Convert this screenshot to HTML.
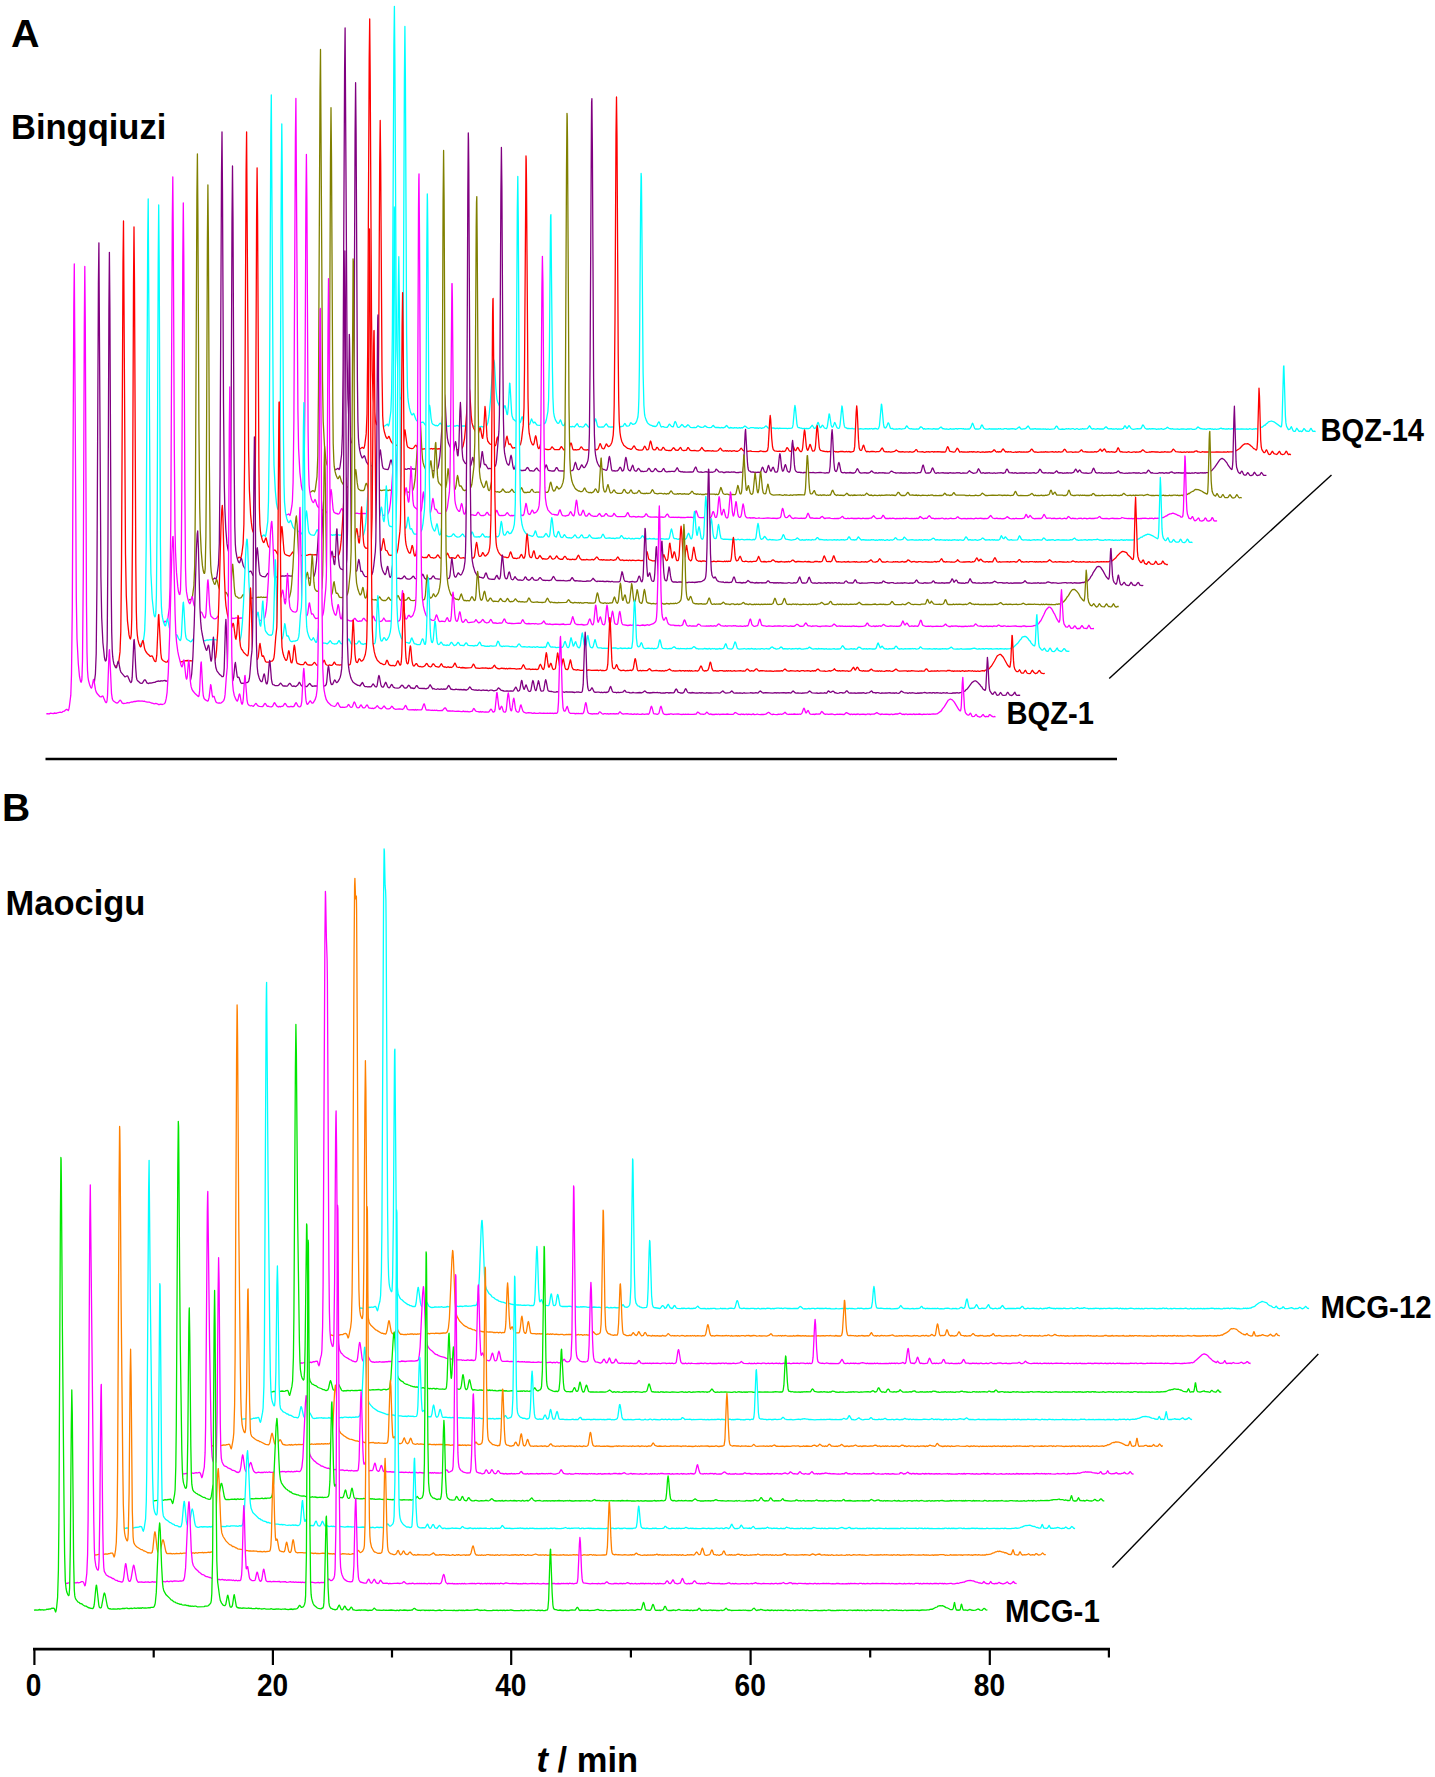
<!DOCTYPE html>
<html><head><meta charset="utf-8"><style>
html,body{margin:0;padding:0;background:#fff;}
body{width:1435px;height:1777px;overflow:hidden;position:relative;}
svg{position:absolute;left:0;top:0;}
text{font-family:"Liberation Sans",sans-serif;font-weight:bold;fill:#000;}
</style></head><body>
<svg width="1435" height="1777" viewBox="0 0 1435 1777">
<g fill="none" stroke-width="1.3" stroke-linejoin="round">
<defs><path id="a13" d="M366.4 428.7 367.4 428.2 368.4 428.7 370.4 428.1 372.4 428.5 373.4 428.1 374.4 428.2 379.4 427.8 380.4 427.0 381.4 427.3 382.4 427.0 383.4 426.2 384.4 426.2 387.1 424.2 387.4 424.2 388.4 425.9 388.9 424.9 389.4 422.4 390.9 411.0 391.6 391.8 392.4 329.3 393.9 45.1 394.4 6.3 394.9 62.9 396.1 294.3 396.9 349.4 397.9 374.7 399.1 390.1 400.1 396.9 400.9 399.3 401.1 399.5 401.4 399.4 401.6 398.9 402.1 395.0 402.6 380.4 403.4 301.8 404.4 78.2 404.9 26.4 405.4 78.7 406.6 333.9 407.4 387.0 407.9 397.4 408.4 402.1 409.4 407.9 410.6 412.3 411.4 414.3 411.9 414.8 412.4 414.8 413.4 413.4 413.9 413.7 415.9 419.5 416.6 420.5 418.4 422.1 420.4 422.9 422.4 422.1 422.9 422.1 423.4 422.4 425.4 425.2 426.1 425.3 426.9 425.0 427.6 422.6 429.1 407.1 429.4 405.6 429.6 405.3 430.1 408.2 431.1 418.5 431.9 422.7 432.6 424.0 435.4 425.6 436.4 425.4 437.4 425.9 437.6 425.8 438.4 425.2 439.9 423.4 440.4 423.2 442.4 425.8 444.4 426.3 445.4 426.1 446.4 426.3 447.4 426.0 448.4 426.3 449.4 425.8 450.4 425.9 451.4 425.7 452.4 426.0 453.4 425.8 455.4 426.1 456.4 425.6 457.4 425.5 458.4 426.0 460.4 426.1 461.4 425.7 462.4 426.2 463.4 425.9 464.4 426.0 465.4 425.9 467.4 426.3 468.4 425.8 470.4 426.3 473.4 426.0 474.4 426.7 475.4 426.8 476.4 426.3 480.4 426.9 481.4 426.4 482.4 426.8 486.4 426.2 487.1 424.9 487.9 422.6 489.1 415.2 490.4 401.3 492.6 368.7 493.4 361.9 493.9 360.1 494.4 362.8 495.9 388.8 496.9 398.8 497.6 401.7 498.9 404.8 501.9 409.8 502.6 410.4 503.1 410.2 504.4 406.4 504.9 405.6 505.4 406.6 506.9 414.1 507.1 414.6 507.4 414.6 507.6 414.0 508.4 406.2 509.6 383.1 509.9 383.4 510.1 386.3 511.6 412.6 512.1 416.1 513.4 419.4 514.4 420.0 515.4 421.0 517.4 421.9 518.4 422.6 519.4 422.4 520.1 422.6 520.6 421.8 521.6 417.8 522.1 416.7 522.6 417.6 524.1 423.1 525.4 424.4 526.4 424.1 527.4 424.8 528.9 424.7 529.9 423.9 531.4 419.1 531.6 418.9 533.4 422.9 533.9 422.8 534.4 422.1 534.9 422.1 536.6 424.6 537.4 425.1 540.4 425.3 541.4 424.6 542.4 425.0 543.4 424.6 544.4 423.4 545.4 422.9 546.4 419.5 547.9 411.5 548.6 400.3 549.4 353.0 550.4 232.7 550.6 216.4 550.9 214.6 552.4 367.9 552.9 397.2 553.6 412.4 554.4 416.8 555.4 419.9 557.1 422.7 558.1 423.4 558.9 423.0 560.4 419.9 560.9 420.6 562.1 424.3 563.1 425.5 563.6 425.5 564.1 425.2 565.9 421.4 566.4 421.8 567.6 425.1 568.6 426.3 571.4 426.8 572.4 426.3 574.4 427.0 577.1 423.7 577.4 423.8 578.6 426.1 579.4 426.9 580.4 426.5 582.4 427.1 583.4 426.9 584.1 426.2 585.4 424.2 585.9 423.9 588.4 427.0 591.4 427.1 592.9 426.5 593.6 425.5 595.1 419.6 595.4 419.0 595.6 418.9 596.1 420.2 597.4 425.6 597.9 426.6 598.6 427.0 600.4 427.1 602.4 426.8 603.4 427.0 604.1 426.4 606.1 423.8 606.4 423.9 608.4 426.9 609.4 426.9 610.4 427.2 611.4 426.9 612.4 427.2 613.4 426.7 614.6 427.0 615.4 426.3 616.6 424.1 617.1 423.8 617.6 424.3 618.6 426.2 619.4 427.0 623.1 426.1 624.6 423.5 625.1 423.7 626.4 425.8 627.1 426.1 628.9 425.8 629.4 425.5 630.4 423.1 630.9 422.7 632.9 424.4 633.9 424.2 635.4 423.4 636.6 421.4 637.9 417.0 638.4 411.8 638.9 397.9 639.4 366.4 640.6 207.6 641.1 173.4 641.4 177.6 641.6 195.3 643.1 372.5 643.9 405.2 644.6 414.5 645.1 416.9 646.1 419.9 647.4 422.6 648.4 423.8 650.4 425.2 651.4 425.3 652.4 426.0 655.4 426.5 656.1 426.2 656.9 425.5 658.1 422.8 658.9 421.8 659.4 422.4 660.6 425.9 661.4 427.0 662.4 426.7 663.4 426.7 664.4 427.2 667.1 427.3 667.9 426.5 669.1 424.4 669.6 424.2 671.4 426.4 672.9 426.9 673.4 426.5 674.6 422.4 675.1 421.5 675.9 422.5 677.4 426.7 677.9 427.2 678.6 427.4 679.6 427.1 681.9 424.5 682.6 425.0 683.9 426.6 684.6 427.0 685.9 426.8 687.9 424.7 688.6 425.2 690.4 427.3 692.4 427.6 694.4 427.4 695.4 427.7 696.4 427.4 697.4 426.1 698.1 425.8 699.9 427.0 701.4 427.4 703.4 427.2 704.6 426.0 705.1 425.9 707.4 427.4 709.4 427.7 711.4 427.4 712.6 425.8 713.1 425.5 713.4 425.5 714.6 427.0 715.4 427.5 718.4 427.5 720.4 427.9 721.4 427.5 723.4 427.9 725.4 426.9 726.4 425.5 727.1 425.9 728.4 427.7 729.4 428.1 730.4 427.5 733.4 428.1 734.4 427.6 735.4 427.8 736.4 427.7 737.4 428.1 738.4 428.0 739.4 427.6 740.4 428.2 741.4 427.7 742.4 428.0 744.9 426.0 746.4 427.0 747.4 428.0 748.4 428.3 749.4 428.3 750.4 427.7 753.4 427.7 754.4 428.0 757.4 427.8 758.4 428.3 759.4 427.9 760.4 427.8 761.4 428.4 762.4 428.0 763.9 427.7 765.6 426.1 766.1 425.9 767.9 427.8 768.6 428.1 773.4 428.0 775.4 428.5 777.4 428.2 778.4 428.6 779.4 428.1 781.4 428.4 783.4 428.3 786.4 428.3 787.4 428.6 788.4 428.3 789.4 428.4 791.6 428.1 792.1 427.9 792.6 427.0 793.1 424.4 794.4 409.1 794.9 405.5 795.4 407.7 796.9 423.8 797.4 426.2 797.9 427.3 798.4 427.6 799.4 427.6 800.4 428.2 801.4 428.1 802.4 428.6 804.4 428.5 805.4 428.7 806.4 428.3 808.4 428.7 809.9 428.1 812.1 425.3 812.6 425.7 814.1 428.3 814.6 428.5 815.6 427.9 816.1 427.3 817.9 422.4 818.4 422.7 819.4 426.1 820.1 427.6 820.4 427.7 820.9 427.4 822.4 425.2 822.9 425.5 824.4 428.0 826.4 428.6 826.9 427.9 827.4 426.2 829.1 413.9 829.4 414.0 829.6 414.8 831.1 424.9 831.9 426.9 832.6 427.2 833.1 426.6 834.6 422.5 835.1 423.0 836.9 427.5 837.6 428.1 838.6 428.4 839.1 428.2 839.6 427.2 840.1 424.6 841.9 406.0 842.1 406.3 842.4 408.0 843.9 423.7 844.4 426.2 844.9 427.3 845.4 427.7 846.4 427.9 847.4 428.6 848.4 428.3 850.4 428.7 852.4 428.4 853.4 428.8 855.4 428.8 856.4 428.4 858.4 429.0 859.4 429.0 860.4 428.6 863.4 429.1 865.4 428.6 868.4 429.0 869.4 428.6 870.4 428.8 871.4 428.5 872.4 429.0 875.4 428.5 876.4 428.6 877.4 429.1 878.1 428.8 878.6 428.4 879.4 425.9 881.4 404.1 881.6 404.3 881.9 406.0 883.4 423.4 883.9 426.3 884.4 427.7 885.4 428.0 886.1 427.4 886.9 426.0 887.9 423.2 888.1 422.8 888.4 422.9 888.9 423.6 890.4 428.2 891.1 428.6 892.4 428.4 893.4 429.1 895.4 429.1 896.4 428.8 897.4 429.1 899.4 428.7 901.4 429.1 902.4 428.8 904.1 428.7 905.1 428.3 906.6 425.9 907.1 426.1 908.4 428.0 908.9 428.3 910.4 428.8 911.4 428.7 912.4 429.0 915.4 429.1 916.4 428.8 918.4 429.1 919.4 428.4 920.4 427.0 920.9 426.7 922.4 427.8 923.4 429.1 924.4 428.7 925.4 429.2 928.4 428.6 929.4 428.9 930.4 428.8 932.4 429.2 933.4 428.7 935.4 429.0 937.4 428.8 938.4 429.1 940.9 427.1 941.4 427.2 942.4 428.5 945.4 429.2 946.4 428.9 948.4 429.3 949.4 429.2 950.4 428.6 951.4 429.1 953.4 428.8 954.4 429.1 955.4 428.7 956.4 428.7 957.4 429.2 958.4 428.7 961.4 428.7 962.4 428.9 963.4 428.6 964.4 429.2 965.4 429.0 966.4 429.2 968.4 428.8 969.4 429.0 970.1 428.4 970.9 427.2 972.4 423.2 972.9 423.6 974.6 428.3 975.4 429.1 976.4 428.9 978.4 429.1 979.9 428.6 980.4 428.1 981.4 425.4 981.9 424.9 982.4 425.3 983.6 428.0 985.6 429.2 988.4 429.2 989.4 428.7 990.4 429.0 996.4 428.8 997.4 429.2 998.4 428.6 999.4 429.0 1000.4 428.6 1001.4 429.2 1002.4 429.1 1003.4 429.2 1004.4 428.7 1006.4 428.7 1007.4 429.2 1008.4 428.9 1009.4 429.0 1012.4 428.6 1014.4 428.8 1015.4 429.3 1017.1 428.6 1019.1 427.0 1019.4 427.0 1020.9 428.9 1021.4 429.2 1022.4 429.2 1023.4 428.8 1024.4 428.9 1025.9 428.3 1028.1 426.0 1028.6 426.5 1029.6 428.3 1030.4 429.1 1032.4 428.9 1033.4 429.0 1035.4 428.7 1036.4 429.2 1037.4 428.8 1038.4 429.0 1040.4 428.8 1041.4 429.1 1043.4 428.8 1044.4 429.1 1045.4 428.9 1046.4 429.3 1048.4 429.0 1049.4 429.3 1054.1 428.9 1054.9 428.3 1056.1 426.3 1056.6 426.1 1057.4 426.7 1058.4 428.8 1060.4 429.3 1062.4 429.0 1064.4 429.3 1066.4 428.7 1067.4 429.0 1068.4 428.6 1070.4 429.2 1071.4 428.8 1072.4 428.7 1073.4 428.7 1074.4 429.3 1075.4 429.3 1076.4 428.7 1077.4 428.7 1078.4 429.3 1079.4 429.3 1080.4 429.0 1081.4 429.2 1082.4 428.6 1083.4 429.0 1085.4 428.9 1087.4 428.6 1089.4 425.8 1089.9 426.2 1091.1 428.2 1092.4 429.2 1093.4 428.7 1095.4 429.2 1096.4 429.2 1097.4 428.7 1099.4 429.0 1101.4 428.8 1103.4 429.0 1104.1 428.5 1105.6 427.0 1106.1 426.8 1107.6 428.3 1108.6 428.8 1111.4 428.7 1112.4 429.1 1113.4 428.9 1114.4 429.2 1116.4 428.7 1117.4 429.3 1118.4 428.8 1121.4 429.2 1122.4 428.6 1123.4 428.5 1124.4 426.2 1124.9 425.8 1125.4 426.1 1126.6 428.1 1127.1 428.3 1128.9 425.7 1129.4 425.9 1131.1 428.5 1132.4 429.2 1133.4 429.3 1137.4 428.7 1139.4 428.9 1140.9 428.5 1141.4 428.1 1142.4 425.5 1142.9 424.9 1143.4 425.3 1145.1 428.3 1146.4 429.0 1147.4 428.8 1148.4 429.2 1149.4 428.7 1150.4 429.0 1152.4 428.7 1155.4 428.9 1156.4 429.3 1158.4 428.8 1159.4 429.2 1161.4 428.7 1162.4 429.2 1163.4 429.3 1166.1 428.3 1167.4 427.2 1168.9 428.3 1171.4 429.0 1172.4 428.7 1173.4 429.1 1176.4 429.2 1177.4 429.0 1179.4 429.3 1181.4 428.8 1182.4 429.0 1183.4 428.8 1186.4 429.3 1187.4 428.9 1189.4 429.0 1190.4 428.8 1191.4 428.9 1192.4 429.3 1194.4 429.3 1196.1 428.9 1197.6 427.2 1198.1 426.9 1200.1 428.5 1203.4 429.2 1204.4 428.8 1206.4 429.3 1207.4 428.9 1210.4 428.7 1211.4 429.1 1212.4 428.9 1213.4 429.3 1215.4 429.0 1216.4 429.3 1217.4 429.1 1218.4 429.2 1221.1 428.1 1222.4 428.9 1223.4 428.6 1225.4 429.2 1226.4 428.8 1227.4 429.1 1228.4 428.7 1230.4 429.1 1232.4 428.7 1233.4 429.2 1235.4 429.3 1237.4 428.8 1239.4 429.1 1241.4 428.8 1245.4 429.2 1246.4 429.0 1248.4 429.3 1249.4 428.7 1252.4 429.3 1253.4 428.9 1254.4 429.1 1255.4 428.6 1257.4 429.0 1259.4 428.3 1261.4 427.2 1262.4 427.0 1264.4 425.2 1265.4 425.0 1266.4 423.6 1267.4 423.1 1268.4 421.9 1271.4 421.0 1273.9 421.8 1280.9 426.9 1281.4 426.6 1281.6 425.7 1282.1 420.2 1283.4 372.8 1283.6 366.2 1283.9 365.9 1285.4 415.9 1285.9 422.9 1286.6 426.4 1288.4 429.6 1288.6 429.6 1289.9 429.2 1290.9 427.2 1291.4 426.7 1293.1 430.7 1294.1 431.4 1294.9 431.4 1295.4 431.0 1296.4 428.7 1296.9 428.3 1299.1 431.4 1299.4 431.5 1300.4 431.0 1301.4 431.6 1302.4 431.1 1303.9 428.5 1304.4 428.8 1306.1 431.0 1308.6 431.3 1309.4 431.0 1310.6 428.5 1311.1 428.3 1312.4 430.8 1312.9 431.3 1313.4 431.4 1314.4 431.1 1315.6 431.6"/></defs><use href="#a13" fill="#fff" stroke="none"/><use href="#a13" fill="none" stroke="#00ffff"/>
<defs><path id="a12" d="M341.7 451.4 343.7 451.8 344.7 451.1 345.7 451.6 346.7 451.5 347.7 450.9 348.7 451.4 349.7 451.4 350.7 451.2 351.7 450.6 352.7 451.1 353.7 450.6 354.7 450.2 355.7 450.2 356.7 449.7 357.7 450.0 358.7 449.8 362.0 447.5 362.5 447.5 363.5 448.3 364.0 448.2 364.7 445.3 366.2 433.9 367.0 414.1 367.7 349.8 369.2 58.8 369.7 19.0 370.2 77.3 371.5 314.7 372.2 371.1 373.2 397.4 374.5 413.5 375.2 419.4 376.2 423.9 376.7 424.7 377.2 423.6 377.7 417.5 378.0 410.0 378.7 346.1 379.7 162.7 380.2 120.5 380.7 163.7 382.0 372.6 382.7 416.2 383.2 424.8 383.7 428.7 384.5 432.3 385.7 436.4 386.5 437.9 387.2 438.5 387.7 438.2 388.7 436.3 389.0 436.3 391.2 441.7 392.7 443.6 393.7 444.2 394.7 445.3 395.7 445.6 396.7 445.1 398.2 445.3 401.5 448.2 402.0 448.3 402.5 447.8 403.2 444.2 404.5 431.5 404.7 430.1 405.0 429.9 407.0 445.1 407.7 447.0 409.7 448.1 411.7 448.7 413.0 448.4 414.0 447.4 415.2 445.5 415.7 445.2 416.2 445.6 418.0 448.4 419.7 449.0 421.7 448.9 422.7 449.2 425.7 448.7 426.7 449.1 427.7 449.1 429.7 448.6 430.7 448.8 431.7 448.5 432.7 449.1 433.7 448.6 434.7 448.6 436.7 448.7 437.7 449.2 438.7 448.6 440.7 448.8 441.7 449.1 442.7 448.8 444.7 449.3 445.7 449.0 448.7 449.1 451.7 449.8 452.7 449.5 453.7 449.8 455.7 449.9 456.7 449.5 457.7 449.8 458.7 449.5 459.7 450.0 461.2 449.0 462.2 448.0 463.0 446.3 464.5 438.6 465.5 428.3 468.0 395.0 468.7 389.0 469.2 387.7 469.7 391.0 471.2 415.6 472.0 422.9 473.2 427.2 475.7 432.1 476.7 432.9 477.7 434.3 478.0 434.2 478.7 432.6 479.7 428.3 480.0 427.7 480.2 427.7 480.7 429.3 482.0 436.8 482.5 438.4 482.7 438.4 483.5 432.9 485.0 406.5 485.5 410.6 487.0 436.9 487.7 441.0 489.7 443.8 493.7 446.0 495.5 445.5 496.0 444.1 497.0 438.2 497.5 437.0 498.0 438.5 499.0 444.3 499.7 446.6 501.7 447.4 504.2 447.5 504.7 446.9 505.2 445.2 506.5 437.4 507.0 436.2 508.7 443.9 509.2 444.5 510.0 443.9 510.5 444.0 512.0 447.2 512.7 448.0 513.7 447.9 514.7 447.6 515.7 447.9 516.7 447.7 519.5 445.7 520.5 444.3 521.5 439.9 523.2 425.4 524.0 408.0 524.5 369.3 526.0 156.0 526.2 159.6 526.5 182.3 528.0 397.7 528.7 427.5 529.2 433.2 530.7 440.7 532.2 444.2 533.0 444.9 533.5 444.8 534.2 442.7 535.2 436.9 535.7 435.8 536.2 437.2 537.5 445.7 538.0 447.6 538.5 448.5 539.0 448.5 539.5 447.9 540.7 443.5 541.2 443.0 543.0 447.6 543.7 448.8 544.5 449.0 545.7 449.1 546.7 449.5 548.7 449.7 550.5 449.2 551.7 447.0 552.2 446.8 554.0 449.1 554.7 449.7 559.0 449.6 559.7 449.1 561.0 446.9 561.5 446.7 563.7 449.8 564.7 449.6 565.7 449.9 566.7 449.8 567.7 450.2 568.5 449.6 569.0 448.7 570.5 443.5 571.0 443.0 571.5 443.9 572.7 448.9 573.2 449.6 573.7 449.9 575.7 449.6 576.7 450.0 577.7 449.6 579.0 449.6 579.7 449.0 580.7 447.2 581.2 446.9 581.7 447.2 583.2 449.3 584.2 449.9 586.7 450.0 587.7 449.6 588.7 450.2 589.5 450.1 590.2 449.4 592.0 446.1 592.5 445.8 594.2 449.0 594.7 449.3 595.7 449.3 596.7 449.8 597.5 449.5 598.2 448.6 600.0 443.6 600.5 444.0 602.0 448.0 602.5 448.5 603.5 448.9 604.0 448.7 604.5 448.0 606.2 444.0 606.7 444.1 607.7 445.9 608.5 446.6 609.5 446.2 610.7 444.8 611.7 442.8 612.2 441.1 613.2 435.1 613.7 426.4 614.2 404.4 615.0 319.1 616.0 134.1 616.5 96.9 617.0 137.5 618.2 353.6 618.7 400.0 619.2 421.2 620.0 432.5 620.7 437.1 621.7 441.2 623.7 445.3 627.7 448.4 629.7 448.8 630.7 449.4 631.0 449.4 632.2 448.5 633.5 446.3 634.0 445.9 634.5 446.2 635.5 448.1 636.5 449.4 638.7 450.0 641.7 450.2 642.5 449.9 643.0 449.4 644.2 446.7 644.7 446.2 645.2 446.7 646.7 449.8 647.2 449.9 648.0 449.7 648.7 448.8 650.0 442.4 650.5 441.0 651.0 441.9 652.5 448.4 653.2 449.5 654.5 449.8 655.2 449.8 655.7 449.5 656.7 447.4 657.0 447.3 657.5 447.5 659.0 449.8 661.0 450.1 661.7 449.6 662.7 447.7 663.2 447.3 663.7 447.7 665.2 449.8 666.7 450.4 667.7 450.4 668.7 450.7 669.7 450.3 670.7 450.6 671.5 450.1 673.0 448.1 673.5 447.7 674.0 448.0 675.5 450.0 677.7 450.4 678.5 449.9 680.0 447.8 680.5 447.5 680.7 447.5 682.0 450.0 683.7 450.7 686.5 450.1 687.7 447.7 688.0 447.6 688.5 447.9 690.0 450.1 691.2 450.6 692.7 450.7 694.7 450.4 696.7 450.8 698.7 450.8 700.2 449.9 701.7 447.5 702.2 447.8 703.2 449.5 704.0 450.3 704.7 450.8 705.7 451.0 707.7 450.7 710.7 450.8 711.7 451.1 712.7 450.6 713.7 451.1 716.7 451.1 718.2 450.5 720.0 448.3 720.5 448.1 722.2 450.5 723.7 451.2 725.7 450.7 726.7 451.2 727.7 450.7 728.7 451.3 729.7 450.7 730.7 450.8 731.7 451.3 732.7 450.9 734.7 450.7 735.7 451.3 736.7 451.2 737.7 451.3 739.5 450.3 740.7 448.5 741.2 448.2 743.0 450.4 744.7 451.2 745.7 450.9 747.7 451.4 750.7 450.9 751.7 451.3 758.7 451.6 760.7 450.9 762.7 451.5 765.7 451.6 767.5 450.6 768.2 446.9 769.7 420.5 770.2 415.5 770.7 419.7 771.7 438.1 772.5 446.5 773.2 449.4 773.7 450.1 774.7 450.9 777.7 451.4 779.7 451.2 781.7 451.6 782.7 451.1 783.7 451.5 784.5 451.4 785.5 450.7 786.7 448.0 787.2 447.6 788.0 448.5 789.2 450.7 790.0 451.3 790.7 451.3 791.5 450.6 792.7 447.1 793.2 446.5 793.7 447.2 794.7 449.9 795.2 450.5 795.7 450.5 796.2 450.0 797.2 447.9 797.7 447.4 798.2 447.9 799.2 450.0 800.2 451.3 800.7 451.7 801.5 451.5 802.2 450.2 802.7 447.5 804.0 433.2 804.5 429.9 805.0 432.0 806.2 445.3 806.7 448.3 807.2 449.8 807.7 450.3 808.2 449.8 810.0 444.3 810.5 445.0 812.2 450.4 812.7 451.1 814.2 450.9 815.0 449.3 815.5 446.0 816.7 429.1 817.2 425.7 817.7 428.9 819.2 446.8 819.7 449.2 820.5 450.4 822.5 451.0 825.7 451.6 826.7 451.3 827.7 451.9 829.7 451.4 830.7 451.9 831.7 451.4 833.7 451.4 834.7 451.4 835.7 452.0 836.7 451.7 837.7 452.0 840.7 451.4 842.7 451.5 844.7 451.9 846.7 451.5 847.7 451.9 848.7 451.5 850.7 452.0 851.7 451.8 853.5 451.3 854.0 450.7 854.7 446.4 856.2 412.0 856.7 405.9 857.2 410.7 858.5 439.9 859.2 448.0 860.0 450.1 861.0 450.4 861.5 450.2 862.0 449.3 863.2 445.4 863.5 445.1 863.7 445.1 865.2 450.0 866.0 451.2 866.7 451.9 867.7 451.4 869.7 451.9 870.7 451.5 872.7 451.5 874.7 451.7 875.7 452.0 876.7 451.6 879.2 451.5 880.2 450.8 881.5 448.6 882.2 448.0 882.7 448.6 884.0 451.3 885.7 451.9 886.7 451.7 887.7 452.0 888.7 451.7 890.7 452.1 893.5 451.6 894.5 451.4 896.2 450.0 898.7 451.8 899.7 451.6 900.7 452.0 902.7 451.7 904.7 452.2 905.7 451.8 907.7 451.8 908.7 452.2 909.7 451.6 911.7 452.2 912.7 452.2 914.5 451.3 915.7 449.9 916.2 449.6 916.7 449.8 917.7 451.6 918.0 451.7 920.7 451.9 922.7 451.6 923.7 452.2 924.7 452.3 926.7 451.6 927.7 451.8 928.7 451.6 929.7 452.1 931.7 451.7 932.7 451.7 933.7 452.1 934.7 451.6 935.7 451.9 937.7 451.6 941.7 452.0 943.7 451.9 944.7 452.1 945.7 451.6 947.2 447.4 947.7 446.7 948.2 447.2 949.5 450.7 950.0 451.4 953.7 452.1 954.7 451.9 955.2 451.5 957.2 448.2 958.0 448.9 959.7 452.1 961.7 451.7 962.7 452.1 963.7 451.9 966.7 452.2 967.7 451.8 968.7 452.2 969.7 451.7 970.7 451.8 971.7 451.6 972.7 452.1 973.7 451.6 975.7 452.2 976.7 452.2 977.7 451.7 980.7 452.3 981.7 452.0 983.7 452.0 984.7 452.3 985.7 451.8 987.7 452.0 989.7 451.6 990.7 452.2 992.7 451.3 994.0 449.8 994.5 449.9 995.7 451.5 996.5 452.0 996.7 452.1 997.7 451.7 998.7 452.2 999.7 451.7 1000.7 452.0 1001.0 451.8 1002.7 449.2 1003.2 449.0 1005.5 451.8 1005.7 452.0 1006.7 451.7 1007.7 452.1 1008.7 451.7 1009.7 452.0 1010.7 451.7 1011.7 452.1 1013.7 452.3 1014.7 452.2 1015.7 451.8 1016.7 452.3 1017.7 451.9 1018.7 452.0 1019.7 451.6 1020.7 452.2 1021.7 451.9 1022.7 452.1 1023.7 451.9 1025.7 452.1 1026.7 451.8 1027.7 452.2 1030.0 451.1 1031.2 449.4 1031.7 449.2 1032.2 449.4 1033.5 451.3 1034.7 452.2 1035.7 451.9 1037.7 452.3 1041.7 451.8 1042.7 452.1 1043.7 451.8 1044.7 452.2 1045.7 451.7 1046.7 452.1 1047.7 451.9 1048.7 452.1 1052.7 451.7 1053.7 452.1 1054.7 452.1 1055.7 451.7 1056.7 452.1 1057.7 452.2 1058.7 451.7 1060.7 452.2 1062.7 451.6 1063.7 450.0 1064.5 449.2 1065.2 449.6 1066.7 451.8 1067.7 452.2 1070.7 451.9 1071.7 451.9 1072.7 452.3 1075.7 451.9 1076.7 452.2 1078.5 452.1 1079.7 451.5 1081.2 449.9 1081.7 450.0 1083.0 451.6 1084.7 451.8 1085.7 451.7 1086.7 452.2 1087.7 451.8 1088.7 452.2 1091.7 451.8 1093.7 452.1 1094.7 451.7 1096.7 452.0 1098.5 451.2 1100.0 449.4 1100.5 449.1 1101.7 451.1 1102.2 451.2 1104.2 448.9 1104.7 449.2 1106.0 451.4 1106.7 452.0 1108.7 451.7 1109.7 452.1 1111.7 451.7 1112.7 452.1 1113.7 452.0 1114.7 452.3 1116.5 451.4 1117.7 448.2 1118.2 447.8 1118.7 448.4 1119.7 450.9 1120.2 451.6 1120.7 451.9 1121.7 451.7 1122.7 452.2 1123.7 452.2 1125.7 452.1 1126.7 452.3 1128.7 451.7 1129.7 452.1 1131.7 452.3 1133.7 451.8 1134.7 451.8 1135.7 452.3 1136.7 451.9 1137.7 452.2 1138.7 452.1 1139.7 451.6 1140.7 451.8 1142.7 449.8 1143.2 450.0 1145.2 451.9 1146.7 452.3 1148.7 452.2 1149.7 451.8 1150.7 452.2 1151.7 451.7 1155.7 452.0 1157.7 451.8 1159.7 452.3 1161.7 452.0 1163.7 452.2 1164.7 451.7 1166.7 452.2 1167.7 451.8 1169.7 452.1 1171.5 451.6 1173.0 449.3 1173.5 449.1 1175.7 451.7 1179.7 452.2 1180.7 451.8 1181.7 452.3 1184.7 452.0 1185.7 452.3 1186.7 451.9 1187.7 451.9 1188.7 452.3 1189.7 451.8 1190.7 452.1 1191.7 451.9 1193.7 452.1 1194.7 451.4 1196.5 450.8 1196.7 450.8 1197.7 451.9 1198.7 451.8 1200.0 452.2 1200.7 452.3 1202.7 451.7 1203.7 452.0 1208.7 451.8 1209.7 452.1 1214.7 452.1 1216.7 451.9 1222.7 452.1 1223.7 451.9 1226.7 452.1 1227.7 451.7 1228.7 452.1 1229.7 451.8 1232.7 451.8 1233.7 451.2 1235.7 451.0 1239.7 448.5 1242.7 445.3 1244.7 443.9 1246.7 443.9 1247.7 443.6 1249.7 444.7 1250.7 445.8 1251.7 446.4 1253.7 448.6 1254.7 448.9 1255.7 449.9 1256.2 450.0 1256.7 449.4 1257.0 448.4 1257.5 441.9 1259.0 388.1 1259.5 396.7 1260.7 440.0 1261.2 446.3 1261.7 448.9 1262.2 450.2 1263.5 452.2 1264.2 452.7 1265.0 452.3 1266.2 450.0 1266.7 449.9 1268.5 454.0 1269.2 454.5 1270.0 454.4 1270.5 454.1 1272.2 451.3 1272.7 451.6 1274.0 453.7 1276.7 454.5 1277.5 453.8 1279.0 451.7 1279.5 451.4 1279.7 451.5 1280.7 453.8 1281.2 454.2 1282.7 454.6 1284.5 454.0 1286.2 451.2 1286.7 451.5 1287.7 453.7 1288.5 454.5 1288.7 454.7 1289.7 454.2 1290.7 454.6 1291.0 454.5"/></defs><use href="#a12" fill="#fff" stroke="none"/><use href="#a12" fill="none" stroke="#ff0000"/>
<defs><path id="a11" d="M317.1 472.6 318.1 472.2 320.1 472.6 323.1 471.9 324.1 472.1 326.1 471.8 327.1 472.2 328.1 471.6 329.1 471.3 330.1 471.5 333.1 470.7 335.1 469.5 336.1 469.5 337.6 468.4 338.1 468.5 339.1 469.5 339.6 468.6 340.1 466.2 341.6 454.5 342.4 434.3 343.1 368.1 344.6 68.9 345.1 28.0 347.1 358.1 347.9 399.0 349.1 424.1 350.6 438.6 351.1 441.4 351.9 442.9 352.4 442.5 352.9 438.9 353.4 425.0 354.1 349.2 355.1 132.7 355.6 82.7 356.1 133.5 357.4 380.2 357.9 421.3 358.4 437.6 358.9 444.2 359.6 449.6 360.6 454.2 361.9 457.5 362.1 457.9 362.6 457.9 363.9 456.1 364.4 455.8 364.9 456.8 366.4 461.8 368.1 464.4 370.1 465.5 371.4 465.9 373.4 465.5 373.9 465.6 375.9 468.1 376.9 469.0 377.1 469.1 377.6 468.7 378.4 466.3 379.9 451.5 380.1 450.0 380.4 449.9 382.4 465.8 383.1 468.1 384.1 468.8 386.1 469.4 388.1 469.5 388.9 467.6 390.6 460.5 391.1 459.9 391.6 461.1 393.1 467.8 393.6 468.8 395.1 470.0 397.1 469.3 400.1 469.4 402.1 469.0 403.1 469.5 405.1 468.8 406.1 469.3 407.1 469.1 408.1 468.6 409.1 468.6 410.1 469.1 412.1 468.7 413.1 469.1 415.1 468.8 416.1 469.3 417.1 468.8 419.1 469.1 420.1 469.7 422.1 469.7 423.1 469.4 424.1 470.1 425.1 469.6 427.1 470.4 428.1 470.1 430.1 470.6 431.1 470.3 433.1 470.8 436.1 470.2 437.1 469.6 437.9 468.0 438.6 465.3 439.9 456.1 440.9 443.6 443.4 402.7 444.1 395.8 444.4 394.9 444.6 394.8 445.1 400.0 446.6 429.6 447.4 438.1 448.4 443.1 450.1 447.0 451.1 448.5 452.4 451.1 453.1 451.7 453.6 451.2 454.1 449.3 455.1 442.6 455.4 441.7 455.6 441.7 456.1 444.0 457.4 454.7 457.9 455.9 458.1 455.3 458.9 445.2 459.9 411.0 460.4 402.5 460.9 411.5 462.1 449.8 462.6 456.5 463.1 459.5 463.6 460.7 465.1 463.2 466.1 463.7 467.4 464.9 468.1 465.3 469.1 465.4 470.1 466.2 470.6 465.8 471.1 464.6 472.4 458.3 472.6 457.5 472.9 457.4 474.4 465.0 475.1 467.2 479.1 468.5 479.4 468.4 479.9 467.8 480.4 466.0 481.9 453.0 482.1 451.7 482.4 451.7 484.1 463.9 484.6 464.6 485.1 464.3 485.6 464.4 488.1 468.8 489.1 468.4 491.1 468.7 492.1 468.0 493.1 467.7 494.1 466.8 494.9 466.4 495.6 465.3 496.1 463.4 496.6 459.7 498.9 431.4 499.4 415.3 499.9 370.2 500.9 192.4 501.4 147.5 501.9 187.8 502.9 366.3 503.4 418.6 504.1 447.6 504.6 453.2 505.9 459.6 507.1 463.6 508.4 465.1 508.9 465.0 509.6 462.7 510.6 456.4 511.1 455.3 511.6 457.2 512.9 466.1 513.4 468.1 513.9 469.1 514.1 469.2 514.6 468.6 516.1 462.9 516.6 462.2 517.1 463.4 518.1 467.7 518.9 469.3 521.1 470.5 522.1 470.4 523.1 470.7 524.1 470.2 525.1 470.4 525.4 470.2 527.1 467.7 527.6 467.5 528.1 467.9 529.4 470.3 530.1 470.9 531.1 470.7 533.1 471.1 534.1 470.9 535.1 469.5 536.6 468.0 537.1 468.3 538.4 470.3 539.1 470.8 540.1 471.1 541.1 470.7 543.1 470.7 543.9 470.2 544.4 469.5 546.1 464.8 546.6 465.5 547.9 469.5 548.4 470.3 548.9 470.5 551.1 470.8 552.1 471.1 553.1 470.8 554.1 471.0 554.9 470.2 556.1 467.9 556.6 467.6 557.1 467.9 558.4 470.3 559.1 470.9 564.6 471.0 565.4 470.5 566.9 467.8 567.6 467.0 568.1 467.5 569.9 470.6 570.4 470.8 571.9 470.6 572.9 470.1 573.4 469.3 574.9 463.4 575.4 462.3 576.1 463.9 577.1 468.1 577.6 469.1 578.1 469.5 578.9 469.6 579.4 469.2 581.6 464.9 582.1 465.1 583.4 467.3 583.9 467.7 584.4 467.6 585.1 466.9 587.1 463.1 587.9 460.6 588.4 457.5 588.9 450.7 589.4 433.9 590.1 361.8 591.4 126.7 591.6 102.2 591.9 98.7 592.4 151.5 593.6 377.8 594.4 434.6 595.1 450.8 595.6 455.2 596.6 460.2 597.6 463.3 598.9 465.7 601.1 468.0 603.1 469.3 604.1 469.5 606.1 470.3 606.6 470.1 607.1 469.4 607.9 465.8 608.9 458.0 609.4 456.4 609.9 458.1 611.4 468.7 611.9 470.2 612.1 470.6 612.6 470.8 614.1 470.6 615.1 471.1 616.1 470.8 617.4 470.8 618.6 469.7 619.6 467.7 620.1 467.2 620.9 468.0 622.1 470.9 622.6 471.0 623.1 470.7 623.6 470.0 624.1 468.1 625.4 458.9 625.9 457.3 626.4 459.2 627.9 468.5 628.6 470.0 630.1 471.0 630.9 469.7 631.9 466.7 632.6 465.2 633.1 465.8 634.1 469.7 634.6 470.5 635.6 471.1 636.4 471.1 637.1 470.3 638.1 468.5 638.6 468.3 641.1 471.6 642.1 471.2 643.1 471.6 646.6 471.1 647.1 470.8 648.4 468.6 648.9 468.3 649.4 468.7 650.9 471.2 651.9 471.7 652.9 471.5 653.6 471.0 655.1 468.6 655.4 468.5 655.9 468.8 657.4 470.9 658.4 471.5 660.1 471.7 661.6 471.3 663.4 468.5 663.9 468.7 665.1 471.1 666.1 471.8 667.1 471.8 669.1 471.4 670.1 471.6 671.1 471.4 673.1 471.4 674.1 471.7 675.6 470.4 677.1 467.7 677.6 468.2 679.1 471.3 680.1 471.4 681.1 472.0 682.1 471.5 683.1 472.1 684.1 471.8 686.1 472.2 691.1 471.9 692.1 472.1 692.9 471.9 693.4 471.5 694.9 468.1 695.6 467.0 696.1 467.5 697.4 471.1 697.9 471.7 699.1 472.1 700.1 472.2 701.1 471.9 702.1 472.3 704.1 472.2 706.1 471.7 707.1 472.1 708.1 471.9 710.1 472.3 711.1 472.0 712.1 472.4 714.9 471.5 716.1 469.1 716.4 469.1 718.9 471.8 720.1 472.2 721.1 471.9 722.1 471.8 723.1 472.5 725.1 472.5 726.1 471.9 727.1 472.2 728.1 472.0 730.1 472.4 731.1 472.0 732.1 472.2 734.1 471.9 736.1 472.6 739.1 472.5 740.1 472.0 741.1 472.3 741.9 472.2 742.4 471.9 742.9 471.1 743.6 466.0 745.1 433.7 745.4 430.3 745.6 429.5 747.4 461.7 747.9 467.2 748.4 469.8 748.9 470.7 749.4 471.1 750.1 471.1 751.1 472.2 753.1 471.9 754.1 472.5 755.1 472.2 756.1 472.5 756.9 472.4 758.1 472.1 760.1 472.3 760.9 471.2 762.1 467.8 762.6 467.3 763.1 467.9 764.4 471.7 765.6 472.4 766.1 472.5 766.9 470.9 768.1 466.1 768.6 465.4 770.1 470.1 770.6 471.0 770.9 471.2 771.4 470.8 772.6 467.6 773.1 467.1 773.6 467.9 775.1 471.9 775.6 472.1 776.9 472.1 777.6 471.1 778.1 468.7 779.4 456.0 779.9 453.6 780.4 456.0 781.6 467.7 782.4 470.8 782.9 471.2 783.6 470.3 784.9 465.5 785.4 464.6 785.9 465.6 787.4 471.1 788.6 472.0 789.4 472.1 790.1 470.8 790.6 467.7 792.1 443.9 792.6 440.5 793.1 445.1 794.4 464.9 795.1 469.8 795.9 471.2 797.1 472.1 798.1 472.4 799.1 472.2 800.1 472.5 801.1 472.4 803.1 473.0 804.1 472.3 812.1 472.7 813.1 472.4 815.1 472.8 820.1 472.4 822.1 472.7 824.1 472.8 825.1 473.1 827.1 472.6 828.1 473.0 828.9 472.7 829.4 471.8 830.1 466.5 831.6 434.3 832.1 429.7 832.6 435.5 833.9 462.5 834.6 469.3 835.1 470.7 835.6 471.3 836.1 471.5 836.6 471.1 837.4 468.9 838.4 463.5 838.9 462.4 839.4 463.7 840.9 471.3 841.6 472.4 843.1 472.9 844.1 472.5 845.1 472.6 846.1 473.1 847.1 472.7 848.1 472.8 850.1 472.5 852.1 473.0 854.1 473.0 855.4 472.2 856.9 469.3 857.4 468.8 857.9 469.3 859.4 472.3 861.1 473.1 865.1 472.6 866.1 473.0 867.1 472.8 868.1 473.1 870.1 472.3 871.4 471.0 871.9 471.1 873.4 472.5 875.1 473.1 876.1 472.6 877.1 473.2 878.1 473.2 879.1 472.7 881.1 472.9 883.1 472.7 884.1 473.0 885.1 472.8 886.1 473.1 888.6 473.2 889.1 473.1 890.9 471.4 891.6 471.1 893.6 472.3 895.1 472.6 896.1 473.2 897.1 472.8 899.1 472.8 900.1 473.2 901.1 472.7 902.1 473.2 903.1 472.9 904.1 473.0 906.1 472.8 907.1 473.1 908.1 473.1 909.1 472.7 910.1 473.1 911.1 472.8 914.1 472.6 915.1 473.2 917.1 473.1 918.1 472.6 920.1 472.7 920.9 472.0 921.6 470.1 922.6 465.8 923.1 465.0 923.6 466.1 924.9 471.1 925.6 472.7 926.4 473.2 928.1 472.9 929.4 473.0 930.4 472.5 931.1 471.4 932.1 468.5 932.6 468.0 933.1 468.7 934.6 472.3 935.1 472.9 936.1 473.3 937.1 472.8 938.1 472.7 939.1 473.1 943.1 472.7 944.1 473.1 945.1 472.9 946.1 473.2 947.1 472.8 948.1 473.3 949.1 472.8 950.1 472.7 952.1 473.2 953.1 473.0 955.1 473.2 957.1 472.7 958.1 472.8 959.1 472.6 961.1 473.3 962.1 473.2 963.1 472.8 965.1 473.2 966.1 473.2 967.1 473.1 969.4 470.8 971.4 472.4 972.1 472.6 973.1 473.3 975.9 472.9 976.6 472.5 977.1 471.9 978.1 469.2 978.6 468.8 980.6 472.4 981.1 473.0 981.6 473.1 982.1 473.2 983.1 472.6 985.1 473.3 986.1 472.8 988.1 473.0 989.1 472.7 990.1 473.2 992.1 473.1 993.1 473.3 994.1 472.7 995.1 473.3 996.1 473.1 997.1 473.2 998.1 472.8 999.1 472.9 1001.1 472.7 1002.1 472.8 1003.1 473.3 1004.1 472.8 1005.1 472.7 1006.1 470.2 1006.9 469.1 1007.4 469.3 1007.6 469.7 1009.1 472.6 1011.1 472.9 1012.1 472.7 1013.1 473.2 1014.1 473.2 1015.1 472.7 1016.1 472.8 1017.1 473.3 1020.1 472.8 1021.1 473.0 1023.1 472.9 1024.1 473.3 1025.1 472.8 1026.1 472.7 1028.1 473.2 1030.1 472.9 1031.1 473.2 1032.1 472.9 1034.1 472.7 1035.1 473.2 1036.1 473.3 1038.1 472.2 1039.9 469.2 1040.6 469.7 1042.1 472.4 1044.1 473.1 1045.1 472.7 1048.1 473.1 1049.1 472.7 1050.1 473.0 1052.1 472.8 1053.1 473.3 1054.9 472.5 1056.1 471.2 1056.6 470.9 1057.1 471.2 1058.1 472.7 1058.9 473.0 1060.1 472.7 1062.1 472.8 1063.1 473.3 1064.1 473.0 1066.1 473.2 1067.1 472.7 1068.1 473.2 1069.1 472.8 1070.1 472.8 1071.1 473.2 1073.6 472.3 1075.6 469.1 1076.1 469.5 1077.6 472.1 1078.1 472.0 1079.1 470.4 1079.6 470.0 1080.1 470.3 1081.1 471.9 1081.9 472.6 1084.1 473.1 1086.1 473.0 1088.1 473.3 1091.1 472.9 1091.9 471.8 1093.1 468.7 1093.6 468.2 1094.1 468.9 1095.6 472.4 1097.1 473.1 1099.1 472.7 1101.1 473.2 1102.1 472.7 1103.1 473.3 1106.1 472.9 1108.1 473.1 1109.1 472.7 1110.1 473.3 1111.1 472.8 1112.1 473.2 1113.1 473.1 1115.1 472.6 1116.1 472.7 1118.1 470.9 1118.6 471.1 1120.1 472.8 1121.1 472.7 1123.1 473.2 1125.1 473.3 1126.1 473.0 1127.1 473.3 1129.1 472.8 1131.1 473.2 1134.1 472.7 1135.1 473.0 1137.1 473.0 1138.1 473.2 1139.1 472.7 1140.1 473.3 1142.1 473.1 1144.1 472.7 1145.4 473.2 1146.6 472.7 1148.1 470.4 1148.6 470.2 1151.1 473.1 1152.1 472.7 1153.1 473.2 1158.1 473.3 1159.1 472.7 1161.1 473.0 1162.1 472.7 1163.1 472.8 1164.1 473.3 1166.1 472.7 1167.1 473.2 1168.1 472.9 1169.1 473.2 1170.1 472.3 1171.6 471.9 1172.1 472.0 1173.1 472.8 1174.1 472.8 1175.1 473.3 1176.1 472.7 1177.1 472.8 1178.1 472.7 1181.1 473.0 1182.1 472.8 1183.1 473.1 1184.1 472.7 1185.1 473.0 1187.1 472.9 1188.1 473.3 1189.1 472.9 1190.1 473.3 1192.1 472.9 1193.1 473.2 1194.1 473.1 1195.1 472.7 1196.1 472.7 1197.1 473.3 1198.1 472.9 1199.1 473.3 1200.1 472.7 1201.1 473.0 1202.1 472.6 1203.1 473.2 1204.1 472.6 1205.1 473.2 1206.1 472.7 1208.1 472.7 1208.9 472.4 1212.1 470.2 1214.6 467.3 1219.9 459.7 1220.9 458.9 1222.1 458.4 1224.4 459.8 1227.1 463.2 1228.1 465.2 1230.6 468.6 1231.6 469.5 1231.9 469.4 1232.1 469.0 1232.6 465.1 1232.9 460.2 1233.9 418.4 1234.4 406.2 1236.1 461.9 1236.6 467.3 1237.9 471.3 1238.9 472.8 1239.9 473.6 1240.4 473.3 1241.4 471.3 1241.9 471.1 1242.4 471.7 1243.6 474.4 1244.4 475.1 1245.6 475.1 1246.1 474.9 1247.6 472.6 1248.1 472.9 1249.9 475.3 1251.1 475.7 1252.9 474.9 1254.1 472.6 1254.6 472.3 1256.4 475.0 1257.1 475.6 1259.9 474.9 1261.1 472.8 1261.6 472.5 1263.4 475.1 1263.9 475.3 1266.4 475.3"/></defs><use href="#a11" fill="#fff" stroke="none"/><use href="#a11" fill="none" stroke="#800080"/>
<defs><path id="a10" d="M292.5 494.6 293.5 495.0 294.5 494.7 298.5 494.9 301.5 494.1 302.5 494.2 305.5 493.5 307.2 493.4 308.5 492.7 309.5 492.7 312.8 490.6 313.2 490.7 314.5 491.8 315.0 490.8 315.5 488.2 317.0 476.6 317.8 456.1 318.5 390.1 320.0 90.7 320.5 49.5 322.5 380.3 323.2 421.2 324.5 446.3 325.8 459.2 326.8 464.3 327.5 465.6 328.0 463.8 328.2 461.2 328.8 447.3 329.5 372.4 330.5 157.4 331.0 107.7 331.5 157.9 332.8 402.9 333.2 443.5 333.8 459.7 334.2 466.2 335.0 471.2 336.0 475.1 337.2 477.8 337.8 478.5 338.2 478.6 339.5 476.0 339.8 476.0 340.2 477.1 341.5 481.7 343.5 484.8 345.5 486.5 346.5 487.0 347.5 486.8 349.5 487.0 351.5 490.0 352.0 490.3 352.5 490.4 353.0 490.1 353.8 487.6 355.2 471.5 355.8 469.5 356.2 472.4 357.2 482.9 358.0 487.7 358.5 489.1 360.5 490.6 361.5 490.4 363.2 490.7 364.0 490.1 364.5 489.1 365.5 484.9 366.2 483.3 366.8 483.7 367.0 484.3 368.2 488.6 369.0 490.4 369.5 491.1 370.5 491.4 371.5 490.8 372.5 490.9 373.5 491.3 377.5 490.5 380.5 490.2 381.5 490.6 383.5 490.1 386.5 489.9 387.5 490.5 388.5 490.5 389.5 490.0 391.5 490.3 393.5 490.9 394.5 490.6 395.5 491.0 396.5 490.7 398.5 491.4 399.5 490.9 400.5 491.5 402.5 491.5 403.5 491.8 404.5 491.5 405.5 491.9 408.5 492.1 409.5 492.1 410.5 491.7 411.5 491.8 412.0 491.5 413.0 489.9 413.8 487.6 415.0 479.7 416.2 464.4 418.5 428.1 419.2 420.6 419.8 418.5 420.0 418.7 420.5 424.4 421.8 449.1 422.5 458.8 423.0 462.2 424.0 465.9 426.5 471.2 428.2 473.3 428.5 473.3 428.8 472.9 429.2 470.8 430.5 461.6 430.8 460.8 431.0 461.0 432.8 476.2 433.2 477.8 433.5 477.4 434.2 470.2 435.2 446.7 435.5 443.1 435.8 442.5 437.5 475.9 438.2 481.4 439.2 483.4 440.5 484.6 441.5 486.0 442.5 486.1 443.5 487.1 444.5 487.7 445.2 487.8 445.8 487.4 446.5 484.1 448.0 468.7 448.2 468.9 448.5 470.4 449.8 484.9 450.2 487.5 450.8 488.4 454.5 489.7 455.2 489.0 456.0 486.0 457.0 477.8 457.5 475.5 458.0 476.9 459.0 483.9 459.5 485.9 460.0 486.2 460.5 485.8 461.0 485.9 463.2 489.9 464.5 490.6 466.5 489.9 467.5 489.9 470.0 488.3 471.0 487.0 471.8 484.5 472.2 481.6 474.0 466.0 474.8 442.6 475.2 393.9 476.2 227.8 476.5 202.6 476.8 196.6 477.2 242.6 478.2 405.2 478.8 448.7 479.5 471.8 480.2 478.1 481.2 482.3 482.8 486.2 483.5 487.5 483.8 487.5 484.2 487.2 484.8 486.2 486.0 481.4 486.2 481.1 486.5 481.2 488.2 489.4 488.8 490.5 489.2 490.7 490.0 489.5 491.5 482.1 491.8 481.4 492.0 481.5 493.5 488.4 494.5 491.0 496.5 492.0 497.5 491.7 499.5 492.4 500.5 491.6 501.5 491.2 502.5 489.1 502.8 489.0 504.8 491.6 505.8 492.3 506.5 492.3 507.5 492.0 508.5 492.3 510.0 491.7 511.8 489.3 512.2 489.6 513.5 491.7 514.2 492.4 518.8 492.4 519.8 491.5 521.0 488.3 521.5 487.7 522.0 488.3 523.2 491.4 523.8 492.1 524.5 492.6 525.5 492.3 526.5 492.6 527.5 492.1 529.5 492.4 530.2 491.8 531.5 489.5 532.0 489.3 532.5 489.8 533.5 491.7 534.0 492.0 535.5 492.5 536.5 492.1 538.5 492.1 539.5 492.5 541.2 491.1 542.5 488.2 543.0 487.9 543.5 488.6 544.8 491.4 545.5 492.4 547.5 492.3 548.2 491.5 548.8 490.3 550.2 483.0 550.8 482.1 551.2 483.4 552.5 489.0 553.5 491.0 554.2 490.9 554.8 490.6 556.8 486.4 557.2 486.7 558.5 488.8 559.0 489.0 560.0 488.4 561.5 486.6 563.0 482.4 563.8 477.8 564.2 470.0 564.8 450.6 565.5 370.2 566.5 170.1 567.0 113.3 567.2 116.1 567.5 139.6 569.0 406.0 569.8 458.1 570.5 472.8 571.8 480.8 573.0 484.4 575.2 488.5 575.8 489.1 578.5 491.0 579.5 491.0 580.5 491.7 582.0 491.6 583.0 490.8 584.2 488.4 584.8 488.0 586.5 491.5 588.5 492.5 589.5 492.7 590.5 492.3 591.5 492.9 593.0 492.2 594.0 491.2 595.0 489.2 595.5 488.9 596.0 489.3 597.5 492.3 598.0 492.5 598.2 492.4 598.8 491.2 599.2 487.8 600.8 461.2 601.0 458.5 601.2 458.0 603.2 487.0 604.0 490.8 604.5 491.8 605.0 492.0 605.8 491.6 606.2 490.6 607.8 484.6 608.0 484.6 608.2 485.1 610.0 492.0 610.5 492.8 611.0 493.0 612.2 492.5 613.5 490.3 614.0 489.9 614.5 490.3 615.5 492.3 617.5 493.4 621.5 493.3 622.5 492.5 623.5 490.1 624.0 489.4 624.2 489.4 624.8 489.9 626.0 492.2 627.5 493.3 629.2 492.7 630.5 490.2 631.0 490.0 631.5 490.5 632.5 492.8 633.2 493.2 634.5 493.5 635.5 493.2 636.8 493.1 637.5 492.5 638.5 490.7 639.0 490.4 639.5 490.8 640.8 493.0 642.5 493.3 643.5 493.7 644.5 493.3 645.5 493.7 646.5 493.2 647.5 493.5 650.2 493.1 651.0 492.2 652.0 490.1 652.5 489.7 653.0 490.3 654.5 493.2 657.5 493.9 659.5 493.3 661.5 493.4 663.5 494.0 664.5 493.4 666.5 494.1 667.5 493.5 668.5 493.9 669.2 493.3 670.5 491.3 671.0 490.9 671.5 491.2 673.0 493.5 674.5 494.2 676.5 494.2 677.5 493.6 678.5 494.1 679.5 493.6 680.5 493.6 681.5 494.2 682.5 493.9 683.5 494.0 684.5 493.6 685.5 494.1 687.5 494.0 688.5 494.4 689.5 493.5 690.5 493.2 691.2 491.9 692.0 491.2 692.5 491.5 693.8 493.5 695.5 493.9 696.5 494.4 697.5 493.9 699.5 494.4 700.5 494.0 701.5 494.5 704.5 494.5 705.5 494.0 706.5 494.2 707.5 493.9 708.5 494.5 709.5 494.2 714.5 494.1 715.5 494.6 716.5 494.2 717.5 494.7 718.5 494.3 719.0 493.4 720.8 487.5 721.2 488.0 722.8 492.7 723.2 493.5 724.0 494.1 725.5 494.4 726.5 494.1 727.5 494.1 729.5 494.8 731.5 494.4 734.8 494.6 735.5 494.3 736.0 493.3 737.8 485.5 738.0 485.6 738.2 486.2 739.8 493.1 740.2 493.8 740.8 494.0 741.2 493.3 741.5 492.4 742.0 488.1 743.8 455.0 744.0 455.2 744.2 458.0 745.5 481.8 746.2 489.5 746.5 490.4 746.8 490.3 748.0 486.1 748.2 485.7 748.5 485.7 750.2 492.8 750.8 493.8 751.5 494.3 752.2 494.1 752.8 493.4 753.2 491.5 754.8 474.8 755.0 473.2 755.2 472.9 757.0 489.7 757.5 492.2 758.0 492.7 758.2 492.3 759.0 488.4 760.2 473.7 760.5 472.0 760.8 471.7 762.5 489.2 763.2 492.7 764.0 493.7 765.2 493.9 765.8 493.3 767.8 484.1 768.0 484.1 768.2 484.9 769.8 492.5 770.2 493.5 771.8 494.7 773.5 495.1 776.5 494.8 778.5 494.9 779.5 494.6 782.5 495.3 783.5 495.3 784.5 494.7 785.5 495.2 786.5 494.9 787.5 495.2 789.5 495.3 790.5 494.8 792.5 495.4 793.5 494.9 794.5 494.8 796.5 495.0 798.5 494.7 803.5 494.8 804.0 495.0 804.5 494.8 805.0 493.0 805.5 488.5 807.0 458.2 807.2 455.6 807.5 455.6 808.0 461.8 809.0 482.5 809.5 488.9 810.0 492.2 810.5 493.7 811.0 493.9 812.0 493.8 812.5 493.4 813.8 491.0 814.2 490.6 814.5 490.7 815.5 493.4 816.2 494.7 816.5 494.9 817.5 494.9 818.5 495.3 820.5 494.9 821.5 495.5 822.5 495.0 824.5 494.9 826.5 495.5 827.5 495.0 828.5 495.4 829.5 495.0 830.5 495.0 832.2 490.6 832.8 490.2 834.5 494.1 836.5 495.5 837.5 494.9 839.5 495.4 840.5 495.1 843.5 495.5 844.5 495.4 846.8 493.2 847.5 493.6 848.5 495.0 850.5 495.5 851.5 495.0 852.5 495.5 854.5 495.0 856.5 495.4 857.5 495.1 859.5 495.2 860.5 495.0 861.5 495.5 862.5 495.0 863.5 495.4 865.2 494.8 866.5 493.2 866.8 493.2 869.5 495.4 871.5 495.0 872.5 495.6 873.5 495.6 874.5 495.1 877.5 495.6 879.5 495.1 880.5 495.6 881.5 495.1 883.5 495.4 886.5 495.0 888.5 495.2 889.5 495.0 890.5 495.4 891.5 495.0 895.5 495.5 896.5 494.8 897.5 493.0 898.2 492.3 899.0 492.7 900.2 494.6 901.5 495.5 903.5 495.3 904.5 495.5 905.2 495.3 906.0 494.7 907.5 492.6 908.0 492.4 908.5 492.9 909.5 494.8 910.0 495.1 911.5 495.2 912.5 495.0 914.5 495.3 916.5 495.0 917.5 495.6 918.5 495.1 920.5 495.6 921.5 495.5 922.5 495.1 924.5 495.4 925.5 495.3 927.5 495.7 928.5 495.2 929.5 495.5 930.5 495.1 932.5 495.0 933.5 495.6 934.5 495.6 935.5 495.4 937.5 495.7 938.5 495.7 939.5 495.3 942.2 495.5 943.2 495.0 944.5 493.3 944.8 493.2 945.2 493.5 946.5 495.0 947.2 495.2 948.5 495.0 949.5 495.5 952.0 495.0 953.5 492.8 954.0 492.6 955.5 494.8 956.2 495.2 963.5 495.1 964.5 495.1 965.5 495.5 968.5 495.6 969.5 495.2 970.5 495.6 974.5 495.7 975.5 495.2 977.5 495.7 978.5 495.7 980.5 495.2 982.0 493.4 982.5 493.2 985.5 495.6 986.5 495.4 987.5 495.7 988.5 495.3 989.5 495.4 992.5 495.1 997.5 495.4 998.5 495.0 1000.5 495.1 1002.5 495.5 1004.5 495.2 1006.5 495.5 1007.5 495.1 1010.5 495.7 1011.5 495.3 1012.8 495.3 1013.2 495.1 1013.8 494.4 1015.0 491.7 1015.5 491.4 1016.0 492.0 1017.2 494.8 1018.2 495.6 1019.5 495.6 1020.5 495.3 1024.5 495.7 1026.5 495.6 1027.5 495.7 1030.0 494.8 1031.8 493.4 1032.2 493.6 1033.8 495.3 1034.5 495.6 1035.5 495.1 1036.5 495.7 1038.5 495.4 1039.5 495.6 1041.5 495.1 1042.5 495.6 1043.5 495.3 1044.5 495.6 1045.5 495.2 1046.5 495.4 1048.8 494.7 1049.5 493.8 1050.5 490.6 1051.0 490.2 1051.5 490.9 1052.5 494.1 1052.8 494.3 1053.2 494.1 1054.5 492.3 1055.0 492.2 1056.8 495.1 1061.5 495.1 1062.5 495.2 1063.5 495.7 1064.5 495.3 1065.5 495.6 1067.0 494.6 1067.5 493.9 1068.5 490.6 1069.0 490.2 1069.5 491.1 1070.5 494.1 1071.0 494.9 1073.5 495.7 1074.5 495.3 1075.5 495.5 1076.5 495.2 1078.5 495.1 1079.5 495.6 1080.5 495.0 1081.5 495.5 1082.5 495.1 1083.5 495.3 1084.5 495.1 1085.5 495.5 1088.5 495.3 1089.5 495.5 1090.5 495.0 1091.5 495.3 1092.5 493.9 1093.2 493.5 1093.8 493.7 1095.5 495.5 1096.5 495.3 1097.5 495.6 1098.5 495.4 1100.5 495.7 1102.5 495.1 1103.5 495.7 1104.5 495.7 1105.5 495.3 1108.5 495.4 1110.5 495.2 1111.5 495.7 1112.5 495.7 1113.5 495.1 1114.5 495.3 1115.5 495.1 1117.5 495.6 1118.5 495.4 1119.5 495.7 1120.5 495.1 1121.5 495.4 1122.0 495.1 1123.5 493.3 1123.8 493.3 1125.8 495.0 1127.5 495.6 1130.5 495.1 1131.5 495.6 1133.5 495.1 1134.5 495.7 1135.5 495.2 1138.5 495.4 1139.5 495.1 1142.5 495.2 1143.5 495.6 1147.5 494.4 1149.2 495.1 1151.5 495.5 1153.5 495.3 1154.5 495.6 1155.5 495.3 1157.5 495.3 1158.5 495.6 1159.5 495.1 1160.5 495.1 1161.5 495.7 1163.5 495.1 1164.5 495.6 1165.5 495.4 1166.5 495.7 1168.5 495.6 1169.5 495.2 1170.5 495.6 1171.5 495.3 1172.5 495.5 1173.5 495.1 1174.5 495.2 1175.5 495.1 1176.5 495.5 1177.5 495.1 1178.5 495.6 1179.5 495.4 1180.5 495.5 1181.5 495.2 1182.5 495.6 1183.5 494.9 1184.5 495.3 1186.5 494.2 1187.5 494.5 1188.5 493.5 1189.5 493.5 1190.5 492.4 1191.5 492.0 1192.5 491.3 1193.5 491.1 1194.5 490.0 1195.5 489.4 1198.2 489.7 1199.5 490.1 1202.5 491.5 1203.5 492.4 1207.0 494.1 1207.5 493.1 1207.8 491.3 1208.2 482.3 1209.2 440.1 1209.5 432.8 1209.8 431.3 1211.2 481.2 1211.8 488.7 1212.2 491.6 1213.0 493.6 1214.0 495.2 1215.2 496.1 1215.8 495.8 1216.8 493.7 1217.2 493.6 1219.0 496.8 1220.0 497.4 1221.2 497.2 1222.5 494.8 1223.0 494.5 1224.8 497.5 1227.5 497.7 1228.2 497.2 1229.5 495.1 1230.0 494.7 1232.0 497.5 1232.5 497.9 1233.5 498.0 1234.8 497.6 1235.2 497.2 1236.8 494.6 1237.2 495.0 1238.8 497.5 1239.5 497.8 1240.5 497.5 1241.8 497.9"/></defs><use href="#a10" fill="#fff" stroke="none"/><use href="#a10" fill="none" stroke="#808000"/>
<defs><path id="a9" d="M267.9 518.1 269.9 518.1 270.9 517.7 271.9 518.0 273.9 517.7 274.9 518.0 275.9 517.3 276.9 517.5 277.9 517.1 279.9 517.5 281.9 516.8 282.9 516.9 283.9 516.2 284.9 516.0 285.9 515.5 286.9 514.6 287.9 514.5 288.6 513.9 288.9 514.0 289.9 515.5 290.6 513.1 291.9 505.7 292.4 501.0 293.1 481.9 293.9 419.7 295.4 137.0 295.9 98.4 297.9 410.1 298.6 448.8 299.9 472.6 301.4 486.1 302.1 489.4 302.6 490.4 302.9 490.5 303.4 488.8 303.6 486.4 304.1 473.4 304.9 403.0 305.9 201.4 306.4 154.5 306.9 201.5 308.1 431.5 308.6 469.7 309.1 484.7 309.6 490.5 310.4 495.2 311.4 499.3 312.4 501.6 313.1 502.4 313.6 502.5 314.9 499.4 315.1 499.4 315.6 500.5 316.9 505.1 317.9 506.9 318.9 507.5 319.9 509.0 320.6 509.3 322.9 510.1 324.4 509.7 324.9 509.9 326.1 511.8 327.6 513.2 328.1 513.3 328.6 512.6 329.1 510.3 330.6 491.8 330.9 490.0 331.1 489.5 331.6 492.9 333.1 509.5 333.9 512.1 335.9 513.5 336.9 513.4 337.9 514.1 338.9 513.9 339.6 513.0 341.1 509.4 341.6 508.7 342.1 508.8 342.4 509.2 343.6 512.2 344.9 514.2 345.9 514.0 346.9 514.5 348.9 513.8 349.9 514.2 350.9 514.2 351.9 513.6 352.9 514.1 354.9 513.4 356.9 513.2 358.9 513.7 364.9 513.3 365.9 513.6 366.9 513.4 367.9 513.5 368.9 514.0 369.9 513.7 370.9 514.0 371.9 513.8 377.9 514.4 378.9 515.0 381.9 514.7 382.9 515.2 383.9 515.3 387.1 514.5 387.9 514.0 388.6 512.5 389.4 509.8 390.4 503.0 391.4 491.7 393.9 453.8 394.6 447.3 395.1 445.7 395.6 448.8 397.1 476.0 397.9 484.6 398.4 487.5 399.6 491.3 402.9 497.1 403.6 497.6 404.1 497.1 404.6 495.3 405.6 489.1 406.1 487.6 406.6 489.1 408.1 501.0 408.6 502.2 408.9 501.7 409.4 496.8 410.9 466.5 411.1 467.0 411.4 470.3 412.9 500.2 413.6 505.4 414.4 507.0 417.9 510.1 420.9 511.2 421.4 510.0 421.9 506.8 422.9 494.7 423.4 492.0 423.9 495.0 425.1 508.7 425.6 510.8 426.1 511.6 428.9 513.1 430.1 512.9 430.6 512.1 431.4 508.6 432.4 500.3 432.9 498.5 433.4 500.2 434.4 507.2 434.9 509.0 435.4 509.5 436.4 509.5 437.9 512.6 438.4 513.2 441.9 513.7 444.9 512.5 446.4 510.9 447.4 507.3 449.4 492.2 449.9 482.4 450.6 429.6 451.9 283.6 452.1 283.7 452.4 299.4 453.4 427.8 454.1 483.8 454.9 500.0 455.4 503.6 456.4 507.3 457.1 509.0 458.1 510.5 459.1 511.4 459.6 511.3 460.1 510.0 461.1 504.7 461.6 503.5 462.1 504.6 463.6 512.8 464.1 513.9 464.6 514.1 465.4 512.6 466.6 506.2 467.1 504.9 467.6 505.9 468.9 512.4 469.4 513.6 470.9 514.8 472.9 514.8 473.9 515.4 475.9 515.3 476.6 514.4 477.6 512.6 478.1 512.2 478.6 512.5 480.1 515.0 480.9 515.6 483.9 515.5 485.4 514.7 486.6 512.7 487.1 512.3 487.6 512.7 488.9 514.9 490.9 515.3 491.9 515.8 492.9 515.7 494.4 515.3 494.9 514.9 496.1 511.2 496.6 510.3 496.9 510.3 498.6 514.7 499.6 515.5 500.9 515.7 501.9 515.4 502.9 515.7 505.1 515.1 507.1 512.6 507.6 512.8 509.1 515.0 510.1 515.6 510.9 515.9 511.9 515.2 512.9 515.9 513.9 515.3 515.6 515.4 516.4 514.9 517.6 512.3 518.1 511.7 518.6 512.1 520.1 514.9 522.9 515.5 523.6 514.8 524.1 513.4 525.9 503.4 526.1 503.5 526.4 504.4 527.9 512.4 528.4 513.7 528.9 514.2 529.6 514.5 530.1 514.2 532.1 510.1 532.6 510.3 533.9 513.1 534.1 513.2 535.9 512.4 536.9 511.4 538.4 508.6 539.1 505.4 539.6 499.4 540.1 484.2 540.9 424.4 541.9 287.9 542.4 256.3 542.9 282.0 544.1 441.0 544.9 487.4 545.4 498.2 546.4 505.1 547.9 509.8 549.9 512.2 551.9 514.1 553.9 514.4 554.9 514.9 555.9 514.7 556.9 515.2 557.6 515.2 558.1 514.5 559.4 510.5 559.6 510.0 560.1 509.8 561.6 514.0 562.1 515.0 562.9 515.7 565.9 516.0 566.9 515.5 568.4 515.3 568.9 514.8 570.1 512.2 570.6 511.7 571.1 512.2 572.4 514.9 573.4 515.8 573.9 515.8 574.6 513.4 575.9 502.8 576.4 500.2 576.6 500.4 576.9 501.6 578.1 511.4 578.9 514.4 579.4 515.0 580.1 515.2 580.6 515.2 581.1 514.9 582.6 511.0 583.1 510.2 583.6 510.8 585.1 515.4 585.9 516.2 586.6 516.1 587.4 515.7 588.6 513.7 589.1 513.3 591.4 515.7 592.9 516.0 593.9 516.5 594.9 516.2 595.9 516.4 597.1 516.2 599.4 513.5 599.9 513.8 601.1 515.8 601.9 516.5 602.9 516.1 603.9 516.2 605.6 513.9 606.1 513.6 606.6 513.9 608.1 515.9 610.9 516.4 612.4 515.9 612.9 515.5 613.9 513.4 614.1 513.4 616.1 516.0 617.4 516.7 624.6 516.5 625.4 516.3 625.9 515.8 627.4 512.8 627.9 512.6 629.9 516.7 630.9 516.6 631.9 517.0 632.9 516.5 634.9 516.6 635.9 517.1 638.9 516.5 639.9 516.9 642.9 517.0 644.6 516.1 645.6 514.3 646.1 513.8 646.6 514.1 648.1 516.3 649.9 517.0 651.9 517.2 656.9 517.0 657.9 517.4 658.9 517.0 659.9 517.2 661.9 516.8 662.9 517.4 665.1 516.8 666.6 514.6 667.4 514.1 667.9 514.5 669.1 516.9 670.9 517.5 671.9 517.2 672.9 517.4 673.9 517.2 674.9 517.5 675.9 517.2 676.9 517.5 678.9 517.2 679.9 517.5 681.9 517.3 682.9 517.7 683.9 517.4 684.9 517.6 687.9 517.1 689.9 517.4 690.9 517.2 692.9 517.7 694.4 516.2 695.6 511.9 696.1 510.8 696.6 511.6 698.1 516.3 698.6 517.0 699.9 517.7 702.9 517.7 703.9 517.3 704.9 517.7 705.9 517.8 706.9 517.4 707.9 517.3 708.9 517.9 710.4 517.7 711.4 516.6 712.6 512.5 713.1 511.5 713.4 511.6 713.9 512.7 714.9 516.5 715.4 517.3 715.9 517.5 716.6 516.9 717.4 513.6 718.6 499.9 719.1 496.7 719.6 498.7 720.9 511.9 721.4 514.5 721.6 514.9 721.9 514.9 722.1 514.4 723.4 509.7 723.6 509.3 723.9 509.4 725.6 516.5 726.1 517.4 726.9 518.0 727.4 517.8 727.9 517.1 728.6 513.1 730.4 492.0 730.6 492.3 730.9 494.1 732.4 512.2 733.1 515.7 733.4 516.0 733.6 515.9 734.1 514.4 735.9 501.6 736.1 501.8 736.4 502.8 737.9 514.5 738.4 516.2 738.9 517.0 739.6 517.4 740.4 517.2 741.1 515.9 741.6 513.6 742.6 506.0 743.1 504.0 743.6 505.6 744.9 514.1 745.6 516.6 746.9 517.8 748.9 517.9 749.9 517.6 750.9 518.3 751.9 517.7 752.9 518.2 753.9 517.7 755.9 518.3 757.9 518.2 758.9 517.9 759.9 518.2 763.9 518.3 767.9 517.8 771.9 518.3 772.9 518.1 776.9 518.5 779.6 517.8 780.4 517.4 780.9 516.4 782.1 509.5 782.6 508.3 783.1 509.2 784.4 515.3 784.9 516.7 785.4 517.3 786.4 517.6 787.4 517.4 789.1 515.5 789.6 515.2 791.6 517.8 792.9 518.4 793.9 518.5 794.9 517.9 798.9 518.4 801.9 518.1 802.9 518.5 803.9 518.1 804.9 518.5 805.6 518.0 806.4 517.1 807.6 513.7 808.1 513.3 808.6 514.1 809.9 517.6 810.4 518.0 812.9 518.0 813.9 518.4 816.9 518.1 817.9 518.4 819.9 518.3 821.4 516.8 822.4 516.4 824.1 518.2 824.9 518.6 825.9 518.1 829.9 518.0 830.9 518.3 833.9 518.6 834.9 518.4 835.9 518.6 836.9 518.4 838.9 518.5 840.6 517.9 841.9 516.6 842.4 516.4 842.9 516.7 843.9 518.2 845.9 518.6 846.9 518.6 847.9 518.2 848.9 518.6 851.9 518.1 852.9 518.5 853.9 518.3 856.9 518.5 858.9 518.1 859.9 518.5 861.9 518.6 862.9 518.2 864.9 518.7 865.9 518.3 868.9 518.5 869.9 518.1 871.1 518.2 873.6 515.7 874.1 516.0 875.1 517.5 876.9 518.7 878.9 518.3 880.4 518.4 881.1 518.2 881.9 517.3 882.9 515.4 883.1 515.3 883.6 515.7 884.9 517.8 885.6 518.5 887.9 518.3 888.9 518.7 889.9 518.2 890.9 518.7 892.9 518.1 895.9 518.8 896.9 518.3 897.9 518.7 899.9 518.3 901.9 518.7 903.9 518.2 904.9 518.8 905.9 518.1 909.9 518.7 911.9 518.4 912.9 518.7 914.9 518.3 915.9 518.7 916.9 518.1 917.9 518.7 918.6 518.2 920.1 516.5 920.6 516.7 921.9 517.9 923.9 518.8 924.9 518.2 926.9 518.3 928.4 516.4 929.4 515.7 931.4 518.2 931.9 518.4 932.9 518.2 934.9 518.8 935.9 518.3 936.9 518.7 938.9 518.3 939.9 518.6 941.9 518.2 942.9 518.2 943.9 518.8 944.9 518.8 945.9 518.3 946.9 518.7 947.9 518.8 950.9 518.2 951.9 518.6 953.9 518.6 955.9 518.3 957.6 516.8 958.1 516.9 959.1 518.0 961.9 518.8 962.9 518.5 963.9 518.7 964.9 518.5 966.9 518.8 967.9 518.3 968.9 518.7 970.9 518.3 973.9 518.8 975.9 518.1 977.9 518.6 978.9 518.3 980.9 518.2 981.9 518.7 982.9 518.4 983.9 518.8 984.9 518.3 986.9 518.6 988.1 518.2 990.6 515.5 991.1 515.8 992.6 518.0 994.9 518.7 996.9 518.2 997.9 518.7 1000.9 518.5 1001.9 518.8 1004.6 518.5 1005.6 518.1 1007.1 516.6 1009.6 518.4 1010.6 518.7 1011.9 518.8 1012.9 518.5 1014.9 518.8 1015.9 518.2 1016.9 518.6 1021.9 518.7 1024.1 518.1 1024.9 516.9 1025.9 514.5 1026.1 514.4 1026.6 514.9 1027.6 517.0 1028.1 517.5 1028.6 517.4 1029.9 515.5 1030.1 515.4 1032.4 518.1 1034.9 518.8 1035.9 518.4 1036.9 518.7 1037.9 518.3 1038.9 518.5 1039.9 518.3 1040.9 518.7 1041.1 518.6 1042.4 517.6 1043.6 515.0 1044.1 514.5 1044.6 515.0 1046.1 517.7 1046.9 518.4 1047.9 518.2 1050.9 518.2 1051.9 518.8 1052.9 518.2 1053.9 518.7 1054.9 518.2 1055.9 518.8 1056.9 518.5 1057.9 518.7 1059.9 518.2 1060.9 518.7 1061.9 518.8 1064.9 518.2 1065.9 518.8 1066.9 518.3 1067.9 516.8 1068.4 516.5 1069.1 516.9 1070.6 518.4 1071.4 518.7 1071.9 518.7 1072.9 518.2 1073.9 518.6 1074.9 518.3 1075.9 518.7 1077.9 518.8 1078.9 518.2 1079.9 518.5 1080.9 518.2 1081.9 518.7 1082.9 518.8 1083.9 518.2 1084.9 518.4 1085.9 518.3 1086.9 518.8 1089.9 518.2 1090.9 518.6 1091.9 518.3 1093.9 518.5 1095.9 518.2 1097.1 518.2 1099.4 516.5 1099.9 516.7 1101.1 518.2 1102.9 518.7 1106.9 518.3 1108.9 518.8 1110.9 518.3 1112.9 518.2 1113.9 518.7 1114.9 518.4 1115.9 518.7 1116.9 518.4 1118.9 518.7 1120.9 518.3 1121.9 517.5 1124.9 518.4 1125.9 518.3 1127.9 518.7 1128.9 518.3 1129.9 518.7 1131.9 518.4 1132.9 518.8 1134.9 518.1 1136.9 518.7 1137.9 518.4 1138.9 518.6 1140.9 518.4 1141.9 518.5 1142.9 518.2 1143.9 518.4 1144.9 518.2 1147.9 518.7 1148.9 518.7 1149.9 518.2 1150.9 518.5 1151.9 518.2 1153.9 518.8 1154.9 518.1 1156.9 518.4 1157.9 518.1 1158.9 518.3 1161.9 517.9 1162.9 517.5 1163.9 517.3 1165.9 516.0 1166.9 515.8 1167.9 514.8 1169.9 513.9 1170.9 513.8 1172.9 513.2 1176.9 514.7 1177.9 515.4 1178.9 515.5 1179.9 516.0 1180.9 517.0 1182.1 517.1 1182.6 516.6 1182.9 515.5 1183.4 510.0 1184.9 455.9 1185.1 456.7 1185.4 462.9 1186.4 500.2 1186.9 510.1 1187.4 514.0 1188.9 518.2 1190.6 518.9 1191.1 518.5 1192.1 516.7 1192.6 516.6 1194.1 520.1 1194.9 520.8 1196.4 520.1 1198.4 517.9 1198.9 518.3 1199.9 520.7 1201.9 521.2 1202.9 520.5 1203.4 520.5 1203.9 520.2 1204.9 518.3 1205.4 517.9 1205.9 518.4 1207.1 520.6 1207.9 521.0 1208.9 521.1 1210.9 520.1 1212.1 517.6 1212.9 518.3 1213.9 520.7 1214.6 521.0 1217.1 520.9"/></defs><use href="#a9" fill="#fff" stroke="none"/><use href="#a9" fill="none" stroke="#ff00ff"/>
<defs><path id="a8" d="M243.3 539.3 244.3 539.1 245.3 539.4 246.3 539.1 247.3 539.4 249.3 539.4 250.3 538.8 251.3 539.1 252.3 538.6 255.3 538.8 257.3 537.9 258.3 538.1 259.3 538.0 260.3 537.0 261.3 536.9 262.3 536.3 263.3 535.2 264.0 534.8 265.3 536.4 265.8 535.2 266.5 531.1 267.8 521.3 268.5 500.9 269.3 435.2 270.8 136.0 271.3 95.0 273.3 424.3 274.0 465.3 275.3 490.5 276.5 503.5 277.5 508.3 278.0 509.4 278.3 509.4 278.8 507.5 279.0 504.8 279.5 489.6 280.3 408.4 281.3 177.3 281.8 123.9 282.3 178.0 283.5 441.0 284.0 484.6 284.5 501.9 285.5 512.6 286.8 518.5 287.8 521.3 288.5 522.4 289.0 522.6 290.5 520.4 291.0 521.3 293.0 527.2 295.3 530.0 298.0 531.5 299.3 531.2 300.0 531.4 302.0 534.1 303.0 535.0 303.5 535.0 304.0 534.3 304.5 531.9 306.0 513.2 306.5 510.9 307.0 514.2 308.5 530.4 309.0 532.4 309.5 533.4 311.3 534.9 314.3 535.3 315.5 533.2 316.8 530.2 317.3 529.7 318.0 530.9 319.3 534.7 320.3 535.7 321.3 535.4 323.3 535.8 325.3 535.2 328.3 535.4 329.3 535.2 330.3 535.2 331.3 534.7 332.3 535.3 333.3 534.8 334.3 535.1 335.3 534.7 337.3 534.5 339.3 535.1 341.3 535.1 342.3 534.7 344.3 534.8 346.3 535.5 348.3 535.3 349.3 535.9 352.3 535.9 353.3 536.2 354.3 536.1 355.3 536.3 356.3 536.0 357.3 536.5 359.3 536.5 360.3 536.1 361.3 536.5 363.3 535.2 364.0 533.2 364.8 530.0 365.8 522.4 366.8 510.0 369.3 470.0 370.0 463.3 370.5 461.9 371.0 466.3 372.8 499.0 373.5 505.7 374.3 509.2 377.8 516.0 378.5 517.0 379.0 517.2 379.8 515.8 381.0 508.1 381.3 507.2 381.5 507.1 382.0 509.5 383.3 519.8 383.8 521.7 384.0 521.7 384.5 518.8 384.8 515.6 385.8 492.4 386.3 485.8 386.8 491.2 388.0 518.0 388.8 524.2 389.3 525.5 390.0 526.3 391.3 526.5 392.3 527.0 394.0 525.5 394.8 524.0 395.5 521.2 396.0 517.0 396.8 492.3 397.3 445.4 398.3 287.6 398.8 256.7 399.3 298.4 400.5 470.4 401.0 498.0 401.8 512.8 403.3 522.6 404.3 525.9 405.5 528.1 406.0 528.1 406.5 526.6 407.8 518.1 408.0 517.2 408.3 517.2 410.0 528.4 410.3 529.1 410.5 529.2 411.3 528.6 411.8 529.0 413.0 532.2 414.3 534.1 416.3 534.2 419.3 533.2 420.8 531.6 422.0 529.4 423.0 523.6 424.5 509.2 425.3 487.3 425.8 439.5 426.8 248.9 427.3 194.0 427.5 201.0 427.8 229.7 429.3 478.3 430.0 511.2 430.8 519.9 431.8 525.1 432.5 527.5 433.8 530.2 434.3 530.9 434.8 531.0 435.5 529.5 436.5 524.9 437.0 523.8 437.5 525.3 438.8 533.0 439.3 534.5 439.8 535.0 440.3 534.6 440.8 532.9 442.0 525.3 442.5 524.0 443.0 525.8 444.3 533.2 444.8 534.8 445.3 535.5 446.3 535.6 448.3 536.6 449.3 536.7 451.5 536.1 453.0 534.1 453.5 533.8 454.0 534.2 455.3 536.0 457.3 537.1 459.3 536.9 460.0 536.6 462.5 534.0 463.3 534.5 464.3 536.5 464.5 536.6 469.3 536.8 470.3 535.9 471.5 532.7 472.0 532.0 472.8 533.0 474.0 536.3 474.3 536.7 474.8 536.9 477.3 537.0 478.3 536.7 479.3 537.1 481.0 536.0 482.0 534.2 482.5 533.8 483.0 534.2 484.5 536.6 485.3 537.2 486.3 536.7 488.3 537.2 489.3 536.6 490.3 537.0 491.8 535.8 493.0 533.3 493.5 532.9 494.0 533.4 495.5 536.0 497.3 536.8 498.5 536.3 499.3 534.7 499.8 532.2 500.8 523.8 501.3 521.5 501.8 523.2 503.0 532.3 503.5 534.2 504.0 535.0 504.8 535.2 505.5 534.7 507.0 531.9 507.5 531.4 508.0 531.6 509.3 533.6 509.8 533.6 511.3 532.9 513.3 528.7 514.3 524.3 514.8 518.2 515.3 502.9 516.0 437.2 517.3 209.5 517.8 176.4 518.3 222.4 519.5 442.2 520.3 500.2 521.0 517.4 522.0 524.5 523.0 528.2 524.0 530.6 525.3 532.7 527.3 534.7 532.3 536.3 532.8 536.1 533.8 534.9 535.3 530.8 535.8 531.5 537.0 535.5 537.5 536.4 538.3 537.1 539.3 536.8 540.3 537.1 541.3 536.8 542.3 537.1 543.5 536.8 544.5 535.8 545.5 533.9 546.0 533.5 546.5 533.9 548.0 536.5 548.5 536.9 549.0 536.9 549.5 536.0 550.0 533.6 551.3 520.4 551.8 517.6 552.3 519.9 553.8 533.6 554.5 536.0 556.0 537.0 556.3 537.0 556.5 536.6 558.0 532.0 558.5 531.4 559.0 532.3 560.5 536.5 561.0 537.2 561.8 537.5 562.5 537.3 563.0 536.9 564.0 535.0 564.5 534.6 566.5 537.3 568.3 537.8 569.3 537.6 571.3 538.1 572.8 537.3 574.8 534.8 575.3 535.0 577.0 537.6 578.8 537.8 579.5 537.5 581.0 535.3 581.8 534.9 582.3 535.3 583.3 537.5 584.3 537.9 587.5 537.5 588.3 536.8 589.3 534.9 589.5 534.9 591.0 536.9 592.3 538.0 595.3 538.3 596.3 538.2 597.3 538.4 598.3 537.8 599.3 538.1 601.0 537.7 602.3 534.9 603.0 534.2 603.5 534.8 604.8 537.5 605.3 538.0 606.0 538.3 609.3 537.9 610.3 538.0 611.3 538.4 613.3 538.2 614.3 538.5 615.3 538.5 616.3 538.0 618.8 538.2 619.8 537.8 621.0 535.9 621.5 535.6 622.0 536.0 623.5 538.2 624.3 538.6 625.3 538.2 627.3 538.8 628.3 538.2 629.3 538.2 630.3 538.8 631.3 538.8 632.3 538.4 633.3 538.9 634.3 538.8 635.3 538.4 638.3 538.4 639.3 538.8 640.8 538.0 642.0 536.1 642.5 535.7 643.0 536.0 644.3 538.2 645.0 538.6 648.3 539.0 649.3 538.5 651.3 538.8 654.3 538.5 655.3 539.1 659.3 538.9 660.3 539.2 661.3 538.6 663.3 538.8 664.3 539.2 665.3 539.2 666.3 538.9 668.3 539.2 669.0 538.6 669.5 537.6 671.0 530.1 671.5 528.9 672.0 530.4 673.3 536.7 673.8 538.0 674.3 538.6 676.3 538.7 677.3 539.2 678.3 539.4 679.3 538.7 681.3 539.4 683.3 539.1 685.3 539.3 686.5 538.1 688.0 534.1 688.5 533.3 689.0 533.7 690.5 538.2 691.3 538.9 692.0 537.9 692.8 533.4 694.0 514.7 694.5 511.3 695.0 515.2 696.0 529.2 696.8 534.9 697.0 535.3 697.3 535.1 697.5 534.2 698.5 528.1 699.0 526.7 699.5 528.1 701.0 537.4 701.5 538.7 702.3 539.3 702.8 539.0 703.3 537.8 703.8 534.3 705.3 502.6 705.8 496.4 706.3 501.0 707.5 527.1 708.0 533.0 708.5 535.6 708.8 536.1 709.0 536.0 709.5 534.1 710.8 521.3 711.3 518.6 711.8 521.1 713.0 533.5 713.5 536.3 714.0 537.8 714.5 538.4 715.5 538.5 716.0 538.4 716.3 538.0 717.0 534.5 718.0 526.4 718.5 524.5 719.0 526.4 720.0 533.8 720.8 537.5 721.3 538.7 722.3 538.8 723.3 539.4 724.3 539.2 730.3 539.5 733.3 539.3 735.3 539.5 736.3 539.9 738.3 539.2 739.3 539.8 741.3 539.3 742.3 539.3 744.3 539.8 747.3 539.3 748.3 539.6 749.3 539.4 751.3 539.9 752.3 539.8 753.3 539.3 754.3 539.9 755.5 538.7 756.0 537.3 757.5 525.6 758.0 523.5 758.5 525.2 759.8 535.5 760.3 537.7 760.8 538.8 761.3 539.4 763.0 538.7 764.3 536.6 764.8 536.5 767.3 539.7 768.3 540.0 769.3 539.5 770.3 539.5 771.3 539.8 772.3 539.6 776.3 540.1 778.3 539.9 780.8 539.3 781.8 538.2 782.8 535.4 783.3 534.6 783.8 535.1 785.0 538.3 785.8 539.2 791.3 540.1 795.5 539.4 797.0 538.1 797.5 538.0 799.3 539.6 800.3 540.1 801.3 540.1 802.3 539.6 803.3 540.2 804.3 539.8 805.3 540.1 806.3 539.5 807.3 540.0 808.3 539.6 811.3 540.1 812.3 539.5 813.3 539.8 815.3 539.7 817.0 537.8 817.5 537.6 818.3 538.2 819.3 539.7 820.3 539.5 822.3 539.6 823.3 539.9 825.3 540.0 826.3 539.7 827.3 540.2 829.3 539.8 831.3 539.8 832.3 540.2 834.3 539.6 836.3 540.2 837.3 539.7 839.3 540.2 841.3 539.6 842.3 539.9 843.3 539.7 844.3 540.2 845.3 539.8 847.3 539.4 848.3 537.5 849.0 536.8 849.5 537.1 850.5 538.9 851.3 539.7 852.3 539.9 853.3 539.7 854.3 540.2 855.3 539.7 856.0 539.8 856.5 539.6 858.3 536.8 858.5 536.8 860.0 538.8 861.3 540.0 863.3 539.6 865.3 540.0 866.3 539.8 867.3 540.2 868.3 540.0 870.3 540.1 871.3 539.6 872.3 539.9 873.3 539.7 875.3 540.3 876.3 539.9 877.3 540.3 879.3 539.7 880.3 540.2 881.3 539.7 882.3 540.1 883.3 539.7 884.3 540.3 885.3 540.3 887.3 539.6 888.3 540.2 889.3 540.3 890.3 539.9 891.3 539.8 892.3 540.2 894.0 539.3 895.0 538.0 895.5 537.7 896.3 538.2 897.3 539.7 900.3 539.9 902.8 539.4 904.0 537.4 904.5 537.1 906.8 539.6 907.3 540.0 908.3 540.1 912.3 539.7 914.3 540.2 916.3 539.9 917.3 540.2 918.3 540.1 919.3 539.7 920.3 540.1 921.3 539.7 922.3 540.3 924.3 539.7 926.3 540.0 927.3 539.7 928.3 540.3 929.3 539.9 930.8 539.8 933.0 538.2 934.3 538.7 935.3 539.9 935.8 540.0 937.3 539.6 939.3 540.1 940.3 539.7 943.3 540.1 944.3 539.8 945.3 540.3 946.3 539.8 947.3 539.9 948.3 540.3 949.3 539.8 951.3 540.3 952.3 539.9 953.3 540.0 954.3 539.7 956.3 540.1 957.3 539.9 958.3 540.3 959.3 539.9 960.3 539.8 963.3 540.3 964.3 539.5 965.5 537.2 966.0 536.9 966.5 537.2 968.3 540.0 970.3 539.7 971.3 540.1 972.3 539.8 973.3 540.1 975.3 539.7 977.3 540.3 981.0 539.4 982.0 538.4 982.8 538.0 985.3 540.0 988.3 539.9 989.3 539.7 990.3 540.1 992.3 539.7 993.3 540.1 994.3 539.7 995.3 540.2 997.3 540.0 998.3 540.2 999.8 539.2 1001.0 536.3 1001.5 535.8 1003.0 538.3 1003.5 538.7 1004.0 538.6 1005.0 537.1 1005.5 536.8 1007.8 539.6 1009.3 540.1 1011.3 539.7 1012.3 540.1 1017.3 539.8 1018.0 539.0 1019.0 536.4 1019.5 535.8 1020.0 536.4 1021.5 539.4 1023.3 540.1 1024.3 539.8 1026.3 539.9 1027.3 540.2 1029.3 539.8 1030.3 540.3 1034.3 539.7 1035.3 540.1 1037.3 539.7 1041.3 540.2 1042.3 539.6 1043.3 538.2 1043.8 538.0 1044.5 538.4 1045.8 539.8 1047.3 540.3 1048.3 539.8 1050.3 540.0 1053.3 539.7 1054.3 540.3 1055.3 540.3 1056.3 539.9 1058.3 539.7 1060.3 540.2 1062.3 539.8 1063.3 540.0 1064.3 539.8 1065.3 540.1 1066.3 539.8 1067.3 540.1 1069.3 540.1 1070.3 539.7 1072.3 539.8 1073.8 538.5 1074.5 538.2 1075.0 538.4 1076.3 539.9 1077.3 539.9 1078.3 540.3 1081.3 539.9 1082.3 540.2 1085.3 539.7 1087.3 540.3 1088.3 539.7 1092.3 540.0 1093.3 539.7 1096.3 539.6 1097.3 539.1 1099.3 540.0 1103.3 540.3 1105.3 539.7 1106.3 540.1 1109.3 539.7 1111.3 540.1 1112.3 539.9 1113.3 540.3 1116.3 540.0 1117.3 540.3 1118.3 540.0 1119.3 540.3 1121.3 539.7 1122.3 539.8 1123.3 540.3 1124.3 539.8 1125.3 540.3 1126.3 539.7 1127.3 540.0 1128.3 539.8 1129.3 540.0 1130.3 539.8 1133.3 540.0 1134.3 539.6 1137.3 539.5 1139.3 538.6 1140.3 537.6 1141.3 537.1 1142.3 537.1 1143.3 535.9 1144.3 535.8 1145.3 535.0 1146.3 534.9 1147.3 534.2 1149.3 534.4 1150.5 534.9 1153.3 536.2 1157.5 538.8 1158.0 538.2 1158.3 537.1 1158.8 530.2 1160.3 477.5 1160.8 487.3 1162.0 528.9 1162.5 534.6 1163.0 537.1 1163.5 538.4 1164.8 540.2 1165.5 540.7 1166.0 540.5 1167.5 538.1 1168.0 537.8 1169.5 541.5 1170.0 542.0 1170.8 542.2 1171.5 542.1 1172.0 541.8 1173.0 540.1 1173.8 539.5 1175.0 541.3 1175.8 542.0 1176.3 542.2 1178.5 542.1 1179.3 541.4 1180.0 539.7 1180.5 539.2 1181.0 539.6 1182.3 542.0 1182.8 542.3 1184.3 542.6 1185.8 541.7 1187.0 539.5 1187.5 539.1 1188.0 539.6 1189.3 542.1 1190.0 542.3 1191.3 542.1 1192.5 542.6"/></defs><use href="#a8" fill="#fff" stroke="none"/><use href="#a8" fill="none" stroke="#00ffff"/>
<defs><path id="a7" d="M218.6 561.1 219.6 561.5 221.6 561.1 224.6 561.0 225.6 560.7 228.6 561.1 230.6 560.7 231.6 560.1 232.6 560.2 233.6 559.7 234.6 559.8 235.6 559.5 236.6 558.5 237.6 558.5 238.9 557.1 239.4 557.1 240.4 558.1 240.9 557.9 241.9 553.5 243.1 543.8 243.9 524.2 244.6 460.5 246.1 171.4 246.6 132.0 248.6 450.4 249.4 490.3 250.6 514.6 251.4 522.9 252.1 528.3 252.9 531.5 253.4 532.5 253.6 532.5 254.1 530.6 254.4 527.9 254.9 513.6 255.6 437.0 256.6 218.4 257.1 167.8 257.6 218.8 258.9 467.1 259.4 508.3 259.9 524.6 260.4 531.1 260.9 534.4 262.1 539.2 263.1 541.9 263.6 542.5 264.1 542.3 265.6 538.3 265.9 537.9 266.1 538.0 267.6 544.4 268.1 545.8 268.9 547.0 269.6 547.9 270.6 548.5 271.6 549.9 272.1 550.2 273.1 550.5 274.6 550.0 275.1 550.2 275.9 551.1 277.4 553.9 278.4 555.0 278.9 555.0 279.4 554.2 279.9 551.3 281.4 529.2 281.6 527.0 281.9 526.5 282.4 530.5 283.9 550.3 284.6 553.6 285.1 554.2 286.6 555.1 289.6 556.1 291.1 554.3 292.6 552.0 293.9 554.2 295.1 555.7 295.6 556.0 297.6 556.3 299.6 556.1 300.6 555.5 301.6 555.3 303.6 555.5 304.6 555.1 305.4 555.1 306.6 555.3 307.6 555.2 308.6 554.6 310.6 554.5 312.6 554.9 315.6 554.7 317.6 555.1 318.6 554.7 319.6 555.2 320.6 555.0 321.6 555.7 322.6 555.8 323.6 555.5 330.6 556.8 331.6 557.0 334.6 556.7 335.6 557.1 336.6 556.9 338.6 555.3 339.4 553.2 340.1 549.8 341.1 541.7 342.1 528.7 344.6 486.4 345.1 480.8 345.6 477.9 345.9 477.9 346.4 483.4 348.4 521.0 349.1 526.8 350.4 531.3 353.6 538.1 354.4 538.8 354.9 538.1 355.1 537.2 356.4 529.5 356.6 528.7 356.9 528.7 357.4 531.3 358.6 541.9 359.1 543.1 359.4 542.8 360.1 535.5 361.1 512.1 361.6 506.9 363.1 536.2 363.6 542.5 364.1 545.4 364.6 546.7 365.6 548.2 366.6 548.2 367.6 548.7 369.1 547.4 370.4 545.5 370.9 543.9 371.4 539.9 372.1 516.8 373.6 347.2 373.9 330.9 374.1 330.5 375.6 490.2 376.1 519.9 376.9 536.1 377.4 540.2 378.4 544.9 379.4 547.8 380.6 550.5 381.1 550.5 381.6 549.4 383.4 538.6 383.6 538.8 383.9 540.0 385.4 549.7 385.9 550.4 386.9 550.6 387.1 550.9 388.9 554.8 390.6 555.4 391.6 555.2 393.6 555.3 394.6 554.9 396.4 553.6 396.9 552.8 397.9 548.8 399.9 531.4 400.4 523.0 400.6 513.3 401.1 473.3 402.1 325.9 402.6 292.7 403.1 329.1 404.4 499.6 405.1 534.4 405.6 541.2 406.1 544.6 406.9 547.7 408.1 551.1 409.1 552.8 409.6 553.2 410.1 553.1 410.6 552.1 411.9 546.1 412.1 545.5 412.4 545.6 412.9 547.4 413.9 553.5 414.4 555.3 414.9 556.0 415.4 555.7 415.9 554.3 417.4 543.6 417.9 542.3 418.4 544.5 419.6 553.9 420.1 555.5 421.1 556.6 423.6 557.7 425.6 557.5 426.6 557.7 427.4 556.8 428.6 554.6 429.1 554.9 430.4 557.2 430.9 557.6 432.6 557.6 433.6 558.2 435.4 557.6 436.1 557.1 437.4 555.1 437.9 554.9 438.4 555.4 439.6 557.5 440.1 557.9 440.6 558.1 444.1 558.0 444.9 557.7 445.4 557.1 447.4 553.2 447.9 553.7 449.4 557.4 450.1 558.0 451.6 557.6 453.6 557.8 454.6 558.3 455.4 558.2 456.1 557.6 457.4 555.3 457.9 554.9 458.4 555.3 459.6 557.5 460.4 558.1 461.1 558.2 463.6 557.7 464.6 558.1 465.6 558.1 467.1 557.1 468.4 554.4 468.9 554.0 469.4 554.6 470.6 557.3 472.6 558.1 473.4 558.0 474.1 557.2 474.6 555.6 476.1 544.2 476.6 542.4 477.1 544.6 478.4 553.7 478.9 555.5 479.4 556.3 480.1 556.4 481.1 555.9 481.6 555.2 482.6 552.6 483.1 552.9 484.6 555.7 485.1 556.0 485.6 555.9 487.6 554.1 488.9 551.5 489.6 548.2 490.1 543.3 490.9 519.2 491.4 478.8 492.6 314.7 492.9 299.1 493.1 298.4 494.9 495.3 495.6 533.4 496.1 542.3 496.6 546.4 497.1 548.4 498.1 551.2 499.1 553.2 500.1 554.4 502.6 556.6 504.6 557.2 505.6 557.1 506.6 557.6 508.1 557.5 508.9 556.6 510.1 552.6 510.6 551.9 511.1 552.8 512.4 556.9 512.9 557.7 513.6 558.3 514.6 558.1 516.6 558.7 517.6 558.1 519.4 557.9 520.9 554.9 521.4 554.4 521.9 554.9 523.1 557.7 523.6 558.2 524.1 558.1 524.9 556.4 525.4 553.1 526.6 536.7 527.1 533.9 527.6 537.4 529.1 554.3 529.9 556.9 531.1 557.6 531.6 557.5 532.1 556.5 533.4 551.5 533.9 550.8 534.4 551.8 535.6 557.4 536.1 558.2 537.1 558.6 537.9 558.4 538.6 557.5 539.4 555.9 539.9 555.5 542.6 559.1 543.6 558.6 544.6 559.0 546.6 559.1 547.4 558.9 548.4 558.3 549.6 556.3 550.1 555.9 550.6 556.3 551.6 558.2 552.4 559.0 552.6 559.1 554.1 558.8 555.1 558.2 556.6 555.9 557.1 556.3 558.1 558.0 558.9 558.7 560.6 559.4 561.6 559.1 562.6 559.3 564.1 556.9 564.9 556.3 565.4 556.5 566.9 558.8 567.6 559.4 568.6 559.0 569.6 559.6 570.6 559.4 571.6 559.6 572.6 559.2 573.6 559.5 575.4 559.5 576.4 558.9 577.9 555.7 578.4 555.3 578.9 555.8 580.1 558.4 581.6 559.8 583.6 559.6 585.6 559.8 586.6 559.4 588.6 559.9 590.6 559.9 591.6 559.5 592.6 559.5 593.6 560.0 595.1 558.8 596.4 557.2 596.9 557.0 597.4 557.4 598.6 559.2 599.6 559.8 601.6 559.7 602.6 560.1 603.6 559.6 605.6 560.2 606.6 559.9 609.6 560.2 610.6 559.7 613.6 560.3 614.6 559.8 615.4 559.9 615.9 559.7 617.6 557.0 618.1 557.2 619.6 559.6 620.6 560.3 622.6 559.9 623.6 560.5 625.6 560.4 626.6 560.1 628.6 560.6 629.6 560.0 630.6 560.5 631.6 560.5 632.6 560.1 635.6 560.7 638.6 560.1 640.6 560.7 641.6 560.7 642.6 560.3 643.6 560.8 644.4 560.2 644.9 559.2 646.4 552.4 646.9 551.6 647.4 552.9 648.6 558.6 649.1 559.5 649.9 559.9 652.6 560.9 654.6 560.9 655.6 560.4 658.6 560.9 661.1 560.9 661.9 560.1 663.4 555.3 663.9 554.8 665.9 559.9 666.4 560.5 666.9 560.6 667.4 560.2 667.9 558.4 669.4 544.7 669.6 543.4 669.9 543.2 671.9 557.3 672.1 557.9 672.4 558.0 672.6 557.7 673.9 552.3 674.1 551.8 674.4 551.8 674.9 553.1 676.4 559.9 676.9 560.7 677.4 560.7 677.9 560.6 678.4 560.0 679.1 556.0 680.6 530.3 681.1 526.2 681.6 531.0 682.9 552.2 683.6 557.7 684.1 558.5 684.9 556.6 686.1 547.1 686.6 545.4 688.6 558.1 689.1 559.4 690.6 560.9 691.4 560.3 691.9 558.9 693.4 548.4 693.6 547.3 693.9 547.2 695.9 558.7 696.9 560.3 698.6 561.3 699.6 561.0 701.6 561.5 702.6 560.9 704.6 561.0 705.6 561.3 706.6 561.1 707.6 561.4 708.6 561.1 709.6 561.1 711.6 561.6 712.6 561.7 713.6 561.1 715.6 561.7 716.6 561.7 717.6 561.2 723.6 561.7 724.6 561.1 725.6 561.7 726.6 561.2 727.6 561.6 728.6 561.1 729.9 561.4 730.4 561.3 730.9 560.3 731.4 557.6 732.9 539.8 733.4 537.4 733.9 540.8 735.1 555.9 735.6 558.8 736.1 560.2 736.6 560.9 737.4 560.7 738.1 560.3 739.6 556.9 740.1 556.3 740.6 556.9 741.6 559.8 742.4 561.1 742.9 561.4 744.6 561.6 745.6 561.2 748.6 561.8 750.6 561.4 751.6 561.9 753.6 561.4 755.9 561.4 757.1 560.0 758.6 556.3 760.4 560.6 760.9 561.3 761.6 561.8 764.6 561.5 766.6 562.0 768.6 561.4 770.1 561.6 771.1 561.3 772.4 560.1 773.1 559.8 775.6 561.8 776.6 561.5 778.6 562.0 781.6 561.5 782.6 561.9 783.6 561.8 784.6 562.0 786.6 561.6 787.6 561.9 788.6 561.4 789.6 562.0 791.1 561.2 792.1 560.3 792.9 560.0 793.4 560.3 794.9 561.7 795.6 562.0 797.6 561.5 798.6 561.5 803.6 561.8 804.6 561.5 805.6 561.5 806.6 561.8 808.6 561.5 810.6 562.0 813.6 562.1 814.6 561.5 815.6 561.5 817.6 561.5 818.6 561.9 819.6 561.6 820.6 561.8 821.9 561.4 822.4 560.9 823.9 556.3 824.4 555.9 826.6 561.3 827.6 561.7 829.6 561.5 830.6 561.8 831.9 560.7 833.4 556.3 833.6 555.8 833.9 555.8 835.4 560.0 836.4 561.7 836.6 561.9 838.6 561.6 839.6 561.8 840.6 561.8 841.6 562.2 844.6 561.7 845.6 562.1 848.6 561.5 849.6 562.1 854.6 561.6 855.6 562.1 856.6 561.7 857.6 562.1 860.6 562.1 861.6 561.6 862.6 561.9 864.6 562.0 865.6 561.6 866.6 562.1 867.4 562.0 869.1 561.2 870.9 559.9 871.6 560.3 872.9 561.9 875.6 562.1 876.6 561.6 877.6 561.6 879.6 558.7 880.1 559.0 881.6 561.4 882.6 562.1 883.6 561.9 884.6 562.2 885.6 562.2 886.6 561.6 887.6 561.5 888.6 561.8 892.6 562.1 893.6 561.6 894.6 562.0 895.6 561.6 896.6 561.9 897.6 561.7 898.6 562.1 899.6 562.1 902.6 561.5 903.6 562.0 904.6 562.0 906.6 561.5 907.9 559.9 909.6 560.7 910.4 561.5 911.6 562.1 912.6 561.6 914.6 561.5 915.6 562.0 916.6 561.9 917.6 562.2 918.6 561.7 920.6 561.6 922.6 562.1 925.6 561.7 927.6 562.0 928.6 561.8 930.6 562.2 931.6 562.0 932.6 562.2 934.6 561.5 936.6 562.0 937.6 561.5 938.6 561.7 939.4 561.5 941.1 559.0 941.6 558.7 943.4 561.7 943.6 561.9 944.6 561.6 945.6 562.2 946.6 561.6 947.6 561.9 949.6 561.9 950.6 562.2 951.6 561.9 952.6 562.1 954.6 562.2 955.6 561.5 956.6 561.2 957.6 559.7 959.1 561.3 959.9 561.8 962.6 562.1 963.6 561.8 964.6 562.0 969.6 561.7 970.6 562.1 971.6 562.2 972.6 561.6 973.6 561.9 974.4 561.5 975.1 560.7 976.4 558.2 976.9 557.9 978.6 560.8 979.1 560.8 980.4 559.3 980.9 559.2 982.4 560.9 983.4 561.6 985.6 562.0 986.6 561.6 987.6 561.7 988.6 562.2 989.6 561.7 992.6 561.9 994.4 558.2 994.9 557.8 995.4 558.3 996.9 561.4 997.4 561.8 998.6 562.2 999.6 561.7 1000.6 562.1 1002.6 561.8 1005.6 561.9 1007.6 561.6 1009.6 562.2 1010.6 561.7 1011.6 561.9 1013.6 561.7 1014.6 561.7 1015.6 562.2 1016.1 562.2 1017.4 561.6 1018.9 559.9 1019.4 559.6 1020.1 560.1 1021.6 562.0 1022.6 561.6 1023.6 562.2 1026.6 561.7 1028.6 562.2 1029.6 561.7 1032.6 561.7 1033.6 562.0 1034.6 561.7 1035.6 562.1 1036.6 561.6 1037.6 562.0 1040.6 561.7 1041.6 562.1 1043.6 561.6 1046.6 561.8 1048.1 561.1 1049.6 559.7 1052.1 561.8 1053.6 562.1 1055.6 561.7 1056.6 562.1 1059.6 561.7 1062.6 562.0 1063.6 561.8 1065.6 562.2 1066.6 562.2 1067.6 561.6 1068.6 562.1 1071.1 561.8 1072.9 560.9 1075.4 562.0 1076.6 561.7 1078.6 562.2 1080.6 561.6 1081.6 562.2 1083.6 561.6 1085.6 562.1 1087.6 561.8 1088.6 562.0 1089.6 561.6 1090.6 562.1 1091.6 562.2 1092.6 561.9 1093.6 562.2 1095.6 562.0 1097.6 561.6 1098.6 562.0 1101.6 561.7 1102.6 561.9 1103.6 561.6 1105.6 561.9 1106.6 561.6 1108.6 561.8 1109.6 561.2 1110.6 561.5 1112.6 560.6 1115.6 558.1 1117.6 555.4 1118.6 554.6 1119.6 553.4 1120.6 552.8 1121.6 551.8 1122.6 551.3 1123.9 551.6 1126.6 552.7 1127.6 554.4 1130.6 557.2 1131.6 558.8 1132.6 559.5 1133.1 559.3 1133.6 557.0 1134.1 548.8 1135.1 507.6 1135.6 497.2 1137.4 551.3 1137.9 556.4 1138.9 559.8 1140.4 562.2 1141.1 562.7 1141.6 562.5 1142.6 560.4 1143.1 559.9 1143.6 560.5 1144.6 563.2 1145.1 563.7 1146.6 564.4 1148.1 562.1 1148.9 561.6 1150.6 563.8 1152.6 564.3 1153.6 564.2 1154.4 563.6 1155.6 561.3 1156.1 561.6 1157.6 564.2 1158.6 564.4 1161.1 563.7 1161.6 563.2 1162.6 561.1 1163.1 561.4 1164.6 563.9 1165.6 564.0 1166.6 564.6 1167.9 564.5"/></defs><use href="#a7" fill="#fff" stroke="none"/><use href="#a7" fill="none" stroke="#ff0000"/>
<defs><path id="a6" d="M194.0 582.1 195.0 582.7 196.0 582.3 200.0 582.5 203.0 582.2 205.0 581.5 206.0 581.7 207.0 581.7 208.0 580.9 212.8 579.4 214.8 577.9 216.0 579.1 216.5 578.2 217.0 575.7 218.5 564.0 219.3 543.6 220.0 476.8 221.5 173.7 222.0 132.0 222.5 192.7 223.5 403.0 224.3 484.8 224.8 507.5 225.8 529.3 227.0 543.9 227.8 548.7 228.5 551.3 229.0 551.6 229.3 551.1 229.8 546.9 230.5 515.5 231.0 451.1 232.0 219.8 232.5 166.0 233.0 219.7 234.0 444.9 234.8 526.5 235.3 543.7 235.8 550.6 236.8 556.6 237.8 560.3 238.5 562.1 239.3 562.8 239.8 562.3 240.8 559.3 241.3 558.4 241.8 559.4 243.3 565.8 245.0 568.8 247.0 571.0 248.3 571.7 249.0 571.8 250.5 571.1 251.0 571.2 253.0 575.4 253.5 575.9 254.3 576.0 254.8 575.3 255.3 572.5 256.8 550.4 257.0 548.3 257.3 547.8 257.8 551.7 259.3 571.4 260.0 574.6 260.5 575.3 262.0 576.3 265.0 576.9 265.8 576.2 267.5 573.6 268.0 573.3 268.8 574.1 270.0 576.7 271.0 577.3 274.0 576.8 275.0 576.8 276.0 577.1 277.0 576.9 278.0 576.2 279.0 576.7 280.0 576.0 281.0 576.4 282.0 575.9 285.0 576.1 286.0 575.6 287.0 576.0 288.0 575.7 291.0 576.1 292.0 575.9 293.0 576.4 295.0 576.6 296.0 576.3 299.0 577.0 301.0 576.8 303.0 577.3 305.0 577.3 306.0 577.5 307.0 578.1 308.0 577.7 309.0 578.1 311.8 578.0 313.5 576.8 314.3 575.6 315.3 571.6 316.5 561.7 317.5 548.4 319.8 510.0 320.5 501.2 321.0 498.6 321.3 499.2 321.8 505.7 323.0 532.4 323.8 542.8 324.5 548.0 326.0 553.1 328.0 557.6 329.3 559.3 329.8 559.5 330.5 558.2 331.5 552.8 332.0 551.2 332.5 552.7 334.0 563.6 334.5 564.6 334.8 564.1 335.5 555.5 336.5 532.0 336.8 528.9 337.0 529.0 338.5 558.6 339.3 565.6 339.8 567.3 340.5 568.5 341.3 569.2 342.5 569.6 343.0 569.7 343.8 569.0 345.5 566.6 346.3 564.1 346.8 559.1 347.5 530.8 349.3 334.3 349.5 338.9 349.8 358.4 351.0 512.2 351.5 541.1 352.3 556.7 352.8 560.7 353.8 565.5 354.5 567.8 356.0 571.2 356.5 571.2 357.0 570.0 358.3 561.4 358.8 559.4 359.3 561.1 360.8 571.0 361.0 571.5 362.0 571.1 362.3 571.4 363.5 574.4 364.5 575.9 365.0 576.3 366.0 576.7 368.0 576.6 370.5 575.5 372.0 574.4 372.8 572.0 373.8 565.3 375.3 551.8 375.8 541.8 376.5 486.2 377.5 338.6 377.8 317.9 378.0 315.0 379.5 504.1 380.0 541.3 380.8 560.8 381.5 566.3 382.5 570.0 383.3 571.9 384.5 574.0 385.0 574.7 385.3 574.6 386.0 572.9 387.3 566.9 387.5 566.4 387.8 566.6 389.5 575.9 390.0 577.2 390.5 577.3 391.3 575.4 392.5 565.7 393.0 563.5 393.3 563.7 393.5 564.7 395.3 576.0 396.0 577.6 397.0 578.3 399.0 578.1 400.0 578.8 401.0 578.5 402.0 578.6 402.8 577.8 403.8 576.3 404.3 576.0 405.0 576.6 406.3 578.6 408.0 579.0 410.0 579.1 411.5 578.0 412.8 576.4 413.3 576.2 414.0 576.8 415.0 578.5 419.8 579.0 420.3 578.8 420.8 578.1 422.3 574.8 422.8 574.3 423.3 574.9 424.5 578.0 426.0 579.3 427.0 578.7 428.0 579.1 429.0 579.1 430.0 578.7 431.0 578.8 432.8 576.2 433.3 575.9 433.8 576.3 435.0 578.3 435.5 578.6 439.0 579.1 441.0 578.8 442.3 578.1 444.0 575.0 444.5 575.3 445.5 577.4 446.3 578.2 448.0 578.8 449.3 578.0 450.0 575.5 451.5 560.2 451.8 558.7 452.0 558.5 453.8 573.3 454.3 575.6 454.8 576.7 455.5 577.1 456.3 576.6 458.0 572.9 458.5 572.9 459.5 574.3 460.5 575.0 461.0 574.9 462.0 573.6 463.3 570.6 464.0 568.1 465.0 561.3 465.5 552.2 466.0 528.3 466.8 430.0 467.8 194.5 468.3 132.9 468.5 139.4 468.8 169.6 470.3 481.4 471.0 539.7 471.8 556.3 472.3 560.8 473.3 566.3 475.0 571.9 477.0 575.4 479.0 576.5 480.0 577.4 481.0 577.3 483.0 578.1 483.5 577.9 484.3 576.8 485.5 573.3 486.0 572.9 486.5 573.7 487.8 577.6 488.5 578.6 490.0 579.2 491.0 579.1 492.0 579.3 493.0 579.1 494.0 579.5 494.8 578.9 496.3 575.9 496.8 575.3 497.0 575.4 498.5 578.6 499.0 579.0 499.5 579.0 500.0 578.2 500.5 575.6 502.0 556.9 502.3 555.2 502.5 555.1 504.5 575.5 505.3 578.1 506.3 578.9 506.8 578.7 507.3 578.0 508.8 572.4 509.3 571.9 509.8 573.1 511.0 578.2 511.5 579.2 512.5 579.8 513.3 579.5 515.0 576.6 516.5 578.8 518.0 580.1 520.0 579.9 522.0 580.3 523.0 580.1 524.0 579.1 525.0 577.0 525.5 576.8 526.0 577.4 527.0 579.4 529.0 580.3 530.5 579.4 531.8 577.5 532.3 577.3 534.0 579.9 536.0 580.4 538.0 579.8 539.5 577.9 540.3 577.6 541.8 579.4 543.0 580.3 544.0 580.1 545.0 580.5 546.0 580.3 548.0 580.3 549.0 580.6 551.5 579.8 553.0 576.9 553.5 576.5 554.0 577.0 555.5 579.8 557.0 580.7 558.0 580.3 559.0 580.7 560.0 580.4 562.0 580.6 564.0 580.5 565.0 580.8 567.0 580.8 569.0 580.4 570.0 580.7 572.0 577.6 572.5 577.9 574.0 580.3 575.0 581.1 576.0 580.6 578.0 580.9 579.0 581.2 580.0 580.8 583.0 581.3 586.0 581.4 587.0 580.9 590.0 581.2 591.5 580.2 593.0 578.3 595.5 581.0 597.0 581.6 598.0 581.0 599.0 581.3 600.0 581.1 601.0 581.4 603.0 581.1 604.0 581.6 605.0 581.4 606.0 581.6 607.0 581.1 608.0 581.5 609.0 581.4 611.0 581.8 612.0 581.2 613.0 581.8 618.8 581.9 619.8 581.3 620.3 580.2 622.0 571.7 622.5 572.6 624.0 579.5 625.0 581.3 626.0 581.4 627.0 581.3 629.0 582.0 633.0 581.5 634.0 582.0 636.3 581.8 637.3 580.9 638.8 576.5 639.3 576.1 639.8 576.9 641.0 581.1 641.8 581.8 642.3 581.2 642.8 578.9 643.3 572.7 645.0 528.4 645.3 529.0 645.5 532.8 646.8 565.6 647.5 575.2 647.8 576.2 648.0 576.3 648.3 576.1 649.3 573.3 649.5 572.9 649.8 572.9 651.3 579.4 651.8 580.6 652.3 581.2 653.5 581.4 654.0 580.4 654.3 578.8 654.8 573.2 656.0 549.4 656.3 546.8 656.5 546.7 658.3 574.0 658.8 577.7 659.3 578.7 659.5 578.2 660.3 571.0 661.5 544.1 661.8 541.3 662.0 541.2 663.8 572.5 664.5 578.6 665.3 580.4 666.3 580.9 667.0 579.9 669.0 566.8 669.5 568.2 670.5 575.9 671.3 579.8 672.0 581.3 673.0 582.0 675.0 582.0 676.0 581.8 677.0 582.4 679.0 581.9 681.0 582.0 683.0 582.5 684.0 582.1 685.0 582.1 686.0 582.5 687.0 582.6 688.0 582.5 689.0 582.0 690.0 582.3 693.0 582.2 694.0 582.5 698.0 582.0 699.0 581.6 700.0 581.9 702.0 581.3 704.3 579.9 705.3 578.3 705.8 576.1 706.3 570.5 707.0 547.2 708.0 486.9 708.5 469.1 708.8 469.6 709.0 476.3 710.5 554.0 711.3 570.2 712.0 575.3 712.8 576.8 713.5 577.8 714.0 578.0 715.0 576.9 715.3 577.0 717.0 580.4 717.5 580.9 719.0 581.6 722.0 582.1 723.0 581.9 724.0 582.4 725.0 582.6 726.0 582.2 727.0 582.6 728.0 582.2 729.0 582.8 730.0 582.2 731.0 582.5 731.5 582.2 732.3 581.0 733.5 577.4 734.0 576.9 734.5 577.6 736.0 582.3 738.0 582.7 740.0 582.5 742.0 583.0 744.0 582.5 745.0 582.9 746.5 582.1 748.0 580.4 750.5 582.5 753.0 582.5 754.0 582.9 755.0 583.0 757.0 582.5 758.0 583.1 759.0 582.6 760.0 582.8 761.0 582.5 762.0 583.1 763.0 582.7 764.0 583.0 765.0 582.7 766.0 582.9 767.3 581.3 768.0 580.8 768.8 581.1 770.0 582.7 773.0 582.6 774.0 583.1 775.0 582.6 776.0 583.1 777.0 582.6 779.0 583.0 780.0 582.6 782.0 583.0 783.0 582.9 784.0 583.2 787.0 583.2 789.0 582.5 791.0 583.1 793.0 583.1 794.0 582.7 796.0 583.1 797.5 582.0 799.3 577.5 799.8 577.0 801.8 582.6 802.3 583.0 804.0 582.8 805.0 583.2 806.3 582.9 807.3 581.8 808.8 577.5 809.3 577.2 811.3 582.2 813.0 583.2 815.0 582.8 817.0 583.3 819.0 582.6 820.0 583.0 821.0 582.9 822.0 583.2 823.0 583.2 825.0 582.6 826.0 583.3 827.0 582.8 828.0 582.6 830.0 583.0 831.0 583.0 832.0 582.7 833.0 583.2 835.0 582.7 836.0 582.7 837.0 583.2 838.0 583.1 839.0 582.6 840.0 583.1 843.8 583.1 844.3 582.8 845.0 581.5 846.0 581.0 846.5 581.1 847.8 582.5 848.5 582.9 852.8 583.0 853.3 582.7 854.8 580.1 855.3 579.8 856.0 580.6 857.0 582.6 859.0 582.8 860.0 583.3 862.0 583.0 863.0 583.2 867.0 583.1 868.0 582.8 872.0 582.7 874.0 582.7 875.0 583.2 877.0 582.8 878.0 583.2 879.0 583.2 880.0 582.7 881.8 582.8 883.0 581.2 883.5 581.0 885.5 582.4 887.0 582.7 888.0 583.2 889.0 582.8 890.0 583.0 891.0 582.7 893.0 582.7 894.0 583.2 896.0 583.3 897.0 583.0 899.0 583.2 902.0 582.8 903.0 583.3 904.0 582.7 909.0 583.3 910.0 582.8 911.0 583.1 912.0 582.8 913.0 583.3 914.8 582.3 916.0 580.4 916.5 580.0 917.0 580.3 918.3 582.4 919.3 582.9 923.0 583.3 924.0 582.8 925.0 582.7 926.0 583.2 927.0 582.8 928.0 583.2 930.0 582.8 931.0 582.9 931.8 582.5 932.8 581.2 933.3 580.9 934.0 581.3 935.0 582.9 936.0 582.7 938.0 583.1 939.0 583.0 941.0 583.2 942.0 582.7 943.0 583.2 944.0 582.8 945.0 583.3 946.0 582.7 947.0 583.1 948.0 582.7 949.0 583.1 949.5 582.8 950.8 581.5 952.0 578.8 952.5 579.0 954.0 582.2 954.5 581.9 955.5 580.4 956.3 580.1 957.0 580.7 958.0 582.8 959.0 582.6 960.0 583.2 961.0 582.9 962.0 583.3 963.0 582.9 964.0 583.3 965.0 583.3 966.0 582.6 968.0 582.8 970.0 578.7 970.5 579.3 971.5 581.5 972.8 582.8 975.0 582.7 976.0 583.1 977.0 583.1 979.0 582.9 982.0 583.3 983.0 582.7 984.0 583.2 985.0 582.8 986.0 583.0 987.0 582.6 990.0 583.1 991.0 582.7 992.0 582.9 994.5 581.2 998.0 583.0 999.0 582.7 1002.0 582.6 1003.0 583.1 1004.0 582.9 1005.0 583.2 1007.0 582.7 1009.0 583.3 1011.0 582.9 1012.0 583.3 1014.0 583.0 1018.0 583.0 1020.0 582.8 1021.0 583.1 1023.5 582.3 1025.0 580.7 1026.5 582.4 1027.3 582.9 1028.0 583.1 1029.0 582.8 1032.0 583.3 1033.0 583.0 1034.0 583.2 1035.0 582.9 1037.0 583.1 1038.0 582.7 1040.0 583.3 1041.0 582.9 1043.0 583.2 1044.0 582.9 1045.0 583.1 1046.0 582.9 1047.0 582.2 1048.3 581.9 1052.0 583.1 1053.0 582.7 1054.0 582.9 1056.0 582.8 1058.0 583.3 1060.0 583.1 1061.0 583.2 1062.0 582.9 1065.0 582.7 1066.0 582.7 1067.0 583.1 1068.0 582.8 1070.0 582.9 1071.0 582.6 1073.0 583.3 1074.0 582.7 1076.0 583.0 1077.0 582.9 1078.0 583.2 1079.0 582.9 1080.0 583.0 1083.0 582.4 1084.0 582.5 1085.0 581.9 1087.0 581.5 1088.0 580.7 1090.0 578.3 1091.0 576.4 1092.0 575.2 1093.0 572.9 1097.0 566.9 1098.5 566.3 1099.8 566.6 1101.0 567.8 1103.0 570.9 1106.0 576.5 1107.8 578.6 1108.5 579.1 1108.8 578.9 1109.3 576.6 1109.5 573.7 1110.5 552.1 1110.8 548.6 1111.0 548.5 1112.5 575.4 1113.3 580.5 1114.3 582.6 1116.0 584.2 1116.5 583.6 1117.0 581.9 1118.0 576.0 1118.3 575.2 1118.5 575.1 1120.0 583.0 1120.5 584.4 1121.0 584.9 1121.5 585.0 1122.3 584.7 1123.8 582.5 1124.3 582.4 1126.0 584.9 1128.3 585.7 1129.3 585.1 1131.0 582.3 1131.5 582.7 1133.0 585.2 1134.0 585.2 1135.0 585.6 1136.3 584.8 1137.5 582.9 1138.3 582.5 1138.8 582.9 1140.0 585.2 1142.0 585.7 1143.3 585.4"/></defs><use href="#a6" fill="#fff" stroke="none"/><use href="#a6" fill="none" stroke="#800080"/>
<defs><path id="a5" d="M169.4 603.6 171.4 604.0 172.4 603.5 173.4 603.7 174.4 603.3 175.4 603.4 176.4 603.1 178.4 603.6 182.4 602.5 183.4 602.6 185.4 602.2 187.4 601.2 190.2 599.3 191.4 600.3 191.9 599.3 192.4 596.8 193.9 585.6 194.7 565.2 195.4 498.3 196.9 195.5 197.4 154.0 197.9 214.6 198.9 424.9 199.7 506.7 200.2 529.2 201.2 550.9 202.4 565.4 203.2 570.5 203.9 573.1 204.2 573.4 204.4 573.3 204.7 572.8 205.2 568.6 205.9 536.6 206.4 471.7 207.4 239.1 207.9 185.0 208.4 239.0 209.4 466.0 210.2 547.9 210.7 565.0 211.2 571.8 212.4 578.9 214.2 583.9 214.7 584.4 215.2 584.0 216.4 579.8 216.7 579.6 217.2 580.8 218.7 587.0 219.4 589.1 220.4 589.8 223.4 593.1 224.2 593.1 225.4 592.3 226.2 592.5 226.9 593.6 228.4 597.0 229.2 597.5 229.7 597.5 230.2 596.6 230.7 593.3 232.2 567.3 232.4 564.7 232.7 564.3 233.2 569.2 234.2 586.3 234.9 593.5 235.4 595.4 235.9 596.2 236.4 596.7 237.4 597.0 238.4 598.1 240.9 597.8 241.7 596.9 242.9 594.8 243.4 594.5 245.2 597.5 246.4 598.9 249.4 598.3 252.4 598.0 253.4 598.3 255.4 597.5 256.4 597.6 258.4 597.2 259.4 597.3 261.4 597.0 262.4 597.5 263.4 597.2 264.4 597.3 267.4 597.1 268.4 597.6 272.4 598.1 273.4 597.9 274.4 597.9 275.4 598.6 276.4 598.8 278.4 598.5 281.4 599.3 282.4 599.0 283.4 599.1 284.4 599.6 287.6 598.8 288.6 598.2 289.4 597.3 290.1 594.8 290.9 591.0 291.6 584.7 292.9 567.6 295.1 526.6 295.9 518.0 296.4 516.0 297.1 524.6 298.9 560.4 299.6 567.1 300.9 572.1 303.9 579.1 304.4 580.0 304.9 580.4 305.1 580.4 305.6 579.6 306.9 573.4 307.4 572.3 307.9 574.2 309.1 583.7 309.6 585.5 309.9 585.6 310.4 583.4 310.6 580.7 312.1 554.3 312.6 558.4 313.9 582.2 314.6 587.9 315.1 589.4 316.4 591.0 319.4 591.7 320.9 590.6 321.4 589.8 321.9 587.7 322.6 575.3 323.1 551.3 324.1 466.1 324.6 446.5 325.1 466.8 326.4 560.7 326.9 577.0 327.6 585.8 328.9 590.6 330.1 593.3 331.1 594.5 331.6 594.4 331.9 594.1 332.4 592.4 333.6 583.0 334.1 581.6 335.9 592.3 336.4 593.4 337.1 593.1 337.6 593.3 339.4 597.1 341.4 597.6 342.4 597.3 343.4 597.4 346.4 595.8 347.4 594.2 348.1 591.8 348.6 588.7 350.4 571.2 351.1 551.7 351.6 507.6 353.1 259.0 353.4 262.0 353.6 287.6 355.1 538.3 355.9 573.7 356.6 583.1 357.9 589.3 359.4 593.6 360.1 594.8 360.6 594.9 361.4 593.3 362.6 587.8 362.9 587.4 363.1 587.6 364.6 596.2 365.1 597.7 365.6 598.1 366.1 597.6 366.6 595.8 367.9 586.5 368.4 584.5 368.9 586.1 370.1 595.7 370.6 597.9 371.4 599.2 372.9 599.7 374.4 599.9 375.4 599.7 376.4 600.2 377.1 600.0 378.1 599.1 379.4 596.9 379.9 597.2 381.4 599.6 383.4 600.6 384.4 600.4 385.4 600.6 385.9 600.3 387.1 599.2 388.4 597.3 388.9 597.6 390.1 599.6 390.9 600.3 394.9 600.5 395.6 600.2 396.1 599.7 397.4 596.0 397.9 595.4 398.6 596.5 399.9 599.6 401.4 600.6 403.4 600.7 404.4 600.3 406.1 600.0 406.9 599.5 407.9 597.9 408.4 597.5 408.9 597.7 410.1 599.6 411.1 600.4 413.4 600.6 415.9 600.2 416.9 599.9 417.9 599.1 419.4 596.0 419.9 596.4 421.4 599.7 421.9 599.9 423.6 599.9 424.1 599.6 424.6 599.0 425.4 595.3 426.6 579.1 427.1 575.0 427.6 577.3 428.9 592.3 429.4 595.7 429.9 597.5 430.4 598.1 430.6 598.1 431.6 597.5 432.4 596.3 433.4 593.8 433.9 594.3 434.9 596.3 435.4 596.7 436.1 596.2 437.9 593.7 438.6 592.0 439.6 587.9 440.4 582.0 440.9 571.3 441.4 544.0 442.1 436.3 443.1 199.9 443.6 150.5 444.1 200.4 445.4 476.2 446.1 552.8 446.9 575.3 447.9 584.1 448.9 588.9 450.4 593.6 451.4 595.4 452.4 596.2 453.4 597.5 454.4 597.9 455.4 598.8 456.4 599.3 457.4 599.2 458.4 599.9 458.6 599.8 459.4 599.0 460.9 594.4 461.4 594.0 463.1 599.3 464.1 600.5 465.4 600.4 466.4 600.9 467.4 600.5 469.4 600.8 470.1 600.1 471.4 597.3 471.9 596.7 472.4 597.0 473.9 600.1 474.4 600.5 474.9 600.4 475.4 599.3 475.9 595.6 477.1 576.1 477.6 571.4 478.1 574.2 479.1 589.0 479.9 596.6 480.4 598.9 480.9 599.9 481.4 600.3 482.1 599.8 482.6 598.6 483.9 592.4 484.4 591.3 484.6 591.4 484.9 592.0 486.4 599.3 487.4 601.2 488.4 600.8 489.9 598.4 490.4 598.1 490.9 598.4 492.1 600.4 493.4 601.6 494.4 601.2 498.4 601.6 500.1 598.8 500.6 598.5 502.6 601.1 504.9 601.6 505.4 601.4 505.9 600.9 507.4 598.4 508.1 599.0 509.4 601.4 510.1 601.8 511.4 601.5 512.4 601.7 512.9 601.5 513.9 600.8 515.1 599.0 515.6 598.9 517.1 600.9 518.4 601.8 519.4 601.4 520.4 601.8 522.4 601.7 524.4 602.1 525.4 601.8 526.4 601.9 526.9 601.6 527.4 600.9 528.4 598.6 528.9 598.0 529.4 598.4 530.6 600.9 531.4 601.8 533.4 602.4 537.4 601.9 538.4 602.4 540.4 602.3 542.4 602.5 544.6 602.2 545.4 601.9 546.9 598.8 547.4 598.2 547.9 598.7 548.9 600.8 550.4 602.6 551.4 602.0 553.4 602.6 554.4 602.5 557.4 602.8 558.4 602.4 559.4 602.7 566.1 602.4 566.9 601.9 568.1 600.0 568.6 599.7 569.4 600.4 570.4 602.3 571.4 602.4 572.4 602.9 573.4 603.0 574.4 602.4 576.4 602.6 577.4 602.9 578.4 602.5 579.4 603.1 580.4 602.5 581.4 603.0 583.4 603.1 584.4 602.6 587.4 602.7 588.4 603.2 589.4 603.0 593.4 603.1 594.9 602.6 595.4 601.9 596.9 594.2 597.4 592.8 597.9 594.0 599.4 601.2 600.4 602.7 603.4 603.4 604.4 602.9 605.4 602.8 606.4 603.3 607.4 603.0 608.4 603.3 609.4 603.0 612.1 602.9 612.6 602.2 613.9 598.0 614.4 597.0 614.9 597.7 616.1 601.8 616.6 602.8 617.4 603.3 618.1 601.9 618.6 599.3 619.9 586.0 620.4 583.2 620.9 585.7 622.1 598.0 622.6 600.2 622.9 600.4 623.1 600.2 624.4 595.9 624.9 594.9 625.4 595.7 626.6 601.6 627.1 602.8 627.6 603.2 628.9 602.9 629.6 601.2 631.6 583.6 632.1 585.5 633.4 598.0 633.9 600.7 634.4 601.9 634.9 601.6 635.4 600.1 637.1 589.6 637.6 590.9 639.4 601.7 639.9 602.5 641.1 603.2 641.4 603.4 641.9 603.0 642.6 600.8 643.9 591.3 644.4 589.4 644.9 591.2 646.4 600.9 646.9 602.2 647.9 603.0 650.4 603.4 651.4 603.8 653.4 603.3 655.4 604.0 656.4 603.5 657.4 603.4 658.4 604.0 659.4 603.4 660.4 604.0 662.4 603.4 663.4 604.0 664.4 603.9 665.4 604.0 666.4 603.4 669.4 604.0 670.4 603.3 672.4 603.7 673.4 603.4 674.4 603.7 675.4 603.1 676.4 603.5 677.1 603.3 679.1 602.2 680.6 600.5 681.1 599.1 681.6 594.7 682.1 584.6 683.4 534.8 683.9 524.3 684.4 531.5 685.6 579.0 686.1 590.0 686.6 595.4 687.1 597.9 688.1 600.0 688.4 600.2 688.9 599.9 690.1 597.0 690.6 596.4 691.1 597.1 692.9 602.6 693.4 603.2 694.4 603.3 695.4 603.8 696.4 603.6 698.4 604.0 701.4 603.7 702.4 604.2 704.4 603.9 705.4 604.2 707.1 603.1 708.6 598.9 709.1 598.0 709.6 598.5 711.1 603.2 711.6 604.0 712.4 604.3 714.4 603.8 715.4 604.3 716.4 604.0 717.4 604.2 719.4 603.8 720.4 604.3 721.9 603.4 723.4 602.1 725.4 604.0 726.4 603.9 727.4 604.2 728.4 604.1 729.4 604.5 730.4 604.5 731.4 603.9 733.4 603.9 734.4 604.5 736.4 604.3 737.4 603.9 738.4 604.5 741.6 603.8 743.1 602.6 743.6 602.5 745.4 604.2 746.4 603.9 748.4 604.6 749.4 604.0 750.4 604.0 751.4 604.5 753.4 604.6 754.4 604.1 755.4 604.6 756.4 604.2 757.4 604.5 758.4 604.1 759.4 604.5 760.4 604.6 761.4 604.1 762.4 604.5 765.4 604.2 766.4 604.5 767.4 604.1 768.4 604.3 769.4 604.1 771.4 604.4 772.6 603.7 773.1 603.2 774.4 599.1 774.9 598.3 775.4 599.0 776.9 603.6 777.6 604.3 778.4 604.6 779.4 604.3 781.1 604.3 781.9 603.9 782.6 602.8 783.9 599.2 784.4 598.4 784.9 598.9 785.9 602.2 786.6 603.8 787.4 604.4 788.4 604.5 789.4 604.1 791.4 604.6 792.4 604.1 793.4 604.0 794.4 604.3 795.4 604.0 796.4 604.6 797.4 604.0 799.4 604.6 800.4 604.3 801.4 604.7 803.4 604.2 804.4 604.4 806.4 604.3 807.4 604.6 808.4 604.5 809.4 604.0 810.4 604.6 812.4 604.1 813.4 604.5 815.4 604.2 816.4 604.6 817.4 604.2 820.1 603.6 821.4 602.4 821.9 602.5 824.4 604.6 828.1 604.0 828.9 603.4 830.1 601.6 830.6 601.4 831.4 602.1 832.4 604.2 834.4 604.6 836.4 604.6 837.4 604.0 838.4 604.5 840.4 604.2 841.4 604.7 842.4 604.0 843.4 604.4 845.4 604.5 846.4 604.1 848.4 604.6 850.4 604.2 853.4 604.3 854.4 604.0 855.4 604.4 857.1 604.0 858.9 602.4 859.4 602.3 860.6 603.6 862.4 604.6 864.4 604.7 865.4 604.4 866.4 604.5 867.4 604.3 871.4 604.7 875.4 604.0 876.4 604.6 877.4 604.7 880.4 604.1 882.4 604.5 883.4 604.1 884.4 604.5 885.4 604.3 886.4 604.7 887.4 604.7 889.9 604.2 891.9 601.5 892.4 601.7 894.4 604.4 895.4 604.6 900.4 604.7 901.4 604.6 902.4 604.0 904.4 604.7 905.4 604.6 908.4 602.5 908.9 602.6 910.9 604.1 913.4 604.7 914.4 604.3 915.4 604.3 919.4 604.6 920.4 604.6 921.4 604.1 925.1 604.2 925.9 603.1 926.9 600.2 927.4 599.4 927.9 599.8 928.9 602.4 929.6 603.2 930.4 602.8 931.4 601.1 933.6 603.8 934.4 604.2 936.4 604.4 938.4 604.4 939.4 604.1 940.4 604.5 942.9 604.1 943.9 603.0 944.9 600.4 945.4 599.7 945.9 600.1 947.4 603.9 948.4 604.6 949.4 604.3 952.4 604.6 953.4 604.0 954.4 604.6 956.4 604.2 957.4 604.5 959.4 604.1 961.4 604.3 962.4 604.7 963.4 604.3 964.4 604.5 965.4 604.2 966.4 604.6 967.9 604.0 969.9 602.6 972.1 604.1 973.4 604.2 974.4 604.7 975.4 604.1 976.4 604.3 978.4 604.1 979.4 604.6 981.4 604.5 982.4 604.7 983.4 604.4 984.4 604.6 985.4 604.1 986.4 604.6 988.4 604.3 989.4 604.6 990.4 604.3 993.4 604.5 994.4 604.2 997.4 604.5 1000.6 602.6 1001.4 603.0 1002.4 604.2 1003.4 604.6 1006.4 604.2 1007.4 604.5 1010.4 604.2 1011.4 604.3 1012.4 604.7 1013.4 604.4 1015.4 604.4 1016.4 604.1 1017.4 604.6 1021.4 604.1 1023.4 603.2 1025.4 604.4 1026.4 604.6 1028.4 604.1 1033.4 604.4 1034.4 604.0 1035.4 604.4 1038.4 604.3 1039.4 604.7 1040.4 604.7 1041.4 604.1 1042.4 604.7 1043.4 604.1 1044.4 604.7 1046.4 604.1 1047.4 604.5 1049.4 604.5 1050.4 604.7 1051.4 604.4 1052.4 604.6 1055.4 604.6 1056.4 604.0 1057.4 604.3 1058.4 603.8 1059.4 604.1 1060.4 603.5 1061.4 603.4 1062.4 602.4 1063.4 602.0 1065.4 599.8 1067.4 596.7 1068.4 595.6 1070.4 592.1 1071.7 590.4 1072.4 589.7 1073.9 589.4 1074.7 589.5 1076.4 590.9 1078.4 593.3 1080.4 597.1 1083.2 600.5 1083.9 601.0 1084.4 599.8 1084.9 594.5 1086.2 570.2 1086.7 574.7 1087.9 597.9 1088.7 602.1 1090.4 605.1 1091.4 605.8 1091.9 605.8 1093.7 603.6 1095.9 606.6 1096.4 607.0 1096.9 606.9 1097.7 606.5 1098.9 604.2 1099.4 603.7 1101.2 606.2 1102.2 606.6 1104.4 606.8 1106.2 604.1 1106.7 603.9 1108.4 606.5 1109.4 606.5 1110.7 607.0 1111.7 606.6 1113.4 603.8 1113.9 604.2 1114.9 606.2 1115.7 606.9 1116.4 607.1 1117.4 606.5 1118.7 606.5"/></defs><use href="#a5" fill="#fff" stroke="none"/><use href="#a5" fill="none" stroke="#808000"/>
<defs><path id="a4" d="M144.8 625.4 145.8 625.4 146.8 625.8 148.8 625.3 149.8 625.6 150.8 625.3 151.8 625.6 152.8 625.2 154.8 625.1 155.8 624.6 157.8 624.8 159.8 623.9 161.8 623.7 162.8 622.7 163.8 622.5 165.0 621.2 165.5 621.3 166.8 622.5 167.3 621.5 167.8 619.0 169.3 607.6 170.0 587.1 170.8 520.3 172.3 218.4 172.8 177.0 173.3 237.3 174.3 446.9 175.0 528.6 175.5 550.9 176.5 572.4 177.8 586.9 178.5 591.8 179.3 594.3 179.5 594.5 179.8 594.4 180.0 594.0 180.5 589.9 181.3 557.8 181.8 492.3 182.8 257.8 183.3 203.0 183.8 257.3 184.8 485.9 185.5 568.1 186.0 585.2 186.5 591.9 187.5 597.7 188.5 601.4 189.3 603.1 189.8 603.7 190.3 603.1 192.0 596.6 192.5 597.6 193.8 604.5 194.8 607.3 198.8 612.0 201.3 612.1 201.8 612.5 203.5 616.5 204.5 617.9 205.0 617.9 205.5 616.8 206.0 613.1 207.5 583.3 207.8 580.3 208.0 579.8 208.5 585.5 209.5 605.0 210.3 613.5 211.0 616.3 213.8 618.7 214.8 618.9 216.3 618.4 218.5 615.7 219.3 616.1 220.8 618.8 222.8 619.5 224.8 619.5 226.8 618.7 229.8 618.5 230.8 618.1 231.8 618.6 232.8 618.1 233.8 618.5 234.8 618.4 235.8 617.8 236.8 617.8 237.8 618.3 238.8 617.8 239.8 618.3 240.8 617.8 241.8 618.2 242.8 618.0 243.8 618.4 244.8 618.2 245.8 618.7 246.8 618.4 247.8 618.5 248.8 618.6 250.8 619.3 252.8 619.2 256.8 620.0 257.8 619.6 258.8 619.7 259.8 620.1 261.8 620.3 262.8 620.1 263.8 619.4 264.8 617.3 265.5 614.2 266.3 609.2 267.0 601.4 268.3 580.8 270.5 532.6 271.3 523.0 271.8 521.3 272.3 527.6 274.3 574.6 275.0 582.1 276.0 586.9 277.8 592.5 279.8 597.1 280.3 597.6 280.8 597.3 281.0 596.8 282.3 590.8 282.5 590.2 282.8 590.2 283.3 592.4 284.5 602.1 285.0 603.9 285.3 603.9 285.8 601.4 286.0 598.5 287.0 578.5 287.5 573.3 288.0 578.7 289.0 598.7 289.8 606.4 290.5 608.8 292.5 611.3 294.0 611.9 295.5 612.1 296.0 611.9 296.8 611.0 297.3 609.3 298.0 599.2 299.5 517.7 299.8 508.8 300.0 507.3 301.8 592.8 302.3 603.5 303.0 609.2 303.8 611.6 304.8 613.7 306.5 615.6 307.0 615.5 307.8 613.2 309.0 604.0 309.3 602.9 309.5 602.9 311.3 613.3 311.8 614.2 312.5 613.8 313.0 614.0 314.5 617.1 315.5 618.4 315.8 618.6 317.8 618.1 319.0 618.2 321.8 616.4 322.8 615.1 323.5 612.0 324.0 607.9 325.8 588.2 326.3 578.2 326.5 566.6 327.0 517.9 328.0 328.3 328.5 278.6 329.0 319.3 330.0 508.8 330.5 565.1 331.3 595.9 332.0 604.0 333.0 609.1 334.5 613.7 335.3 615.0 335.8 615.3 336.5 613.6 337.8 605.7 338.0 604.8 338.3 604.6 338.8 606.7 340.3 617.3 340.8 618.7 341.3 618.9 341.8 618.0 342.0 616.8 343.3 607.0 343.8 605.5 344.3 607.6 345.5 616.6 346.0 618.5 347.0 619.7 349.8 620.8 351.3 621.0 352.5 620.7 353.3 620.1 354.3 618.6 354.8 618.3 355.3 618.6 356.5 620.4 357.8 621.3 358.8 621.4 359.8 620.9 361.0 621.2 361.8 620.9 363.0 618.8 363.8 618.2 364.3 618.6 365.3 620.1 366.3 620.9 366.8 621.2 368.8 621.1 369.8 621.4 371.3 620.3 373.0 616.6 373.5 616.2 375.0 620.2 375.5 620.7 376.8 621.4 378.8 621.3 379.8 621.5 381.5 621.2 382.3 620.5 383.8 618.0 385.8 621.1 389.8 620.9 390.8 621.2 391.3 621.1 392.3 620.8 392.8 620.4 394.3 617.6 394.8 617.4 395.3 617.7 397.0 620.5 397.8 621.1 398.8 621.1 399.5 620.5 400.0 619.6 400.5 617.1 402.0 594.5 402.5 590.7 403.0 594.6 404.3 612.4 405.3 618.1 405.8 619.0 406.5 618.8 407.3 617.8 408.3 615.6 409.0 615.2 410.8 617.2 411.3 617.0 412.8 615.6 414.8 610.1 415.5 605.3 416.0 597.4 416.5 577.5 417.3 492.3 418.5 209.7 418.8 179.4 419.0 174.0 419.5 235.6 420.8 507.8 421.5 577.1 422.3 597.3 423.3 605.7 424.3 610.1 425.8 614.8 427.5 617.3 428.8 618.4 431.8 620.1 433.3 620.3 434.3 620.1 434.8 619.6 436.0 615.7 436.5 614.9 437.0 615.6 438.5 620.3 439.0 621.1 439.8 621.7 441.8 621.2 444.8 621.7 445.5 620.8 446.8 618.0 447.3 617.7 447.8 618.4 448.8 620.9 449.5 621.4 450.3 621.1 450.8 619.7 451.3 615.9 452.5 596.1 453.0 592.1 453.5 595.7 454.8 614.1 455.5 619.2 456.0 620.5 456.5 621.1 457.0 621.3 457.5 620.9 458.3 618.5 459.3 612.9 459.8 611.8 460.3 613.1 461.5 620.0 462.0 621.5 462.8 622.4 464.0 621.6 465.3 619.7 465.8 619.4 466.5 620.0 467.8 622.3 468.8 622.6 474.0 621.9 474.8 621.3 475.8 619.6 476.0 619.6 478.0 622.3 478.8 622.9 480.8 621.9 482.3 619.8 482.8 619.5 483.3 619.9 484.5 621.9 486.8 623.0 488.8 622.4 490.3 620.0 490.8 619.5 491.3 620.0 492.8 622.8 493.3 623.0 495.8 622.8 496.8 623.3 497.8 623.3 499.8 622.8 501.3 623.1 502.0 622.8 502.5 622.2 503.8 619.5 504.3 618.9 504.8 619.3 506.0 622.3 507.8 623.3 509.8 623.2 510.8 623.5 511.8 623.3 513.8 623.7 518.8 623.1 520.5 623.4 521.0 622.9 522.3 620.1 522.8 619.6 524.5 622.7 525.3 623.3 526.8 623.9 528.8 623.5 530.8 623.9 531.8 623.6 533.8 623.6 534.8 624.0 535.8 623.5 537.8 624.1 541.0 623.6 542.3 622.9 543.8 620.9 545.5 623.7 546.5 624.2 547.8 624.0 548.8 624.3 549.8 623.8 550.8 624.3 552.8 624.5 555.8 624.2 559.8 624.5 563.8 624.0 564.8 624.7 567.8 624.3 569.8 624.4 570.3 624.0 571.3 621.9 572.3 617.6 572.8 616.6 574.8 623.0 575.3 623.7 576.8 624.5 579.8 624.7 581.8 624.5 583.8 625.0 586.8 624.7 587.8 623.7 589.3 619.4 589.8 618.9 590.3 619.8 591.5 623.6 592.3 624.7 592.8 624.9 593.3 624.2 593.8 622.1 595.3 607.0 595.5 605.5 595.8 605.2 596.3 607.8 597.5 619.9 598.0 622.0 598.3 622.2 598.5 621.9 599.8 617.6 600.3 616.9 600.8 617.9 602.3 623.7 603.0 624.5 604.0 624.8 604.8 623.8 605.3 621.2 606.5 607.8 607.0 605.1 607.5 607.5 608.8 619.9 609.3 622.3 609.5 622.9 610.0 623.2 610.5 622.6 610.8 621.7 612.0 613.0 612.5 611.1 613.0 612.9 614.5 622.5 615.0 623.7 616.3 624.4 617.3 624.3 617.8 623.2 619.3 612.7 619.8 611.4 620.3 613.3 621.5 621.7 622.0 623.5 622.8 624.7 627.8 625.5 630.8 625.0 631.8 625.3 632.8 625.0 634.8 625.6 637.8 625.2 639.8 625.6 642.8 625.0 644.8 625.5 647.8 624.7 648.8 625.3 649.8 624.8 653.3 623.7 655.5 621.8 656.0 620.6 656.5 617.5 657.0 609.9 657.8 580.8 658.8 518.1 659.3 506.0 659.8 520.4 661.0 591.4 661.5 606.9 662.0 614.2 662.5 617.3 663.5 619.9 663.8 620.2 664.3 620.0 665.5 617.7 666.0 617.4 666.5 618.3 667.5 621.9 668.3 623.7 669.3 624.5 670.8 625.2 673.8 625.1 674.8 625.6 675.8 625.3 676.8 625.7 678.8 625.3 679.8 625.8 681.0 625.7 682.3 625.1 682.8 624.5 683.8 621.0 684.3 620.0 684.5 619.9 685.0 620.5 686.3 624.3 686.8 625.2 687.5 625.8 688.8 626.1 689.8 625.5 690.8 626.0 691.8 626.1 692.8 625.9 696.3 626.1 696.8 625.9 697.8 624.3 698.5 624.1 699.8 624.5 700.5 625.5 701.0 625.8 705.8 626.2 706.8 625.8 707.8 626.1 708.8 625.9 709.8 626.2 710.8 625.7 711.8 626.2 713.8 626.0 714.8 625.7 715.8 626.3 716.8 625.7 717.8 624.5 718.5 624.0 719.0 624.1 720.8 625.6 723.8 626.1 724.8 626.2 725.8 625.7 726.8 626.3 727.8 625.9 729.8 625.8 730.8 625.8 731.8 626.2 733.8 625.7 734.8 625.9 735.8 625.7 736.8 626.3 737.8 626.0 738.8 626.3 739.8 626.0 742.8 626.3 744.8 625.9 745.8 626.3 746.8 625.7 747.8 625.8 748.0 625.5 748.5 624.4 749.8 619.8 750.3 619.0 750.8 619.9 751.8 624.0 752.3 625.1 753.5 626.1 754.8 626.4 757.3 625.7 757.8 625.2 759.3 619.8 759.8 619.1 760.3 620.1 761.3 624.0 762.0 625.4 763.8 625.9 764.8 625.8 766.8 626.3 768.8 625.8 772.8 626.4 774.8 626.0 776.8 626.1 777.8 625.8 778.8 626.0 779.8 625.8 782.8 626.4 783.8 625.9 785.8 625.9 788.8 626.4 790.8 625.9 791.8 626.4 792.8 626.2 793.8 626.3 795.3 625.6 796.5 624.4 797.0 624.3 797.8 624.6 799.8 626.3 800.8 626.1 802.3 626.3 803.0 626.2 803.8 625.7 805.3 623.3 805.8 622.9 806.3 623.3 807.8 625.7 808.5 625.9 809.8 625.8 811.8 626.5 812.8 625.9 813.8 626.1 815.8 625.9 816.8 625.9 817.8 626.3 820.8 626.5 821.8 626.1 824.8 626.2 825.8 625.9 829.8 626.3 832.0 625.9 834.0 624.1 834.5 624.2 836.8 626.3 839.8 625.9 840.8 626.4 841.8 626.0 843.8 626.4 845.8 626.1 846.8 626.5 847.8 626.2 848.8 626.4 849.8 626.2 850.8 626.5 853.8 625.9 854.8 626.4 856.8 626.2 857.8 626.5 862.5 626.4 863.8 626.2 865.5 625.6 866.8 623.4 867.3 623.1 867.8 623.4 868.8 625.2 869.3 625.7 871.8 626.5 873.8 625.9 874.8 626.5 876.8 626.0 877.8 626.4 878.8 625.9 879.8 625.8 880.8 626.4 882.0 625.7 883.3 624.6 883.8 624.4 885.5 625.8 887.8 626.4 888.8 626.4 889.8 626.0 892.8 626.1 893.8 626.4 894.8 626.0 895.8 626.3 896.8 626.1 897.8 626.4 900.0 626.0 900.8 625.4 902.8 620.9 903.3 621.6 904.3 624.3 904.8 624.9 905.3 624.8 906.3 623.4 906.8 623.2 907.3 623.4 908.8 625.7 909.8 626.5 911.8 625.9 913.8 626.4 914.8 625.8 917.8 626.4 919.0 624.6 920.3 620.8 920.8 620.3 921.3 620.8 922.5 624.7 923.0 625.5 925.8 626.4 928.8 626.1 929.8 626.4 930.8 626.0 931.8 626.5 934.8 626.4 936.8 626.1 939.8 626.3 940.8 626.2 941.8 626.5 943.5 625.9 945.5 624.1 945.8 624.2 946.8 625.5 948.8 626.5 950.8 626.5 951.8 625.9 952.8 626.4 953.8 626.0 954.8 626.1 955.8 625.9 958.8 626.5 959.8 626.2 960.8 626.5 963.8 626.5 965.8 626.1 966.8 626.5 967.8 626.4 968.8 626.0 969.8 626.3 970.8 625.9 972.8 626.2 973.8 625.9 975.0 624.3 975.8 623.9 977.8 625.9 979.8 626.2 980.8 625.8 981.8 626.3 983.8 626.5 984.8 626.1 985.8 626.4 986.8 625.9 987.8 626.5 989.8 626.1 992.8 626.5 993.8 625.9 996.8 626.3 997.8 625.4 998.8 625.0 1000.8 626.3 1001.8 626.1 1002.8 626.4 1003.8 625.9 1004.8 625.9 1006.8 626.5 1007.8 626.1 1009.8 626.3 1015.8 625.9 1016.8 626.4 1021.8 626.5 1022.8 626.0 1024.8 625.9 1025.8 626.5 1027.8 626.3 1030.8 626.4 1032.8 626.2 1033.8 625.6 1035.8 625.5 1037.8 624.4 1038.8 623.4 1039.8 621.8 1040.8 620.7 1043.8 614.8 1045.8 610.3 1047.3 608.5 1049.0 607.0 1050.3 607.4 1051.8 609.0 1053.8 612.9 1054.8 614.4 1056.8 618.9 1058.8 622.2 1059.3 622.2 1059.8 620.2 1060.0 617.8 1061.0 596.3 1061.5 589.7 1063.3 619.8 1064.0 623.8 1065.8 626.8 1067.5 627.2 1069.0 625.3 1069.5 625.7 1070.8 628.1 1071.8 628.4 1073.3 627.8 1074.3 626.2 1074.8 625.9 1075.3 626.2 1076.5 628.1 1077.8 628.9 1078.8 628.3 1079.8 628.6 1081.8 625.6 1082.3 625.9 1083.8 628.2 1086.8 628.6 1088.8 625.3 1089.3 625.8 1090.8 628.6 1092.8 628.7 1094.0 628.5"/></defs><use href="#a4" fill="#fff" stroke="none"/><use href="#a4" fill="none" stroke="#ff00ff"/>
<defs><path id="a3" d="M120.2 648.3 122.2 648.0 123.2 648.5 125.2 648.1 127.2 648.2 129.2 647.6 131.2 647.9 134.2 647.2 135.2 646.5 136.2 646.4 138.9 645.3 140.7 644.0 141.2 644.1 142.2 644.9 142.7 644.0 143.2 641.6 144.2 635.1 144.7 630.1 145.4 609.4 146.2 542.5 147.7 240.4 148.2 199.0 150.2 532.1 150.9 573.2 152.2 598.8 153.7 612.8 154.4 616.0 154.9 616.8 155.2 616.7 155.7 614.4 155.9 611.4 156.4 595.2 157.2 509.0 158.2 262.4 158.7 205.0 159.2 262.0 160.4 542.1 160.9 588.0 161.4 606.1 161.9 613.4 162.4 617.2 163.4 621.8 164.7 625.2 165.2 625.9 165.7 625.5 167.2 619.2 167.4 618.9 167.9 620.3 169.4 627.8 170.4 630.2 174.2 634.7 174.9 634.9 176.7 634.8 177.2 635.2 178.4 638.3 180.2 640.5 180.7 639.9 180.9 639.1 181.4 635.4 182.9 605.8 183.2 602.7 183.4 602.1 183.9 607.7 185.2 631.5 185.7 636.0 186.2 638.0 186.7 639.0 187.4 639.7 189.2 640.7 190.2 641.6 190.9 641.8 191.4 641.5 194.2 637.6 194.7 638.2 196.2 641.1 196.7 641.6 197.7 641.8 200.2 641.7 201.2 641.2 202.2 641.3 204.2 640.5 205.2 640.8 206.2 640.1 207.2 639.9 208.2 640.2 210.2 639.7 211.2 639.9 213.2 639.4 214.2 640.0 215.2 639.5 216.2 640.0 217.2 640.2 220.2 639.9 221.2 640.6 223.2 640.4 224.2 641.2 225.2 641.1 226.2 641.6 227.2 641.3 228.2 641.6 229.2 641.6 230.2 641.8 231.2 642.4 232.4 642.6 235.2 642.4 237.2 642.8 238.9 641.8 239.7 640.9 240.4 638.9 241.2 635.1 242.4 622.1 243.4 605.4 245.9 549.6 246.4 542.4 246.9 539.1 247.2 539.4 247.7 547.0 248.9 581.8 249.9 598.8 250.7 604.5 251.7 609.1 252.2 611.0 254.9 618.3 255.7 619.1 256.4 618.1 257.7 612.7 257.9 612.2 258.2 612.4 259.9 624.6 260.4 626.1 260.7 626.1 261.4 620.9 262.4 603.9 262.7 601.3 262.9 601.0 264.4 623.8 265.2 629.9 265.9 631.7 267.7 634.0 268.7 634.8 269.2 635.1 270.2 635.0 271.2 635.4 272.4 634.1 273.2 629.3 273.7 618.3 275.2 559.6 275.4 560.3 275.7 566.3 277.2 623.4 277.7 630.3 278.4 634.2 279.2 636.0 280.7 637.9 281.9 639.0 282.4 638.7 283.2 635.4 284.7 623.7 284.9 623.9 285.2 625.1 286.7 635.6 287.2 636.2 287.9 635.7 288.4 636.2 289.7 639.8 290.4 641.0 291.2 641.5 292.2 641.7 293.2 641.2 295.2 641.1 296.2 640.6 297.2 640.4 297.9 639.4 298.7 636.9 299.2 632.9 300.4 615.1 301.4 607.3 301.9 595.4 302.4 560.1 303.4 428.6 303.9 402.6 305.9 607.6 306.7 626.7 307.4 631.8 308.7 636.1 309.7 638.3 311.2 640.1 311.9 640.0 313.2 637.8 313.4 637.7 315.7 642.1 316.2 642.4 316.4 642.2 316.9 640.9 317.4 638.2 318.9 625.5 319.2 625.5 319.4 626.7 320.7 637.7 321.2 640.3 321.9 642.1 323.2 643.1 325.2 643.2 327.2 643.9 328.7 642.6 329.7 641.1 330.2 640.7 332.2 643.4 334.2 644.0 335.2 643.8 336.2 643.9 337.2 643.4 338.7 640.9 339.2 640.6 340.4 642.9 341.2 643.7 341.9 643.9 345.9 644.0 346.4 643.7 346.9 643.1 348.2 639.5 348.7 638.9 349.2 639.5 351.2 644.1 352.2 643.7 354.2 644.0 355.2 643.7 356.2 644.0 356.7 643.8 357.4 643.2 358.7 641.1 359.2 640.9 359.7 641.4 361.2 643.9 362.2 643.8 363.2 644.3 365.2 643.7 367.7 643.8 368.2 643.5 369.4 640.6 369.9 639.9 370.4 640.1 371.9 642.8 372.7 643.4 374.2 643.9 374.7 643.4 375.2 642.2 375.9 636.3 377.4 600.4 377.7 596.6 377.9 595.7 379.7 631.6 380.2 637.1 380.7 639.8 381.2 640.9 381.9 641.0 382.4 640.5 383.7 637.9 384.2 637.7 384.9 638.3 385.9 640.1 386.4 640.3 387.2 639.6 388.7 637.0 389.4 635.2 390.2 632.3 390.9 627.1 391.4 618.5 391.9 596.5 392.7 504.7 393.7 274.0 394.2 207.0 394.4 209.2 394.7 235.5 396.2 543.1 396.9 604.0 397.7 621.5 398.7 629.2 399.7 633.3 401.2 637.8 402.9 640.2 404.2 641.4 406.2 642.4 408.2 642.8 409.2 643.3 409.4 643.2 410.2 642.2 411.4 638.3 411.9 637.9 414.2 643.6 416.2 644.1 417.2 644.6 419.2 644.7 419.9 644.5 420.4 644.0 421.9 639.9 422.4 638.9 422.7 638.8 423.2 639.6 424.4 643.8 424.9 644.4 425.2 644.4 425.4 644.0 425.9 641.5 426.4 634.8 427.9 584.3 428.2 579.1 428.4 577.9 428.9 588.0 430.2 628.5 430.7 636.6 431.4 641.4 431.9 642.4 432.4 642.5 433.2 640.0 434.7 622.9 434.9 621.4 435.2 621.3 435.7 625.1 436.7 638.2 437.2 642.1 437.7 643.9 438.2 644.4 438.9 644.5 439.7 643.9 440.7 642.4 441.2 642.1 443.2 645.0 444.2 644.8 446.2 645.5 447.2 644.9 448.2 645.4 449.2 645.2 449.9 644.4 450.9 642.7 451.4 642.3 451.9 642.6 453.9 645.3 454.2 645.6 454.9 645.4 456.2 644.8 457.9 642.4 458.7 642.8 459.9 644.9 460.4 645.3 462.2 645.3 463.2 645.7 463.9 645.5 465.9 642.9 466.7 643.2 467.9 645.1 468.4 645.4 470.2 645.6 472.2 645.6 474.2 646.0 475.2 645.4 476.7 645.6 477.4 645.4 479.2 642.5 479.7 642.1 480.2 642.7 481.2 645.1 481.9 645.6 483.2 645.6 484.2 646.0 486.2 646.3 487.2 646.1 489.2 646.4 490.2 645.9 491.2 645.8 492.2 646.2 493.2 646.1 495.7 645.9 496.2 645.6 497.4 642.0 497.9 641.2 498.4 641.5 498.7 641.9 500.2 645.9 501.2 646.1 502.2 646.7 503.2 646.0 504.2 646.4 505.2 646.1 508.2 646.1 510.2 646.7 511.2 646.7 512.2 646.3 514.2 646.9 516.2 646.9 517.2 646.2 518.2 644.5 518.9 643.9 519.7 644.3 521.2 646.5 522.2 646.9 524.2 646.7 527.2 647.1 529.2 646.6 530.2 647.2 531.2 647.0 532.2 647.3 533.2 646.8 534.2 646.9 535.2 647.3 537.2 646.7 539.2 647.3 541.2 647.1 543.2 647.5 544.2 646.9 545.2 647.5 546.2 646.5 547.4 643.0 547.9 642.2 548.4 642.7 549.7 645.8 550.9 647.1 551.2 647.2 552.2 646.9 553.2 647.2 555.2 647.1 556.2 647.7 558.2 647.3 562.4 647.3 563.2 646.4 564.7 641.8 565.2 641.4 566.9 646.5 567.4 647.3 568.2 647.6 568.7 647.3 569.2 646.3 570.7 638.6 570.9 637.9 571.2 637.8 573.2 646.0 573.4 646.1 573.9 645.6 575.2 642.0 575.7 641.7 577.4 646.6 577.9 647.1 579.2 647.9 579.9 646.9 580.4 645.3 581.9 634.3 582.2 633.2 582.4 633.0 584.2 644.4 584.9 646.2 585.4 646.3 585.7 646.0 586.2 644.5 587.4 636.6 587.9 635.5 589.7 645.1 590.4 647.0 591.4 647.7 592.2 647.8 592.9 647.0 593.4 645.7 594.7 640.3 594.9 639.7 595.2 639.7 596.9 646.4 597.4 647.3 598.2 647.9 601.2 647.8 602.2 648.3 604.2 648.1 607.2 648.4 608.2 648.1 611.2 648.3 613.2 647.9 616.2 648.0 617.2 648.5 618.2 648.6 620.2 648.0 622.2 648.5 625.2 648.1 627.2 648.6 628.2 648.0 630.2 648.4 630.9 648.3 631.4 648.1 631.9 647.1 632.7 640.8 634.2 604.5 634.4 601.2 634.7 600.8 635.2 608.1 636.4 638.0 637.2 644.9 637.9 646.6 638.9 646.8 639.9 645.9 640.9 643.3 641.4 642.8 642.2 644.1 643.2 647.5 643.7 648.0 645.2 648.6 648.2 648.1 651.2 648.7 652.2 648.2 653.2 648.8 654.2 648.4 655.2 648.7 656.7 648.3 657.7 647.7 658.2 646.6 659.4 640.6 659.9 639.8 660.4 641.0 661.7 646.7 662.2 647.8 662.9 648.3 665.2 648.7 666.2 648.5 667.2 648.8 670.2 648.4 671.2 648.7 673.9 646.8 674.7 647.0 676.2 648.4 677.2 648.7 678.2 648.4 679.2 648.9 680.2 648.5 681.2 648.7 684.2 648.6 686.2 648.9 687.2 648.4 688.2 648.7 689.2 648.7 690.2 648.4 691.2 648.7 692.4 647.9 693.4 646.9 693.9 646.7 695.2 647.3 696.2 648.5 697.2 648.5 698.2 649.0 699.2 648.8 701.2 648.9 702.2 648.8 703.2 649.0 704.2 648.5 708.2 649.0 709.2 648.4 710.2 649.0 711.2 649.0 712.2 648.5 713.2 648.8 714.2 648.5 715.2 649.0 718.2 649.0 719.2 648.5 721.2 649.0 722.2 648.7 723.2 648.6 723.7 648.2 725.2 644.5 725.7 643.8 726.2 644.3 727.2 647.6 727.7 648.3 728.2 648.6 731.2 649.1 732.4 648.6 732.9 648.1 734.9 641.9 735.4 642.2 735.7 642.8 737.2 648.1 737.7 648.6 739.2 649.1 742.2 648.8 743.2 648.9 744.2 648.5 746.2 649.1 748.2 648.7 750.2 649.0 751.2 648.5 754.2 649.1 755.2 648.6 756.2 649.1 758.2 648.8 759.2 648.8 760.2 649.1 761.2 648.7 762.2 648.6 764.2 649.1 766.2 648.5 767.2 648.9 769.2 649.0 770.2 648.4 771.2 647.3 771.9 647.0 772.7 647.2 774.2 648.4 775.2 648.5 776.2 649.2 778.9 648.7 780.9 646.9 781.7 647.3 783.2 649.0 784.2 648.6 788.2 649.0 789.2 648.5 791.2 649.1 792.2 648.7 794.2 648.9 795.2 648.6 796.2 648.5 797.2 649.0 799.2 648.5 800.2 648.5 801.2 649.1 803.2 649.1 804.2 648.8 805.2 648.9 806.2 648.5 807.4 648.7 809.4 647.1 811.7 648.6 813.2 649.1 814.2 648.8 816.2 648.6 817.2 649.2 818.2 648.5 820.2 648.9 821.2 648.6 824.2 649.0 825.2 649.0 826.2 648.6 827.2 649.1 828.2 649.2 829.2 648.8 831.2 649.2 834.2 648.6 835.2 649.1 836.2 649.1 837.2 648.8 838.2 649.0 840.2 648.8 840.9 648.1 842.2 646.0 842.7 645.7 845.2 649.0 846.2 648.8 847.2 649.1 849.2 649.2 851.2 648.7 853.2 649.2 854.2 648.7 855.2 649.1 856.7 649.1 857.2 648.9 858.2 647.3 858.9 647.1 859.9 647.3 861.4 648.6 863.2 649.2 864.2 648.7 865.2 649.0 866.2 648.7 867.2 649.2 868.2 648.8 869.2 648.7 871.2 648.8 872.2 649.0 873.2 648.8 874.4 649.0 875.4 648.8 876.2 648.0 877.7 643.5 878.2 642.9 880.2 647.8 880.7 647.7 881.7 646.3 882.2 646.1 883.7 648.1 884.4 648.7 885.2 649.0 886.2 648.7 887.2 649.2 888.2 649.1 889.2 648.6 891.2 648.8 893.2 648.5 894.2 648.7 895.2 646.8 895.9 646.1 896.7 646.5 897.9 648.3 898.9 649.0 900.2 649.0 901.2 648.7 903.2 649.2 905.2 648.6 906.2 648.8 910.2 648.6 911.2 648.9 912.2 648.5 913.2 648.9 914.2 648.6 915.2 648.7 916.2 649.1 917.9 648.9 919.2 648.3 920.2 646.8 920.7 646.9 922.4 648.6 925.2 648.9 927.2 648.8 928.2 649.0 929.2 648.7 932.2 649.2 934.2 648.6 935.2 649.1 936.2 648.6 938.2 649.2 939.2 648.9 941.2 649.0 942.2 648.7 944.2 648.9 945.2 648.6 946.2 649.0 948.2 648.8 949.7 648.2 951.2 647.1 953.2 648.8 956.2 649.2 957.2 648.9 959.2 649.2 961.2 648.7 962.2 649.1 963.2 649.2 967.2 648.8 970.2 649.0 974.4 648.2 977.2 649.2 978.2 649.1 979.2 648.6 980.2 649.2 981.2 648.8 983.2 648.6 984.2 649.2 985.2 648.6 987.2 648.6 988.2 649.0 991.2 648.6 992.2 649.1 997.2 648.7 998.2 649.2 1000.2 648.6 1003.2 648.8 1004.2 649.1 1005.2 648.7 1006.2 649.0 1008.2 648.9 1010.2 648.6 1011.2 648.1 1012.2 648.2 1013.2 647.5 1018.2 642.7 1020.2 639.8 1021.2 638.9 1022.2 637.2 1024.7 636.3 1025.2 636.3 1026.2 636.8 1028.2 638.8 1029.2 640.4 1030.2 641.1 1031.2 643.1 1033.2 645.3 1034.4 645.9 1034.7 645.8 1035.2 643.7 1035.4 641.0 1036.4 619.4 1036.7 615.5 1036.9 614.7 1038.7 643.7 1039.4 647.1 1041.2 649.4 1042.2 650.2 1042.7 650.2 1043.9 648.5 1044.4 648.2 1046.2 650.9 1046.7 651.2 1047.9 651.3 1048.4 650.8 1049.7 648.3 1050.2 648.1 1052.2 651.4 1054.2 651.6 1055.7 650.3 1056.7 648.4 1057.2 648.0 1058.4 650.4 1060.7 651.4 1061.2 651.5 1062.4 650.7 1063.9 648.6 1064.7 648.9 1066.2 651.0 1068.2 651.4 1069.4 651.2"/></defs><use href="#a3" fill="#fff" stroke="none"/><use href="#a3" fill="none" stroke="#00ffff"/>
<defs><path id="a2" d="M95.5 670.5 96.5 670.5 97.5 670.2 98.5 670.5 100.5 670.4 101.5 669.9 105.5 669.8 106.5 670.0 107.5 669.3 109.5 669.4 110.5 668.8 111.8 668.5 116.3 665.8 116.5 665.8 117.5 667.2 118.0 666.3 118.5 663.8 120.0 651.9 120.8 631.4 121.5 564.9 123.0 262.6 123.5 221.0 125.5 554.3 126.3 595.8 127.5 621.1 129.0 634.9 129.8 638.2 130.3 639.0 130.5 638.8 131.0 636.6 131.3 633.5 131.8 617.2 132.5 530.5 133.5 284.3 134.0 227.0 134.5 284.1 135.8 564.1 136.3 610.2 136.8 628.0 137.3 634.8 138.0 639.9 138.8 643.2 140.0 646.3 140.5 646.9 141.0 646.5 142.5 641.0 142.8 640.5 143.0 640.6 143.5 642.3 144.5 648.1 145.0 649.9 145.8 651.5 147.5 653.9 148.5 654.5 150.0 656.2 150.5 656.4 151.8 655.9 152.3 656.1 154.5 660.9 155.3 661.6 155.8 661.4 156.0 660.9 156.8 655.2 158.3 619.0 158.5 615.2 158.8 614.5 160.8 653.0 161.5 658.3 162.0 659.5 163.3 660.7 165.5 662.0 166.5 662.2 167.3 661.8 168.8 659.3 169.3 658.9 170.0 659.2 171.8 662.1 173.5 662.9 174.5 662.7 175.5 662.2 177.5 662.3 178.5 661.8 180.5 661.5 181.5 661.8 182.5 661.3 183.5 661.5 184.5 660.8 187.5 660.5 189.5 660.9 190.5 660.7 192.5 661.1 195.5 661.0 196.5 661.5 197.5 661.7 200.5 661.8 201.5 662.1 202.5 662.8 203.5 662.3 204.5 662.8 205.5 662.7 206.5 663.2 207.5 663.0 208.5 663.7 209.5 663.3 210.5 663.8 212.5 663.4 213.5 662.9 214.8 660.7 215.8 657.0 216.5 650.8 217.8 630.7 218.8 604.0 221.0 526.3 221.8 509.6 222.3 505.3 222.8 512.0 224.3 573.0 225.3 598.0 226.0 606.0 227.3 613.8 230.5 627.2 231.3 628.0 231.8 627.4 232.8 623.9 233.0 623.3 233.3 623.4 233.8 625.5 235.3 637.5 235.8 639.1 236.0 639.2 236.8 633.8 238.0 615.5 238.3 616.0 238.5 618.8 239.8 640.4 240.5 646.4 241.5 649.2 242.5 650.3 243.5 652.3 247.0 655.6 247.5 655.8 247.8 655.6 248.3 653.7 248.8 647.0 250.0 599.1 250.5 588.0 251.0 596.8 252.3 644.4 252.8 652.5 253.3 655.6 254.0 657.4 254.8 658.4 256.8 659.6 257.5 659.4 258.3 656.9 259.5 645.3 260.0 643.3 261.8 655.3 262.3 656.4 263.0 655.9 263.5 656.0 265.5 661.5 266.5 662.2 269.5 662.2 270.5 661.5 272.5 660.8 273.3 659.7 274.0 657.2 274.5 653.3 275.8 636.4 276.8 627.5 277.0 621.5 277.8 566.1 278.8 420.9 279.0 402.4 279.3 402.0 280.8 593.0 281.3 628.6 282.0 647.1 282.8 652.5 284.0 656.7 285.5 660.1 286.3 660.3 286.8 659.8 287.3 658.4 288.3 652.3 288.8 650.7 289.3 652.0 290.8 661.7 291.3 662.7 291.8 662.8 292.0 662.5 292.8 658.8 293.8 648.0 294.3 645.1 294.8 647.1 296.3 660.6 297.0 663.1 297.8 663.7 300.5 664.6 303.3 664.6 303.8 664.1 304.8 662.3 305.3 662.0 305.8 662.3 306.8 664.0 307.5 664.7 308.5 665.0 309.5 664.8 311.5 665.2 312.8 664.2 314.3 662.3 314.8 662.5 316.5 665.0 318.5 665.4 320.5 665.3 322.0 664.3 324.0 660.2 324.5 660.6 325.5 663.6 326.0 664.5 326.8 665.0 328.5 665.5 329.5 664.9 330.8 665.3 332.0 665.3 332.8 664.6 334.0 662.4 334.5 662.1 335.5 664.0 336.0 664.5 337.0 664.9 338.5 664.9 339.5 665.2 340.5 664.8 343.0 664.9 343.5 664.6 344.5 662.0 345.3 661.0 345.8 661.4 347.5 664.6 348.5 665.0 349.5 664.8 350.0 664.4 350.5 663.2 351.3 657.3 353.0 620.2 353.3 620.4 353.5 623.3 355.0 654.5 355.8 660.8 356.3 662.0 356.8 662.4 357.3 662.5 357.8 661.9 358.8 659.3 359.3 658.8 359.8 659.0 361.0 660.9 361.5 661.2 362.0 661.0 363.5 659.6 365.3 654.5 366.3 648.0 366.8 638.3 367.3 613.4 368.0 513.8 369.0 284.0 369.5 229.0 370.0 270.6 371.3 538.4 371.8 599.4 372.3 628.3 373.0 643.7 374.3 651.9 375.5 656.4 377.3 660.2 380.5 663.4 381.5 663.5 383.5 664.6 385.0 664.3 385.5 663.8 386.5 660.7 387.0 660.2 387.5 660.8 388.8 664.2 389.8 665.2 390.8 665.7 393.5 665.5 394.5 666.0 395.8 665.2 397.3 661.4 397.8 660.8 398.3 661.3 399.8 664.9 400.3 665.2 400.8 664.6 401.3 661.7 401.8 653.7 403.5 593.5 403.8 594.0 404.0 599.0 405.5 650.1 406.0 658.2 406.5 661.9 407.0 663.4 407.5 663.9 408.0 663.5 408.3 662.7 408.8 659.6 409.8 648.8 410.3 645.9 410.5 646.2 410.8 647.7 412.0 661.1 412.8 664.8 413.3 665.7 413.8 666.0 414.3 665.9 415.8 663.8 416.3 663.6 416.8 663.9 418.0 665.9 419.5 666.7 420.5 666.5 421.5 666.8 422.5 666.8 424.0 666.3 425.0 665.6 426.3 663.7 426.8 663.5 427.3 664.0 428.5 666.1 430.5 667.0 431.5 666.5 432.5 664.4 433.3 663.9 434.0 664.4 435.5 666.3 438.5 667.2 439.5 666.7 441.0 664.1 441.5 663.8 442.8 666.2 444.0 667.0 445.5 667.0 446.5 667.5 447.5 667.0 448.5 666.8 449.5 667.5 450.5 667.2 451.5 667.5 453.0 666.5 454.8 663.1 455.0 663.2 455.5 663.9 456.8 667.0 458.5 667.5 459.5 667.2 460.5 667.8 462.5 667.5 465.5 668.0 471.0 667.7 471.8 667.0 473.3 664.1 473.8 664.3 475.5 667.8 476.3 668.0 479.5 668.3 482.5 667.8 484.5 668.2 485.5 667.8 488.5 668.5 489.5 668.1 490.5 668.5 491.5 668.0 492.5 667.9 494.0 665.5 494.5 665.2 495.8 667.4 497.5 668.5 499.5 668.8 501.5 668.2 503.5 668.5 504.5 668.4 505.5 668.8 506.5 668.4 507.5 669.0 508.5 668.5 510.5 668.4 511.5 668.7 514.5 668.6 516.5 669.2 517.5 668.8 518.5 668.9 519.5 668.7 520.5 668.9 521.0 668.7 521.5 668.2 522.8 665.4 523.3 664.8 523.8 665.2 525.3 668.5 526.0 669.1 527.5 669.2 529.5 668.8 530.5 669.5 531.5 669.4 532.5 669.1 534.5 669.4 535.5 669.1 536.5 669.5 537.8 669.3 538.5 668.7 539.5 665.5 540.3 664.3 541.0 665.2 542.3 668.5 542.8 669.2 543.5 669.5 544.0 668.5 544.5 666.2 545.8 655.1 546.3 652.7 546.8 654.5 547.8 662.9 548.5 666.6 548.8 667.1 549.0 667.2 549.3 667.0 550.3 664.0 550.8 663.3 551.3 664.0 552.5 668.3 553.0 669.2 553.5 669.5 555.0 669.0 555.5 668.0 557.5 653.0 557.8 653.1 558.0 654.3 559.5 665.9 560.0 667.6 560.5 668.2 561.0 667.8 561.3 667.2 563.0 658.9 563.3 658.9 563.5 659.6 565.0 667.4 565.5 668.9 566.0 669.3 567.5 669.5 568.3 668.5 570.3 659.8 570.5 660.0 570.8 660.9 572.0 667.0 572.8 668.7 573.5 669.7 574.5 669.6 576.5 670.1 577.5 669.7 580.5 670.4 582.5 670.3 583.5 669.9 586.5 670.0 587.5 670.4 588.5 669.9 591.5 670.3 597.5 670.1 598.5 670.6 600.5 670.0 601.5 670.6 602.5 670.3 604.5 670.6 605.5 670.4 606.5 669.9 607.0 669.2 607.8 664.2 609.8 617.6 610.0 618.4 610.3 622.1 611.8 659.9 612.5 667.0 613.3 668.5 614.0 668.7 614.5 668.6 615.3 667.6 616.5 664.6 617.0 665.1 618.0 668.0 618.8 669.4 620.5 670.5 621.5 670.7 623.5 670.2 625.5 670.8 627.5 670.4 628.5 670.7 630.5 670.2 631.5 670.6 632.8 669.8 633.5 667.7 634.8 659.6 635.0 658.8 635.3 658.7 635.8 660.5 637.3 669.4 637.8 670.5 638.5 670.9 640.5 670.3 641.5 670.9 642.5 670.5 644.5 670.7 647.3 670.5 649.3 668.7 650.0 669.0 651.5 670.7 652.3 670.9 656.5 670.4 658.5 670.8 659.5 670.7 661.5 671.0 662.5 670.6 663.5 671.0 664.5 671.0 665.5 670.5 666.5 670.7 669.5 669.0 671.3 670.5 672.5 671.0 673.5 670.7 674.5 671.0 678.5 670.9 679.5 670.5 681.5 671.0 682.5 670.7 683.5 670.7 684.5 671.2 685.5 670.7 686.5 670.9 687.5 670.7 688.5 671.1 689.5 670.5 690.5 671.1 691.5 670.7 692.5 671.1 694.5 670.9 695.5 670.6 697.5 671.1 698.8 670.3 700.3 666.9 701.0 666.0 701.5 666.6 702.8 669.9 703.3 670.5 704.5 671.1 705.5 670.6 706.8 670.8 708.0 670.0 708.8 668.1 709.8 663.4 710.3 662.1 710.8 662.8 712.0 668.6 712.8 670.3 713.5 670.9 715.5 670.6 716.5 671.1 717.5 670.9 718.5 671.1 719.5 670.7 722.5 670.6 723.5 671.1 724.5 670.9 725.5 671.2 726.5 670.7 727.5 671.1 728.5 670.7 729.5 671.0 730.5 670.6 731.5 671.1 732.5 671.2 734.5 670.6 735.5 671.1 740.5 670.6 742.5 671.2 743.5 670.9 744.5 671.1 745.3 670.9 746.5 669.3 747.3 669.0 748.0 669.4 749.8 671.0 750.5 671.2 751.5 670.7 753.5 671.2 756.3 668.8 756.8 668.9 758.3 670.6 759.5 671.1 760.5 670.6 764.5 670.8 765.5 671.1 766.5 670.8 767.5 671.1 770.5 671.0 773.5 671.3 774.5 671.0 775.5 671.2 776.5 670.8 780.5 671.0 781.5 670.6 782.5 671.1 784.3 669.4 785.0 669.0 786.8 670.6 788.5 671.1 789.5 671.1 790.5 670.6 795.5 671.1 797.5 670.6 799.5 671.3 801.5 670.7 803.5 670.6 804.5 671.1 807.5 670.7 809.5 670.8 810.5 671.3 812.5 670.6 813.5 671.1 814.5 670.6 815.5 671.0 817.3 669.3 818.0 669.0 820.3 670.9 823.5 671.2 824.5 670.9 825.5 671.3 827.5 671.2 829.5 670.6 830.5 671.2 833.3 670.0 834.5 668.8 835.8 670.4 838.5 671.0 839.5 670.7 840.5 671.2 842.5 670.7 844.5 670.8 845.5 671.1 846.5 670.8 847.5 670.8 848.5 671.3 850.8 670.9 853.3 667.3 853.8 667.6 855.0 669.9 855.5 670.0 856.8 667.6 857.3 667.2 858.0 667.8 859.5 670.4 862.5 671.2 863.5 670.7 864.5 671.2 865.5 670.9 866.5 671.1 867.5 670.9 868.5 671.1 871.3 669.1 873.0 670.6 874.5 670.8 875.5 671.2 877.5 670.8 878.5 671.3 879.5 670.7 880.5 671.3 881.5 670.9 882.5 671.2 884.5 671.3 886.5 670.6 888.5 671.0 889.5 670.7 890.5 671.1 892.5 671.3 893.8 670.7 895.3 669.4 896.0 669.1 897.8 670.6 899.5 671.1 904.5 670.8 906.5 670.8 907.5 671.3 908.5 670.8 910.5 671.2 911.5 670.7 915.5 671.2 917.5 671.1 918.5 671.3 919.5 671.0 920.5 671.1 921.5 670.8 922.5 671.1 924.5 671.0 925.5 669.4 926.3 668.8 926.8 669.0 928.5 671.1 929.8 671.3 931.5 671.0 933.5 671.1 934.5 670.8 936.5 671.2 937.5 670.7 938.5 671.1 939.5 671.1 940.5 670.9 944.5 670.8 946.5 671.1 947.5 670.5 949.0 670.3 950.0 670.5 951.5 671.2 952.5 670.8 953.5 671.3 954.5 670.8 955.5 671.2 957.5 670.8 958.5 671.1 959.5 670.8 960.5 671.3 962.5 670.7 964.5 671.3 965.5 670.8 967.5 671.1 968.5 670.7 971.5 671.1 972.5 670.7 973.5 671.3 974.5 671.0 976.5 671.3 977.5 671.0 979.5 671.3 982.5 670.7 984.5 671.0 985.5 670.1 986.5 670.1 988.5 669.3 989.5 668.5 990.5 666.9 991.5 666.0 994.5 661.0 997.0 656.3 997.8 655.5 1000.0 654.3 1000.5 654.3 1003.3 657.3 1007.5 665.0 1009.5 667.2 1010.0 666.9 1010.8 660.9 1012.0 635.3 1012.3 635.7 1012.5 639.3 1013.5 660.4 1014.0 666.1 1014.8 669.2 1016.3 671.3 1017.0 671.7 1018.0 671.7 1019.5 669.8 1020.0 670.4 1021.0 672.6 1021.8 673.2 1023.5 673.0 1025.0 670.6 1025.5 670.3 1027.0 673.0 1027.8 673.3 1029.5 673.6 1030.5 673.3 1032.0 670.6 1032.5 670.3 1034.0 672.6 1035.5 673.7 1037.3 672.9 1038.8 670.8 1039.3 670.4 1039.8 670.8 1040.8 672.5 1041.5 673.2 1043.5 673.6 1044.8 673.4"/></defs><use href="#a2" fill="#fff" stroke="none"/><use href="#a2" fill="none" stroke="#ff0000"/>
<defs><path id="a1" d="M70.9 692.5 71.9 692.5 72.9 692.0 75.9 692.5 76.9 692.0 77.9 692.4 79.9 691.7 80.9 691.8 82.9 691.3 83.9 691.6 84.9 691.5 85.9 690.7 86.9 690.3 87.9 690.3 88.9 689.9 89.9 688.9 91.4 688.1 91.9 688.1 92.9 688.8 93.4 687.9 93.9 685.4 95.4 674.1 96.2 653.8 96.9 586.8 98.4 284.3 98.9 242.8 100.9 576.5 101.7 617.8 102.9 642.7 104.4 657.2 104.9 659.8 105.4 660.9 105.7 661.0 106.2 660.2 106.7 655.9 107.2 639.9 107.9 553.9 108.9 309.0 109.4 252.3 109.9 309.2 111.2 586.0 111.7 631.7 112.2 649.6 112.7 656.7 113.2 660.4 113.9 663.9 115.4 667.3 116.2 667.9 116.7 667.1 117.7 662.5 118.2 661.2 118.7 662.4 120.2 670.0 120.9 672.1 124.9 676.8 125.4 676.8 127.2 675.8 127.7 676.0 129.9 681.3 130.9 682.5 131.4 682.1 131.7 681.3 132.2 677.2 133.7 643.6 133.9 640.2 134.2 639.5 134.7 645.7 135.7 667.8 136.4 677.1 136.9 679.5 137.4 680.5 139.9 682.8 141.2 683.4 142.4 683.1 144.2 680.2 144.7 679.8 145.2 679.9 145.7 680.5 146.9 682.9 147.4 683.2 148.7 683.5 149.9 682.9 150.9 683.2 153.9 682.3 154.9 682.4 155.9 681.7 158.9 681.0 159.9 681.4 160.9 680.7 161.9 681.0 162.9 680.9 164.9 680.4 165.9 681.1 166.9 680.8 170.9 681.5 171.9 681.5 173.9 681.9 174.9 682.6 175.9 682.4 176.9 682.5 177.9 682.7 178.9 683.5 179.9 683.3 181.9 684.1 183.9 684.0 184.9 684.5 186.9 684.1 187.9 684.4 188.4 684.2 189.2 683.6 189.9 682.3 190.9 678.7 191.7 673.8 192.9 656.6 194.2 624.7 196.4 549.5 197.2 534.1 197.7 530.9 198.4 548.0 199.9 607.1 200.7 621.9 201.4 629.4 202.2 634.0 203.9 642.6 205.9 649.3 206.4 650.2 206.7 650.3 206.9 650.1 208.2 645.4 208.4 645.1 208.7 645.4 209.2 647.9 210.7 659.9 210.9 660.9 211.2 661.1 211.4 660.7 211.9 657.3 212.9 641.6 213.4 637.1 213.9 641.6 215.2 662.7 215.9 667.8 216.9 670.8 219.9 674.8 220.9 675.4 221.9 676.6 223.2 676.6 223.7 675.0 224.2 668.6 225.4 626.5 225.9 619.3 226.4 629.2 227.7 669.4 228.2 675.5 228.7 677.5 229.9 679.7 230.9 680.3 231.9 681.2 232.4 681.1 232.9 680.5 233.7 677.1 234.9 664.4 235.4 662.5 237.2 676.4 237.7 677.5 238.4 677.1 238.9 677.3 240.7 682.5 241.2 683.1 241.9 683.5 242.9 683.1 243.9 683.3 244.9 682.8 246.9 682.7 247.9 682.1 248.7 681.2 249.4 678.2 249.9 673.8 251.2 657.3 251.9 651.7 252.4 641.8 252.9 611.0 253.9 477.1 254.4 437.0 254.7 441.5 254.9 461.8 256.4 642.4 257.2 666.8 257.9 673.5 259.2 678.0 259.9 679.9 260.7 681.0 261.4 681.7 261.9 681.6 262.4 680.7 263.7 674.8 264.2 673.9 264.7 675.3 265.9 682.5 266.4 683.8 266.7 683.9 267.2 683.6 267.9 680.0 269.2 663.2 269.7 660.3 270.2 663.7 271.4 678.8 271.9 682.0 272.4 683.8 272.9 684.6 273.9 684.8 274.9 685.6 278.2 685.6 279.2 684.8 280.2 683.4 280.7 683.2 282.9 685.8 283.9 686.0 284.9 685.8 285.9 686.2 286.9 686.2 287.7 685.7 289.2 683.7 289.7 683.3 290.4 683.8 291.4 685.4 292.2 686.2 292.9 686.4 293.9 685.9 294.9 686.4 295.9 686.5 297.7 685.1 299.2 682.3 299.7 682.6 301.2 685.5 301.9 686.1 303.9 686.3 304.9 686.1 305.9 686.6 306.9 686.5 309.2 683.8 309.7 683.5 310.2 683.8 311.4 685.6 312.7 686.4 313.9 686.0 316.9 686.0 317.9 686.3 318.9 685.7 320.2 682.6 320.7 681.9 320.9 681.9 321.2 682.4 321.9 684.3 322.7 685.5 323.9 686.0 325.4 685.6 326.2 684.5 326.7 682.2 327.9 668.7 328.4 665.8 328.9 667.9 330.2 680.0 330.7 682.8 331.2 684.1 331.9 684.6 332.7 684.2 334.2 680.7 334.7 680.0 335.2 680.3 336.2 682.3 336.7 682.6 337.2 682.4 338.2 681.3 339.4 679.1 340.2 677.2 340.9 674.3 341.7 668.4 342.2 657.4 342.7 629.3 343.4 521.4 344.4 293.2 344.9 251.0 345.4 304.6 346.7 570.4 347.4 641.7 348.2 662.7 348.7 667.7 349.4 672.2 350.7 677.3 351.4 679.2 352.9 681.9 355.4 683.9 357.9 685.4 358.9 685.4 359.9 686.0 362.4 682.5 362.9 682.9 363.9 685.4 364.7 686.4 365.2 686.6 366.9 686.6 367.9 687.0 368.9 686.7 370.9 686.9 371.7 686.0 372.7 684.2 373.2 683.9 375.2 686.6 376.2 687.0 376.7 686.6 377.2 685.2 378.4 677.1 378.9 675.4 379.4 676.6 380.9 685.0 381.7 686.6 382.7 687.2 383.2 687.1 383.7 686.5 385.2 682.9 385.7 682.3 386.2 682.9 387.7 686.9 388.2 687.4 388.9 687.8 389.9 687.3 391.2 684.9 391.7 684.4 392.2 684.9 393.4 687.2 394.9 687.9 397.9 688.1 399.2 687.8 400.2 687.1 401.4 685.4 402.2 685.2 402.7 685.5 404.4 687.8 404.9 688.1 406.2 688.0 406.9 687.6 408.2 685.6 408.7 685.2 409.4 685.7 410.9 688.2 411.9 688.0 413.9 688.5 414.4 688.4 414.9 688.0 416.2 685.8 416.7 685.6 417.2 685.9 418.4 687.8 419.2 688.3 424.9 688.5 425.9 688.9 428.4 687.8 429.7 685.2 430.2 684.8 432.7 688.8 432.9 689.0 433.9 688.5 434.9 689.2 436.9 689.3 437.9 688.7 438.9 689.3 441.9 689.0 442.9 689.4 443.9 688.9 444.9 689.4 446.7 688.7 448.2 685.9 448.7 685.5 449.4 686.2 450.9 689.3 451.9 689.1 452.9 689.7 454.9 689.7 455.9 689.2 457.9 689.7 458.9 689.3 459.9 689.9 460.9 689.3 461.9 689.8 463.9 689.5 465.9 690.0 466.7 690.0 467.9 689.3 469.7 686.9 470.2 687.2 471.7 689.3 474.9 690.1 475.9 690.0 477.9 690.3 478.9 689.9 480.9 690.5 481.9 690.4 482.9 690.0 484.9 690.3 486.9 690.2 487.9 690.7 488.9 690.8 489.9 690.2 491.9 690.2 493.9 690.8 496.7 690.2 498.2 688.1 498.7 687.9 499.9 689.0 500.9 690.2 503.9 691.0 505.9 691.2 506.9 690.8 508.9 691.2 510.9 690.9 512.9 691.2 513.7 690.4 515.7 687.1 516.2 687.5 517.7 690.8 518.2 691.2 519.4 690.5 519.9 689.3 521.2 681.8 521.7 680.3 522.2 681.8 522.9 686.3 523.7 688.9 524.2 689.3 524.4 689.0 525.7 685.5 525.9 685.0 526.2 685.0 528.2 690.6 528.7 691.2 529.7 691.5 530.4 691.2 530.9 690.3 532.4 681.9 532.9 680.5 533.4 681.6 534.7 688.4 535.4 690.4 535.9 690.6 536.4 689.7 538.4 680.7 538.9 681.8 540.2 688.5 540.9 690.8 541.4 691.1 543.2 690.9 543.9 689.4 545.2 681.1 545.7 679.7 546.2 681.2 547.9 690.2 548.4 690.8 549.7 691.3 551.9 691.5 553.9 692.1 555.9 692.2 556.9 691.6 557.9 691.8 559.9 691.7 560.9 692.2 561.9 691.7 564.9 692.3 565.9 691.7 566.9 692.2 567.9 691.9 568.9 692.1 569.9 691.8 570.9 692.2 571.9 692.0 574.9 692.5 576.9 691.9 577.9 692.1 578.9 692.0 579.9 692.4 581.2 692.4 581.9 692.0 582.4 691.0 583.2 684.4 584.7 639.7 585.2 632.2 585.7 639.0 586.9 676.9 587.7 687.0 588.2 689.2 588.9 690.6 589.4 690.7 590.2 690.3 591.9 687.8 592.4 688.2 593.9 691.5 594.4 692.0 595.9 692.4 596.9 692.2 598.9 692.2 600.9 692.7 601.9 692.2 602.9 692.8 603.9 692.2 605.9 692.5 607.9 692.0 608.7 691.3 610.2 686.9 610.7 686.5 612.2 690.8 612.9 692.0 613.9 692.4 615.9 692.3 616.9 692.8 617.9 692.2 618.9 692.7 622.7 692.2 624.7 690.3 624.9 690.3 626.2 692.1 628.9 692.3 629.9 692.8 630.9 692.9 631.9 692.9 632.9 692.3 633.9 692.7 635.9 692.9 639.9 692.5 641.9 692.8 643.2 692.1 644.7 690.9 645.2 691.1 646.4 692.3 647.9 692.9 648.9 692.6 649.9 693.1 650.9 692.6 651.9 692.9 652.9 692.4 655.9 692.6 657.9 692.5 658.9 692.8 659.9 692.5 660.9 693.1 663.9 692.8 664.9 693.1 665.9 692.6 667.9 692.7 668.9 693.1 669.9 692.6 673.4 692.8 674.2 692.4 675.7 689.4 676.2 688.9 676.7 689.4 678.2 692.4 679.9 692.6 680.9 693.2 681.9 692.8 682.9 693.1 683.9 692.3 685.2 689.3 685.7 688.8 686.2 689.2 687.2 691.5 687.9 692.5 688.9 692.9 689.9 692.7 690.9 693.2 691.9 692.5 695.9 693.2 696.9 692.9 697.9 693.2 699.9 692.7 700.9 693.2 701.9 692.6 703.9 693.1 705.9 693.2 706.9 692.7 707.9 693.0 710.9 692.8 711.9 693.2 714.9 692.8 717.9 692.8 719.2 693.1 720.4 692.8 722.7 690.9 723.2 691.1 724.4 692.5 725.9 693.2 729.7 692.7 731.7 690.9 732.2 691.2 733.7 692.9 734.9 693.2 736.9 692.8 737.9 693.2 739.9 692.8 742.9 693.3 743.9 692.7 744.9 693.1 745.9 693.1 749.9 692.9 750.9 692.6 751.9 693.0 752.9 692.9 753.9 693.1 755.9 692.7 757.9 693.1 759.7 691.3 760.4 691.0 762.2 692.6 763.2 693.0 765.9 692.7 772.9 693.2 774.9 692.7 776.9 693.0 777.9 692.7 778.9 693.0 779.9 692.8 783.9 692.7 785.9 693.0 788.9 692.7 790.9 693.1 792.7 691.2 793.2 691.0 795.4 692.9 796.2 693.1 796.9 693.2 797.9 692.8 798.9 693.1 800.9 693.1 801.9 693.3 802.9 692.9 803.9 693.1 804.9 692.8 806.9 692.8 807.7 692.6 809.2 691.2 809.7 691.0 812.2 692.9 815.9 693.1 816.9 692.8 817.9 693.3 820.9 693.0 821.9 693.2 823.9 693.1 824.9 692.7 825.9 693.3 826.9 692.8 827.9 691.4 828.7 690.9 830.2 692.3 831.4 692.1 832.4 691.3 832.9 691.2 833.9 691.7 834.9 692.9 835.9 692.7 836.9 693.3 838.9 693.1 839.9 692.7 841.9 692.7 842.9 693.2 844.9 692.7 846.4 690.9 846.9 690.8 848.9 692.9 849.9 693.2 850.9 692.8 852.9 693.2 854.9 692.9 855.9 693.3 857.9 692.9 861.9 693.0 863.9 692.7 864.9 693.3 865.9 693.3 866.9 692.9 869.4 692.6 871.4 691.0 871.9 691.1 872.9 692.5 874.9 692.7 875.9 693.2 876.9 692.7 877.9 692.7 879.9 693.2 880.9 693.3 881.9 692.8 883.9 693.1 885.9 692.8 886.9 693.2 887.9 692.8 889.9 692.7 890.9 693.1 893.9 692.9 894.9 693.3 895.9 692.7 896.9 693.2 898.9 693.3 899.9 692.6 900.9 691.3 901.4 691.1 903.7 692.5 904.9 692.9 906.9 692.9 907.9 693.3 909.9 692.7 910.9 693.3 911.9 692.7 915.9 693.3 916.9 693.3 917.9 692.8 918.9 693.3 919.9 692.9 922.4 693.0 924.7 692.3 926.9 693.1 929.9 692.7 931.9 693.2 932.9 692.7 933.9 692.7 934.9 693.2 936.9 692.6 939.9 693.1 940.9 693.0 941.9 693.3 942.9 692.7 945.9 693.1 946.9 692.7 947.9 693.1 951.9 693.3 952.9 692.8 955.9 693.0 956.9 692.6 958.9 693.1 959.9 692.6 960.9 692.7 963.9 691.3 964.9 691.2 965.9 689.8 966.9 689.2 967.7 688.3 971.9 682.6 973.9 681.2 975.2 680.9 975.9 680.9 977.2 681.9 979.9 684.7 980.9 686.2 981.9 687.1 982.9 688.9 984.7 690.3 985.2 690.3 985.7 688.7 985.9 686.5 987.4 657.4 987.9 662.7 988.9 683.2 989.4 688.4 989.9 690.8 991.9 693.9 992.9 694.3 994.4 692.2 994.9 691.9 995.4 692.3 996.7 695.0 997.2 695.3 998.9 694.8 1000.2 692.8 1000.7 692.5 1002.4 695.1 1003.9 695.4 1005.9 695.1 1007.2 692.7 1007.7 692.3 1008.2 692.7 1009.4 694.8 1011.9 695.6 1013.4 694.3 1014.4 692.6 1014.9 692.2 1015.9 694.5 1016.4 695.1 1017.4 695.4 1018.9 695.1 1020.2 695.3"/></defs><use href="#a1" fill="#fff" stroke="none"/><use href="#a1" fill="none" stroke="#800080"/>
<defs><path id="a0" d="M46.3 713.8 47.3 713.6 49.3 713.9 50.3 713.2 53.3 713.6 54.3 713.0 56.3 713.4 57.3 712.8 59.3 712.4 60.3 712.2 61.3 712.5 62.3 712.1 63.3 711.3 64.3 711.2 65.3 710.2 66.5 709.4 67.0 709.5 68.3 710.6 68.8 709.5 69.3 706.8 70.8 695.2 71.5 674.6 72.3 607.7 73.8 305.4 74.3 264.0 76.3 597.5 77.0 638.8 78.3 663.7 79.5 676.5 80.5 681.2 81.0 682.2 81.3 682.2 81.8 680.0 82.0 676.9 82.5 660.4 83.3 572.6 84.3 324.4 84.8 266.5 85.3 324.0 86.5 605.9 87.0 652.2 87.5 670.2 88.0 677.1 88.5 680.5 89.8 685.3 90.8 687.6 91.3 688.1 91.5 688.0 92.0 686.9 93.5 679.4 94.0 680.6 95.5 689.9 96.3 692.2 97.3 693.8 100.0 696.7 101.0 697.0 102.3 696.0 103.0 696.2 105.3 701.8 106.0 702.6 106.5 702.5 107.0 700.9 107.5 695.7 109.0 654.6 109.3 650.4 109.5 649.7 111.5 693.3 112.3 698.8 112.8 700.1 113.8 701.3 116.0 702.8 117.3 703.0 118.0 702.6 119.8 700.4 120.3 700.2 121.0 700.9 122.3 703.1 123.3 703.5 126.3 703.2 127.3 702.7 129.3 702.9 130.3 702.3 131.3 702.0 132.3 702.2 134.3 701.4 135.3 701.5 138.3 700.8 141.3 701.2 142.3 701.0 143.3 701.4 144.3 701.2 145.3 701.6 147.3 702.1 149.3 702.2 151.3 703.0 152.3 703.1 154.3 703.8 155.3 703.5 156.3 703.5 157.3 703.8 158.3 704.5 159.3 704.6 160.3 704.2 162.3 704.5 163.8 704.0 164.6 703.5 165.3 702.3 166.3 698.2 167.1 692.3 168.3 672.4 169.6 636.5 171.8 554.7 172.6 538.9 172.8 536.6 173.1 536.5 173.6 547.9 175.1 613.7 175.8 632.9 176.6 642.5 177.8 651.4 178.6 655.4 181.1 665.3 181.6 666.6 182.1 666.8 182.6 665.5 183.6 660.4 183.8 659.9 184.1 660.3 185.8 676.3 186.3 678.6 186.6 679.1 186.8 679.0 187.3 676.3 188.3 663.0 188.8 660.2 189.3 664.9 190.3 680.8 191.1 686.4 191.8 688.9 192.6 690.5 195.3 693.8 198.3 696.6 198.8 696.2 199.1 695.3 199.6 690.9 200.8 664.9 201.1 662.1 201.3 662.0 202.8 690.6 203.3 695.8 204.1 698.5 205.1 699.6 207.3 701.0 207.8 701.0 208.3 700.5 209.1 697.4 210.6 684.7 210.8 684.8 211.1 686.0 212.1 694.2 212.6 696.6 212.8 697.0 213.8 696.3 214.1 696.4 215.6 701.1 216.1 702.1 216.8 702.7 217.8 703.0 218.3 703.1 219.3 702.8 220.3 703.2 221.3 702.8 222.6 701.8 223.6 700.6 224.1 699.6 224.6 697.8 225.1 694.4 226.3 677.2 227.3 666.7 227.8 650.1 228.3 603.9 229.3 428.3 229.8 387.0 230.3 429.6 231.3 606.0 231.8 656.0 232.6 683.1 233.3 690.6 234.3 695.5 235.8 699.2 236.8 700.8 237.3 701.1 238.1 699.4 239.1 694.7 239.6 694.0 240.1 695.5 241.3 702.6 241.8 704.0 242.1 704.2 242.3 704.1 242.8 702.5 243.3 698.3 244.6 678.1 244.8 675.9 245.1 675.5 247.1 700.7 247.8 703.9 249.3 705.5 250.3 705.8 251.3 705.5 253.3 706.3 255.8 703.4 256.3 703.7 257.3 705.2 258.1 705.9 259.3 706.4 262.3 706.6 263.1 706.1 264.6 703.7 265.1 703.4 265.6 703.8 267.3 706.3 268.3 706.2 269.3 706.6 271.3 706.9 272.6 706.2 274.1 703.1 274.6 702.7 276.6 705.9 278.3 707.0 279.3 706.3 280.3 706.8 281.3 706.3 282.6 706.3 283.3 705.7 284.6 703.6 285.1 703.4 285.6 703.8 287.3 706.5 289.3 706.9 290.3 706.5 291.3 706.4 293.1 706.8 294.1 706.1 295.6 703.1 296.1 702.7 296.6 703.2 297.6 705.4 298.3 706.5 299.3 706.8 300.3 706.6 301.1 705.5 301.8 701.3 303.3 672.7 303.8 668.3 304.3 673.6 305.6 696.2 306.1 700.9 306.6 703.1 307.3 704.4 307.8 704.2 310.1 700.8 310.6 701.2 311.8 703.0 312.6 703.1 313.3 702.6 315.1 699.7 316.3 695.7 317.1 689.5 317.6 677.7 318.1 648.3 318.6 586.7 319.8 334.9 320.1 310.3 320.3 308.5 320.8 367.9 322.1 609.5 322.8 668.8 323.6 685.9 324.1 690.1 325.1 695.5 326.3 699.7 328.1 702.6 331.3 705.5 334.3 706.5 334.8 706.3 335.8 705.7 337.3 703.0 337.8 702.7 338.3 703.4 339.6 706.2 340.6 707.3 341.3 707.4 342.3 707.1 344.3 707.3 346.6 706.9 347.3 706.3 348.3 704.5 348.8 704.7 350.3 707.0 350.8 707.3 351.6 707.3 352.1 707.0 352.6 706.3 353.8 702.6 354.3 702.0 354.8 702.6 356.6 706.9 357.3 707.7 358.1 707.8 358.8 707.7 359.3 707.4 360.6 705.2 361.1 704.9 362.8 707.6 363.6 707.9 364.3 707.9 365.1 707.5 366.6 705.2 367.1 705.0 367.6 705.5 368.6 707.5 369.3 708.2 370.3 708.1 371.3 708.5 372.3 708.1 373.3 708.7 375.6 707.7 376.8 706.0 377.3 705.7 379.1 707.9 381.3 708.8 382.1 708.3 383.6 706.3 384.1 706.0 386.3 708.6 387.3 708.9 388.8 708.9 390.1 708.4 391.8 706.2 392.6 706.8 393.6 708.4 395.3 709.3 399.3 708.9 401.3 709.1 402.3 709.5 403.8 708.5 405.1 705.9 405.6 705.4 406.3 706.3 407.3 708.9 408.1 709.6 409.3 709.9 413.3 709.6 414.3 710.1 415.3 709.5 416.3 710.1 417.3 709.7 418.3 709.9 421.3 709.9 422.1 709.0 423.6 704.4 424.1 703.8 424.6 704.7 425.8 708.9 426.3 710.0 426.6 710.1 428.3 709.9 431.3 710.4 432.3 710.2 433.3 710.5 434.3 710.1 435.3 710.5 436.3 710.2 437.3 710.5 438.3 710.6 440.3 710.6 441.3 710.3 442.3 710.7 444.6 708.0 445.1 707.8 445.6 708.1 447.1 710.6 447.6 711.0 450.3 710.9 451.3 711.1 452.3 710.8 455.3 711.4 458.3 711.2 461.3 711.6 462.3 711.6 463.3 711.0 464.3 711.6 465.3 711.4 466.3 711.7 467.3 711.5 469.3 711.8 472.3 711.1 473.3 709.0 473.8 708.5 474.3 708.8 475.3 710.6 476.1 711.3 478.3 711.6 479.3 712.1 480.3 711.5 481.3 712.1 482.3 711.7 484.3 712.1 485.3 711.8 488.3 712.1 489.1 711.7 490.6 709.4 491.1 709.2 491.6 709.7 492.6 711.5 493.3 712.2 493.8 712.0 494.6 711.2 495.1 709.5 496.6 694.1 496.8 692.7 497.1 692.6 498.6 705.3 499.3 709.1 499.6 709.5 500.1 709.3 501.1 706.7 501.6 706.3 502.1 707.1 503.3 711.2 503.8 711.8 504.8 712.1 505.3 712.0 505.8 711.4 506.3 709.5 507.8 694.9 508.3 692.9 508.8 695.5 510.1 707.4 510.6 709.9 511.1 710.8 511.6 710.6 512.0 709.0 513.3 699.8 513.8 698.2 514.3 700.2 515.3 707.9 515.8 710.1 516.5 711.5 517.8 712.1 518.5 712.1 519.0 711.6 520.5 705.5 520.8 705.0 521.0 704.9 522.8 710.9 523.8 712.1 525.8 713.0 526.3 713.1 528.3 712.6 531.3 712.8 532.3 713.3 533.3 713.4 534.3 712.8 535.3 713.4 538.3 713.4 539.3 713.0 542.3 713.3 543.3 713.1 546.3 713.3 547.3 713.1 548.3 713.4 550.3 713.1 551.3 713.4 552.3 713.2 553.3 713.5 555.3 713.2 556.5 713.4 557.3 712.8 557.8 711.5 558.5 702.1 560.0 643.7 560.3 637.7 560.5 636.5 561.0 647.6 562.3 695.8 563.0 707.5 563.8 710.5 564.3 711.1 564.8 711.2 565.5 710.5 566.8 707.1 567.3 706.4 569.0 712.0 569.5 712.8 570.3 713.3 574.3 713.4 575.3 713.9 576.3 713.3 577.3 713.6 578.3 713.3 579.3 713.7 580.3 713.7 581.3 713.4 582.3 713.8 582.8 713.5 583.5 712.7 584.0 711.3 585.3 703.9 585.8 702.6 586.3 703.9 587.3 709.9 588.0 712.6 588.8 713.3 592.3 714.0 594.3 713.7 595.3 713.9 596.3 713.7 597.8 713.9 598.3 713.7 599.3 712.0 599.8 711.8 600.5 712.2 602.3 713.9 603.3 714.2 604.3 713.7 605.3 713.6 606.3 714.0 607.3 713.6 608.3 714.0 609.3 714.0 610.3 713.6 612.3 713.9 613.3 713.6 615.3 714.0 616.3 713.6 618.0 713.8 618.3 713.8 619.5 712.1 620.0 711.8 621.8 713.6 623.3 714.2 624.3 713.8 627.3 713.7 629.3 714.2 631.3 713.9 632.3 714.3 633.3 714.4 634.3 713.9 636.3 714.3 637.3 713.8 639.3 714.3 641.3 714.3 642.3 713.8 644.3 714.4 647.3 713.9 648.3 714.4 649.0 713.7 649.5 712.9 651.0 707.0 651.5 706.3 652.0 707.4 653.5 713.4 654.0 713.9 655.3 713.8 657.3 714.4 658.5 713.7 659.0 713.1 660.5 706.9 661.0 706.3 661.5 707.4 662.5 711.6 663.3 713.5 664.3 714.3 667.3 714.5 668.3 714.1 669.3 714.4 670.3 713.9 671.3 713.8 673.3 714.4 674.3 714.1 675.3 714.2 678.3 713.9 680.3 714.4 682.3 714.5 683.3 714.1 684.3 714.5 685.3 714.2 686.3 714.4 688.3 714.1 689.3 714.3 693.3 714.4 696.3 714.0 697.3 712.4 697.8 712.1 698.5 712.5 700.3 714.1 702.3 714.2 703.3 714.4 705.3 713.8 706.5 712.4 707.0 712.2 709.3 714.4 710.3 714.0 712.3 714.5 713.3 714.3 714.3 714.5 716.3 714.1 717.3 714.5 718.3 714.0 719.3 714.5 723.3 714.1 725.3 714.4 727.3 714.0 729.3 714.3 733.0 714.3 733.5 714.1 734.8 712.7 735.5 712.5 738.3 714.3 739.3 714.3 740.3 714.6 741.3 714.0 742.3 714.4 743.3 714.1 744.3 714.6 746.3 714.0 747.3 714.6 748.3 714.2 750.3 714.3 751.3 714.6 753.3 713.9 754.3 714.6 756.3 714.4 757.3 714.0 758.3 714.4 760.3 714.6 761.3 714.3 763.3 714.5 765.8 714.1 768.5 712.3 769.0 712.5 770.8 714.0 772.3 714.6 773.3 714.1 774.3 714.4 777.3 714.6 778.3 714.1 779.3 714.4 780.3 714.0 781.5 714.4 783.0 713.9 785.0 712.3 786.5 713.8 788.3 714.5 789.3 714.2 790.3 714.4 791.3 714.1 792.3 714.4 794.3 714.0 796.3 714.4 797.3 714.1 798.3 714.4 799.3 714.0 800.3 714.4 801.5 713.7 802.0 713.1 803.5 708.8 804.0 708.2 804.5 709.0 805.5 712.2 806.0 713.0 806.5 712.8 807.5 710.9 808.0 710.4 808.5 710.9 809.5 713.2 810.3 714.1 812.3 714.4 813.3 714.1 814.3 714.5 816.3 714.0 817.3 714.2 819.8 714.0 820.3 713.7 821.3 711.9 821.8 711.5 822.5 712.0 823.8 713.7 825.3 714.4 826.3 714.1 827.3 714.1 828.3 714.4 832.3 714.0 834.3 714.6 835.3 714.6 837.3 714.1 838.3 714.3 839.3 714.2 843.8 714.5 844.5 714.3 846.0 712.8 846.5 712.6 850.3 714.6 851.3 714.0 852.3 714.5 854.3 714.1 855.3 714.5 858.3 714.0 859.3 714.5 863.3 714.1 865.3 714.5 866.3 714.5 867.3 714.0 868.3 714.2 869.3 714.0 870.3 714.6 871.3 714.1 873.3 714.2 874.5 714.0 876.8 712.6 877.5 712.9 878.5 713.7 880.3 714.5 882.3 714.0 883.3 714.3 886.3 714.1 889.3 714.5 890.3 714.5 891.3 714.0 892.3 714.5 894.3 714.4 895.3 713.9 898.0 714.0 899.8 713.1 900.8 713.4 902.3 714.5 903.3 714.1 904.3 714.6 905.3 714.1 906.3 714.0 907.3 714.5 910.3 714.2 912.3 714.5 913.3 714.0 915.3 714.5 916.3 714.1 917.3 714.4 919.3 714.0 922.3 714.6 923.3 714.2 926.3 714.4 927.3 714.0 928.3 714.4 929.3 714.1 930.3 714.4 931.3 714.1 933.3 713.9 935.3 714.2 936.3 713.8 937.3 713.8 941.3 710.9 942.3 709.1 944.3 706.6 948.3 700.2 950.3 699.0 952.3 699.9 953.0 700.6 954.3 702.2 958.5 709.2 960.0 710.9 960.5 710.8 961.0 708.6 961.3 705.8 962.3 683.1 962.8 677.3 964.5 708.1 965.3 712.3 966.0 713.5 967.3 714.8 968.5 715.1 969.3 714.6 970.3 713.1 970.8 713.6 972.0 716.2 972.5 716.6 974.3 716.4 976.0 714.4 976.3 714.5 977.5 716.3 978.3 716.5 979.3 717.0 980.3 717.0 981.3 716.5 982.8 714.7 983.3 714.5 984.3 716.1 985.3 716.8 986.3 716.4 988.3 716.7 989.3 714.9 989.8 714.6 990.5 715.0 991.8 716.2 992.8 716.7 993.3 716.8 994.3 716.5 995.5 716.8"/></defs><use href="#a0" fill="#fff" stroke="none"/><use href="#a0" fill="none" stroke="#ff00ff"/>
<defs><path id="b11" d="M355.9 1308.3 357.9 1308.4 358.9 1307.8 359.9 1308.4 360.9 1307.9 361.9 1308.3 364.9 1307.8 365.9 1308.0 367.9 1307.5 368.9 1307.7 369.9 1307.2 370.9 1307.4 371.9 1307.0 372.9 1307.3 375.1 1306.3 375.6 1306.6 376.1 1307.4 377.4 1310.8 377.9 1309.7 378.9 1304.7 379.9 1301.3 380.6 1295.5 381.4 1272.6 381.9 1231.1 383.6 894.5 384.1 848.8 384.4 851.3 385.1 885.4 385.6 890.9 385.9 899.7 386.1 921.5 387.6 1209.9 388.1 1256.8 388.6 1275.8 389.1 1283.1 389.6 1286.7 390.4 1289.7 391.4 1291.6 391.6 1291.7 391.9 1291.1 392.1 1289.1 392.6 1277.8 393.4 1218.2 394.4 1069.9 394.6 1050.6 394.9 1049.2 396.4 1238.9 396.9 1274.0 397.4 1287.9 398.1 1293.8 399.9 1298.0 400.9 1299.2 401.9 1299.8 403.9 1301.8 407.9 1304.6 408.9 1304.7 409.9 1305.7 410.9 1305.7 412.9 1306.7 413.9 1306.4 414.9 1306.7 415.4 1306.0 416.1 1303.0 417.6 1289.8 418.1 1287.4 418.4 1287.6 418.6 1288.8 420.4 1302.4 421.1 1305.4 421.9 1306.7 422.6 1306.6 423.4 1306.2 425.1 1303.3 426.6 1302.2 427.1 1302.7 428.9 1306.2 430.9 1307.4 431.9 1307.5 433.9 1307.4 434.9 1306.8 437.9 1307.2 438.9 1306.9 439.9 1307.1 441.9 1306.7 442.9 1307.3 445.9 1307.0 447.9 1306.5 448.9 1306.8 449.9 1306.5 450.9 1306.9 451.9 1306.3 452.9 1306.9 453.9 1306.3 454.9 1306.7 455.9 1306.8 456.9 1306.2 458.9 1306.6 459.9 1306.2 462.9 1306.5 464.9 1305.9 466.9 1306.0 467.9 1306.4 468.9 1306.2 470.9 1306.2 473.9 1305.4 475.6 1305.5 476.1 1305.2 477.1 1303.2 477.6 1301.0 478.6 1290.8 479.4 1276.5 481.1 1230.2 481.6 1222.1 481.9 1220.3 482.1 1220.3 482.6 1227.2 484.4 1273.5 484.9 1280.7 485.6 1286.5 486.4 1289.0 488.9 1293.4 490.9 1295.1 491.9 1296.7 493.9 1297.8 494.9 1298.8 496.9 1300.0 497.9 1300.2 498.9 1301.2 499.9 1301.4 501.9 1302.2 502.9 1302.2 506.9 1303.6 507.9 1303.3 509.9 1303.6 510.9 1304.2 512.9 1304.5 513.9 1304.6 514.9 1304.3 515.9 1304.8 517.9 1305.0 518.9 1304.9 519.9 1305.1 520.9 1305.0 521.9 1305.3 524.9 1305.1 525.9 1305.5 526.9 1305.1 528.9 1305.1 529.9 1305.6 531.9 1305.4 532.9 1305.6 533.6 1305.3 534.1 1304.4 534.6 1301.4 535.1 1294.0 536.4 1254.9 536.9 1246.4 537.4 1252.6 538.6 1289.6 539.4 1300.0 539.9 1301.8 540.4 1301.4 541.1 1299.9 541.6 1299.7 543.4 1304.2 544.1 1305.1 547.6 1305.7 548.4 1305.7 548.9 1305.2 549.6 1302.8 550.6 1296.0 551.1 1294.0 551.4 1294.0 551.6 1294.8 553.1 1304.2 553.6 1305.4 554.1 1305.7 555.1 1305.4 555.9 1303.9 557.1 1296.1 557.6 1294.3 558.1 1295.2 559.9 1305.3 560.4 1305.9 561.9 1306.5 563.9 1306.3 567.9 1306.5 568.9 1306.2 570.9 1306.4 571.9 1306.9 575.9 1306.4 576.9 1307.1 577.9 1306.9 579.9 1307.1 580.9 1306.7 581.9 1307.1 582.9 1306.7 585.9 1306.8 587.9 1307.3 589.9 1307.1 591.9 1307.5 593.9 1307.0 597.9 1307.3 598.9 1307.2 600.9 1307.7 601.9 1307.2 602.9 1307.6 603.9 1307.4 604.9 1307.8 606.9 1307.2 608.9 1307.9 609.9 1307.9 610.9 1307.4 611.9 1307.8 614.9 1307.3 615.9 1307.9 616.9 1307.7 617.9 1307.8 618.9 1307.5 619.9 1307.6 620.4 1307.5 621.4 1306.7 622.9 1304.6 623.4 1305.0 624.4 1306.6 625.1 1307.2 625.9 1307.1 626.9 1307.4 628.6 1306.5 629.6 1305.0 630.1 1302.5 630.9 1286.4 632.6 1158.9 632.9 1160.2 633.1 1171.8 634.4 1273.9 635.1 1297.6 635.9 1302.9 637.4 1305.3 637.9 1305.9 638.9 1306.1 639.9 1307.0 640.9 1307.1 641.9 1307.7 642.9 1307.9 646.6 1307.4 647.1 1305.8 647.4 1303.9 648.1 1289.3 649.1 1251.4 649.6 1240.5 649.9 1241.4 650.1 1246.2 651.6 1295.7 652.4 1304.6 653.1 1306.7 653.9 1307.5 659.9 1308.5 660.6 1307.9 662.1 1305.8 662.6 1305.6 663.9 1306.6 664.9 1308.3 665.4 1308.2 666.4 1307.4 667.6 1304.9 668.1 1304.3 668.6 1304.7 670.1 1307.6 671.9 1308.6 672.9 1307.9 673.9 1305.9 674.4 1305.5 674.9 1305.7 675.9 1307.4 676.6 1308.1 677.6 1308.4 680.9 1308.6 681.9 1308.2 682.9 1308.7 683.9 1308.2 685.9 1308.7 688.9 1308.2 689.9 1308.7 691.9 1308.4 692.9 1308.7 693.9 1308.2 694.9 1308.4 695.6 1308.1 697.4 1306.4 697.9 1306.2 698.9 1307.5 700.9 1308.7 704.9 1308.4 705.9 1308.8 706.9 1308.8 707.9 1308.4 708.9 1308.8 710.9 1308.3 711.9 1308.6 712.9 1308.4 714.9 1308.3 715.9 1308.8 716.9 1308.8 719.9 1308.6 720.9 1308.2 721.9 1308.8 722.9 1308.3 723.9 1308.6 724.9 1308.3 725.9 1308.7 727.9 1308.8 728.9 1308.3 730.9 1308.2 733.9 1308.6 734.6 1308.2 735.1 1307.3 736.6 1301.6 737.1 1300.6 737.4 1300.6 737.9 1301.7 739.4 1307.4 740.1 1308.2 741.9 1308.6 743.9 1308.2 745.9 1308.7 746.9 1308.5 749.9 1308.7 750.9 1308.4 753.9 1308.3 754.9 1308.8 755.9 1308.5 756.9 1308.8 757.9 1308.2 759.9 1308.8 760.9 1308.8 761.9 1308.4 762.9 1308.7 763.9 1308.3 765.9 1308.8 766.9 1308.2 769.9 1308.3 770.9 1308.8 772.9 1308.4 773.9 1308.8 774.9 1308.3 775.9 1308.4 776.9 1308.2 778.9 1308.2 779.9 1308.4 781.9 1308.2 782.9 1308.8 783.9 1308.2 785.9 1308.2 786.9 1308.5 789.9 1308.3 791.9 1308.6 793.9 1308.3 797.9 1308.5 800.1 1306.4 800.6 1306.6 802.9 1308.6 803.9 1308.8 804.9 1308.6 806.9 1308.8 808.9 1308.3 809.9 1308.8 811.9 1308.3 813.9 1308.4 814.9 1308.8 817.9 1308.2 818.9 1308.5 822.9 1308.4 823.9 1308.7 825.9 1308.2 826.9 1308.7 829.9 1308.4 830.9 1308.8 834.9 1308.8 835.9 1308.4 836.9 1308.7 838.9 1308.8 842.9 1308.4 843.9 1308.7 844.9 1308.7 846.9 1308.3 847.9 1308.8 848.9 1308.4 849.9 1308.3 850.9 1308.7 851.9 1308.3 854.9 1308.8 856.9 1308.6 857.9 1308.2 859.9 1308.5 860.9 1308.2 863.9 1308.8 865.9 1308.4 867.9 1308.7 870.6 1308.2 871.1 1307.9 871.6 1306.9 872.4 1301.9 873.4 1289.6 873.9 1286.5 874.4 1288.7 875.6 1303.0 876.4 1307.1 877.1 1308.0 878.9 1308.4 880.9 1308.1 883.9 1308.7 885.9 1308.6 886.9 1308.3 888.9 1308.7 889.9 1308.3 890.9 1308.8 891.9 1308.8 897.9 1308.5 899.1 1307.8 900.4 1305.8 900.9 1305.5 902.4 1307.7 903.9 1308.5 904.9 1308.7 905.9 1308.5 906.9 1308.7 907.9 1308.3 909.9 1308.8 912.9 1308.4 913.9 1308.8 916.9 1308.3 917.9 1308.7 919.9 1308.1 921.1 1306.6 921.6 1306.4 921.9 1306.4 922.9 1308.0 924.9 1308.3 925.9 1308.8 926.9 1308.2 927.9 1308.7 928.9 1308.4 930.9 1308.6 932.9 1308.4 933.9 1308.7 934.9 1308.3 936.9 1308.7 937.9 1308.2 938.9 1308.8 940.9 1308.6 943.9 1308.8 944.9 1308.4 947.9 1308.2 949.9 1308.7 951.9 1308.8 952.9 1308.4 953.9 1308.7 955.9 1308.3 956.9 1308.8 958.9 1308.7 960.6 1307.5 961.4 1307.3 961.9 1307.4 962.9 1308.3 963.4 1308.3 964.4 1307.9 964.9 1307.1 966.4 1300.0 966.9 1298.9 967.4 1299.8 968.6 1306.1 969.1 1307.6 969.9 1308.5 974.1 1308.0 974.9 1307.2 976.4 1304.6 977.1 1305.3 978.6 1308.3 978.9 1308.6 979.6 1308.7 980.9 1308.6 981.9 1308.2 983.9 1308.5 985.9 1308.1 986.6 1307.4 988.4 1304.6 988.9 1305.0 989.9 1307.4 990.4 1308.0 991.9 1308.3 992.9 1308.8 995.9 1308.2 996.9 1308.8 997.9 1308.7 998.9 1308.2 999.9 1308.5 1002.4 1305.5 1002.9 1305.8 1004.4 1308.2 1005.9 1308.8 1007.9 1308.3 1011.9 1308.5 1013.9 1308.4 1015.9 1308.6 1016.9 1308.2 1019.9 1308.5 1021.9 1306.5 1022.4 1306.4 1022.9 1306.7 1024.1 1308.3 1025.8 1308.8 1027.8 1308.2 1029.8 1308.7 1033.8 1308.2 1034.8 1308.7 1036.8 1308.4 1038.8 1308.8 1039.8 1308.3 1040.8 1308.2 1041.8 1308.8 1042.8 1308.8 1043.8 1308.4 1044.8 1308.5 1045.8 1308.2 1046.8 1308.6 1047.8 1307.9 1049.6 1307.5 1050.8 1308.3 1051.8 1308.2 1052.8 1308.5 1054.8 1308.3 1055.8 1308.8 1056.8 1308.2 1057.8 1308.5 1060.8 1308.4 1062.8 1308.6 1063.8 1308.2 1065.8 1308.5 1068.8 1308.6 1070.8 1308.2 1071.8 1308.2 1072.8 1308.6 1074.8 1308.7 1077.6 1307.6 1079.1 1308.5 1080.8 1308.4 1081.8 1308.1 1082.8 1308.3 1084.1 1307.7 1085.6 1308.2 1087.8 1308.4 1088.8 1308.8 1089.8 1308.5 1091.8 1308.7 1093.8 1308.4 1094.8 1308.5 1095.8 1308.2 1096.8 1308.4 1098.8 1308.3 1099.8 1308.8 1100.8 1308.3 1102.8 1308.7 1103.8 1308.3 1104.8 1308.4 1105.8 1308.7 1107.8 1308.3 1109.8 1308.2 1110.8 1308.6 1111.8 1308.3 1112.8 1308.7 1113.8 1308.4 1117.8 1308.2 1118.8 1308.8 1119.8 1308.3 1120.8 1308.2 1121.8 1308.8 1122.8 1308.3 1124.8 1308.8 1125.8 1308.3 1126.8 1308.8 1130.8 1308.2 1134.8 1308.8 1135.8 1308.5 1137.8 1308.7 1138.8 1308.3 1140.8 1308.8 1141.8 1308.3 1142.8 1308.8 1143.8 1308.8 1144.8 1308.4 1146.8 1308.3 1147.8 1308.7 1151.8 1308.3 1152.8 1308.3 1153.8 1308.7 1154.8 1308.4 1156.8 1308.8 1159.8 1308.4 1161.8 1308.7 1162.8 1308.2 1163.8 1308.2 1164.8 1308.6 1166.8 1308.2 1167.8 1308.8 1169.8 1308.7 1170.8 1308.3 1171.8 1308.8 1173.8 1308.3 1174.8 1308.3 1175.8 1308.7 1178.8 1308.7 1180.8 1308.3 1181.8 1308.6 1183.8 1308.6 1185.8 1308.2 1187.8 1308.8 1189.8 1308.8 1190.8 1308.2 1191.8 1308.8 1194.8 1308.5 1195.8 1308.8 1197.8 1308.3 1199.8 1308.6 1200.8 1308.3 1202.8 1308.8 1203.8 1308.4 1204.8 1308.8 1205.8 1308.5 1206.8 1308.7 1207.8 1308.4 1208.8 1308.7 1211.8 1308.2 1213.8 1308.3 1214.8 1308.8 1215.8 1308.5 1217.8 1308.7 1218.8 1308.3 1220.8 1308.8 1222.8 1308.8 1223.8 1308.2 1224.8 1308.7 1225.8 1308.3 1228.8 1308.2 1229.8 1308.8 1230.8 1308.2 1232.8 1308.2 1233.8 1308.5 1234.8 1308.2 1235.8 1308.7 1236.8 1308.3 1237.8 1308.8 1238.8 1308.4 1239.8 1308.8 1242.8 1308.7 1243.8 1308.2 1244.8 1308.5 1245.8 1308.1 1246.8 1308.7 1247.8 1308.2 1248.8 1308.5 1249.8 1308.0 1250.8 1308.1 1251.8 1307.4 1254.8 1306.3 1255.8 1305.3 1258.8 1303.0 1260.8 1302.2 1261.8 1301.5 1262.6 1301.5 1266.8 1302.9 1267.8 1304.2 1268.8 1305.0 1269.8 1305.6 1270.8 1305.8 1272.8 1307.3 1274.6 1307.6 1275.1 1307.3 1275.8 1306.3 1276.3 1306.1 1277.6 1307.9 1278.3 1308.4 1279.8 1308.8 1280.8 1308.3 1281.8 1308.2 1283.1 1306.7 1283.6 1307.0 1284.6 1308.3 1285.6 1308.7 1287.8 1308.6 1291.6 1307.7 1293.6 1308.7 1294.8 1308.8 1295.8 1308.4 1297.3 1308.6 1298.1 1308.4 1299.3 1307.4 1299.8 1307.3 1301.6 1308.5 1302.8 1308.8 1304.3 1307.8 1305.3 1306.6 1305.8 1306.3 1307.6 1308.4 1309.1 1308.5"/></defs><use href="#b11" fill="#fff" stroke="none"/><use href="#b11" fill="none" stroke="#00ffff"/>
<defs><path id="b10" d="M326.6 1335.2 328.6 1335.6 331.6 1335.0 332.6 1335.5 333.6 1335.5 334.6 1335.1 335.6 1335.3 336.6 1334.8 337.6 1335.3 338.6 1334.6 339.6 1335.1 340.6 1334.7 342.6 1334.7 343.6 1333.9 345.6 1333.4 346.4 1333.8 346.9 1334.5 348.1 1338.0 348.6 1337.1 350.6 1327.6 351.4 1320.6 352.1 1292.8 352.6 1244.8 354.1 949.0 354.6 885.9 354.9 878.3 355.6 898.8 355.9 898.9 356.1 895.8 356.4 896.7 356.6 909.5 358.4 1248.0 358.9 1289.4 359.4 1305.1 359.9 1311.1 360.6 1315.6 361.9 1318.4 362.1 1318.6 362.4 1318.3 362.9 1314.5 363.4 1299.6 363.9 1259.8 364.9 1103.9 365.4 1060.7 365.9 1090.8 367.1 1272.7 367.6 1304.4 368.1 1316.1 368.4 1318.5 369.1 1322.0 369.6 1323.4 370.9 1325.3 375.6 1329.8 376.6 1330.1 377.6 1330.9 381.6 1333.3 382.6 1333.1 383.6 1333.8 384.6 1333.7 385.6 1334.1 386.1 1333.6 387.1 1330.3 388.4 1322.4 388.9 1320.7 389.1 1320.8 389.4 1321.7 391.1 1331.2 392.1 1333.3 393.1 1334.0 393.6 1334.0 394.4 1333.4 395.9 1330.6 397.1 1329.5 397.6 1329.6 398.9 1332.2 400.6 1334.4 401.6 1334.2 403.6 1334.7 405.6 1334.3 406.6 1334.7 407.6 1334.0 408.6 1334.3 410.6 1334.0 412.6 1333.9 413.6 1334.5 414.6 1334.0 416.6 1334.3 417.6 1333.9 418.6 1334.1 419.6 1333.8 421.6 1333.9 422.6 1333.8 423.6 1334.1 424.6 1333.8 426.6 1333.9 428.6 1333.4 429.6 1333.8 430.6 1333.4 433.6 1333.4 434.6 1333.6 435.6 1333.2 439.6 1333.5 443.6 1333.0 445.6 1333.1 446.9 1332.4 447.6 1331.1 448.4 1328.1 449.4 1318.2 451.9 1259.2 452.6 1250.5 452.9 1251.1 453.4 1258.8 455.1 1302.7 456.1 1313.4 457.1 1316.7 459.6 1321.0 463.6 1325.1 465.6 1326.5 466.6 1326.7 468.6 1328.2 469.6 1328.5 470.6 1328.5 472.6 1329.6 474.6 1329.9 475.6 1330.7 476.6 1331.0 477.6 1330.6 479.6 1331.2 480.6 1331.1 481.6 1331.5 484.6 1332.0 485.6 1331.7 488.6 1332.2 489.6 1331.9 492.6 1332.2 493.6 1332.7 494.6 1332.4 495.6 1332.7 496.6 1332.3 497.6 1332.4 498.6 1332.9 499.6 1332.4 500.6 1332.4 501.6 1333.0 502.6 1332.5 504.1 1332.6 504.6 1332.4 505.4 1328.7 505.9 1321.9 507.1 1288.9 507.6 1282.8 508.1 1288.9 509.1 1315.1 509.9 1326.6 510.1 1328.2 510.6 1329.3 511.9 1326.8 512.4 1326.9 513.9 1331.4 514.9 1332.7 515.6 1332.9 518.9 1332.8 519.6 1331.8 520.4 1327.3 521.4 1317.9 521.9 1316.2 522.4 1318.5 523.6 1330.1 524.1 1332.2 525.1 1333.4 525.6 1333.4 526.4 1331.7 527.9 1322.6 528.4 1321.5 528.9 1323.2 530.4 1332.1 531.1 1333.3 532.6 1333.7 534.6 1333.6 536.6 1334.0 537.6 1333.7 538.6 1333.9 539.6 1333.6 540.6 1334.0 542.6 1333.6 543.6 1334.1 546.6 1334.3 547.6 1333.8 549.6 1334.4 550.6 1333.9 551.6 1334.3 552.6 1333.9 554.6 1334.5 556.6 1334.1 557.6 1334.5 559.6 1334.7 560.6 1334.4 562.6 1334.4 563.6 1334.8 564.6 1334.8 566.6 1334.4 567.6 1334.7 568.6 1334.4 571.6 1334.5 572.6 1334.8 573.6 1334.5 575.6 1335.1 578.6 1334.5 579.6 1335.0 580.6 1334.6 581.6 1334.6 582.6 1335.3 584.6 1334.7 585.6 1335.0 586.6 1334.7 587.6 1335.2 588.6 1335.2 589.6 1334.7 590.6 1335.3 591.6 1334.7 593.1 1332.1 593.6 1331.8 595.1 1333.8 596.4 1334.6 596.6 1334.7 597.6 1334.1 598.6 1334.1 599.9 1333.1 600.4 1332.0 601.1 1324.0 601.6 1306.5 603.1 1210.1 603.4 1211.4 603.6 1221.2 604.9 1306.6 605.6 1326.2 606.1 1329.8 606.9 1331.7 607.6 1332.9 608.6 1333.8 609.6 1333.9 610.6 1334.6 613.6 1335.3 614.6 1334.8 616.9 1335.2 617.4 1334.7 617.9 1332.8 618.6 1323.4 619.9 1288.5 620.1 1284.6 620.4 1283.8 620.9 1291.4 621.9 1318.8 622.6 1330.5 623.1 1333.2 623.6 1334.2 626.6 1335.6 628.6 1335.7 629.6 1335.2 630.9 1335.5 631.6 1334.8 632.9 1332.8 633.4 1332.6 635.1 1334.9 636.1 1335.5 636.6 1335.4 637.4 1334.4 638.4 1331.9 638.9 1331.6 640.4 1334.4 641.6 1335.9 643.4 1335.3 644.6 1332.8 645.1 1332.5 645.6 1332.8 646.9 1335.1 647.6 1335.8 648.6 1335.4 651.6 1336.1 652.6 1335.4 653.6 1335.8 654.6 1335.6 655.6 1336.0 657.6 1335.6 658.6 1336.0 661.6 1336.0 662.6 1335.4 663.6 1335.9 665.6 1336.0 666.6 1335.5 667.6 1334.0 668.4 1333.6 670.4 1335.6 671.6 1335.9 672.6 1335.5 673.6 1335.9 674.6 1335.6 675.6 1335.9 676.6 1335.9 677.6 1335.5 679.6 1336.1 681.6 1335.5 683.6 1335.7 684.6 1336.1 685.6 1336.1 686.6 1335.7 689.6 1335.9 690.6 1335.6 691.6 1336.0 692.6 1335.5 693.6 1336.0 694.6 1335.5 695.6 1336.1 697.6 1335.6 699.6 1335.9 700.6 1335.8 701.6 1336.1 702.6 1335.7 704.6 1335.8 705.4 1334.8 705.9 1333.4 707.4 1325.6 707.9 1324.6 708.4 1325.9 709.9 1333.6 710.6 1335.2 711.6 1336.0 712.6 1335.6 714.6 1336.1 715.6 1335.6 716.6 1335.5 721.6 1335.9 722.6 1335.6 723.6 1335.9 726.6 1335.5 727.6 1335.9 728.6 1335.5 730.6 1336.1 731.6 1335.5 732.6 1336.1 736.6 1335.6 737.6 1336.1 738.6 1335.6 739.6 1336.1 741.6 1335.7 743.6 1335.6 744.6 1336.0 745.6 1336.0 746.6 1335.5 747.6 1335.7 748.6 1335.5 750.6 1336.0 753.6 1335.5 755.6 1335.7 756.6 1336.1 758.6 1335.9 759.6 1335.6 760.6 1336.0 764.6 1335.8 766.6 1336.1 768.9 1335.4 770.9 1333.7 771.6 1334.1 772.6 1335.6 776.6 1335.9 777.6 1335.9 778.6 1335.5 779.6 1335.8 780.6 1335.5 781.6 1336.1 782.6 1335.5 783.6 1335.8 785.6 1335.5 787.6 1336.1 790.6 1335.8 792.6 1336.1 793.6 1335.5 794.6 1336.1 797.6 1335.5 801.6 1336.0 802.6 1335.7 804.6 1336.0 805.6 1335.6 806.6 1336.1 808.6 1335.9 810.6 1336.1 811.6 1335.8 813.6 1336.0 814.6 1335.6 816.6 1336.0 818.6 1335.7 819.6 1336.0 823.6 1335.7 824.6 1336.0 826.6 1335.7 827.6 1335.6 828.6 1335.8 830.6 1335.5 831.6 1335.9 833.6 1335.8 834.6 1336.1 835.6 1335.5 837.6 1336.0 839.6 1335.8 840.6 1336.1 841.6 1335.3 842.4 1332.0 844.4 1300.3 844.6 1300.4 844.9 1302.5 846.1 1325.2 846.6 1330.8 847.4 1334.5 847.9 1335.3 848.6 1335.6 850.6 1335.4 851.6 1335.7 853.6 1335.6 854.6 1336.0 855.6 1335.7 856.6 1336.1 857.6 1336.1 858.6 1335.6 860.6 1335.8 861.6 1335.5 864.6 1336.0 867.6 1335.6 868.6 1336.0 869.6 1335.3 870.9 1333.1 871.4 1332.6 871.6 1332.7 872.6 1334.6 873.4 1335.5 874.6 1336.0 875.6 1335.6 876.6 1336.1 877.6 1335.5 879.6 1336.1 880.6 1335.6 881.6 1335.4 883.6 1335.9 884.6 1335.5 885.6 1335.9 886.6 1335.9 890.4 1335.5 892.4 1334.9 894.4 1335.8 895.6 1336.1 896.6 1335.9 897.6 1336.1 899.6 1335.7 900.6 1335.9 901.6 1335.7 902.6 1336.1 904.6 1335.5 905.6 1335.9 906.6 1335.5 911.6 1336.1 914.6 1335.5 915.6 1335.9 916.6 1335.6 917.6 1335.7 918.6 1336.1 920.6 1336.1 921.6 1335.7 923.6 1335.5 924.6 1336.0 925.6 1335.5 926.6 1335.5 927.6 1336.0 928.4 1336.0 930.4 1335.6 931.6 1334.5 932.4 1334.7 933.6 1335.7 934.4 1335.9 935.1 1335.4 935.6 1334.2 936.9 1325.9 937.4 1324.0 937.6 1324.0 937.9 1324.7 939.4 1333.7 939.9 1335.1 940.6 1335.8 941.6 1335.5 943.6 1335.7 944.9 1335.1 945.6 1333.7 946.4 1330.8 946.9 1329.7 947.4 1330.3 948.9 1334.7 950.6 1336.1 951.6 1335.5 954.6 1336.1 955.6 1335.7 956.6 1335.7 958.9 1331.7 959.4 1332.0 960.9 1335.1 961.9 1335.4 963.6 1335.6 964.6 1336.1 965.6 1335.6 966.6 1336.1 969.6 1335.7 970.6 1335.9 972.4 1334.1 973.1 1333.6 973.6 1333.9 974.9 1335.2 975.6 1335.6 976.6 1335.6 977.6 1336.0 980.6 1335.5 981.6 1335.6 982.6 1335.5 983.6 1336.1 986.6 1336.0 987.6 1335.6 989.6 1336.0 990.6 1335.4 991.6 1335.3 992.6 1334.0 993.1 1333.7 993.6 1333.9 994.6 1335.5 995.4 1335.9 996.6 1335.6 997.6 1335.8 998.6 1335.5 1000.6 1335.7 1001.6 1336.1 1003.6 1336.1 1006.6 1335.6 1010.6 1336.1 1011.6 1335.5 1012.6 1335.7 1013.6 1335.6 1014.6 1335.9 1015.6 1335.6 1016.6 1335.8 1018.1 1335.7 1018.6 1335.6 1019.9 1334.5 1021.9 1335.5 1023.6 1336.0 1025.6 1335.7 1027.6 1335.7 1028.6 1336.0 1029.6 1335.6 1030.6 1336.1 1031.6 1335.6 1032.6 1335.5 1033.6 1335.8 1034.6 1335.7 1038.6 1336.0 1039.6 1335.4 1040.6 1335.8 1042.6 1336.1 1044.6 1335.5 1046.6 1335.7 1048.1 1334.9 1048.6 1334.8 1050.1 1335.6 1051.6 1335.9 1053.3 1335.3 1054.8 1334.4 1056.8 1335.3 1059.6 1335.8 1060.6 1335.5 1062.6 1335.9 1063.6 1335.5 1064.6 1336.0 1065.6 1335.8 1066.6 1336.0 1067.6 1335.6 1068.6 1336.1 1070.6 1335.8 1072.6 1335.8 1073.6 1336.1 1074.6 1335.5 1076.6 1335.9 1080.6 1335.6 1084.6 1335.8 1085.6 1335.5 1086.6 1336.0 1087.6 1335.5 1088.6 1335.5 1089.6 1335.9 1090.6 1335.6 1092.6 1336.1 1093.6 1335.8 1095.6 1336.1 1096.6 1335.6 1098.6 1336.1 1103.6 1336.0 1104.6 1335.5 1105.6 1335.5 1106.6 1335.5 1107.6 1336.0 1109.6 1335.8 1110.6 1336.0 1112.6 1335.5 1113.6 1336.1 1114.6 1335.8 1116.6 1335.7 1118.6 1336.0 1121.6 1335.9 1123.6 1335.5 1124.6 1336.1 1125.6 1336.1 1126.6 1335.9 1128.6 1336.1 1129.6 1335.5 1131.6 1336.0 1132.6 1335.6 1133.6 1336.1 1134.6 1335.7 1136.6 1335.7 1137.6 1336.0 1139.6 1335.6 1140.6 1335.9 1141.6 1335.8 1143.6 1336.1 1144.6 1335.7 1145.6 1336.0 1150.6 1336.1 1151.6 1335.5 1152.6 1336.0 1153.6 1335.8 1154.6 1336.1 1156.6 1336.0 1157.6 1335.5 1159.6 1335.8 1162.6 1335.6 1163.6 1336.1 1164.6 1335.5 1165.6 1336.0 1166.6 1335.8 1167.6 1336.1 1168.6 1335.5 1169.6 1335.9 1170.6 1335.7 1171.6 1336.0 1174.6 1335.5 1176.6 1336.1 1177.6 1335.5 1178.6 1336.1 1180.6 1335.7 1181.6 1336.0 1182.6 1335.8 1183.6 1336.1 1185.6 1335.8 1186.6 1335.9 1187.6 1335.5 1191.6 1336.1 1193.6 1335.5 1196.6 1336.0 1200.6 1335.8 1201.6 1336.0 1202.6 1335.7 1204.6 1335.9 1205.6 1335.5 1206.6 1336.1 1207.6 1335.6 1208.6 1335.9 1209.6 1335.5 1211.6 1335.9 1212.6 1335.8 1213.6 1336.0 1214.6 1335.6 1216.6 1336.0 1217.6 1335.4 1219.6 1335.6 1221.6 1334.9 1222.6 1335.0 1223.6 1334.1 1226.6 1332.6 1228.6 1331.2 1230.6 1329.1 1231.6 1328.7 1232.6 1328.9 1233.6 1328.5 1236.6 1329.4 1238.6 1331.4 1240.6 1332.5 1241.6 1333.5 1242.6 1333.8 1243.6 1334.5 1245.6 1334.8 1246.6 1333.7 1247.1 1333.5 1248.3 1335.2 1250.6 1336.0 1252.1 1335.9 1252.6 1335.5 1253.6 1332.2 1253.8 1331.7 1254.1 1331.7 1255.3 1335.4 1255.6 1335.8 1256.1 1335.9 1257.6 1336.0 1259.6 1335.5 1260.6 1335.6 1262.6 1334.6 1264.3 1335.3 1267.6 1336.1 1268.8 1335.4 1270.3 1334.2 1270.8 1334.4 1272.6 1336.0 1274.1 1335.9 1274.6 1335.8 1275.8 1334.0 1276.6 1333.5 1277.6 1335.2 1279.8 1335.8"/></defs><use href="#b10" fill="#fff" stroke="none"/><use href="#b10" fill="none" stroke="#ff8000"/>
<defs><path id="b9" d="M297.4 1363.3 298.4 1362.9 299.4 1363.2 301.4 1362.8 302.4 1363.1 304.4 1362.5 305.4 1363.0 306.4 1362.6 308.4 1362.9 310.4 1362.1 311.4 1362.6 313.4 1361.7 314.4 1361.9 315.4 1361.4 317.1 1361.2 317.6 1361.9 318.4 1364.8 318.9 1365.8 319.4 1364.6 320.4 1358.7 321.4 1354.9 321.9 1350.2 322.6 1326.8 323.1 1284.5 324.9 938.6 325.4 891.4 325.6 895.0 326.4 938.2 327.1 958.7 327.4 980.6 328.9 1264.6 329.4 1311.6 329.9 1330.5 330.6 1339.5 331.4 1343.3 332.4 1346.2 332.9 1346.5 333.4 1344.4 333.9 1334.8 334.6 1281.6 335.6 1138.1 335.9 1116.1 336.1 1110.9 336.6 1150.7 337.6 1291.2 338.1 1328.0 338.6 1342.8 339.4 1349.0 340.1 1351.1 341.4 1353.4 342.4 1354.0 343.4 1355.5 345.4 1357.0 348.4 1358.6 349.4 1359.5 351.4 1360.2 352.4 1361.1 353.4 1361.1 354.4 1361.7 355.4 1361.9 356.6 1361.3 357.1 1360.4 357.6 1358.1 359.1 1345.0 359.6 1342.5 359.9 1342.6 360.4 1345.2 362.1 1358.6 362.6 1360.3 363.4 1361.5 364.1 1361.4 365.1 1360.7 366.6 1357.5 367.6 1356.4 368.1 1356.6 368.6 1357.2 370.1 1360.3 370.9 1361.3 371.9 1361.9 372.4 1362.0 373.4 1361.8 374.4 1362.3 376.4 1361.8 378.4 1362.2 379.4 1361.7 381.4 1362.1 382.4 1361.8 384.4 1362.0 386.4 1361.7 387.4 1361.9 388.4 1361.4 391.4 1361.5 392.4 1361.2 393.4 1361.7 394.4 1361.2 395.4 1361.8 396.4 1361.7 397.4 1361.3 398.4 1361.6 400.4 1361.6 401.4 1361.0 405.4 1361.5 407.4 1361.1 411.4 1360.9 414.4 1361.2 417.6 1360.5 418.1 1360.1 418.6 1359.0 419.1 1356.7 420.1 1347.1 422.6 1293.7 423.4 1286.6 423.6 1287.7 424.1 1295.4 425.4 1325.7 426.1 1337.7 426.9 1343.4 427.6 1345.9 428.4 1347.4 430.4 1349.8 432.4 1351.2 434.4 1353.4 435.4 1354.1 436.4 1354.6 437.4 1354.7 438.4 1355.7 439.4 1355.9 440.4 1356.4 444.4 1357.4 446.4 1358.3 448.4 1358.6 449.4 1358.5 451.4 1359.1 452.4 1358.9 453.4 1359.3 457.4 1359.9 461.4 1359.8 462.4 1360.3 463.4 1360.0 464.4 1360.4 466.4 1360.4 467.4 1359.9 468.4 1360.0 469.4 1360.4 471.4 1360.0 473.4 1360.5 475.1 1360.1 475.6 1358.7 475.9 1357.0 476.4 1349.5 477.9 1292.2 478.1 1286.3 478.4 1284.8 478.9 1295.6 479.9 1335.4 480.6 1351.6 481.1 1355.0 481.4 1355.3 482.4 1353.2 482.6 1353.0 482.9 1353.1 484.6 1358.6 485.4 1359.7 488.9 1360.8 489.6 1360.7 490.6 1359.0 491.9 1354.0 492.4 1353.1 492.9 1353.9 494.4 1359.8 495.1 1360.8 496.1 1360.7 496.6 1360.1 497.1 1358.8 498.4 1352.5 498.9 1351.2 499.4 1352.2 500.9 1359.4 501.6 1360.8 502.4 1361.3 505.4 1361.4 507.4 1361.2 509.4 1361.7 511.4 1361.3 516.4 1361.8 518.4 1361.4 519.4 1361.8 522.4 1361.6 523.4 1362.0 524.4 1361.6 525.4 1362.2 526.4 1362.0 529.4 1362.0 531.4 1362.3 533.4 1362.1 534.4 1362.3 536.4 1362.4 538.4 1362.0 539.4 1362.1 540.4 1362.5 541.4 1362.1 543.4 1362.1 547.4 1362.7 550.4 1362.2 552.4 1362.8 553.4 1362.3 554.4 1362.3 555.4 1362.8 556.4 1362.2 557.4 1362.2 558.4 1362.9 559.4 1362.8 562.1 1361.9 563.6 1359.7 564.1 1359.2 564.6 1359.6 565.6 1361.2 566.9 1361.8 567.6 1361.9 569.4 1361.3 570.6 1359.1 571.1 1356.2 571.9 1336.9 573.6 1185.8 573.9 1187.5 574.1 1201.3 575.4 1322.4 576.1 1350.3 576.6 1355.5 577.4 1358.2 580.1 1361.1 582.4 1361.9 583.4 1361.7 585.4 1362.0 587.1 1361.5 587.9 1360.5 588.4 1357.9 589.1 1345.2 590.4 1293.2 590.9 1282.3 591.4 1290.6 592.6 1340.7 593.1 1352.0 593.6 1357.4 594.1 1359.7 595.4 1361.8 597.4 1362.1 600.4 1363.2 602.1 1362.1 603.4 1359.6 603.9 1359.1 604.4 1359.5 605.9 1362.5 606.4 1362.9 606.9 1362.8 607.6 1362.0 608.9 1358.7 609.4 1358.0 609.9 1358.7 611.1 1362.2 611.6 1362.9 612.1 1363.0 613.9 1362.5 614.4 1361.9 615.4 1359.4 615.9 1359.2 618.1 1363.0 620.4 1363.4 621.4 1363.0 623.4 1363.1 624.4 1363.5 626.4 1363.2 627.4 1363.3 628.4 1363.2 629.4 1363.6 630.4 1363.1 632.4 1363.3 633.4 1363.6 634.4 1363.3 636.1 1363.5 636.9 1363.1 638.9 1360.5 639.4 1360.7 640.6 1362.9 642.4 1363.5 643.4 1363.3 644.4 1363.5 645.4 1363.1 646.4 1363.3 647.4 1363.1 648.4 1363.5 649.4 1363.1 651.4 1363.5 653.4 1363.1 654.4 1363.4 657.4 1363.2 660.4 1363.6 662.4 1363.1 665.4 1363.1 666.4 1363.6 667.4 1363.3 668.4 1363.4 669.4 1363.2 670.4 1363.5 672.4 1363.2 673.4 1363.6 674.9 1363.4 675.9 1362.7 676.4 1361.4 677.9 1351.3 678.4 1349.6 678.6 1349.7 678.9 1350.5 680.6 1361.0 681.1 1362.4 682.4 1363.6 683.4 1363.3 684.4 1363.7 685.4 1363.0 686.4 1363.6 687.4 1363.7 688.4 1363.1 690.4 1363.6 691.4 1363.1 692.4 1363.4 696.4 1363.7 697.4 1363.4 699.4 1363.5 701.4 1363.2 703.4 1363.6 704.4 1363.2 705.4 1363.1 706.4 1363.5 708.4 1363.7 709.4 1363.3 710.4 1363.2 711.4 1363.5 713.4 1363.5 717.4 1363.5 718.4 1363.2 720.4 1363.5 722.4 1363.1 723.4 1363.2 724.4 1363.6 725.4 1363.2 726.4 1363.1 727.4 1363.7 728.4 1363.3 729.4 1363.5 730.4 1363.5 731.4 1363.7 733.4 1363.1 735.4 1363.6 739.6 1362.9 741.4 1361.4 742.9 1362.9 743.9 1363.4 748.4 1363.6 749.4 1363.1 750.4 1363.7 751.4 1363.3 753.4 1363.7 754.4 1363.1 755.4 1363.7 756.4 1363.6 757.4 1363.1 761.4 1363.6 762.4 1363.1 764.4 1363.1 765.4 1363.5 766.4 1363.6 767.4 1363.3 768.4 1363.2 769.4 1363.6 772.4 1363.1 773.4 1363.6 776.4 1363.1 778.4 1363.7 779.4 1363.2 780.4 1363.7 782.4 1363.6 783.4 1363.1 785.4 1363.7 789.4 1363.1 790.4 1363.7 791.4 1363.7 793.4 1363.1 795.4 1363.4 797.4 1363.2 799.4 1363.6 800.4 1363.1 803.4 1363.1 805.4 1363.7 807.4 1363.1 808.4 1363.7 809.4 1363.1 810.4 1363.5 811.4 1363.6 811.9 1363.2 812.4 1362.3 813.1 1357.2 814.6 1324.7 815.1 1319.4 815.6 1324.9 816.6 1348.5 817.4 1358.8 817.9 1361.3 818.4 1362.1 819.4 1362.8 821.4 1363.4 822.4 1363.2 824.4 1363.7 826.4 1363.0 827.4 1363.1 829.4 1363.7 830.4 1363.4 838.4 1363.6 839.9 1362.6 841.9 1359.4 842.4 1359.7 844.1 1363.1 845.4 1363.6 846.4 1363.5 847.4 1363.1 849.4 1363.7 850.4 1363.1 852.4 1363.4 853.4 1363.2 854.4 1363.7 855.4 1363.2 857.4 1363.6 858.4 1363.3 859.4 1363.6 860.4 1363.1 862.6 1362.6 866.4 1363.7 867.4 1363.2 868.4 1363.6 869.4 1363.3 870.4 1363.5 872.4 1363.4 873.4 1363.7 874.4 1363.1 875.4 1363.6 877.4 1363.2 878.4 1363.7 880.4 1363.4 881.4 1363.7 886.4 1363.4 888.4 1363.7 889.4 1363.2 890.4 1363.6 891.4 1363.2 893.4 1363.4 894.4 1363.1 895.4 1363.6 896.4 1363.1 897.4 1363.2 898.4 1363.7 901.4 1363.2 902.6 1362.5 903.4 1362.7 904.4 1363.5 904.9 1363.5 905.4 1363.3 905.6 1362.9 906.1 1361.2 907.6 1350.2 908.1 1348.3 908.6 1350.0 909.6 1358.7 910.4 1362.4 910.9 1363.0 914.4 1363.5 915.9 1362.1 917.1 1358.0 917.6 1357.2 918.1 1358.0 919.4 1362.1 920.1 1363.3 920.4 1363.5 921.4 1363.1 922.4 1363.5 924.4 1363.7 927.4 1363.2 929.1 1358.8 929.6 1358.3 930.1 1358.9 931.6 1362.8 932.4 1363.6 932.9 1363.7 934.4 1363.2 935.4 1363.6 936.4 1363.2 938.4 1363.7 939.4 1363.1 941.1 1363.2 941.9 1362.4 943.1 1359.8 943.6 1359.4 944.1 1359.8 945.1 1362.3 945.6 1363.0 947.4 1363.2 948.4 1363.1 949.4 1363.6 951.4 1363.2 953.4 1363.7 956.4 1363.3 957.4 1363.7 958.4 1363.1 959.4 1363.6 960.9 1363.1 961.9 1362.4 963.1 1359.9 963.6 1359.4 964.1 1360.0 965.4 1362.8 965.9 1363.1 968.4 1363.2 969.4 1363.7 970.4 1363.4 971.4 1363.7 972.4 1363.2 975.4 1363.5 976.4 1363.1 977.4 1363.6 978.4 1363.4 979.4 1363.7 980.4 1363.2 981.4 1363.1 982.4 1363.6 984.4 1363.6 986.4 1363.1 987.4 1363.6 988.4 1363.7 991.1 1362.5 992.4 1363.3 993.4 1363.6 994.4 1363.3 996.4 1363.6 997.4 1363.2 1000.4 1363.0 1001.4 1363.1 1002.4 1363.6 1006.4 1363.1 1007.4 1363.7 1009.4 1363.4 1010.4 1363.7 1012.4 1363.2 1017.4 1363.2 1018.6 1362.5 1019.4 1362.3 1020.9 1363.5 1022.1 1363.7 1023.9 1362.7 1025.3 1361.2 1025.8 1361.4 1027.1 1362.7 1029.3 1363.4 1031.3 1363.6 1034.3 1363.1 1035.3 1363.4 1037.3 1363.2 1038.3 1363.6 1040.3 1363.1 1041.3 1363.7 1042.3 1363.7 1044.3 1363.1 1047.3 1363.5 1048.3 1363.2 1049.3 1363.7 1050.3 1363.3 1051.3 1363.2 1052.3 1363.7 1056.3 1363.1 1059.3 1363.4 1061.3 1363.2 1064.3 1363.7 1068.3 1363.1 1069.3 1363.6 1070.3 1363.6 1071.3 1363.3 1073.3 1363.3 1074.3 1363.7 1075.3 1363.3 1076.3 1363.2 1077.3 1363.7 1080.3 1363.2 1081.3 1363.6 1082.3 1363.3 1083.3 1363.7 1084.3 1363.4 1086.3 1363.7 1088.3 1363.2 1089.3 1363.4 1090.3 1363.2 1091.3 1363.5 1092.3 1363.4 1093.3 1363.7 1094.3 1363.1 1099.3 1363.5 1101.3 1363.2 1103.3 1363.6 1105.3 1363.2 1106.3 1363.7 1107.3 1363.3 1108.3 1363.5 1110.3 1363.1 1111.3 1363.7 1113.3 1363.1 1114.3 1363.6 1115.3 1363.6 1117.3 1363.1 1118.3 1363.5 1119.3 1363.1 1120.3 1363.5 1123.3 1363.3 1124.3 1363.6 1126.3 1363.5 1127.3 1363.7 1128.3 1363.5 1129.3 1363.6 1130.3 1363.2 1133.3 1363.3 1134.3 1363.5 1135.3 1363.1 1136.3 1363.1 1137.3 1363.6 1141.3 1363.1 1142.3 1363.5 1145.3 1363.7 1147.3 1363.2 1148.3 1363.4 1151.3 1363.1 1154.3 1363.4 1155.3 1363.2 1157.3 1363.3 1161.3 1363.1 1164.3 1363.7 1165.3 1363.2 1166.3 1363.5 1167.3 1363.1 1170.3 1363.6 1174.3 1363.5 1175.3 1363.2 1177.3 1363.4 1179.3 1363.3 1180.3 1363.7 1182.3 1363.4 1183.3 1363.5 1184.3 1363.1 1185.3 1363.3 1189.3 1362.8 1190.3 1363.0 1191.3 1362.5 1192.3 1362.8 1192.8 1362.6 1194.3 1361.9 1195.3 1360.6 1196.3 1360.0 1201.8 1354.9 1203.1 1354.2 1204.3 1353.9 1206.3 1354.6 1208.3 1356.2 1209.3 1357.7 1210.3 1358.3 1212.6 1360.6 1216.3 1362.6 1217.6 1361.1 1218.8 1362.7 1219.8 1363.2 1220.3 1363.4 1222.6 1363.2 1223.6 1362.5 1224.6 1360.7 1224.8 1360.6 1226.1 1363.1 1226.6 1363.5 1230.3 1363.1 1231.3 1363.6 1233.3 1362.5 1234.6 1363.1 1238.3 1363.3 1240.1 1362.8 1241.1 1362.2 1241.6 1362.3 1243.3 1363.6 1245.6 1362.9 1247.1 1361.6 1247.6 1361.7 1248.8 1363.0 1250.6 1363.5"/></defs><use href="#b9" fill="#fff" stroke="none"/><use href="#b9" fill="none" stroke="#ff00ff"/>
<defs><path id="b8" d="M268.1 1391.5 269.1 1391.9 270.1 1391.4 271.1 1392.0 272.1 1392.0 273.1 1391.5 275.1 1391.3 278.1 1391.7 279.1 1391.3 280.1 1391.4 282.1 1391.0 284.1 1391.3 285.1 1391.1 286.1 1390.6 287.6 1390.4 288.1 1390.9 289.1 1394.5 289.6 1395.4 290.1 1394.1 291.9 1386.4 292.6 1380.9 293.4 1357.6 293.9 1316.4 295.4 1066.5 295.9 1024.5 296.4 1055.3 297.6 1214.7 299.4 1342.0 299.9 1360.9 300.4 1369.7 301.4 1375.9 302.4 1378.7 303.4 1380.0 303.9 1379.3 304.1 1377.9 304.6 1369.7 305.1 1347.2 306.6 1223.9 306.9 1225.3 307.1 1237.9 308.4 1348.8 308.9 1369.7 309.4 1377.7 310.1 1381.2 312.1 1384.1 313.1 1384.3 314.1 1385.1 316.1 1385.8 318.1 1387.5 321.1 1388.5 323.1 1389.6 324.1 1389.6 326.1 1390.7 327.9 1389.8 328.6 1388.0 329.9 1382.0 330.4 1380.6 330.6 1380.7 331.1 1382.0 332.9 1389.1 333.4 1389.9 334.9 1390.3 335.1 1390.3 335.6 1389.7 337.1 1387.2 338.1 1384.8 338.6 1384.6 339.1 1384.9 340.4 1387.9 341.6 1390.1 342.1 1390.7 343.1 1391.0 345.1 1390.6 346.1 1391.0 347.1 1390.3 348.1 1390.7 349.1 1390.5 350.1 1390.8 351.1 1390.3 352.1 1390.4 353.1 1390.7 356.1 1390.3 357.1 1390.6 358.1 1390.3 360.1 1390.2 363.1 1390.4 365.1 1390.0 366.1 1390.4 367.1 1390.3 368.1 1389.7 370.1 1390.2 373.1 1389.6 374.1 1389.9 379.1 1389.5 380.1 1390.0 382.1 1390.0 383.1 1389.4 385.1 1389.3 386.1 1389.8 388.9 1388.9 389.4 1388.0 389.9 1386.2 390.9 1378.3 393.1 1340.7 393.6 1334.5 394.1 1332.2 394.9 1339.7 396.4 1366.8 397.4 1375.2 398.4 1378.0 399.9 1379.8 401.1 1380.9 403.1 1381.9 404.1 1383.2 406.1 1384.3 407.1 1384.2 408.1 1384.8 410.1 1385.5 411.1 1386.1 412.1 1386.2 413.1 1386.8 414.1 1386.5 415.1 1387.2 416.1 1386.9 417.1 1387.0 421.1 1388.1 423.1 1387.7 425.1 1388.5 426.1 1388.2 428.1 1388.2 429.1 1388.8 430.1 1388.3 432.1 1388.8 433.1 1388.4 434.1 1388.4 435.1 1389.0 437.1 1388.5 439.1 1389.1 442.1 1389.2 443.1 1389.0 444.1 1389.3 445.9 1388.8 446.4 1387.5 446.6 1385.9 447.1 1379.6 448.6 1337.4 448.9 1333.6 449.1 1333.3 450.6 1371.0 451.1 1377.8 451.4 1378.3 451.9 1373.7 452.9 1352.3 453.4 1347.0 453.9 1351.3 455.4 1382.7 455.9 1386.7 456.6 1388.6 459.1 1389.4 459.9 1389.0 460.6 1388.3 461.4 1385.4 462.6 1375.7 462.9 1374.8 463.1 1374.7 463.6 1376.9 464.9 1386.8 465.4 1388.7 466.1 1389.7 466.9 1389.3 467.6 1388.0 469.1 1380.6 469.4 1379.9 469.6 1379.8 470.1 1381.3 471.6 1388.4 472.4 1389.6 473.1 1390.1 474.1 1389.6 478.1 1390.3 479.1 1390.0 480.1 1390.2 481.1 1389.8 482.1 1390.3 484.1 1389.8 485.1 1390.0 487.1 1389.9 488.1 1390.6 489.1 1390.0 491.1 1390.5 492.1 1390.0 493.1 1390.7 495.1 1390.3 496.1 1390.8 498.1 1390.8 499.1 1390.3 502.1 1390.5 503.1 1390.8 504.1 1390.6 505.1 1391.1 506.1 1390.6 507.1 1391.1 509.1 1391.2 512.1 1390.6 514.1 1391.1 516.1 1390.9 518.1 1391.3 519.1 1391.0 520.1 1391.4 521.1 1390.9 522.1 1391.3 523.1 1390.8 524.1 1390.9 525.1 1391.4 527.1 1390.9 529.1 1391.5 530.1 1390.9 532.1 1391.3 534.4 1388.1 534.9 1387.8 536.4 1390.1 537.4 1390.8 538.1 1390.9 539.1 1390.2 540.1 1389.8 541.1 1388.5 541.6 1386.0 542.4 1370.1 544.1 1246.5 544.4 1247.7 544.6 1258.9 545.9 1358.0 546.6 1381.2 547.1 1385.5 548.1 1388.2 549.4 1389.5 553.1 1391.2 555.1 1391.6 556.1 1391.0 557.1 1391.6 557.6 1391.5 558.6 1390.7 559.1 1389.0 559.9 1380.7 561.1 1352.3 561.4 1349.4 561.6 1349.2 563.4 1382.7 564.1 1388.9 564.9 1390.6 566.1 1391.5 569.1 1391.7 570.1 1392.0 571.1 1391.4 572.1 1391.8 572.4 1391.5 573.9 1388.2 574.4 1387.6 574.9 1388.0 576.1 1390.9 576.9 1391.4 577.6 1391.2 578.4 1389.4 579.6 1382.8 579.9 1382.2 580.1 1382.1 580.6 1383.6 581.9 1389.8 582.4 1391.1 583.1 1392.0 583.9 1391.8 584.4 1391.1 585.9 1386.0 586.4 1385.1 586.9 1385.7 588.4 1391.0 588.9 1391.6 590.1 1392.0 593.1 1391.9 595.1 1392.2 596.1 1391.9 598.1 1392.2 599.1 1392.2 600.1 1391.8 601.1 1392.0 602.1 1391.8 605.1 1392.2 607.4 1391.5 609.6 1390.0 611.9 1391.8 613.1 1392.3 614.1 1391.6 616.1 1392.3 617.1 1391.7 618.1 1392.0 619.1 1391.8 620.1 1392.1 622.1 1392.3 624.1 1391.6 625.1 1392.2 626.1 1391.7 627.1 1392.1 629.1 1391.8 631.1 1392.0 633.1 1391.7 634.1 1391.7 635.1 1392.3 636.1 1391.6 642.1 1392.3 644.1 1391.7 645.1 1392.0 646.6 1391.2 647.1 1390.4 648.6 1384.7 649.1 1384.0 649.6 1384.7 651.4 1391.1 652.1 1391.8 653.1 1391.7 654.1 1392.1 655.1 1391.9 657.1 1392.2 658.1 1391.8 659.1 1392.3 660.1 1392.2 661.1 1391.7 662.1 1392.0 663.1 1391.8 664.1 1392.3 666.1 1391.8 670.1 1392.3 672.1 1391.8 678.1 1392.3 682.1 1391.7 684.1 1392.3 685.1 1392.0 687.1 1392.3 689.1 1391.7 691.1 1392.3 692.1 1392.3 693.1 1391.9 695.1 1392.1 696.1 1391.8 699.1 1391.7 700.1 1392.2 701.1 1391.8 703.1 1391.7 704.1 1392.1 705.1 1391.8 706.1 1391.9 707.1 1392.3 708.1 1391.8 709.1 1391.9 709.6 1391.6 711.9 1389.0 712.4 1389.3 713.6 1391.2 715.1 1392.3 718.1 1392.0 719.1 1392.3 721.1 1391.8 723.1 1392.1 725.1 1391.8 727.1 1392.2 729.1 1392.1 731.1 1392.3 732.1 1392.3 734.1 1391.8 735.1 1391.8 736.1 1392.3 737.1 1392.2 739.1 1391.7 740.1 1392.1 741.1 1391.8 742.1 1392.3 744.1 1391.9 745.1 1392.3 746.1 1391.8 747.1 1392.3 748.1 1391.9 750.1 1391.8 752.1 1391.9 753.1 1392.3 754.1 1392.1 755.1 1392.3 758.1 1392.2 759.1 1391.8 763.1 1392.1 765.1 1391.9 766.1 1392.2 767.1 1391.8 769.1 1392.2 771.1 1392.1 772.1 1392.2 773.1 1391.8 774.1 1392.0 775.1 1391.7 778.1 1391.9 779.1 1392.2 780.1 1391.8 782.1 1392.0 782.6 1391.6 783.1 1390.5 783.9 1385.2 785.1 1361.7 785.6 1356.0 785.9 1356.5 786.1 1359.0 787.4 1382.1 788.1 1389.2 788.6 1390.8 789.1 1391.3 790.1 1391.4 791.1 1391.9 792.1 1391.5 794.1 1392.2 795.1 1391.9 797.1 1392.2 799.1 1391.9 800.1 1392.3 801.1 1391.8 803.1 1392.0 804.1 1391.7 805.1 1392.0 806.1 1391.7 810.1 1391.9 810.9 1391.2 812.1 1389.2 812.6 1388.9 813.1 1389.4 814.4 1391.4 818.1 1392.1 819.1 1391.9 820.1 1392.2 821.1 1391.7 822.1 1392.1 824.1 1391.7 826.1 1392.2 827.1 1391.8 828.1 1392.3 829.1 1392.0 831.1 1392.0 832.1 1391.2 832.6 1391.1 834.1 1391.3 835.4 1392.0 839.1 1392.3 840.1 1391.8 841.1 1392.2 843.1 1391.9 844.1 1392.2 847.1 1392.3 848.1 1392.0 849.1 1392.2 850.1 1391.9 852.1 1392.0 853.1 1391.7 854.1 1392.2 855.1 1391.8 856.1 1391.9 857.1 1391.8 859.1 1392.3 861.1 1391.9 862.1 1392.2 864.1 1391.9 868.1 1391.7 870.1 1392.2 873.1 1390.7 875.1 1392.1 876.4 1391.6 876.9 1391.1 878.1 1388.3 878.6 1387.8 879.1 1388.1 880.6 1391.1 882.1 1392.3 883.1 1391.7 884.1 1392.3 886.1 1392.0 887.1 1390.0 887.6 1389.4 888.4 1389.1 889.1 1389.7 890.1 1391.7 893.1 1392.2 894.1 1391.7 896.1 1392.2 897.1 1391.7 898.4 1391.5 899.1 1391.1 900.1 1389.7 901.1 1390.7 903.1 1392.2 905.1 1392.1 906.1 1391.8 908.1 1392.2 910.1 1391.7 911.1 1392.2 913.1 1391.2 914.4 1390.9 915.1 1391.1 916.1 1392.0 918.1 1392.2 919.1 1392.3 920.1 1391.7 921.1 1392.1 922.1 1391.7 923.1 1392.1 925.1 1391.9 926.1 1392.1 927.1 1391.7 928.1 1392.2 930.1 1391.7 931.1 1392.2 933.1 1391.2 933.6 1391.2 936.1 1391.5 937.1 1392.2 938.1 1391.8 939.1 1392.3 940.1 1392.3 941.1 1392.0 942.1 1392.2 943.1 1391.8 944.1 1392.1 945.1 1391.7 947.1 1392.3 948.1 1391.7 949.1 1392.3 950.1 1391.7 951.1 1392.2 952.1 1392.0 955.1 1392.3 956.1 1391.8 958.1 1391.8 959.1 1392.1 960.4 1391.5 962.1 1391.1 963.4 1391.8 965.1 1391.7 966.1 1392.0 967.1 1391.8 968.1 1392.3 969.1 1392.0 970.1 1392.3 972.1 1392.2 973.1 1391.7 974.1 1391.7 976.1 1392.2 977.1 1391.7 978.1 1392.3 979.1 1391.7 980.1 1392.2 981.1 1391.8 984.1 1391.7 987.1 1392.2 988.6 1391.2 989.4 1391.1 991.1 1391.9 993.1 1391.7 994.1 1391.9 995.1 1390.5 995.9 1390.0 996.6 1390.3 998.1 1392.1 999.1 1391.8 1000.1 1392.0 1001.1 1391.7 1003.1 1391.7 1004.1 1392.3 1005.1 1391.9 1006.1 1392.2 1008.1 1391.9 1009.1 1392.3 1010.1 1392.1 1011.1 1392.3 1013.1 1391.7 1016.1 1392.2 1017.1 1391.7 1018.1 1391.8 1019.1 1392.2 1021.1 1392.2 1022.1 1391.8 1023.1 1392.3 1028.1 1391.8 1029.1 1392.3 1030.1 1391.7 1032.1 1391.7 1033.1 1392.2 1039.1 1391.7 1041.1 1392.2 1042.1 1391.8 1044.1 1392.3 1046.1 1391.7 1048.1 1392.3 1050.1 1391.8 1051.1 1392.3 1056.1 1391.7 1058.1 1392.2 1059.1 1391.8 1061.1 1392.3 1062.1 1391.7 1063.1 1392.2 1065.1 1391.8 1066.1 1392.2 1067.1 1391.8 1072.1 1392.2 1073.1 1391.7 1074.1 1391.7 1075.1 1392.2 1076.1 1391.9 1077.1 1392.3 1078.1 1391.7 1079.1 1392.2 1080.1 1391.7 1081.1 1392.1 1082.1 1391.8 1083.1 1392.3 1085.1 1391.8 1086.1 1392.2 1087.1 1391.7 1088.1 1391.7 1089.1 1392.2 1090.1 1391.8 1091.1 1392.2 1092.1 1391.7 1093.1 1391.7 1094.1 1392.2 1095.1 1391.7 1096.1 1392.2 1098.1 1392.1 1099.1 1392.3 1100.1 1392.1 1102.1 1392.2 1103.1 1391.7 1105.1 1392.3 1109.1 1391.7 1110.1 1392.0 1111.1 1391.7 1113.1 1392.3 1114.1 1391.8 1116.1 1391.9 1117.1 1392.3 1118.1 1391.9 1119.1 1391.9 1120.1 1392.3 1121.1 1391.7 1124.1 1392.1 1126.1 1392.1 1128.1 1391.7 1130.1 1392.3 1131.1 1391.8 1132.1 1392.3 1134.1 1391.7 1135.1 1391.7 1137.1 1391.9 1138.1 1392.3 1139.1 1391.8 1140.1 1392.1 1141.1 1391.8 1144.1 1392.2 1146.1 1391.8 1147.1 1392.1 1149.1 1391.9 1150.1 1392.3 1152.1 1391.8 1153.1 1392.2 1156.1 1392.2 1157.1 1391.7 1158.1 1392.2 1159.1 1391.8 1160.1 1392.1 1161.1 1391.7 1162.1 1391.8 1166.1 1391.5 1169.1 1390.0 1170.1 1390.2 1171.1 1389.6 1173.1 1389.5 1174.1 1388.9 1174.6 1388.9 1177.1 1389.4 1178.1 1389.2 1180.1 1390.0 1181.1 1390.0 1183.1 1391.3 1186.6 1391.8 1187.1 1391.6 1188.1 1389.2 1188.6 1388.8 1189.8 1391.6 1190.1 1392.0 1190.6 1392.1 1192.1 1391.7 1193.1 1392.0 1193.8 1391.4 1194.3 1389.5 1195.1 1384.1 1195.3 1382.9 1195.6 1382.8 1196.8 1390.3 1197.6 1391.6 1200.1 1392.1 1204.1 1390.8 1205.1 1391.7 1206.1 1391.6 1207.1 1391.9 1208.1 1391.7 1209.1 1392.3 1210.1 1392.1 1211.1 1390.8 1211.8 1390.4 1212.3 1390.6 1213.3 1391.6 1215.6 1392.2 1216.3 1391.9 1217.6 1390.2 1218.1 1390.0 1219.8 1392.0 1220.1 1392.2 1221.3 1392.0"/></defs><use href="#b8" fill="#fff" stroke="none"/><use href="#b8" fill="none" stroke="#00e600"/>
<defs><path id="b7" d="M238.8 1419.2 241.8 1419.1 242.8 1419.2 245.8 1418.7 246.8 1419.0 247.8 1418.6 248.8 1418.6 249.8 1419.1 251.8 1419.0 253.8 1418.2 254.8 1418.4 255.8 1417.9 256.9 1418.0 257.9 1417.5 258.4 1417.4 258.9 1417.9 259.9 1421.5 260.4 1422.3 260.9 1421.0 262.6 1412.2 263.1 1408.0 263.9 1386.3 264.4 1346.0 266.1 1014.3 266.4 988.4 266.6 982.3 268.1 1179.8 269.9 1345.4 270.4 1375.7 270.9 1390.6 271.6 1398.7 272.4 1402.1 273.4 1404.8 274.1 1405.9 274.4 1405.9 274.6 1405.3 275.1 1400.5 275.9 1371.2 276.9 1285.6 277.4 1265.9 277.9 1286.4 279.1 1385.1 279.9 1404.4 280.4 1407.9 281.1 1409.6 281.9 1410.2 282.9 1411.7 283.9 1412.2 284.9 1412.4 286.9 1414.0 287.9 1414.0 288.9 1415.0 290.9 1415.4 293.9 1417.3 295.9 1417.4 297.6 1417.9 298.1 1417.7 299.1 1415.7 300.6 1408.0 301.1 1406.5 301.6 1407.4 303.6 1416.2 304.4 1417.5 305.1 1417.9 305.9 1417.8 306.6 1417.1 308.4 1413.2 309.1 1412.4 309.6 1412.7 310.4 1413.7 312.4 1417.6 312.9 1418.2 313.9 1418.5 314.9 1418.3 315.9 1418.4 316.9 1417.9 317.9 1418.2 318.9 1417.8 320.9 1417.9 321.9 1417.7 322.9 1418.3 323.9 1417.8 325.9 1418.2 327.9 1418.2 328.9 1417.5 329.9 1418.1 330.9 1418.1 331.9 1417.6 332.9 1418.0 333.9 1418.0 335.9 1417.5 338.9 1417.8 341.9 1417.3 342.9 1417.8 343.9 1417.2 345.9 1417.1 346.9 1417.4 348.9 1417.5 349.9 1417.1 350.9 1417.5 351.9 1417.5 352.9 1417.2 354.9 1417.4 355.9 1416.9 357.9 1417.2 359.1 1416.3 359.9 1415.2 360.4 1413.5 361.4 1405.6 362.1 1394.1 363.9 1356.0 364.4 1349.1 364.6 1347.4 364.9 1347.2 365.4 1352.4 367.1 1389.8 367.6 1396.0 368.4 1401.0 369.1 1403.2 370.9 1405.4 373.1 1407.7 377.9 1411.1 384.9 1413.6 386.9 1414.5 389.9 1414.5 391.9 1415.2 392.9 1415.0 393.9 1415.2 394.9 1415.7 395.9 1415.4 396.9 1415.7 397.9 1415.5 398.9 1415.9 400.9 1415.9 402.9 1416.4 405.9 1416.2 406.9 1416.6 407.9 1416.0 408.9 1416.0 409.9 1416.4 410.9 1416.1 411.9 1416.3 412.9 1416.2 413.9 1416.6 416.1 1416.3 416.6 1416.1 417.1 1414.6 417.4 1412.8 417.9 1405.8 419.1 1366.7 419.6 1357.2 419.9 1357.9 420.1 1361.8 421.4 1399.4 422.1 1410.2 422.6 1411.5 423.6 1410.3 424.1 1410.3 425.6 1414.4 426.4 1415.6 426.9 1416.0 428.9 1416.8 429.9 1416.7 430.9 1416.8 431.1 1416.5 431.9 1414.1 433.1 1406.2 433.6 1405.0 434.1 1406.5 435.6 1415.2 436.1 1416.5 436.9 1417.3 437.6 1416.8 438.4 1415.5 439.6 1410.4 440.1 1409.4 440.6 1410.1 442.1 1416.2 442.6 1417.1 443.1 1417.3 445.9 1417.1 447.9 1417.6 449.9 1417.4 450.9 1417.8 452.9 1417.4 453.9 1417.8 454.9 1417.5 455.9 1417.9 457.9 1417.5 458.9 1418.0 459.9 1417.6 462.9 1418.0 463.9 1417.9 464.9 1418.2 466.9 1417.9 467.9 1418.1 468.9 1417.8 470.9 1418.3 471.9 1417.8 473.9 1418.1 474.9 1417.9 477.9 1418.3 478.9 1418.0 479.9 1418.0 480.9 1418.5 481.9 1418.6 482.9 1418.3 484.9 1418.7 487.9 1418.4 488.9 1418.8 489.9 1418.3 490.9 1418.9 492.9 1418.3 493.9 1419.0 495.9 1418.9 496.9 1418.4 497.9 1418.9 498.9 1418.4 499.9 1418.7 501.9 1418.7 503.1 1418.3 503.9 1417.7 505.1 1415.5 505.6 1415.7 507.1 1417.9 507.9 1418.5 510.9 1417.3 511.6 1416.1 512.1 1413.7 512.9 1397.9 514.6 1276.2 514.9 1277.5 515.1 1288.6 516.4 1386.0 517.1 1408.7 517.6 1412.8 518.4 1414.8 520.1 1417.0 520.9 1417.5 521.9 1417.7 522.9 1418.4 523.9 1418.1 524.9 1418.3 526.9 1419.2 527.9 1418.6 528.6 1418.6 529.1 1418.3 529.6 1417.0 530.4 1408.7 531.6 1376.6 532.1 1371.1 532.6 1377.3 533.6 1402.7 534.4 1413.9 535.1 1417.5 536.1 1418.6 537.4 1419.2 537.9 1419.3 539.9 1418.8 540.9 1419.4 541.9 1419.1 542.9 1419.2 544.6 1415.3 545.1 1415.0 545.6 1415.6 546.9 1418.7 547.4 1419.0 548.1 1418.9 548.9 1417.4 549.9 1411.5 550.4 1409.7 550.6 1409.5 551.1 1410.8 552.4 1417.3 552.9 1418.8 553.4 1419.2 554.4 1419.1 554.9 1418.7 556.6 1412.1 557.1 1411.5 557.6 1412.6 558.9 1418.3 559.4 1419.0 560.1 1419.3 562.9 1419.1 564.9 1419.6 566.9 1419.3 567.9 1419.6 570.9 1419.6 572.9 1419.1 573.9 1419.6 574.9 1419.7 575.9 1419.3 577.9 1419.6 579.4 1417.8 580.4 1417.3 580.9 1417.6 581.9 1419.4 582.4 1419.5 583.9 1419.4 585.9 1419.7 586.9 1419.3 589.9 1419.3 590.9 1419.8 591.9 1419.3 592.9 1419.6 593.9 1419.1 594.9 1419.5 595.9 1419.4 596.9 1419.6 597.9 1419.3 598.9 1419.7 599.9 1419.3 600.9 1419.3 601.9 1419.7 603.9 1419.3 604.9 1419.8 605.9 1419.5 606.9 1419.6 607.9 1419.1 608.9 1419.4 609.9 1419.2 611.9 1419.8 612.9 1419.5 613.9 1419.8 616.6 1419.1 617.4 1418.2 617.9 1416.4 619.4 1405.4 619.6 1404.6 619.9 1404.5 620.4 1406.5 621.9 1416.9 622.6 1418.7 623.9 1419.8 624.9 1419.3 625.9 1419.8 627.9 1419.4 629.9 1419.7 630.9 1419.5 632.9 1419.8 635.9 1419.3 637.9 1419.4 639.9 1419.2 640.9 1419.8 643.9 1419.8 644.9 1419.2 645.9 1419.7 647.9 1419.8 649.9 1419.2 650.9 1419.2 651.9 1419.8 652.9 1419.8 653.9 1419.2 654.9 1419.5 659.9 1419.8 661.9 1419.2 662.9 1419.3 663.9 1419.7 665.9 1419.2 666.9 1419.8 668.9 1419.2 671.9 1419.8 672.9 1419.2 673.9 1419.6 674.9 1419.4 675.9 1419.6 676.9 1419.3 677.9 1419.7 678.9 1419.3 680.9 1419.3 681.9 1417.9 682.4 1417.7 683.9 1418.4 684.9 1419.6 685.9 1419.3 688.9 1419.4 689.9 1419.2 690.9 1419.3 691.9 1419.8 692.9 1419.5 694.9 1419.7 699.9 1419.3 701.9 1419.4 702.9 1419.7 704.9 1419.5 705.9 1419.8 707.9 1419.3 708.9 1419.8 711.9 1419.3 712.9 1419.6 714.9 1419.3 715.9 1419.7 717.9 1419.2 719.9 1419.4 720.9 1419.8 721.9 1419.1 722.9 1419.6 723.9 1419.4 724.9 1419.8 726.9 1419.4 729.9 1419.2 731.9 1419.8 732.9 1419.3 733.9 1419.8 734.9 1419.4 735.9 1419.5 736.9 1419.2 739.9 1419.4 740.9 1419.8 741.9 1419.5 742.9 1419.8 743.9 1419.6 744.9 1419.8 745.9 1419.4 748.9 1419.4 749.9 1419.8 751.9 1419.2 752.9 1419.5 753.4 1418.9 753.9 1417.0 754.4 1412.0 755.9 1374.3 756.1 1370.5 756.4 1369.7 756.9 1377.0 758.4 1412.5 759.1 1417.6 759.6 1418.5 760.9 1419.1 761.9 1418.8 763.9 1419.4 765.9 1419.3 766.9 1419.8 767.9 1419.5 769.9 1419.4 770.9 1419.4 771.9 1419.8 772.9 1419.3 773.9 1419.5 774.9 1419.2 776.9 1419.6 780.9 1419.2 782.9 1417.3 783.4 1417.4 784.9 1419.0 786.9 1419.7 788.9 1419.7 790.9 1419.3 792.9 1419.8 798.9 1419.2 799.9 1419.5 800.9 1419.5 801.9 1419.0 802.9 1419.0 804.1 1418.6 806.6 1419.2 807.9 1419.2 808.9 1419.6 809.9 1419.3 814.9 1419.8 816.9 1419.6 819.9 1419.6 820.9 1419.3 822.9 1419.6 823.9 1419.4 825.9 1419.6 826.9 1419.3 828.9 1419.4 829.9 1419.2 830.9 1419.6 831.9 1419.3 833.9 1419.6 835.9 1419.3 836.9 1419.6 838.9 1419.6 840.9 1419.3 841.9 1419.5 843.9 1418.3 845.6 1419.2 846.6 1419.1 847.6 1418.4 848.9 1415.9 849.4 1415.7 851.6 1419.4 851.9 1419.6 852.9 1419.4 853.9 1419.8 854.9 1419.8 856.6 1419.3 858.9 1417.7 860.1 1418.8 861.9 1419.7 862.9 1419.8 864.9 1419.3 868.6 1419.4 869.4 1419.0 870.9 1417.6 871.6 1417.9 872.9 1419.4 873.9 1419.3 874.9 1419.5 877.9 1419.7 878.9 1419.2 880.9 1419.7 881.9 1419.2 882.9 1419.5 884.1 1418.7 885.1 1418.5 885.9 1418.7 886.9 1419.5 887.4 1419.6 890.9 1419.7 891.9 1419.3 892.9 1419.4 893.9 1419.8 896.9 1419.2 899.9 1419.8 900.9 1419.5 902.9 1419.5 904.1 1418.7 904.9 1418.4 906.4 1419.1 907.9 1419.1 908.9 1419.7 909.9 1419.2 910.9 1419.2 911.9 1419.8 912.9 1419.2 914.9 1419.7 915.9 1419.3 918.9 1419.7 921.9 1419.7 923.9 1419.2 928.9 1419.6 930.9 1419.1 931.9 1418.5 933.9 1419.6 935.9 1419.2 936.9 1419.7 937.9 1419.2 938.9 1419.2 939.9 1419.7 940.9 1419.5 942.9 1419.8 944.9 1419.2 945.9 1419.7 946.9 1419.2 947.9 1419.8 948.9 1419.3 949.9 1419.3 951.9 1419.8 952.9 1419.2 954.9 1419.3 956.9 1419.7 960.1 1418.7 961.9 1419.2 962.9 1419.2 963.9 1419.6 966.6 1417.8 968.9 1419.5 970.9 1419.4 971.9 1419.7 972.9 1419.3 974.9 1419.8 978.9 1419.2 979.9 1419.7 983.9 1419.3 986.9 1419.8 987.9 1419.3 995.9 1419.5 996.9 1419.3 997.9 1419.8 998.9 1419.3 1001.9 1419.7 1004.9 1419.3 1005.9 1419.8 1006.9 1419.3 1009.9 1419.4 1011.9 1419.7 1012.9 1419.3 1013.9 1419.7 1014.9 1419.2 1015.9 1419.6 1016.9 1419.7 1017.9 1419.2 1020.9 1419.8 1021.9 1419.3 1022.9 1419.7 1023.9 1419.4 1026.8 1419.6 1027.8 1419.2 1030.8 1419.6 1031.8 1419.4 1032.8 1419.6 1033.8 1419.3 1034.8 1419.6 1035.8 1419.2 1039.8 1419.8 1040.8 1419.8 1041.8 1419.2 1043.8 1419.7 1044.8 1419.4 1045.8 1419.7 1046.8 1419.6 1047.8 1419.8 1048.8 1419.2 1051.8 1419.6 1052.8 1419.4 1054.8 1419.8 1055.8 1419.5 1056.8 1419.7 1061.8 1419.6 1062.8 1419.2 1063.8 1419.6 1064.8 1419.4 1065.8 1419.8 1066.8 1419.3 1067.8 1419.7 1070.8 1419.6 1071.8 1419.3 1072.8 1419.8 1075.8 1419.5 1076.8 1419.8 1079.8 1419.6 1080.8 1419.2 1082.8 1419.4 1084.8 1419.2 1085.8 1419.8 1087.8 1419.6 1088.8 1419.3 1090.8 1419.7 1093.8 1419.5 1094.8 1419.8 1095.8 1419.5 1096.8 1419.7 1098.8 1419.3 1102.8 1419.6 1103.8 1419.3 1104.8 1419.8 1105.8 1419.8 1106.8 1419.5 1108.8 1419.5 1109.8 1419.3 1110.8 1419.8 1111.8 1419.5 1112.8 1419.6 1113.8 1419.2 1114.8 1419.8 1115.8 1419.6 1117.8 1419.8 1119.8 1419.2 1120.8 1419.7 1121.8 1419.4 1124.8 1419.2 1125.8 1419.8 1127.8 1419.2 1129.8 1419.8 1130.8 1419.3 1131.8 1419.4 1132.8 1419.1 1134.8 1419.4 1135.8 1418.8 1136.8 1419.0 1137.8 1418.3 1138.8 1418.3 1142.8 1416.6 1145.8 1416.4 1147.8 1416.9 1148.8 1416.8 1151.8 1418.1 1153.8 1418.3 1154.8 1419.0 1157.3 1419.4 1157.8 1419.2 1158.8 1417.0 1159.3 1416.5 1160.8 1419.5 1161.8 1419.2 1163.8 1419.5 1164.3 1419.2 1164.8 1418.2 1166.1 1411.8 1166.3 1411.6 1167.6 1418.2 1168.1 1419.3 1168.8 1419.7 1169.8 1419.4 1171.8 1419.5 1172.8 1419.1 1173.8 1419.2 1174.8 1418.6 1175.8 1419.3 1176.8 1419.1 1179.8 1419.5 1182.6 1417.9 1183.3 1418.2 1184.6 1419.4 1185.1 1419.5 1187.1 1419.0 1188.3 1417.9 1188.8 1417.7 1189.3 1417.9 1190.8 1419.4 1192.1 1419.5"/></defs><use href="#b7" fill="#fff" stroke="none"/><use href="#b7" fill="none" stroke="#00ffff"/>
<defs><path id="b6" d="M209.6 1445.9 210.6 1445.9 211.6 1445.6 213.6 1446.1 215.6 1445.5 216.6 1445.8 218.6 1445.5 219.6 1445.9 223.6 1445.0 225.6 1445.2 226.6 1444.7 227.6 1444.7 229.1 1444.2 229.6 1444.5 229.8 1445.0 231.1 1448.9 231.6 1447.8 233.1 1439.7 233.8 1432.9 234.6 1405.3 235.1 1357.0 236.6 1056.8 237.1 1004.9 237.3 1011.4 237.6 1039.3 238.8 1226.7 240.3 1365.3 240.8 1397.8 241.3 1414.8 242.1 1424.3 242.8 1428.1 243.8 1431.4 244.6 1432.7 244.8 1432.7 245.1 1432.4 245.6 1429.2 245.8 1424.9 246.6 1389.4 247.6 1301.6 247.8 1289.9 248.1 1288.9 249.6 1402.5 250.3 1429.0 250.8 1433.9 251.6 1436.1 253.1 1437.6 255.6 1439.5 257.6 1440.6 258.6 1440.6 259.6 1441.7 260.6 1441.7 265.6 1444.4 268.6 1444.8 269.4 1443.9 269.9 1442.5 271.4 1434.9 271.9 1433.4 272.1 1433.3 272.6 1434.8 274.4 1443.0 275.1 1444.1 276.6 1444.7 277.9 1443.0 279.4 1440.3 280.1 1439.7 280.6 1440.0 282.6 1444.1 283.4 1444.5 285.6 1445.0 287.6 1445.1 289.6 1444.6 290.6 1445.1 291.6 1444.5 292.6 1445.1 295.6 1444.3 296.6 1444.9 298.6 1444.3 301.6 1444.7 304.6 1444.1 305.6 1444.2 306.6 1444.0 308.6 1444.4 310.6 1444.4 311.6 1443.9 312.6 1444.2 313.6 1444.3 314.6 1444.0 315.6 1444.4 316.6 1443.8 317.6 1444.0 319.6 1443.9 320.6 1444.2 321.6 1443.6 322.6 1444.0 323.6 1444.0 325.6 1443.6 326.6 1444.0 327.6 1443.6 328.6 1444.0 329.6 1443.7 330.4 1442.7 331.1 1440.7 332.1 1433.9 332.9 1423.9 334.6 1391.8 335.4 1385.1 335.6 1385.1 336.1 1389.8 338.1 1424.3 339.1 1430.2 340.6 1432.9 343.6 1435.6 345.6 1436.7 346.6 1437.7 349.6 1439.1 351.6 1439.4 355.6 1440.9 357.6 1441.0 358.6 1441.4 360.6 1441.7 362.6 1442.2 363.6 1442.0 364.6 1442.6 365.6 1442.3 366.6 1442.6 368.6 1442.6 369.6 1442.9 370.6 1442.6 373.6 1442.5 374.6 1443.1 375.6 1442.8 377.6 1443.2 378.6 1442.7 379.6 1443.2 382.6 1443.1 383.6 1443.4 384.6 1443.1 385.6 1443.3 386.9 1443.0 387.4 1442.5 387.9 1440.8 388.4 1435.6 389.9 1388.9 390.4 1380.2 390.9 1386.5 391.9 1419.7 392.6 1434.6 393.1 1437.6 393.4 1437.9 394.4 1436.7 394.6 1436.7 396.4 1441.7 397.1 1442.8 398.6 1443.5 400.6 1443.6 401.9 1443.0 402.6 1441.9 403.9 1438.2 404.4 1437.9 405.9 1442.2 406.4 1443.0 407.6 1443.8 408.9 1442.5 410.1 1439.0 410.6 1438.2 411.1 1438.7 412.6 1443.1 413.1 1443.7 414.6 1444.2 415.6 1444.3 417.6 1443.7 418.6 1444.3 420.6 1443.9 423.6 1444.4 425.6 1444.1 426.6 1444.4 427.6 1444.1 428.6 1444.6 429.6 1444.1 431.6 1444.6 434.6 1444.3 435.6 1444.9 436.6 1444.4 437.6 1444.6 438.6 1444.4 442.6 1444.5 444.6 1445.2 445.6 1444.6 449.6 1445.0 450.6 1445.4 452.6 1444.9 455.6 1445.4 459.6 1445.0 461.6 1445.4 462.6 1444.9 463.6 1445.3 464.6 1445.0 466.6 1445.5 467.6 1445.0 470.6 1445.4 471.6 1445.1 472.6 1445.6 474.1 1444.6 475.4 1442.4 475.9 1442.0 477.4 1443.7 478.4 1444.5 479.9 1444.4 481.1 1443.9 481.6 1443.4 482.1 1442.4 482.6 1439.3 483.4 1419.5 485.1 1267.1 485.4 1268.8 485.6 1282.7 486.6 1385.6 487.4 1427.7 487.9 1436.5 488.4 1439.5 488.9 1440.7 489.9 1442.0 491.6 1443.5 492.6 1444.7 493.6 1444.7 495.6 1445.4 496.6 1445.3 497.6 1445.8 498.6 1445.3 499.4 1445.6 499.6 1445.5 500.1 1443.8 500.6 1439.1 501.1 1429.9 502.1 1398.3 502.6 1389.1 502.9 1389.9 503.1 1393.9 504.4 1430.1 505.1 1441.0 505.6 1443.5 506.1 1444.4 507.1 1445.1 508.6 1445.4 509.6 1446.0 511.6 1446.1 512.6 1445.6 513.6 1445.7 515.1 1442.6 515.6 1442.1 516.1 1442.4 517.6 1445.5 518.1 1445.8 518.6 1445.7 519.4 1443.7 520.6 1435.7 521.1 1433.8 521.4 1433.9 521.6 1434.7 523.1 1444.1 523.6 1445.4 524.4 1446.0 525.1 1445.7 525.9 1444.4 527.1 1440.2 527.6 1439.4 528.1 1440.1 529.1 1443.6 529.9 1445.3 530.6 1446.1 531.1 1446.2 532.6 1446.1 533.6 1446.4 534.6 1446.0 535.6 1446.2 536.6 1445.9 537.6 1446.4 541.6 1445.9 542.6 1446.4 544.6 1445.9 545.6 1446.0 546.6 1446.5 548.6 1446.2 549.9 1444.4 550.6 1443.8 551.4 1444.2 552.6 1445.9 553.6 1445.8 555.6 1446.5 556.6 1446.1 557.6 1446.1 558.6 1446.1 559.6 1446.5 560.6 1446.0 561.6 1446.1 562.6 1445.9 563.6 1445.9 564.6 1446.5 565.6 1446.1 566.6 1446.4 568.6 1445.9 569.6 1446.1 570.6 1445.9 575.6 1446.5 576.6 1445.9 577.6 1446.5 579.6 1445.9 580.6 1446.4 582.6 1446.5 583.6 1445.9 585.6 1446.3 587.1 1446.1 587.9 1445.5 588.4 1444.0 589.9 1433.9 590.4 1432.3 590.9 1433.5 592.1 1442.0 592.9 1445.0 593.6 1445.9 595.6 1446.4 596.6 1445.9 597.6 1446.2 599.6 1446.0 600.6 1446.4 604.6 1446.1 605.6 1446.3 606.6 1446.0 610.6 1446.5 612.6 1446.3 613.6 1446.5 614.6 1446.1 615.6 1446.2 616.6 1445.9 617.6 1446.3 618.6 1445.9 620.6 1446.1 621.6 1446.4 623.6 1445.9 624.6 1446.2 626.6 1446.1 628.6 1446.4 629.6 1446.1 630.6 1446.1 631.6 1446.5 632.6 1445.9 634.6 1446.4 638.6 1445.9 639.6 1446.5 640.6 1446.3 641.6 1445.9 644.6 1446.3 645.6 1446.0 646.6 1446.5 647.6 1446.4 648.6 1445.8 650.6 1446.2 651.4 1445.6 652.9 1443.2 653.4 1443.0 654.9 1445.4 657.6 1446.4 659.6 1446.0 662.6 1446.4 665.6 1446.0 666.6 1446.4 669.6 1446.4 670.6 1445.9 672.6 1446.2 673.6 1445.9 674.6 1446.2 677.6 1445.9 678.6 1446.2 679.6 1446.1 681.6 1446.5 682.6 1446.0 684.6 1446.2 685.6 1445.9 687.6 1446.5 688.6 1446.1 692.6 1446.5 694.6 1446.3 695.6 1445.9 697.6 1446.5 698.6 1446.0 699.6 1446.5 700.6 1446.0 703.6 1446.2 707.6 1446.0 709.6 1446.5 711.6 1446.2 714.6 1446.4 715.6 1445.9 716.6 1445.9 717.6 1446.4 718.6 1446.5 722.9 1446.0 723.9 1445.5 724.1 1445.1 724.9 1439.9 726.4 1400.8 726.9 1393.3 727.4 1398.9 728.4 1426.7 729.1 1439.9 729.6 1443.4 730.1 1444.8 730.9 1445.5 732.6 1446.1 733.6 1445.7 736.6 1446.0 738.6 1445.9 740.6 1446.5 741.6 1445.9 742.6 1446.2 744.6 1446.2 745.6 1445.9 747.6 1446.4 748.6 1446.2 749.6 1446.4 751.9 1446.1 753.4 1444.6 753.9 1444.4 755.6 1446.1 757.6 1446.4 759.6 1446.1 762.6 1446.2 763.6 1445.9 765.6 1446.3 766.6 1446.0 768.6 1446.4 769.6 1446.0 770.6 1445.9 771.6 1446.3 774.1 1445.0 774.6 1445.1 776.6 1446.4 777.6 1446.1 778.6 1446.4 782.6 1446.2 784.6 1446.5 786.6 1446.1 790.6 1446.3 792.6 1445.9 794.6 1445.9 795.6 1446.2 797.6 1445.9 798.6 1445.9 799.6 1446.5 801.6 1446.4 802.6 1446.3 803.6 1445.9 804.6 1446.4 806.6 1446.0 810.6 1446.4 811.6 1446.4 812.6 1445.6 814.4 1445.1 815.6 1445.6 816.6 1446.4 818.4 1445.6 819.4 1444.4 819.9 1444.2 822.6 1446.3 823.6 1446.0 824.6 1446.5 825.6 1445.9 826.6 1446.3 827.4 1446.1 828.6 1444.6 829.4 1444.2 829.9 1444.5 831.6 1446.2 832.6 1446.1 834.6 1446.3 836.6 1446.1 837.6 1446.5 838.6 1445.8 839.6 1445.9 841.4 1444.4 842.1 1444.7 843.1 1445.6 844.6 1446.5 847.6 1446.0 848.6 1446.5 851.6 1445.9 852.9 1446.2 855.6 1445.0 856.9 1445.8 858.6 1446.4 860.6 1446.0 861.6 1446.5 863.6 1446.0 865.6 1445.9 867.6 1446.3 870.6 1446.0 872.6 1446.2 875.1 1445.2 876.6 1445.5 877.6 1446.3 879.6 1445.9 880.6 1446.5 881.6 1446.4 882.6 1446.0 884.6 1446.4 885.6 1445.9 886.6 1446.3 887.6 1445.9 889.6 1446.5 891.6 1445.9 892.6 1446.4 893.6 1446.2 894.6 1446.4 895.6 1445.9 898.6 1446.5 900.4 1446.1 901.6 1445.2 902.1 1445.1 903.6 1445.4 904.6 1446.3 905.6 1445.9 906.6 1446.5 907.6 1446.4 908.6 1445.9 909.6 1445.9 910.6 1446.5 911.6 1446.2 913.6 1446.2 914.6 1446.5 916.6 1446.4 917.6 1445.9 918.6 1446.5 919.6 1446.4 920.6 1446.0 921.6 1446.2 923.6 1446.0 925.6 1446.5 926.6 1445.9 927.6 1446.3 929.9 1445.2 931.9 1445.8 933.6 1446.0 934.6 1446.4 935.4 1446.0 936.9 1443.6 937.4 1443.4 939.4 1445.7 942.6 1446.5 945.6 1446.0 946.6 1446.5 947.6 1445.9 950.6 1446.5 951.6 1445.9 952.6 1446.3 954.6 1446.4 956.6 1445.9 958.6 1445.9 959.6 1446.2 965.6 1446.3 966.6 1445.9 967.6 1445.9 968.6 1446.4 969.6 1446.5 971.6 1446.0 972.6 1446.3 973.6 1445.9 974.6 1446.0 975.6 1446.4 976.6 1446.1 977.6 1446.1 978.6 1446.5 979.6 1446.5 980.6 1446.0 981.6 1446.5 982.6 1446.1 985.6 1446.4 986.6 1446.1 987.6 1446.5 988.6 1446.0 989.6 1446.3 990.6 1446.1 991.6 1446.5 994.6 1445.9 995.6 1446.3 998.6 1446.0 999.6 1446.3 1000.6 1446.2 1001.6 1446.5 1003.6 1446.0 1004.6 1446.4 1005.6 1445.9 1006.6 1446.5 1008.6 1446.1 1011.6 1446.5 1013.6 1445.9 1015.6 1446.4 1016.6 1445.9 1018.6 1446.2 1019.6 1445.9 1022.6 1446.3 1025.6 1446.1 1026.6 1446.5 1027.6 1446.1 1028.6 1446.5 1029.6 1445.9 1031.6 1445.9 1032.6 1445.9 1033.6 1446.5 1034.6 1446.5 1035.6 1446.1 1038.6 1446.1 1039.6 1446.4 1041.6 1446.0 1043.6 1446.3 1044.6 1445.9 1047.6 1446.4 1048.6 1446.0 1050.6 1445.9 1051.6 1445.9 1052.6 1446.5 1053.6 1445.9 1055.6 1446.5 1056.6 1445.9 1057.6 1445.9 1060.6 1446.2 1061.6 1446.0 1062.6 1446.4 1064.6 1446.5 1065.6 1446.2 1068.6 1446.4 1069.6 1446.0 1070.6 1446.5 1072.6 1446.0 1073.6 1446.2 1074.6 1445.9 1075.6 1446.5 1076.6 1446.2 1078.6 1446.0 1080.6 1446.5 1082.6 1445.9 1083.6 1446.5 1084.6 1446.1 1085.6 1446.0 1086.6 1446.3 1087.6 1445.9 1088.6 1446.0 1089.6 1446.5 1091.6 1446.3 1092.6 1445.9 1094.6 1446.4 1096.6 1445.9 1098.6 1446.4 1102.6 1445.9 1103.6 1446.3 1105.6 1445.6 1106.6 1445.6 1107.6 1444.7 1108.6 1444.8 1110.6 1443.9 1111.6 1443.0 1113.6 1442.4 1114.6 1442.5 1115.6 1441.9 1118.6 1442.2 1121.6 1443.2 1124.6 1444.6 1125.6 1445.4 1128.3 1445.5 1128.8 1444.7 1129.8 1441.4 1130.1 1441.3 1131.6 1445.9 1133.6 1446.4 1134.6 1445.8 1135.1 1445.8 1135.6 1445.1 1136.6 1439.5 1136.8 1438.4 1137.1 1438.3 1138.3 1445.0 1138.8 1446.1 1139.3 1446.4 1140.6 1446.2 1143.6 1446.2 1144.6 1445.5 1145.3 1445.3 1146.6 1445.4 1147.6 1446.3 1149.6 1446.0 1151.6 1446.3 1152.3 1445.9 1153.6 1444.5 1154.8 1445.9 1157.1 1446.3 1158.1 1445.9 1159.6 1443.9 1161.6 1446.4 1162.6 1445.9 1162.8 1446.0"/></defs><use href="#b6" fill="#fff" stroke="none"/><use href="#b6" fill="none" stroke="#ff8000"/>
<defs><path id="b5" d="M180.3 1473.9 181.3 1473.6 182.3 1473.9 184.3 1473.8 186.3 1473.3 188.3 1473.7 189.3 1473.3 191.3 1473.5 192.3 1473.0 193.3 1473.4 196.3 1472.7 197.3 1473.0 199.3 1472.3 200.1 1472.9 200.6 1473.8 201.8 1477.7 202.3 1476.8 204.3 1467.1 205.1 1452.9 205.6 1426.9 207.3 1212.2 207.6 1195.3 207.8 1191.5 209.6 1346.1 211.1 1431.1 211.6 1448.2 212.1 1456.3 212.6 1459.7 213.1 1461.4 213.8 1462.6 215.1 1463.3 215.6 1462.7 215.8 1461.6 216.3 1454.9 217.1 1415.2 218.1 1291.9 218.6 1257.7 219.1 1281.6 220.3 1424.5 220.8 1449.0 221.3 1458.1 222.1 1462.0 223.3 1464.5 224.3 1465.8 226.3 1466.6 228.3 1468.2 229.3 1468.4 231.3 1469.4 232.3 1470.3 233.3 1470.4 234.3 1470.7 235.3 1471.2 236.3 1472.0 238.3 1472.5 239.6 1471.6 240.1 1470.6 240.8 1467.3 242.1 1457.1 242.6 1454.9 242.8 1455.0 243.1 1456.1 244.8 1468.6 245.6 1471.1 246.3 1471.8 246.8 1471.8 247.3 1471.5 248.1 1470.4 249.8 1464.1 250.6 1462.5 250.8 1462.6 251.3 1463.5 252.8 1469.1 253.6 1471.1 255.1 1472.5 256.4 1472.8 258.4 1472.2 260.4 1472.7 261.4 1472.4 263.4 1472.5 264.4 1472.0 265.4 1472.5 266.4 1472.0 267.4 1472.5 269.4 1471.9 270.4 1472.3 272.4 1472.4 273.4 1472.2 275.4 1472.3 276.4 1471.9 279.4 1471.6 280.4 1471.8 282.4 1471.5 283.4 1471.7 284.4 1471.5 285.4 1472.0 288.4 1471.3 290.4 1471.9 291.4 1471.4 292.4 1471.8 293.4 1471.8 294.4 1471.4 295.4 1471.7 296.4 1471.1 299.4 1471.6 300.4 1471.0 301.1 1469.7 301.9 1467.1 302.9 1457.8 305.4 1403.2 306.1 1395.6 306.4 1396.3 306.9 1403.1 308.1 1434.0 308.9 1447.1 309.6 1453.3 310.1 1455.1 311.4 1457.6 314.1 1460.9 315.4 1461.6 316.4 1462.9 320.4 1465.2 321.4 1466.2 322.4 1466.1 324.4 1467.3 325.4 1467.5 327.4 1468.4 328.4 1468.1 329.4 1468.8 330.4 1468.5 331.4 1469.2 332.4 1469.2 334.4 1469.7 336.4 1469.5 337.4 1470.0 338.4 1469.6 340.4 1470.2 342.4 1469.9 343.4 1470.1 344.4 1470.6 347.4 1470.2 348.4 1470.8 349.4 1470.5 350.4 1470.9 351.4 1470.4 353.4 1471.0 356.4 1470.6 357.4 1470.8 357.9 1470.4 358.4 1468.8 359.1 1460.1 360.6 1401.0 361.1 1391.7 361.6 1401.3 362.9 1450.8 363.4 1460.4 363.9 1463.9 364.1 1464.2 364.4 1464.0 364.9 1463.0 365.1 1462.8 365.4 1462.9 366.9 1468.6 367.6 1470.1 369.4 1470.8 370.4 1470.5 371.9 1470.6 372.6 1470.2 373.1 1469.2 374.4 1464.1 374.9 1463.1 375.4 1464.0 376.6 1469.6 377.1 1470.5 378.4 1471.4 378.9 1471.2 379.4 1470.6 380.9 1466.0 381.4 1465.4 381.9 1466.4 383.1 1470.6 383.6 1471.5 384.4 1471.8 386.4 1471.4 387.4 1471.9 390.4 1471.6 391.4 1472.0 392.4 1472.0 394.4 1471.8 395.4 1472.3 396.4 1471.6 398.4 1471.7 399.4 1472.3 401.4 1472.1 404.4 1472.5 405.4 1472.2 408.4 1472.6 409.4 1472.2 410.4 1472.6 412.4 1472.3 413.4 1472.7 414.4 1472.3 415.4 1472.6 416.4 1472.3 417.4 1472.8 418.4 1472.8 419.4 1472.3 423.4 1473.0 424.4 1472.7 425.4 1472.9 426.4 1472.6 427.4 1472.7 428.4 1473.1 430.4 1472.6 431.4 1473.1 432.4 1472.7 433.4 1473.2 434.4 1472.5 435.4 1473.0 438.4 1472.9 439.4 1473.2 444.1 1472.5 444.9 1472.0 446.1 1470.1 446.6 1469.8 447.4 1470.3 448.1 1471.8 448.6 1472.3 449.6 1472.0 452.1 1470.7 452.6 1469.6 453.1 1466.3 453.9 1444.4 455.6 1274.6 455.9 1276.4 456.1 1292.0 457.1 1406.2 457.9 1452.9 458.4 1462.7 459.1 1467.3 459.9 1469.0 460.9 1470.4 461.4 1470.9 462.4 1471.2 463.4 1472.2 464.4 1472.3 466.6 1473.0 469.9 1472.8 470.4 1472.0 470.9 1469.1 471.6 1454.2 472.9 1401.2 473.1 1395.1 473.4 1393.9 473.9 1405.6 475.1 1455.9 475.9 1468.6 476.4 1471.3 476.9 1472.1 479.4 1473.2 480.4 1473.0 481.4 1473.6 482.4 1473.8 484.4 1473.2 485.4 1470.7 486.1 1469.8 486.9 1470.4 488.4 1473.3 488.9 1473.4 489.6 1473.1 490.4 1472.4 491.4 1470.1 491.9 1469.7 492.4 1470.2 493.9 1473.0 494.4 1473.4 495.4 1473.8 496.4 1473.2 497.6 1471.0 498.1 1470.6 498.6 1470.8 500.4 1473.4 502.4 1473.5 504.4 1474.0 505.4 1473.5 507.4 1474.0 509.4 1473.7 510.4 1473.9 511.4 1473.4 512.4 1473.9 514.4 1473.6 515.4 1474.0 516.4 1473.7 518.4 1473.7 519.4 1473.4 520.6 1471.9 521.4 1471.5 523.1 1473.5 523.9 1473.9 526.4 1474.0 527.4 1473.5 528.4 1474.1 530.4 1473.6 535.4 1473.9 536.4 1473.5 538.4 1474.0 539.4 1473.6 540.4 1473.9 541.4 1473.5 545.4 1473.9 546.4 1473.5 547.4 1473.8 548.4 1473.5 549.4 1473.6 550.4 1473.5 551.4 1473.5 553.4 1474.1 555.4 1474.1 559.1 1473.0 561.1 1469.7 561.6 1470.1 562.9 1472.5 563.6 1473.3 565.4 1473.9 568.4 1474.0 569.4 1473.5 570.4 1474.0 573.4 1474.1 575.4 1473.5 576.4 1473.7 578.4 1473.6 579.4 1474.0 580.4 1473.5 581.4 1474.0 582.4 1473.6 587.4 1474.0 588.4 1473.9 589.4 1473.5 590.4 1474.0 591.4 1473.5 592.4 1473.9 594.4 1473.7 596.4 1474.1 597.4 1474.1 598.4 1473.6 599.4 1473.9 600.4 1473.5 601.4 1474.1 602.4 1473.8 603.4 1474.0 604.4 1473.6 607.4 1473.9 609.4 1473.5 610.4 1474.1 611.4 1473.8 612.4 1473.9 613.4 1473.5 616.4 1473.5 617.4 1473.9 619.4 1473.5 621.4 1473.8 624.4 1472.7 626.1 1473.8 628.4 1474.1 630.4 1473.5 631.4 1473.5 632.4 1474.1 633.4 1473.7 639.4 1474.1 640.4 1473.6 641.4 1474.0 643.4 1474.1 646.4 1473.5 647.4 1473.9 649.4 1474.1 650.4 1473.7 651.4 1474.1 652.4 1473.6 653.4 1474.0 654.4 1473.6 657.4 1474.1 658.4 1473.5 659.4 1474.0 660.4 1473.5 662.4 1473.5 664.4 1473.8 669.4 1473.7 670.4 1474.1 671.4 1474.1 672.4 1473.6 673.4 1474.1 677.4 1473.7 679.4 1474.1 681.4 1473.5 682.4 1474.1 683.4 1473.7 686.4 1474.1 688.4 1473.6 689.4 1474.0 690.4 1473.5 694.1 1474.0 694.9 1473.5 695.6 1472.0 697.1 1465.1 697.6 1464.6 699.1 1470.8 699.9 1472.9 700.6 1473.7 703.4 1474.0 704.4 1473.5 705.4 1473.9 706.4 1473.5 707.4 1473.9 708.4 1473.9 710.4 1473.5 711.4 1473.7 712.4 1473.5 713.4 1474.0 715.4 1473.5 716.4 1474.0 717.4 1474.1 719.4 1473.9 721.4 1474.0 724.1 1472.0 724.9 1472.1 726.9 1473.7 728.4 1474.1 729.4 1473.5 730.4 1474.1 733.4 1473.9 734.4 1474.1 735.4 1473.5 736.4 1474.0 738.4 1474.1 740.4 1473.8 742.4 1474.0 743.4 1473.8 744.6 1472.8 745.1 1472.8 746.4 1473.6 749.4 1473.5 751.4 1474.0 754.4 1473.8 755.4 1473.5 756.4 1473.6 757.4 1474.1 758.4 1473.7 759.4 1474.0 762.4 1474.0 764.4 1473.6 766.4 1474.1 767.4 1473.5 770.4 1474.0 772.4 1473.5 774.4 1474.1 775.4 1473.6 777.4 1473.5 778.4 1473.8 780.4 1473.7 781.4 1474.1 785.1 1472.9 787.4 1474.0 788.9 1473.3 790.4 1471.8 793.1 1473.8 794.4 1473.7 797.4 1474.1 798.4 1473.4 799.6 1471.8 800.1 1471.6 801.6 1473.4 803.4 1474.0 804.4 1474.1 805.4 1473.5 807.4 1474.1 808.4 1473.9 809.4 1474.0 811.6 1471.9 812.1 1471.7 814.1 1473.9 815.4 1473.9 816.4 1473.5 817.4 1474.1 818.4 1473.5 819.4 1474.0 822.4 1473.5 823.6 1473.7 825.6 1472.8 828.4 1473.6 829.4 1473.5 831.4 1473.9 833.4 1473.6 837.4 1474.1 838.4 1473.8 839.4 1474.1 840.4 1474.1 842.4 1473.6 844.4 1473.8 845.4 1472.8 846.1 1472.5 848.1 1473.9 849.4 1473.6 851.4 1474.1 852.4 1474.1 853.4 1473.6 854.4 1473.5 855.4 1473.6 856.4 1474.0 857.4 1473.7 858.4 1473.9 859.4 1473.7 861.4 1474.1 864.4 1473.6 865.4 1474.0 866.4 1473.7 868.4 1474.0 869.4 1473.7 871.1 1473.8 873.4 1472.8 874.4 1473.7 876.4 1474.1 878.4 1473.6 879.4 1473.9 881.4 1474.1 882.4 1473.9 883.4 1474.1 885.4 1473.5 886.4 1474.0 888.4 1473.6 889.4 1474.1 891.4 1474.0 892.4 1473.6 894.4 1474.0 896.4 1474.1 899.4 1473.8 900.4 1472.7 900.9 1472.6 902.4 1473.1 903.4 1474.1 904.4 1473.7 905.4 1473.8 907.6 1472.2 908.4 1472.5 909.4 1473.6 910.4 1473.5 911.4 1474.1 912.4 1473.5 913.4 1473.5 915.4 1474.0 916.4 1473.5 918.4 1474.0 921.4 1474.0 922.4 1473.5 923.4 1473.6 924.4 1474.1 925.4 1473.5 927.4 1473.8 928.4 1473.5 930.4 1474.0 931.4 1473.6 932.4 1473.9 934.4 1474.0 936.4 1473.6 937.4 1474.0 939.4 1473.6 941.4 1474.1 943.4 1473.8 946.4 1473.8 947.4 1473.5 948.4 1474.1 949.4 1473.7 950.4 1474.0 954.4 1474.1 956.4 1473.9 957.4 1474.1 958.4 1473.7 959.4 1473.6 960.4 1474.0 961.4 1473.7 962.4 1474.0 964.4 1473.5 965.4 1474.1 966.4 1473.7 969.4 1473.6 970.4 1473.9 971.4 1474.0 972.4 1473.6 973.4 1474.0 975.4 1474.1 976.4 1473.6 977.4 1474.0 980.4 1474.1 981.4 1473.7 982.4 1473.9 983.4 1473.5 985.4 1474.0 987.4 1473.5 991.4 1474.1 993.4 1474.1 994.4 1473.5 996.4 1474.1 998.4 1474.1 1001.4 1473.6 1002.4 1474.1 1004.4 1474.1 1005.4 1474.0 1006.4 1473.6 1008.4 1474.1 1009.4 1473.7 1010.4 1474.1 1012.4 1474.0 1013.4 1473.6 1014.4 1474.1 1015.4 1474.1 1016.4 1473.5 1019.4 1474.0 1021.4 1473.7 1022.4 1474.1 1023.4 1473.6 1024.3 1473.8 1027.3 1473.6 1029.3 1474.0 1030.3 1473.8 1032.3 1473.9 1033.3 1473.5 1034.3 1474.1 1035.3 1473.6 1036.3 1473.5 1040.3 1473.9 1041.3 1473.5 1043.3 1473.9 1044.3 1473.5 1045.3 1474.1 1046.3 1473.7 1047.3 1474.0 1048.3 1473.5 1049.3 1473.8 1050.3 1473.6 1051.3 1473.9 1055.3 1474.1 1057.3 1473.5 1059.3 1473.9 1061.3 1473.9 1062.3 1473.6 1064.3 1473.5 1065.3 1473.9 1067.3 1474.1 1068.3 1473.4 1069.3 1473.9 1070.3 1473.6 1072.3 1473.6 1073.3 1473.4 1076.3 1473.7 1077.3 1473.1 1078.3 1473.0 1079.3 1473.4 1083.3 1472.0 1084.3 1472.3 1085.3 1471.7 1086.3 1472.1 1087.3 1472.0 1091.3 1472.2 1092.3 1472.7 1094.3 1472.8 1095.3 1473.2 1096.3 1473.0 1097.3 1473.5 1099.3 1473.1 1100.3 1471.9 1100.8 1471.7 1102.3 1473.9 1104.3 1474.0 1106.3 1473.2 1107.6 1470.8 1108.1 1471.2 1109.1 1473.2 1111.3 1473.8 1114.8 1473.5 1116.3 1472.6 1118.3 1474.0 1119.3 1473.7 1120.3 1474.0 1121.3 1473.5 1123.3 1473.2 1124.3 1472.3 1125.8 1473.6 1127.6 1473.9 1128.6 1473.5 1129.8 1471.9 1130.3 1471.7 1131.8 1473.6 1132.6 1474.0 1133.6 1474.1"/></defs><use href="#b5" fill="#fff" stroke="none"/><use href="#b5" fill="none" stroke="#ff00ff"/>
<defs><path id="b4" d="M151.1 1500.8 152.1 1500.4 154.1 1500.8 157.1 1500.3 158.1 1500.4 159.1 1500.2 160.1 1500.3 162.1 1500.0 163.1 1500.4 165.1 1499.7 167.1 1499.8 168.1 1499.4 169.1 1499.7 170.3 1499.1 170.8 1499.4 171.3 1500.2 172.6 1503.6 173.1 1502.4 174.6 1494.3 175.1 1489.7 175.8 1466.4 176.3 1425.1 177.8 1166.4 178.3 1121.3 178.6 1126.9 178.8 1151.6 179.6 1268.2 180.3 1345.4 181.8 1450.6 182.3 1469.0 182.8 1477.9 183.3 1481.8 183.8 1483.9 185.1 1487.7 185.8 1488.4 186.3 1487.9 186.6 1486.6 187.1 1479.2 187.8 1438.5 188.8 1328.4 189.1 1311.6 189.3 1307.8 189.8 1338.5 190.8 1445.3 191.3 1473.0 191.8 1484.2 192.6 1489.1 193.1 1490.4 194.1 1491.8 195.1 1492.4 196.1 1493.4 197.1 1493.7 198.1 1494.6 199.1 1494.9 203.1 1497.3 204.1 1497.3 205.1 1497.7 206.1 1498.5 209.1 1499.4 210.1 1499.2 210.6 1498.7 211.3 1496.4 212.8 1486.7 213.3 1484.9 213.6 1485.0 214.1 1487.0 215.8 1497.1 216.6 1498.7 217.1 1499.1 217.6 1498.9 218.3 1497.7 218.8 1496.2 220.8 1484.8 221.1 1483.8 221.3 1483.3 221.6 1483.3 222.3 1485.7 224.3 1496.8 225.1 1498.9 226.1 1499.6 228.1 1499.5 229.1 1499.7 232.1 1499.1 233.1 1499.4 235.1 1499.0 236.1 1499.6 237.1 1499.0 238.1 1498.9 239.1 1499.3 241.1 1499.0 242.1 1499.4 243.1 1499.3 244.1 1498.7 245.1 1499.3 248.1 1498.7 249.1 1499.0 252.1 1498.6 254.1 1498.9 255.1 1498.5 260.1 1498.6 262.1 1498.2 263.1 1498.7 264.1 1498.7 265.1 1498.0 266.1 1498.6 267.1 1498.2 270.1 1498.0 271.4 1497.1 272.1 1495.6 272.6 1493.2 273.6 1482.9 276.1 1425.9 276.9 1418.4 277.1 1419.6 277.6 1427.3 278.9 1459.7 279.6 1473.0 280.4 1479.5 281.4 1482.8 284.1 1486.8 286.1 1489.0 287.1 1489.5 288.1 1490.6 289.1 1490.9 290.1 1492.0 291.1 1492.0 292.1 1493.2 293.1 1493.6 294.1 1494.0 295.1 1494.1 297.1 1494.9 298.1 1494.8 299.4 1495.6 302.1 1496.2 303.1 1496.0 305.1 1496.2 306.1 1496.8 308.1 1496.5 309.1 1496.9 311.1 1497.3 312.1 1496.7 313.1 1497.1 315.1 1497.0 317.1 1497.5 319.1 1497.4 320.1 1497.1 321.1 1497.5 322.1 1497.1 323.1 1497.6 324.1 1497.3 325.1 1497.4 327.1 1497.1 328.1 1496.6 328.6 1495.8 329.1 1493.5 329.9 1481.4 331.4 1410.7 331.6 1403.5 331.9 1401.9 332.4 1415.0 333.4 1463.9 334.1 1483.0 334.6 1486.0 334.9 1486.0 335.6 1484.4 335.9 1484.5 336.1 1485.1 337.6 1494.1 338.1 1495.6 338.9 1496.9 340.1 1497.6 341.1 1497.5 342.1 1497.8 342.9 1497.4 343.6 1496.2 344.9 1491.1 345.4 1490.0 345.9 1490.7 346.9 1495.3 347.6 1497.6 348.4 1498.4 349.4 1498.1 350.1 1496.7 351.4 1489.8 351.9 1488.2 352.1 1488.3 352.4 1489.2 353.9 1497.0 354.4 1498.0 355.1 1498.6 356.1 1498.3 360.1 1498.8 361.1 1498.6 362.1 1499.0 363.1 1498.5 365.1 1498.6 366.1 1499.0 367.1 1498.6 368.1 1499.3 369.1 1498.7 370.1 1498.7 371.1 1499.2 372.1 1498.7 373.1 1499.1 374.1 1498.8 375.1 1499.3 380.1 1499.0 381.1 1499.3 384.1 1499.5 386.1 1499.2 390.1 1499.7 391.1 1499.5 392.1 1500.0 393.1 1499.3 394.1 1499.9 395.1 1500.0 396.1 1499.5 398.1 1499.8 399.1 1499.5 400.1 1499.9 402.1 1500.0 404.1 1499.6 405.1 1499.9 408.1 1499.8 409.1 1500.0 410.1 1499.6 411.1 1500.1 413.1 1499.6 414.1 1499.7 414.9 1499.5 417.1 1496.4 417.6 1496.8 418.6 1498.2 419.6 1498.8 420.1 1498.8 422.1 1497.7 423.1 1495.1 423.6 1490.9 424.4 1463.6 426.1 1251.8 426.4 1254.1 426.6 1273.5 427.9 1443.3 428.6 1482.7 429.4 1491.4 429.9 1493.3 430.9 1495.7 431.4 1496.4 433.1 1498.0 434.1 1498.2 437.1 1499.6 438.1 1499.1 439.1 1499.0 440.1 1499.3 440.4 1499.0 441.1 1496.8 441.6 1492.6 442.4 1474.5 443.4 1431.2 443.9 1420.3 444.4 1428.4 445.6 1478.5 446.4 1492.9 446.9 1496.2 447.6 1497.9 450.1 1499.9 451.1 1499.8 452.1 1500.2 454.9 1499.8 456.1 1497.0 456.6 1496.4 457.4 1497.2 458.6 1499.8 459.4 1500.3 460.1 1500.4 460.9 1499.5 461.9 1496.9 462.4 1496.4 462.9 1497.0 464.1 1499.7 464.9 1500.4 466.1 1500.8 466.6 1500.6 467.1 1500.1 468.1 1498.1 468.9 1497.6 470.4 1499.9 472.1 1500.9 474.1 1500.9 475.1 1500.4 476.1 1500.4 479.1 1501.1 481.1 1500.7 484.1 1500.9 485.1 1500.5 487.1 1500.5 488.1 1501.0 489.6 1500.5 491.1 1499.0 491.6 1498.7 492.4 1499.1 493.9 1500.5 496.1 1501.0 498.1 1500.9 499.1 1500.6 501.1 1501.0 502.1 1500.4 503.1 1501.1 506.1 1500.5 507.1 1500.9 509.1 1500.9 510.1 1500.5 512.1 1500.9 514.1 1500.5 517.1 1501.0 518.1 1500.7 519.1 1500.7 521.1 1501.1 522.1 1500.5 523.1 1500.5 524.1 1501.1 527.1 1500.4 528.1 1501.1 529.6 1500.0 531.6 1497.9 532.1 1498.1 533.4 1500.0 535.1 1501.0 536.1 1501.0 537.1 1500.6 538.1 1500.7 540.1 1500.5 541.1 1500.9 543.1 1501.1 544.1 1500.6 545.1 1501.0 546.1 1500.6 548.1 1501.0 549.1 1500.7 550.1 1501.0 553.1 1500.6 554.1 1501.1 555.1 1500.6 556.1 1500.9 559.1 1500.5 561.1 1500.9 562.1 1500.6 563.1 1501.0 564.1 1501.0 565.1 1500.7 566.1 1500.9 567.1 1500.5 568.1 1501.0 569.1 1500.5 572.1 1501.0 573.1 1500.8 574.1 1501.1 575.1 1500.7 578.1 1500.9 579.1 1500.6 580.1 1501.1 581.1 1500.6 583.1 1500.9 584.1 1500.7 585.1 1501.0 586.1 1500.6 587.1 1500.5 588.1 1500.8 589.1 1500.6 590.1 1501.1 592.1 1500.9 594.4 1499.5 595.1 1499.8 596.1 1500.7 597.1 1500.4 598.1 1500.7 599.1 1500.5 601.1 1500.9 602.1 1500.9 603.1 1500.5 604.1 1500.9 606.1 1500.6 610.1 1500.8 611.1 1500.5 612.1 1500.8 613.1 1500.6 615.1 1500.8 619.1 1500.6 620.1 1501.0 622.1 1500.5 625.1 1500.8 627.1 1500.5 629.1 1500.9 630.1 1500.7 631.1 1501.0 634.1 1500.8 635.1 1501.1 638.1 1500.6 639.1 1501.1 641.1 1500.7 642.1 1501.1 643.1 1500.8 644.1 1501.1 645.1 1500.6 647.1 1501.0 648.1 1500.8 652.1 1501.0 653.1 1500.9 654.1 1500.5 656.1 1501.0 658.1 1500.6 659.1 1500.8 662.1 1500.5 663.1 1501.0 665.1 1500.4 665.9 1498.8 666.6 1492.8 667.6 1478.9 668.1 1475.9 668.6 1479.1 669.9 1494.7 670.6 1498.9 671.4 1500.1 673.1 1500.9 674.1 1500.4 676.1 1501.1 679.1 1500.5 680.1 1500.8 681.1 1500.5 683.1 1500.9 686.1 1500.5 687.1 1500.9 690.1 1500.7 692.1 1501.0 695.1 1498.8 697.4 1500.5 698.1 1500.7 699.1 1500.6 700.1 1501.0 704.1 1501.0 705.1 1500.6 707.1 1500.9 708.1 1500.6 711.1 1501.0 712.1 1500.5 713.1 1500.9 715.9 1499.7 718.1 1500.6 720.1 1500.6 721.1 1500.9 722.1 1500.6 726.1 1501.1 728.1 1500.6 729.1 1500.9 731.1 1500.8 734.1 1501.1 735.1 1501.0 736.1 1500.5 737.1 1501.1 739.1 1500.5 740.1 1500.8 745.1 1501.1 746.1 1500.6 747.1 1500.5 748.1 1500.9 749.1 1500.7 751.1 1501.0 752.1 1500.5 753.1 1500.9 754.1 1500.0 755.1 1499.8 757.1 1500.8 757.6 1500.8 759.1 1500.4 760.6 1498.0 761.1 1497.6 761.6 1497.9 763.1 1500.1 765.1 1501.1 766.1 1500.7 767.6 1500.9 768.6 1500.6 769.1 1500.1 770.4 1497.8 770.9 1498.0 772.9 1500.6 774.1 1501.0 776.1 1500.6 777.1 1500.9 778.1 1500.6 779.1 1500.9 780.6 1500.6 781.1 1500.4 782.4 1498.9 782.9 1498.7 784.1 1500.3 784.6 1500.5 791.1 1501.1 793.1 1500.8 795.1 1500.8 796.1 1499.9 796.6 1499.8 798.6 1500.8 799.1 1500.9 800.1 1500.5 801.1 1501.1 803.1 1500.5 804.1 1500.5 805.1 1501.1 808.1 1500.6 812.1 1501.0 813.1 1500.6 814.1 1501.0 816.9 1499.9 818.1 1500.8 819.1 1500.6 823.1 1501.0 825.1 1500.5 826.1 1501.0 828.1 1501.1 829.1 1500.6 832.1 1500.5 833.1 1500.8 834.1 1500.6 835.1 1501.0 836.1 1501.0 837.1 1500.5 838.1 1500.9 839.1 1500.7 841.4 1500.8 842.1 1500.6 843.1 1499.6 843.6 1499.5 844.1 1499.7 845.1 1500.8 850.1 1500.5 853.1 1501.1 854.1 1500.9 856.1 1501.0 857.1 1500.6 861.1 1500.8 862.1 1500.5 863.1 1501.1 864.1 1500.5 865.1 1501.1 866.1 1500.7 867.1 1500.8 868.1 1500.6 869.1 1501.1 871.1 1499.6 871.6 1499.5 874.1 1500.9 875.1 1500.9 877.1 1500.1 878.4 1500.0 879.1 1500.1 880.1 1500.9 881.1 1500.7 883.1 1501.1 884.1 1500.5 885.1 1501.0 887.1 1500.6 892.1 1501.1 894.1 1500.5 897.1 1501.1 898.1 1500.5 900.1 1501.0 903.1 1501.1 904.1 1500.7 907.1 1501.1 908.1 1500.6 910.1 1500.7 911.1 1501.0 913.1 1501.0 914.1 1500.5 915.1 1501.0 916.1 1500.5 919.1 1501.1 920.1 1500.7 922.1 1500.5 924.1 1501.1 926.1 1501.0 927.1 1500.8 928.1 1501.0 929.1 1500.5 930.1 1501.0 931.1 1501.1 932.1 1500.7 933.1 1500.8 934.1 1501.1 935.1 1500.7 936.1 1500.8 937.1 1500.6 938.1 1500.7 939.1 1501.1 940.1 1500.7 942.1 1500.5 945.1 1501.1 948.1 1500.9 949.1 1501.1 950.1 1500.5 952.1 1501.0 953.1 1500.5 955.1 1500.9 956.1 1500.6 958.1 1500.8 959.1 1500.5 960.1 1500.8 961.1 1500.5 962.1 1501.1 963.1 1500.5 964.1 1501.1 965.1 1500.5 967.1 1500.8 968.1 1500.6 970.1 1500.7 972.1 1501.1 973.1 1500.5 975.1 1501.0 976.1 1500.6 978.1 1500.8 979.1 1500.6 980.1 1500.9 983.1 1501.1 984.1 1500.5 986.1 1500.7 987.1 1501.1 988.1 1501.1 989.1 1500.6 993.1 1501.1 994.1 1500.6 995.1 1500.9 996.1 1500.7 997.1 1501.1 998.1 1500.7 1000.1 1500.8 1002.1 1500.5 1003.1 1500.9 1005.1 1501.1 1006.1 1500.8 1008.1 1501.1 1010.1 1500.7 1012.1 1500.6 1013.1 1500.9 1015.1 1500.8 1016.1 1501.1 1017.1 1500.7 1018.1 1501.1 1020.1 1501.1 1021.1 1500.8 1022.1 1501.1 1024.1 1500.6 1025.1 1501.1 1026.1 1501.1 1027.1 1501.0 1028.1 1500.5 1030.1 1500.8 1031.1 1500.5 1032.1 1501.0 1034.1 1500.5 1036.1 1501.1 1038.1 1500.5 1039.1 1500.8 1040.1 1500.5 1043.1 1500.7 1047.1 1500.3 1049.1 1500.7 1051.1 1500.0 1052.1 1500.2 1053.1 1499.7 1057.1 1499.7 1059.1 1499.0 1060.1 1499.6 1063.1 1499.7 1064.1 1500.3 1065.1 1500.0 1066.1 1500.0 1067.1 1500.5 1068.1 1500.3 1069.1 1500.7 1069.6 1500.5 1070.1 1499.8 1071.3 1495.9 1071.6 1495.7 1072.8 1499.8 1073.3 1500.6 1074.1 1501.0 1076.1 1501.0 1076.8 1500.6 1078.6 1497.7 1080.1 1500.7 1081.1 1500.5 1082.1 1500.8 1083.1 1500.5 1085.1 1501.0 1086.8 1500.1 1089.3 1500.8 1092.1 1501.0 1093.3 1500.5 1094.8 1499.3 1095.3 1499.5 1096.3 1500.5 1098.1 1500.8 1099.1 1500.5 1100.1 1499.3 1100.8 1498.8 1101.6 1499.2 1103.1 1500.9 1104.3 1500.8"/></defs><use href="#b4" fill="#fff" stroke="none"/><use href="#b4" fill="none" stroke="#00e600"/>
<defs><path id="b3" d="M121.8 1528.4 122.8 1527.9 125.8 1528.4 126.8 1527.8 128.8 1528.2 129.8 1527.7 130.8 1528.1 133.8 1528.0 134.8 1527.5 138.8 1527.2 139.8 1526.5 141.1 1526.6 141.8 1527.1 142.8 1530.4 143.3 1531.2 144.1 1528.6 145.6 1518.8 146.3 1501.2 146.8 1468.6 148.6 1190.6 149.1 1160.3 150.3 1296.8 152.1 1442.9 152.6 1478.1 153.3 1502.7 153.8 1508.1 154.6 1511.8 155.6 1514.3 156.1 1514.8 156.6 1514.9 157.1 1513.6 157.3 1511.5 157.8 1499.6 158.3 1466.4 159.8 1283.6 160.1 1285.7 160.3 1304.3 161.6 1468.4 162.1 1499.0 162.6 1510.7 163.3 1515.7 164.1 1517.4 165.6 1519.4 167.8 1520.8 169.8 1522.6 170.8 1522.7 172.8 1524.2 173.8 1524.3 174.8 1525.3 177.8 1525.9 178.8 1526.8 179.8 1526.6 180.8 1526.8 181.3 1525.9 182.1 1522.1 183.6 1504.6 184.1 1501.3 184.3 1501.5 184.6 1503.0 186.3 1520.9 187.1 1524.7 187.8 1525.9 188.3 1525.8 188.8 1525.2 189.6 1523.1 191.6 1510.6 192.1 1509.1 192.3 1509.0 193.1 1511.6 194.6 1522.0 195.3 1525.2 196.1 1526.6 197.8 1527.4 198.8 1527.3 199.8 1526.8 201.8 1526.7 202.8 1527.2 203.8 1526.7 207.8 1527.0 209.8 1526.6 210.8 1527.1 211.8 1526.5 212.8 1526.4 215.8 1526.8 216.8 1526.5 217.8 1526.9 218.8 1526.5 220.8 1526.6 221.8 1526.3 225.8 1526.6 226.8 1525.9 229.8 1526.4 230.8 1525.9 234.8 1525.8 235.8 1526.1 236.8 1526.0 237.8 1526.3 239.8 1525.7 240.8 1526.2 241.8 1525.6 242.6 1524.3 243.1 1522.6 244.1 1514.6 245.1 1497.2 246.6 1461.5 247.1 1453.7 247.6 1450.7 248.3 1460.5 249.8 1496.3 250.3 1503.1 251.1 1508.3 252.8 1512.5 258.9 1518.5 259.9 1518.7 260.9 1519.8 261.9 1519.9 262.9 1520.8 265.9 1521.6 266.9 1522.5 268.9 1522.5 269.9 1523.1 271.9 1523.1 274.1 1523.9 275.9 1524.2 277.9 1524.1 279.9 1524.7 281.9 1524.4 282.9 1525.0 283.9 1524.5 285.9 1525.1 287.9 1525.3 288.9 1525.1 289.9 1525.1 290.9 1525.5 291.9 1525.1 292.9 1524.9 293.9 1525.4 294.9 1525.0 297.9 1525.7 299.4 1525.0 300.1 1524.0 300.6 1521.4 302.1 1502.4 302.4 1500.7 302.6 1500.6 304.1 1517.5 304.6 1520.8 304.9 1521.4 305.1 1521.4 306.1 1519.3 306.4 1519.2 306.6 1519.4 308.4 1524.4 308.9 1525.2 309.4 1525.5 310.9 1525.7 311.9 1525.4 312.9 1525.9 313.6 1525.6 314.1 1524.9 315.4 1521.7 315.9 1521.1 316.4 1521.4 317.6 1524.9 318.1 1525.6 319.9 1526.0 320.1 1525.8 320.9 1524.7 322.1 1521.6 322.6 1521.3 324.4 1525.3 324.9 1525.9 327.9 1526.0 328.9 1526.6 331.9 1526.1 332.9 1526.7 333.9 1526.2 334.9 1526.8 335.9 1526.5 337.9 1526.5 338.9 1526.9 339.9 1526.4 344.9 1527.1 347.9 1526.5 349.9 1526.8 350.9 1526.7 351.9 1527.1 352.9 1526.8 355.9 1526.8 358.9 1527.3 362.9 1527.0 365.9 1527.5 366.9 1527.3 369.9 1527.6 370.9 1527.3 371.9 1527.6 372.9 1527.1 373.9 1527.7 374.9 1527.8 376.9 1527.2 378.9 1527.5 379.9 1527.5 380.9 1527.2 381.9 1527.6 385.4 1527.0 386.1 1526.2 387.1 1524.3 387.6 1523.9 388.1 1524.1 389.4 1525.8 390.1 1526.1 390.9 1525.9 392.9 1523.9 393.6 1521.6 394.1 1516.2 394.9 1480.9 396.6 1209.8 396.9 1212.7 397.1 1237.5 398.4 1454.8 399.1 1505.2 399.6 1514.6 400.1 1518.1 400.9 1520.9 401.9 1522.7 403.6 1524.8 406.9 1527.2 407.9 1527.0 408.9 1527.2 409.9 1527.7 411.4 1527.2 411.9 1525.9 412.1 1524.0 412.9 1509.8 414.1 1463.0 414.4 1458.4 414.6 1458.3 416.1 1507.5 416.9 1522.0 417.4 1525.4 417.9 1526.7 419.4 1527.6 420.9 1527.9 422.9 1527.7 424.9 1527.9 425.6 1527.1 427.4 1524.1 427.9 1524.5 429.1 1527.6 429.9 1528.3 430.6 1528.2 431.1 1527.8 432.6 1524.8 433.1 1524.4 433.9 1525.2 434.9 1527.7 436.9 1528.5 439.1 1525.7 439.6 1525.4 441.4 1527.7 442.9 1528.6 443.9 1528.2 444.9 1528.1 445.9 1528.6 447.9 1528.3 448.9 1528.5 450.9 1528.4 451.9 1528.0 453.9 1528.3 455.9 1528.1 459.9 1528.6 460.9 1528.1 462.1 1526.7 462.6 1526.5 464.1 1527.8 466.1 1528.4 467.9 1528.5 469.9 1528.0 470.9 1528.0 471.9 1528.5 473.9 1528.5 474.9 1528.1 475.9 1528.6 477.9 1528.1 478.9 1528.7 479.9 1528.2 482.9 1528.4 485.9 1528.1 486.9 1528.4 489.9 1528.6 490.9 1528.2 491.9 1528.1 492.9 1528.6 495.9 1528.1 497.9 1528.5 498.9 1528.1 499.9 1528.3 500.4 1528.0 500.9 1527.5 501.9 1525.7 502.4 1525.5 504.9 1528.4 506.9 1528.1 507.9 1528.3 509.9 1528.2 510.9 1528.6 511.9 1528.4 512.9 1528.6 514.9 1528.4 516.9 1528.4 517.9 1528.2 518.9 1528.4 519.9 1528.0 521.9 1528.4 522.9 1528.1 523.9 1528.7 524.9 1528.3 525.9 1528.7 526.9 1528.1 527.9 1528.6 528.9 1528.6 529.9 1528.1 530.9 1528.4 532.9 1528.1 533.9 1528.5 535.9 1528.6 536.9 1528.3 537.9 1528.6 541.9 1528.5 542.9 1528.7 543.9 1528.4 545.9 1528.5 546.9 1528.1 547.9 1528.7 548.9 1528.7 550.9 1528.2 552.9 1528.5 553.9 1528.1 554.9 1528.2 555.9 1528.7 556.9 1528.4 557.9 1528.7 560.9 1528.7 561.9 1528.3 563.1 1528.4 565.6 1527.5 567.6 1528.5 568.9 1528.1 569.9 1528.6 571.9 1528.1 572.9 1528.3 573.9 1528.1 577.9 1528.2 578.9 1528.0 579.9 1528.7 580.9 1528.7 581.9 1528.1 582.9 1528.1 583.9 1528.6 588.9 1528.2 589.9 1528.7 590.9 1528.2 591.9 1528.6 592.9 1528.4 596.9 1528.7 597.9 1528.3 605.9 1528.7 606.9 1528.1 607.9 1528.6 608.9 1528.4 610.9 1528.7 611.9 1528.2 612.9 1528.1 613.9 1528.6 614.9 1528.6 615.9 1528.3 616.9 1528.5 617.9 1528.1 618.9 1528.1 619.9 1528.7 620.9 1528.4 622.9 1528.5 623.9 1528.1 624.9 1528.1 626.9 1528.7 627.9 1528.3 632.9 1528.5 633.9 1528.1 635.6 1528.0 636.4 1526.8 637.1 1522.1 638.1 1509.7 638.6 1506.2 638.9 1506.5 639.1 1508.1 640.4 1522.3 641.1 1526.6 641.6 1527.5 642.9 1528.4 643.9 1528.2 645.9 1528.6 646.9 1528.1 648.9 1528.6 650.9 1528.7 651.9 1528.7 652.9 1528.2 653.9 1528.5 655.9 1528.1 656.9 1528.6 662.4 1528.4 663.9 1528.0 664.9 1526.4 665.4 1526.3 665.9 1526.6 666.9 1527.9 667.9 1527.9 668.9 1528.7 670.9 1528.7 671.9 1528.2 675.9 1528.6 676.9 1528.1 677.9 1528.7 678.9 1528.1 680.9 1528.7 681.9 1528.4 684.4 1528.3 685.9 1527.3 688.9 1528.7 690.9 1528.2 691.9 1528.6 692.9 1528.1 693.9 1528.7 695.9 1528.3 697.9 1528.6 700.9 1528.6 702.9 1528.2 706.9 1528.7 708.9 1528.1 709.9 1528.7 710.9 1528.4 713.9 1528.7 715.9 1528.1 716.9 1528.0 717.9 1528.4 719.9 1528.5 720.9 1528.1 721.9 1528.1 723.1 1528.7 723.9 1528.6 726.1 1527.6 726.9 1527.8 728.1 1528.5 728.9 1528.6 729.9 1527.8 731.4 1524.6 731.9 1524.2 733.4 1527.3 734.9 1528.7 737.9 1528.5 739.1 1528.1 739.9 1527.4 740.9 1525.4 741.4 1525.2 743.1 1527.7 743.9 1528.4 744.9 1528.1 746.9 1528.1 747.9 1528.4 749.9 1528.0 750.9 1528.6 753.1 1526.4 753.6 1526.6 754.9 1528.2 755.6 1528.6 758.9 1528.3 760.9 1528.5 762.9 1528.2 763.9 1528.7 764.9 1528.2 765.9 1528.3 766.9 1527.5 767.6 1527.2 768.9 1528.1 770.9 1528.2 771.9 1528.7 773.9 1528.1 775.9 1528.4 776.9 1528.1 777.9 1528.6 778.9 1528.7 779.9 1528.6 780.9 1528.2 781.9 1528.7 783.9 1528.4 784.9 1528.6 785.9 1527.6 786.9 1527.2 787.9 1527.8 788.9 1527.8 790.9 1528.7 791.9 1528.1 793.9 1528.7 794.9 1528.7 797.9 1528.4 799.9 1528.7 800.9 1528.2 801.9 1528.2 802.9 1528.6 803.9 1528.6 805.9 1528.1 806.9 1528.7 808.9 1528.3 809.9 1528.7 810.9 1528.3 811.9 1528.5 812.9 1527.7 814.1 1527.5 816.9 1528.4 819.9 1528.3 820.9 1528.6 821.9 1528.2 823.9 1528.7 824.9 1528.1 825.9 1528.7 827.9 1528.6 828.9 1528.1 833.9 1528.5 834.9 1528.1 835.9 1528.6 837.9 1528.7 841.9 1527.4 844.9 1528.7 845.9 1528.4 846.9 1528.5 849.1 1527.3 849.9 1527.5 850.9 1528.5 852.9 1528.4 853.9 1528.7 855.9 1528.2 856.9 1528.2 857.9 1528.7 859.9 1528.4 861.9 1528.7 862.9 1528.3 865.9 1528.7 866.9 1528.2 867.9 1528.2 868.9 1528.6 869.9 1528.1 870.9 1528.7 872.9 1528.2 875.9 1528.7 876.9 1528.4 877.9 1528.5 878.9 1528.1 883.9 1528.7 884.9 1528.6 885.9 1528.1 886.9 1528.7 889.9 1528.3 894.9 1528.5 897.9 1528.3 898.9 1528.7 899.9 1528.6 900.9 1528.1 902.9 1528.1 904.9 1528.6 905.9 1528.5 906.9 1528.0 907.9 1528.3 914.9 1528.4 915.9 1528.1 916.9 1528.6 917.9 1528.7 918.9 1528.1 919.9 1528.1 920.9 1528.3 921.9 1528.2 922.9 1528.7 923.9 1528.6 924.9 1528.2 925.9 1528.6 927.9 1528.2 928.9 1528.6 929.9 1528.5 930.9 1528.7 931.9 1528.3 932.9 1528.6 935.9 1528.7 938.9 1528.3 939.9 1528.7 941.9 1528.7 942.9 1528.3 943.9 1528.6 944.9 1528.2 945.9 1528.2 947.9 1528.7 948.9 1528.1 949.9 1528.5 950.9 1528.6 951.9 1528.2 952.9 1528.6 953.9 1528.1 954.9 1528.7 955.9 1528.3 956.9 1528.7 958.9 1528.1 960.9 1528.1 962.9 1528.7 963.9 1528.1 964.9 1528.6 965.9 1528.7 968.9 1528.3 969.9 1528.7 971.9 1528.2 975.9 1528.5 976.9 1528.1 978.9 1528.6 979.9 1528.4 980.9 1528.7 981.9 1528.3 982.9 1528.5 985.9 1528.6 986.9 1528.2 988.9 1528.6 993.9 1528.3 994.9 1528.3 995.9 1528.6 996.9 1528.4 999.9 1528.7 1000.9 1528.3 1002.9 1528.4 1003.9 1528.7 1004.9 1528.1 1006.9 1528.6 1010.9 1528.7 1011.9 1528.4 1013.9 1528.4 1015.9 1527.9 1016.9 1528.4 1019.9 1527.8 1020.9 1527.2 1021.9 1527.2 1023.9 1526.2 1025.8 1525.5 1026.8 1525.7 1029.8 1525.2 1032.8 1526.4 1034.8 1526.5 1036.8 1527.7 1037.8 1527.5 1038.8 1528.1 1040.1 1528.2 1040.8 1527.7 1042.1 1524.5 1042.3 1524.5 1042.6 1525.0 1043.6 1527.8 1044.3 1528.2 1046.8 1528.3 1047.3 1528.1 1048.1 1527.3 1049.1 1525.4 1049.3 1525.5 1050.3 1527.7 1050.8 1528.3 1051.8 1528.1 1053.8 1528.4 1054.8 1528.0 1055.8 1528.2 1057.6 1527.4 1058.6 1527.6 1059.8 1528.2 1061.8 1528.7 1062.8 1528.2 1063.8 1528.4 1065.8 1526.9 1067.8 1528.6 1069.3 1528.5 1070.1 1528.3 1071.3 1526.8 1071.8 1526.5 1072.8 1527.1 1073.8 1528.3 1075.1 1528.5"/></defs><use href="#b3" fill="#fff" stroke="none"/><use href="#b3" fill="none" stroke="#00ffff"/>
<defs><path id="b2" d="M92.6 1554.5 93.6 1554.5 94.6 1555.0 96.6 1554.9 99.6 1554.2 100.6 1554.7 101.6 1554.2 102.6 1554.7 105.6 1553.8 107.6 1554.2 108.6 1553.7 109.6 1553.7 110.6 1553.1 111.6 1553.2 112.1 1553.0 112.8 1553.6 114.1 1557.0 114.6 1555.8 115.6 1549.8 116.3 1542.5 117.1 1516.5 117.6 1470.7 119.1 1180.5 119.6 1126.4 119.8 1129.7 120.1 1153.7 121.1 1299.9 122.8 1467.7 123.3 1503.7 124.1 1527.4 124.6 1532.8 125.1 1535.6 125.8 1538.3 126.8 1540.5 127.3 1540.9 127.8 1539.6 128.3 1532.7 129.1 1492.9 130.1 1376.4 130.6 1349.2 131.1 1376.7 132.3 1510.5 133.1 1537.0 133.6 1541.7 134.1 1543.4 134.8 1544.6 136.6 1546.8 140.6 1549.3 142.6 1549.9 143.6 1550.9 144.6 1551.0 146.6 1552.0 147.6 1552.8 148.6 1552.7 151.1 1553.1 152.1 1552.5 152.8 1549.4 154.3 1534.5 154.8 1531.8 155.1 1532.0 155.6 1535.0 157.1 1548.7 157.8 1551.9 158.6 1552.9 159.3 1552.8 160.1 1551.4 162.3 1541.1 162.8 1539.9 163.1 1539.8 163.8 1541.7 165.8 1551.4 166.6 1553.1 167.3 1553.6 170.6 1553.5 172.6 1553.8 173.6 1553.5 174.6 1553.8 176.6 1553.3 177.6 1553.7 178.6 1553.6 179.6 1553.7 180.6 1553.2 181.6 1553.6 183.6 1553.2 187.6 1553.2 188.6 1552.9 190.6 1553.4 191.6 1553.3 192.6 1552.8 193.6 1552.8 194.6 1553.3 195.6 1552.7 197.6 1553.1 198.6 1552.7 201.6 1552.6 202.6 1552.3 203.6 1552.8 204.6 1552.5 205.6 1552.7 206.6 1552.7 208.6 1552.1 209.6 1552.5 212.6 1551.7 213.3 1550.2 213.8 1548.1 214.8 1538.5 215.8 1519.0 217.6 1474.3 218.1 1468.9 218.3 1468.6 219.1 1480.4 220.6 1519.6 221.1 1527.1 221.8 1532.9 223.1 1536.5 226.1 1541.1 229.6 1544.6 230.6 1544.8 232.6 1546.6 233.6 1546.5 234.6 1547.0 235.6 1547.8 236.6 1547.9 237.6 1548.8 242.6 1549.7 243.6 1550.1 244.6 1550.1 245.6 1550.5 247.6 1550.6 248.6 1551.0 250.6 1550.8 251.6 1551.1 253.6 1550.9 254.6 1551.2 255.6 1551.1 256.6 1551.2 257.6 1551.7 260.6 1551.5 262.6 1551.9 263.6 1551.5 264.6 1551.4 265.6 1551.8 266.6 1551.5 268.6 1551.4 269.4 1551.2 269.9 1550.7 270.4 1549.3 270.9 1545.3 271.4 1535.7 272.6 1485.1 273.1 1472.7 273.4 1473.4 273.6 1478.5 274.6 1518.5 275.4 1537.2 275.9 1540.3 276.1 1540.3 276.9 1539.0 277.4 1539.9 278.9 1548.6 279.4 1550.1 279.9 1550.8 281.4 1551.5 282.6 1551.6 283.6 1552.0 284.4 1551.5 285.1 1549.2 286.1 1543.5 286.6 1542.1 287.1 1543.3 288.6 1550.9 289.4 1552.3 289.9 1552.5 290.4 1552.4 290.9 1551.7 291.4 1550.0 292.6 1541.4 293.1 1539.7 293.6 1541.0 295.1 1550.8 295.9 1552.2 297.6 1552.9 298.6 1552.7 302.6 1552.7 303.6 1552.9 307.6 1552.9 308.6 1553.5 310.6 1552.9 313.6 1553.5 315.6 1553.1 316.6 1553.6 317.6 1553.4 319.6 1553.6 322.6 1553.2 325.6 1553.5 326.6 1553.9 327.6 1553.9 328.6 1553.3 329.6 1553.9 330.6 1553.6 332.6 1554.0 333.6 1553.6 334.6 1554.1 335.6 1553.6 338.6 1554.1 341.6 1554.1 342.6 1553.7 345.6 1553.9 346.6 1554.2 347.6 1554.2 348.6 1553.9 349.6 1554.3 351.6 1554.1 352.6 1553.6 353.6 1553.9 354.6 1553.5 355.6 1554.0 356.4 1553.2 357.9 1550.7 358.4 1550.4 358.9 1550.8 359.6 1552.0 360.4 1552.5 361.1 1552.3 362.6 1551.3 363.9 1548.5 364.4 1545.3 365.1 1522.7 365.6 1473.6 367.1 1206.7 367.4 1209.9 367.6 1236.9 368.6 1437.1 369.4 1518.8 369.9 1536.0 370.4 1542.0 371.6 1547.3 373.6 1551.0 374.6 1552.0 375.6 1552.2 377.6 1553.3 379.6 1553.1 380.6 1553.3 381.4 1552.8 381.9 1552.2 382.6 1548.1 383.4 1531.6 384.6 1469.3 385.1 1458.4 385.6 1470.3 386.9 1530.3 387.6 1546.5 388.1 1550.2 388.9 1552.1 390.6 1553.7 391.6 1553.8 393.6 1554.6 394.6 1554.7 396.1 1553.9 396.6 1553.3 397.6 1550.8 398.1 1550.4 398.6 1551.0 399.6 1553.8 400.6 1554.8 401.9 1553.7 403.1 1551.3 403.6 1550.9 404.1 1551.5 405.1 1553.6 406.1 1554.4 407.1 1554.5 407.9 1554.3 409.4 1552.4 410.1 1552.0 411.9 1554.0 413.6 1555.2 414.6 1554.6 415.6 1555.1 416.6 1555.2 417.6 1554.5 420.6 1554.9 422.6 1554.8 423.6 1555.2 425.6 1554.7 427.6 1554.8 428.6 1555.2 429.6 1555.2 430.6 1554.5 431.6 1554.2 433.1 1552.9 433.6 1553.0 435.6 1555.0 436.6 1554.9 437.6 1555.2 438.6 1555.2 439.6 1554.6 441.6 1555.0 442.6 1554.6 444.6 1554.7 445.6 1555.1 446.6 1554.8 447.6 1555.1 448.6 1554.9 449.6 1555.3 451.6 1555.1 452.6 1554.7 454.6 1555.3 455.6 1555.3 456.6 1554.7 457.6 1555.1 458.6 1554.7 460.6 1555.3 463.6 1554.8 464.6 1554.9 465.6 1555.3 466.6 1554.8 467.6 1555.2 468.6 1554.9 469.6 1555.0 470.4 1554.3 471.1 1552.7 472.4 1547.2 472.9 1545.9 473.1 1545.9 473.4 1546.3 475.1 1553.3 475.9 1554.6 476.6 1555.1 477.6 1555.0 478.6 1555.3 479.6 1555.0 480.6 1555.3 481.6 1554.8 483.6 1555.3 484.6 1555.0 485.6 1555.3 486.6 1554.7 488.6 1554.6 489.6 1555.0 490.6 1554.8 491.6 1555.1 492.6 1554.9 494.6 1555.3 495.6 1554.9 496.6 1555.1 497.6 1554.7 498.6 1555.3 499.6 1555.3 500.6 1554.8 501.6 1554.8 503.6 1555.2 504.6 1554.8 506.6 1554.8 507.6 1555.2 508.6 1555.1 509.6 1555.3 511.6 1554.8 513.6 1555.0 515.6 1554.7 516.6 1555.2 517.6 1554.9 518.6 1555.3 520.6 1554.7 521.6 1555.1 522.6 1554.7 523.6 1554.7 524.6 1555.3 526.6 1555.3 527.6 1554.7 528.6 1555.2 529.6 1555.1 531.6 1555.3 535.6 1554.0 538.6 1555.2 540.6 1554.8 541.6 1555.2 542.6 1554.9 543.6 1554.9 544.6 1555.3 545.6 1554.7 547.6 1555.3 551.6 1554.7 552.6 1555.0 554.6 1554.7 555.6 1555.0 558.6 1555.1 560.6 1554.8 561.6 1555.1 563.6 1554.7 564.6 1555.2 567.6 1555.0 568.6 1555.3 569.6 1555.0 571.6 1555.1 573.6 1554.7 575.6 1555.0 576.6 1554.7 578.6 1555.3 579.6 1554.9 582.6 1555.3 583.6 1554.7 586.6 1555.2 587.6 1554.9 588.6 1555.2 589.6 1554.7 591.6 1554.7 592.6 1555.3 593.6 1554.7 594.6 1555.1 595.6 1554.9 596.6 1555.3 597.6 1555.1 600.6 1555.2 603.6 1554.9 604.6 1555.0 605.9 1554.9 606.4 1554.5 606.6 1553.8 607.4 1546.9 608.9 1507.1 609.1 1503.0 609.4 1502.0 609.9 1509.7 610.9 1537.9 611.6 1549.9 612.1 1552.8 612.6 1553.9 613.4 1554.4 614.6 1554.8 615.6 1554.4 617.6 1554.9 618.6 1554.6 622.6 1555.2 623.6 1554.8 624.6 1554.7 627.6 1555.1 629.6 1555.0 630.6 1554.7 631.6 1555.2 632.6 1554.7 633.6 1554.9 634.4 1554.8 635.9 1553.3 636.4 1553.1 638.1 1554.6 639.6 1554.6 640.6 1555.1 642.6 1555.3 644.6 1554.8 646.6 1555.3 647.6 1554.8 649.6 1555.2 650.6 1555.0 651.6 1555.2 652.6 1554.9 653.6 1555.1 654.6 1554.7 655.6 1554.8 656.9 1554.1 658.6 1555.1 659.6 1554.7 661.6 1555.2 662.6 1554.8 663.6 1555.3 664.6 1554.7 665.6 1555.1 666.6 1555.2 667.6 1554.8 668.6 1555.2 670.6 1555.1 671.6 1554.7 672.6 1555.1 674.6 1554.7 676.6 1555.0 677.6 1554.8 678.6 1555.3 679.6 1554.7 681.6 1555.3 682.6 1554.6 683.6 1555.1 685.6 1555.3 686.6 1555.2 687.6 1554.7 688.6 1555.0 691.6 1554.7 693.6 1555.2 694.9 1554.2 696.1 1552.4 696.6 1552.0 697.1 1552.3 698.6 1554.5 699.4 1554.6 700.1 1554.3 700.6 1553.5 701.9 1548.8 702.4 1548.1 702.9 1549.0 704.4 1554.3 705.1 1555.1 706.6 1555.3 709.6 1554.7 710.4 1553.3 711.4 1550.4 711.9 1549.9 712.4 1550.5 713.6 1554.2 714.1 1554.6 715.6 1554.7 716.6 1555.3 717.6 1554.7 718.6 1555.3 719.6 1555.3 720.6 1554.6 721.6 1554.7 722.4 1553.7 723.4 1551.3 723.9 1550.9 724.4 1551.5 725.6 1554.5 726.1 1554.8 728.6 1555.2 729.6 1554.7 730.6 1555.2 731.6 1554.7 732.6 1555.1 733.6 1555.2 734.6 1554.8 735.6 1555.2 736.6 1554.5 737.9 1554.1 739.6 1554.5 740.6 1555.2 741.6 1554.6 742.6 1554.7 743.6 1555.3 744.6 1555.1 745.6 1555.3 746.6 1554.7 747.6 1555.3 749.6 1555.2 750.6 1554.8 751.6 1555.2 752.6 1554.8 753.6 1554.9 755.6 1554.6 756.6 1554.8 757.9 1554.0 760.6 1555.1 761.6 1555.1 762.6 1554.8 763.6 1555.0 764.6 1554.7 765.6 1555.0 766.6 1554.7 767.6 1554.8 768.6 1555.2 770.6 1554.7 771.6 1555.3 772.6 1554.8 773.6 1555.2 774.6 1555.3 775.6 1554.7 777.6 1555.3 780.6 1554.8 781.6 1555.2 784.9 1553.7 785.6 1553.9 786.6 1555.1 787.6 1554.6 789.6 1555.1 792.6 1554.8 793.6 1554.8 794.6 1555.1 796.6 1554.9 797.6 1555.2 802.6 1554.7 803.6 1555.1 804.6 1554.7 807.6 1554.9 809.6 1555.3 812.6 1553.8 814.6 1554.6 815.6 1555.3 816.6 1554.7 819.4 1554.0 819.9 1554.1 821.6 1555.2 823.6 1554.8 824.6 1554.7 825.6 1555.1 827.6 1554.8 828.6 1555.3 829.6 1555.0 830.6 1555.3 831.6 1554.7 833.6 1555.3 835.6 1555.1 836.6 1554.8 838.6 1555.3 841.6 1554.9 842.6 1555.1 845.6 1555.3 846.6 1554.7 847.6 1555.2 849.6 1554.7 850.6 1555.3 851.6 1555.3 853.6 1554.7 856.6 1555.2 859.6 1554.7 860.6 1554.8 861.6 1555.2 862.6 1554.9 863.6 1555.2 864.6 1555.0 865.6 1555.3 868.6 1555.2 871.6 1554.7 873.6 1555.2 876.6 1554.8 879.6 1555.0 880.6 1554.7 882.6 1555.1 883.6 1554.8 884.6 1554.7 885.6 1555.0 886.6 1554.7 887.6 1554.8 889.6 1555.2 891.6 1554.8 892.6 1555.3 893.6 1554.7 895.6 1555.2 896.6 1555.2 897.6 1554.7 898.6 1555.0 899.6 1554.8 900.6 1555.3 903.6 1554.8 905.6 1555.2 906.6 1554.8 907.6 1554.8 908.6 1555.1 909.6 1554.7 910.6 1555.1 911.6 1554.7 915.6 1555.2 917.6 1555.2 918.6 1554.9 921.6 1555.1 923.6 1554.7 924.6 1555.2 926.6 1554.8 927.6 1555.2 928.6 1555.0 929.6 1555.3 932.6 1554.8 933.6 1555.3 934.6 1554.9 936.6 1555.0 937.6 1554.8 938.6 1555.0 939.6 1554.7 943.6 1554.7 945.6 1555.3 946.6 1555.0 947.6 1555.3 949.6 1555.2 950.6 1554.7 951.6 1555.2 953.6 1554.9 956.6 1555.0 957.6 1555.2 958.6 1554.9 959.6 1554.8 960.6 1555.0 961.6 1554.8 962.6 1555.3 963.6 1554.9 966.6 1554.8 967.6 1555.0 968.6 1554.7 970.6 1555.1 971.6 1554.9 972.6 1555.3 973.6 1554.8 975.6 1554.7 977.6 1555.1 978.6 1554.7 980.6 1555.2 981.6 1555.2 982.6 1554.9 983.6 1555.2 984.6 1554.9 985.6 1555.0 986.6 1554.4 987.6 1554.6 990.6 1554.2 992.6 1553.1 994.6 1552.6 995.6 1551.8 996.6 1551.8 997.6 1551.2 998.6 1551.7 999.6 1551.1 1002.6 1552.1 1003.6 1552.1 1004.6 1552.9 1005.6 1552.7 1007.6 1553.6 1008.6 1554.4 1010.9 1554.5 1011.6 1553.8 1012.6 1550.6 1012.9 1549.9 1013.1 1549.8 1014.6 1554.3 1015.1 1554.6 1016.6 1554.8 1017.6 1555.2 1018.6 1554.7 1019.6 1552.2 1020.1 1551.8 1021.4 1554.3 1022.6 1555.1 1024.6 1554.7 1025.6 1554.9 1027.6 1554.3 1028.6 1553.7 1030.6 1555.2 1032.6 1554.7 1034.6 1555.1 1035.6 1553.9 1036.3 1553.6 1036.8 1553.8 1038.6 1555.2 1039.6 1554.8 1040.8 1554.6 1042.6 1552.9 1044.3 1554.6 1045.8 1554.7"/></defs><use href="#b2" fill="#fff" stroke="none"/><use href="#b2" fill="none" stroke="#ff8000"/>
<defs><path id="b1" d="M63.4 1583.0 64.3 1583.4 66.3 1583.4 67.3 1583.4 68.3 1582.9 72.3 1582.8 73.3 1583.1 74.3 1582.7 76.3 1582.9 77.3 1582.4 78.3 1582.8 80.3 1582.4 81.3 1581.7 82.8 1581.6 83.6 1582.4 84.8 1585.9 85.1 1585.6 85.6 1583.3 86.8 1573.5 87.6 1554.5 88.1 1519.7 89.8 1221.6 90.3 1185.0 93.8 1521.5 94.3 1547.6 94.8 1558.7 95.8 1565.7 96.8 1568.8 97.8 1570.2 98.1 1570.2 98.3 1569.6 98.6 1568.3 99.1 1559.9 99.8 1514.4 100.8 1400.6 101.1 1385.6 101.3 1384.3 102.8 1529.9 103.3 1556.7 103.8 1567.5 104.3 1571.4 106.3 1575.0 109.3 1576.9 110.3 1577.1 111.3 1577.6 112.3 1578.5 113.3 1578.5 115.3 1580.1 116.3 1580.4 117.3 1580.5 118.3 1581.4 119.3 1581.3 121.8 1582.1 122.6 1581.7 123.1 1580.8 123.8 1577.1 125.1 1566.1 125.6 1563.6 125.8 1563.8 126.1 1564.8 128.1 1579.0 128.8 1580.9 129.6 1581.4 130.3 1581.0 131.1 1578.6 133.1 1566.6 133.6 1565.2 133.8 1565.3 134.3 1566.9 136.6 1579.5 137.1 1580.7 138.3 1582.3 139.3 1582.0 140.3 1582.2 141.3 1582.0 144.3 1582.3 145.3 1581.9 146.3 1582.1 148.3 1581.8 149.3 1582.3 151.3 1582.2 152.3 1581.6 153.3 1582.1 154.3 1581.8 155.3 1582.1 157.3 1581.7 159.3 1582.1 160.3 1581.4 161.3 1581.9 163.3 1581.4 164.3 1581.7 165.3 1581.8 167.3 1581.2 168.3 1581.6 169.3 1581.7 170.3 1581.2 171.3 1581.1 172.3 1581.6 173.3 1581.1 174.3 1581.0 177.3 1581.1 178.3 1581.3 180.3 1580.9 181.3 1581.2 183.3 1580.6 184.1 1578.9 184.6 1576.8 185.6 1567.9 188.1 1510.8 188.8 1501.8 189.1 1501.9 189.6 1508.6 191.3 1550.9 192.3 1561.8 193.3 1565.5 195.3 1568.5 198.3 1571.2 199.3 1572.5 200.3 1572.9 202.3 1574.7 203.3 1574.7 204.3 1575.3 205.3 1576.2 206.3 1576.6 207.3 1576.6 209.3 1577.5 210.3 1577.5 212.3 1578.6 213.3 1578.8 214.3 1578.6 215.3 1579.1 217.3 1579.5 219.3 1579.4 220.3 1579.8 222.3 1579.4 224.3 1580.2 225.3 1579.7 226.3 1580.3 227.3 1580.0 229.3 1580.0 230.3 1580.2 231.3 1580.0 232.3 1580.5 233.3 1580.0 234.3 1580.6 235.3 1580.7 236.3 1580.2 237.3 1580.8 238.3 1580.5 240.1 1580.6 240.8 1579.9 241.6 1575.2 242.1 1565.6 243.3 1516.3 243.8 1505.7 244.3 1513.0 245.3 1551.9 246.1 1567.4 246.3 1568.6 246.6 1568.8 247.3 1566.8 247.6 1566.6 247.8 1567.1 249.3 1577.1 249.8 1578.7 250.6 1579.6 252.3 1580.7 253.6 1580.7 254.8 1580.3 255.3 1579.5 256.6 1573.4 257.1 1572.1 257.6 1572.9 259.1 1579.4 260.1 1581.1 260.4 1581.3 260.9 1581.1 261.4 1580.5 261.9 1579.0 263.1 1571.1 263.6 1569.2 263.9 1569.4 264.1 1570.2 265.9 1580.1 266.4 1581.0 267.4 1581.6 270.4 1581.4 271.4 1581.8 272.4 1581.7 273.4 1581.3 276.4 1581.6 279.4 1581.4 280.4 1582.1 281.4 1581.8 285.4 1581.6 286.4 1582.3 288.4 1582.2 290.4 1581.7 291.4 1582.1 293.4 1581.9 294.4 1582.3 295.4 1582.0 297.4 1582.4 298.4 1582.1 299.4 1582.4 300.4 1582.1 301.4 1582.6 302.4 1582.2 304.4 1582.7 305.4 1582.2 306.4 1582.2 307.4 1582.6 309.4 1582.2 310.4 1582.8 311.4 1582.2 315.4 1582.9 318.4 1582.3 319.4 1582.8 321.4 1582.3 322.4 1582.7 323.4 1582.5 324.4 1582.7 325.4 1582.0 326.9 1581.7 328.6 1579.0 329.1 1579.1 330.4 1580.4 331.1 1580.7 332.4 1580.2 333.9 1578.1 334.6 1575.4 335.1 1568.9 335.9 1527.5 337.6 1205.2 337.9 1208.7 338.1 1238.1 339.4 1495.9 340.1 1556.0 340.6 1567.1 341.4 1572.6 342.1 1575.0 343.6 1578.4 344.4 1579.4 346.6 1580.9 347.6 1581.4 350.4 1581.8 352.1 1581.5 352.6 1580.8 353.1 1578.4 353.9 1565.7 355.1 1511.6 355.6 1498.6 355.9 1499.6 356.1 1505.4 357.6 1565.4 358.4 1577.1 358.9 1579.7 359.9 1581.5 360.4 1582.0 364.4 1583.1 366.4 1583.0 368.1 1579.6 368.6 1579.1 369.1 1579.5 370.4 1582.4 370.9 1582.9 371.4 1583.1 372.1 1582.7 374.1 1579.2 374.6 1579.5 376.1 1582.6 376.9 1583.2 378.1 1583.5 378.9 1583.0 380.1 1580.6 380.6 1580.2 382.6 1582.9 383.4 1583.4 387.4 1583.2 388.4 1583.8 389.4 1583.3 391.4 1583.7 394.4 1583.3 396.4 1583.4 397.4 1583.2 399.4 1583.5 401.9 1583.2 402.4 1583.0 403.4 1581.8 403.9 1581.6 406.4 1583.7 407.4 1583.9 409.4 1583.5 411.4 1583.7 412.4 1583.2 413.4 1583.3 414.4 1583.8 417.4 1583.4 418.4 1583.6 419.4 1583.3 420.4 1583.6 421.4 1583.4 422.4 1583.7 424.4 1583.3 427.4 1583.8 428.4 1583.4 429.4 1583.3 430.4 1583.8 431.4 1583.3 432.4 1583.6 434.4 1583.5 435.4 1583.7 436.4 1583.3 439.4 1583.8 440.9 1583.1 441.6 1581.8 443.1 1575.5 443.6 1574.4 443.9 1574.5 444.4 1575.9 445.6 1581.7 446.1 1582.6 447.4 1583.9 448.4 1583.3 451.4 1583.7 452.4 1583.4 453.4 1583.9 454.4 1583.6 455.4 1583.9 457.4 1583.6 458.4 1583.9 459.4 1583.5 460.4 1583.8 462.4 1583.5 463.4 1583.8 464.4 1583.4 465.4 1583.8 468.4 1583.7 472.4 1583.3 473.4 1583.6 474.4 1583.4 475.4 1583.8 477.4 1583.3 479.4 1583.3 480.4 1583.8 481.4 1583.4 482.4 1583.8 485.4 1583.4 486.4 1583.8 487.4 1583.3 488.4 1583.7 489.4 1583.3 490.4 1583.9 491.4 1583.4 492.4 1583.9 493.4 1583.3 494.4 1583.9 495.4 1583.3 496.4 1583.7 498.4 1583.5 499.4 1583.9 500.4 1583.2 501.4 1583.3 503.4 1583.9 505.9 1582.8 509.4 1583.6 511.4 1583.6 512.4 1583.3 515.4 1583.7 516.4 1583.3 517.4 1583.9 518.4 1583.7 519.4 1583.9 520.4 1583.7 522.4 1583.9 523.4 1583.3 524.4 1583.6 525.4 1583.4 527.4 1583.9 532.4 1583.4 533.4 1583.6 534.4 1583.5 535.4 1583.8 537.4 1583.4 539.4 1583.9 541.4 1583.8 543.4 1583.3 545.4 1583.8 549.4 1583.5 551.4 1583.9 552.4 1583.5 554.4 1583.4 555.4 1583.9 558.4 1583.5 560.4 1583.9 561.4 1583.4 562.4 1583.6 563.4 1583.3 564.4 1583.7 567.4 1583.4 568.4 1583.9 569.4 1583.2 571.4 1583.6 572.4 1583.4 573.4 1583.8 575.4 1583.3 576.4 1583.4 576.9 1583.1 577.4 1581.8 577.9 1578.0 579.4 1544.0 579.9 1537.5 580.4 1542.3 581.6 1571.7 582.1 1578.4 582.6 1581.5 583.4 1582.9 590.4 1583.9 592.4 1583.4 593.4 1583.7 596.4 1583.6 597.4 1583.9 598.4 1583.3 600.4 1583.8 602.4 1583.3 604.4 1583.7 606.1 1582.2 606.9 1581.8 608.9 1583.5 610.4 1583.6 611.4 1583.9 613.4 1583.9 614.4 1583.3 615.4 1583.5 616.4 1583.3 618.4 1583.9 619.4 1583.5 621.4 1583.3 622.4 1583.9 623.4 1583.4 625.4 1583.7 626.9 1582.8 627.6 1582.6 630.4 1583.8 631.4 1583.4 633.4 1583.8 634.4 1583.7 635.4 1583.3 636.4 1583.9 637.4 1583.9 638.4 1583.5 639.4 1583.8 640.4 1583.4 642.4 1583.5 643.4 1583.3 644.4 1583.9 645.4 1583.4 647.4 1583.7 648.4 1583.4 649.4 1583.7 650.4 1583.4 651.4 1583.9 652.4 1583.9 653.4 1583.4 654.4 1583.3 655.4 1583.9 656.4 1583.9 657.4 1583.3 658.4 1583.8 659.4 1583.3 663.4 1583.8 665.1 1583.4 666.4 1581.4 667.1 1580.8 667.9 1581.4 669.1 1583.3 670.1 1583.6 670.9 1583.1 672.9 1579.8 673.4 1580.2 674.4 1582.5 674.9 1583.1 677.4 1583.8 679.9 1583.2 680.4 1582.9 681.9 1579.2 682.4 1578.5 682.9 1578.9 684.1 1582.2 684.6 1583.0 686.4 1583.8 687.4 1583.8 688.4 1583.3 689.4 1583.9 690.4 1583.4 691.6 1583.5 692.4 1583.3 693.9 1581.2 694.6 1580.8 695.1 1581.2 696.6 1583.2 698.4 1583.7 699.4 1583.3 700.4 1583.9 701.4 1583.5 703.4 1583.8 704.4 1583.4 705.4 1583.9 706.4 1583.2 707.4 1583.2 708.4 1582.5 709.4 1583.2 710.1 1583.4 711.4 1583.3 712.4 1583.7 714.4 1583.5 715.4 1583.7 719.4 1583.3 720.4 1583.9 722.4 1583.6 723.4 1583.9 724.4 1583.9 725.4 1583.6 726.4 1583.6 728.6 1582.8 729.4 1582.9 730.4 1583.6 731.4 1583.8 732.4 1583.5 734.4 1583.8 735.4 1583.4 737.4 1583.8 740.4 1583.9 741.4 1583.6 743.4 1583.6 745.4 1583.8 746.4 1583.5 748.4 1583.8 750.4 1583.7 751.4 1583.4 752.4 1583.9 753.4 1583.3 754.4 1583.3 755.4 1582.6 757.4 1583.6 758.4 1583.4 761.4 1583.9 763.4 1583.4 765.4 1583.7 768.4 1583.6 770.4 1583.9 771.4 1583.3 773.4 1583.9 775.4 1583.3 776.4 1583.4 777.4 1583.8 779.4 1583.3 781.4 1583.5 783.4 1582.5 784.6 1583.3 785.6 1583.7 787.4 1583.7 789.9 1582.6 791.4 1582.8 792.4 1583.8 793.4 1583.3 794.4 1583.5 795.4 1583.3 797.4 1583.8 798.4 1583.4 800.4 1583.3 803.4 1583.7 805.4 1583.3 806.4 1583.9 807.4 1583.6 808.4 1583.9 809.4 1583.4 813.4 1583.8 814.4 1583.3 815.4 1583.4 816.4 1583.8 818.4 1583.5 819.4 1583.8 820.4 1583.6 821.4 1583.7 823.4 1583.3 825.4 1583.7 826.4 1583.4 827.4 1583.6 828.4 1583.4 831.4 1583.9 832.4 1583.6 835.4 1583.8 836.4 1583.4 838.4 1583.5 840.4 1583.9 841.4 1583.9 842.4 1583.6 844.4 1583.9 846.4 1583.6 847.4 1583.8 848.4 1583.3 849.4 1583.8 850.4 1583.3 853.4 1583.7 854.4 1583.4 858.4 1583.8 859.4 1583.4 861.4 1583.3 862.4 1583.9 863.4 1583.5 865.4 1583.9 867.4 1583.3 870.4 1583.9 872.4 1583.3 874.4 1583.7 876.4 1583.4 879.4 1583.7 882.4 1583.4 887.4 1583.7 889.4 1583.5 890.4 1583.8 891.4 1583.5 893.4 1583.6 894.4 1583.9 896.4 1583.6 897.4 1583.8 899.4 1583.3 902.4 1583.9 903.4 1583.8 904.4 1583.3 905.4 1583.8 909.4 1583.4 910.4 1583.8 911.4 1583.5 912.4 1583.8 914.4 1583.9 915.4 1583.3 918.4 1583.3 919.4 1583.8 920.4 1583.4 921.4 1583.8 922.4 1583.8 923.4 1583.3 925.4 1583.7 927.4 1583.3 929.4 1583.9 930.4 1583.3 932.4 1583.9 934.4 1583.3 935.4 1583.5 936.4 1583.3 938.4 1583.9 939.4 1583.4 940.4 1583.3 941.4 1583.6 942.4 1583.3 943.4 1583.8 944.4 1583.4 946.4 1583.9 950.4 1583.3 951.4 1583.3 952.4 1583.9 954.4 1583.8 956.4 1583.3 957.4 1583.2 958.4 1583.5 960.4 1582.7 961.4 1582.7 963.4 1582.1 964.4 1582.2 965.4 1581.3 967.9 1580.7 970.4 1580.4 972.4 1580.9 973.4 1580.9 975.4 1581.9 976.4 1582.2 977.4 1582.2 978.4 1582.8 980.4 1583.0 981.4 1583.5 982.4 1583.2 983.9 1581.5 985.1 1582.9 986.1 1583.5 988.6 1583.8 989.4 1583.4 990.6 1581.5 992.1 1583.4 994.4 1583.9 995.4 1583.3 997.4 1583.5 999.1 1582.3 999.6 1582.5 1000.4 1583.4 1001.4 1583.4 1002.4 1583.9 1003.4 1583.8 1005.4 1583.2 1007.1 1581.9 1007.6 1582.2 1008.6 1583.4 1010.4 1583.9 1011.9 1583.0 1013.4 1581.5 1014.9 1583.2 1016.6 1583.7"/></defs><use href="#b1" fill="#fff" stroke="none"/><use href="#b1" fill="none" stroke="#ff00ff"/>
<defs><path id="b0" d="M34.1 1610.3 35.1 1609.8 38.1 1610.1 39.1 1609.5 41.1 1610.0 42.1 1609.7 43.1 1610.0 45.1 1609.9 46.1 1609.7 47.1 1609.2 48.1 1609.5 49.1 1608.8 50.1 1609.1 52.1 1608.1 53.1 1608.3 53.6 1608.1 54.4 1608.8 55.6 1612.0 56.1 1610.7 56.6 1607.5 57.6 1597.4 58.4 1570.3 58.9 1522.8 60.4 1216.4 60.9 1157.5 61.1 1159.1 61.4 1182.6 62.4 1329.5 64.1 1512.4 64.6 1553.7 65.3 1580.9 66.1 1588.7 66.8 1592.1 67.8 1594.6 68.6 1595.6 68.8 1595.5 69.1 1594.7 69.6 1588.4 70.3 1548.9 71.3 1424.3 71.8 1389.9 72.3 1414.1 73.6 1559.2 74.3 1590.3 74.8 1595.9 75.3 1598.0 76.1 1599.7 78.1 1602.1 79.1 1602.3 80.1 1603.5 81.1 1603.6 82.1 1604.1 83.1 1605.0 85.1 1606.2 86.1 1606.1 88.1 1607.5 91.1 1608.3 92.8 1608.5 93.3 1608.1 93.8 1606.8 94.3 1604.2 95.8 1588.2 96.3 1585.2 96.6 1585.5 96.8 1586.8 98.8 1605.1 99.3 1607.0 99.8 1607.7 100.3 1608.0 101.1 1607.7 101.6 1606.4 103.8 1594.4 104.3 1593.0 104.8 1593.6 105.3 1595.5 107.3 1606.1 108.1 1608.1 109.1 1608.8 110.1 1608.6 111.1 1609.2 112.1 1609.2 113.1 1608.9 117.1 1609.1 118.1 1608.6 119.1 1609.0 121.1 1608.8 122.1 1608.5 125.1 1608.5 126.1 1608.2 127.1 1608.2 128.1 1608.6 130.1 1608.5 131.1 1608.1 132.1 1608.6 134.1 1608.0 136.1 1608.4 138.1 1607.8 139.1 1608.3 140.1 1607.8 141.1 1608.4 142.1 1607.7 143.1 1607.8 144.1 1608.2 145.1 1607.8 146.1 1608.2 149.1 1607.6 150.1 1607.9 151.1 1607.3 153.1 1607.4 154.1 1606.8 154.8 1605.1 155.3 1602.8 156.3 1592.4 158.8 1532.2 159.6 1523.0 159.8 1523.6 160.3 1531.3 161.6 1566.0 162.6 1583.6 163.1 1587.7 163.6 1589.9 164.3 1591.7 166.1 1594.8 170.1 1598.6 171.1 1599.8 172.1 1600.2 174.1 1601.9 175.1 1602.1 176.1 1602.9 177.1 1603.1 178.1 1603.7 179.1 1603.8 180.1 1604.3 181.1 1604.1 182.1 1604.8 184.1 1605.2 185.1 1604.9 187.1 1605.7 188.1 1605.4 189.1 1606.1 190.1 1605.9 191.1 1606.4 192.1 1606.0 193.1 1606.4 195.1 1606.1 196.1 1606.2 197.1 1606.8 204.1 1606.6 205.1 1606.1 206.8 1606.1 208.1 1605.8 209.3 1604.8 210.8 1602.8 211.3 1600.6 211.8 1593.8 212.6 1557.3 214.1 1326.7 214.6 1290.4 215.1 1327.5 216.1 1489.1 216.8 1560.6 217.6 1581.7 219.6 1596.5 220.3 1600.4 221.6 1603.1 223.1 1605.2 224.3 1605.6 225.1 1605.5 225.8 1604.3 227.3 1596.3 227.6 1595.5 227.8 1595.3 228.3 1596.9 229.8 1605.8 230.3 1606.9 230.8 1607.2 231.3 1607.2 232.1 1606.3 232.6 1604.6 233.8 1595.9 234.1 1594.8 234.3 1594.7 236.3 1606.1 236.8 1607.1 237.3 1607.5 239.1 1608.0 240.1 1607.8 242.1 1608.3 243.1 1607.8 247.1 1608.3 248.1 1608.0 250.1 1608.3 251.1 1608.1 252.1 1608.7 255.1 1608.7 256.1 1608.2 257.1 1608.3 258.1 1608.9 259.1 1608.4 261.1 1609.0 263.1 1608.9 264.1 1608.5 266.1 1609.1 269.1 1609.2 270.1 1609.1 271.1 1608.7 273.1 1609.3 274.1 1609.1 275.1 1609.3 276.1 1608.9 277.1 1609.2 278.1 1608.9 279.1 1609.2 280.1 1609.1 281.1 1609.5 282.1 1609.2 284.1 1609.2 285.1 1608.9 286.1 1609.4 287.1 1609.3 288.1 1609.6 291.1 1609.0 293.1 1609.5 294.1 1608.9 295.1 1609.1 297.1 1608.6 297.9 1607.8 299.4 1605.4 299.9 1605.4 301.1 1607.2 301.6 1607.4 303.1 1606.8 303.9 1605.8 304.6 1604.2 305.1 1601.9 305.6 1595.9 306.4 1555.4 308.1 1240.1 308.4 1243.5 308.6 1272.2 309.9 1524.3 310.6 1583.2 311.1 1594.2 311.6 1598.2 312.4 1601.3 313.1 1603.5 314.1 1605.2 317.4 1608.0 318.4 1608.4 321.1 1608.9 322.1 1608.0 322.9 1608.0 323.4 1606.8 323.9 1602.9 324.6 1585.5 325.9 1524.6 326.1 1517.6 326.4 1516.1 326.9 1529.5 328.1 1587.7 328.9 1602.4 329.4 1605.7 330.4 1607.8 331.1 1608.4 332.1 1608.7 333.1 1609.4 334.1 1609.4 335.1 1609.8 337.1 1609.1 338.9 1605.3 339.4 1605.1 341.1 1609.2 341.9 1609.8 342.4 1609.7 342.9 1609.2 344.4 1606.4 344.9 1606.1 345.4 1606.7 346.4 1608.9 348.1 1610.1 349.4 1609.7 350.9 1607.4 351.4 1607.1 352.1 1607.9 353.1 1609.9 354.1 1609.8 356.1 1610.5 357.1 1610.2 358.1 1610.3 359.1 1609.9 360.1 1610.5 361.1 1609.8 362.1 1610.1 365.1 1610.0 368.1 1610.5 370.1 1610.1 371.4 1610.4 372.6 1609.9 374.1 1608.1 376.4 1610.0 382.1 1610.4 384.1 1610.0 385.1 1610.4 386.1 1610.1 387.1 1610.4 391.1 1610.0 396.1 1610.6 397.1 1610.1 398.1 1610.5 399.1 1610.6 400.1 1609.9 402.1 1610.3 404.1 1610.0 408.1 1610.5 409.1 1610.1 410.1 1610.4 411.1 1610.0 412.1 1610.2 413.6 1608.6 414.4 1608.3 415.1 1608.6 416.1 1609.7 418.1 1610.3 419.1 1610.2 420.1 1610.5 422.1 1610.1 424.1 1610.1 425.1 1610.6 426.1 1610.1 427.1 1610.5 428.1 1610.2 429.1 1610.6 430.1 1610.1 431.1 1610.4 433.1 1610.1 435.1 1610.6 436.1 1610.6 440.1 1610.0 441.1 1610.6 443.1 1610.4 444.1 1610.0 446.1 1610.4 452.1 1610.3 453.1 1610.6 454.1 1610.1 455.1 1610.6 457.1 1610.3 458.1 1610.6 459.1 1610.0 460.1 1610.5 461.1 1610.1 462.1 1610.6 463.1 1610.1 464.1 1610.6 467.1 1610.0 469.1 1610.4 473.1 1610.1 474.1 1610.2 475.1 1609.7 476.1 1609.8 477.1 1609.2 478.1 1610.0 479.1 1610.0 480.1 1610.6 481.1 1610.1 483.1 1610.3 484.1 1610.0 487.1 1610.6 492.1 1610.6 493.1 1610.1 495.1 1610.4 497.1 1610.1 498.1 1610.6 499.1 1610.3 501.1 1610.2 502.1 1610.5 504.1 1610.1 505.1 1610.6 507.1 1610.1 508.1 1610.4 509.1 1610.4 510.1 1610.0 511.1 1610.0 514.1 1610.6 520.1 1610.6 521.1 1610.0 522.1 1610.6 523.1 1610.5 524.1 1610.6 525.1 1610.0 526.1 1610.4 527.1 1610.3 529.1 1610.5 530.1 1610.0 531.1 1610.2 532.1 1610.0 533.1 1610.3 534.1 1610.0 535.1 1610.4 537.1 1610.6 538.1 1610.1 540.1 1610.5 541.1 1610.5 542.1 1610.2 543.1 1610.6 545.1 1610.6 546.1 1610.1 546.9 1610.2 547.4 1609.8 547.9 1608.5 548.6 1600.2 550.1 1553.4 550.4 1549.3 550.6 1549.1 552.1 1592.1 552.9 1605.0 553.4 1607.9 553.9 1608.9 555.1 1609.6 556.1 1609.7 558.1 1610.3 560.1 1610.0 562.1 1610.5 564.1 1610.5 565.1 1610.1 566.1 1610.6 567.1 1610.3 569.1 1610.6 570.1 1610.1 572.1 1610.0 573.1 1610.2 574.9 1610.2 575.4 1609.9 576.9 1607.6 577.4 1607.3 578.1 1608.0 579.1 1609.9 580.1 1610.6 581.1 1610.2 584.1 1610.4 585.1 1610.1 586.1 1610.3 588.1 1610.0 589.1 1610.6 592.1 1610.3 594.1 1610.4 597.9 1609.4 599.9 1610.4 601.1 1610.2 603.1 1610.6 605.1 1610.0 606.1 1610.3 608.1 1610.6 611.1 1610.5 614.1 1610.1 616.1 1610.5 619.1 1610.3 620.1 1610.0 621.1 1610.3 623.1 1610.1 624.1 1610.4 625.1 1610.3 626.1 1609.9 628.1 1610.5 629.1 1610.2 632.1 1610.0 635.1 1610.3 637.4 1609.3 640.6 1609.9 641.1 1609.7 641.6 1608.8 642.9 1604.0 643.4 1602.5 643.6 1602.4 644.1 1603.5 645.1 1608.2 645.6 1609.4 646.1 1610.0 650.1 1610.3 650.6 1610.0 651.4 1608.7 652.4 1605.3 652.9 1604.4 653.4 1604.8 654.9 1609.4 655.4 1610.1 656.1 1610.5 657.1 1610.2 658.1 1610.5 659.1 1610.0 660.1 1610.6 661.1 1610.1 662.6 1610.1 663.4 1609.4 664.6 1606.6 665.1 1606.3 665.6 1606.8 667.1 1610.0 668.4 1610.5 670.1 1610.3 671.1 1610.5 674.1 1610.0 675.1 1610.5 677.1 1610.2 678.9 1609.4 680.6 1610.1 683.1 1610.4 684.1 1610.0 685.1 1610.4 687.1 1610.0 690.1 1610.6 691.1 1610.0 692.1 1610.5 693.1 1610.6 694.1 1610.2 695.1 1610.3 696.1 1610.0 697.1 1610.3 699.1 1608.2 700.1 1609.0 701.1 1610.4 701.6 1610.5 703.1 1610.4 704.1 1610.0 705.1 1610.3 706.1 1610.2 707.1 1610.6 709.1 1610.1 711.1 1610.0 712.1 1610.6 713.1 1610.1 714.1 1610.4 715.1 1610.2 716.1 1610.5 718.1 1610.3 719.1 1610.6 721.1 1610.0 722.1 1610.6 724.4 1609.8 726.1 1608.1 728.1 1610.0 730.1 1610.0 731.1 1610.5 734.1 1610.3 738.1 1610.4 739.1 1610.1 742.1 1610.3 743.1 1610.0 744.1 1610.3 745.1 1610.0 746.1 1610.4 748.1 1610.5 749.1 1610.3 750.1 1610.6 751.9 1610.1 753.1 1608.7 753.9 1608.2 754.4 1608.4 755.9 1610.2 756.6 1610.5 757.1 1610.5 758.1 1609.9 759.1 1610.2 760.6 1609.3 762.1 1609.6 763.1 1610.2 766.1 1610.5 767.1 1610.0 770.1 1610.5 772.1 1610.0 773.1 1610.5 774.1 1610.5 775.1 1610.1 777.1 1610.6 778.1 1610.0 779.1 1610.3 781.1 1610.1 783.1 1610.6 785.1 1610.0 787.1 1610.2 788.1 1610.6 789.1 1610.2 790.1 1610.6 792.1 1610.4 793.1 1610.0 794.1 1610.6 795.1 1610.6 796.1 1610.1 798.1 1610.0 799.1 1610.5 800.1 1610.2 801.1 1610.4 802.1 1610.0 804.1 1610.1 806.1 1610.6 807.1 1610.0 809.1 1610.6 812.1 1610.6 816.1 1610.2 817.1 1610.5 818.1 1610.3 819.1 1610.6 821.1 1610.3 823.1 1610.5 824.1 1610.1 826.1 1610.6 828.1 1610.0 830.1 1610.1 831.1 1610.6 832.1 1610.4 836.1 1610.6 837.1 1610.1 838.1 1610.6 839.1 1610.1 841.1 1610.4 842.1 1610.0 843.1 1610.5 844.1 1610.1 847.1 1610.6 849.1 1610.1 851.1 1610.2 852.1 1610.5 855.1 1610.1 856.1 1610.6 857.1 1610.0 860.1 1610.5 861.1 1610.0 862.1 1610.6 864.1 1610.0 865.1 1610.6 867.1 1610.5 868.1 1610.0 869.1 1610.4 870.1 1610.3 871.1 1610.6 872.1 1610.0 873.1 1610.0 874.1 1610.4 875.1 1610.0 876.1 1610.4 877.1 1610.2 878.1 1610.4 879.1 1610.0 880.1 1610.3 881.1 1610.0 882.1 1610.6 883.1 1610.6 884.1 1610.2 886.1 1610.1 888.1 1610.6 889.1 1610.6 890.1 1610.1 893.1 1610.0 895.1 1610.4 896.1 1610.0 897.1 1610.0 898.1 1610.5 899.1 1610.2 900.1 1610.5 901.1 1610.2 902.1 1610.6 903.1 1610.6 905.1 1610.0 906.1 1610.5 913.1 1610.1 914.1 1610.3 915.1 1610.0 916.1 1610.4 917.1 1610.1 919.1 1610.5 922.1 1610.0 926.1 1610.2 927.1 1609.9 929.1 1609.9 930.1 1609.3 931.1 1609.2 932.1 1609.4 935.1 1607.7 937.1 1607.0 938.1 1606.1 940.1 1605.6 941.1 1605.9 942.4 1605.7 944.1 1606.4 946.1 1607.6 947.1 1607.8 949.9 1609.3 951.1 1609.7 952.4 1609.5 952.9 1609.1 953.4 1607.7 954.4 1602.6 954.6 1602.5 955.6 1608.0 956.4 1610.0 957.1 1609.9 958.1 1610.4 959.1 1609.9 959.9 1610.0 960.4 1608.9 961.1 1605.1 961.4 1604.3 961.6 1604.2 962.9 1609.3 963.1 1609.8 963.6 1610.1 966.1 1610.0 967.1 1610.5 967.6 1610.4 969.9 1609.4 971.1 1610.0 973.1 1610.4 975.6 1610.1 977.9 1609.0 979.1 1609.3 980.1 1610.2 982.1 1610.3 983.6 1608.6 984.1 1608.4 984.6 1608.6 985.9 1609.8 987.4 1610.2"/></defs><use href="#b0" fill="#fff" stroke="none"/><use href="#b0" fill="none" stroke="#00e600"/>
</g>
<text x="11" y="46.5" font-size="39.5">A</text>
<text x="11" y="139.3" font-size="34.5">Bingqiuzi</text>
<text transform="translate(1320.5,440.6) scale(0.925,1)" font-size="31.5">BQZ-14</text>
<text transform="translate(1006.5,724) scale(0.925,1)" font-size="31.5">BQZ-1</text>
<line x1="45.5" y1="758.9" x2="1117" y2="758.9" stroke="#000" stroke-width="2.5"/>
<line x1="1109.2" y1="678.4" x2="1331.5" y2="474.9" stroke="#000" stroke-width="1.4"/>
<text x="2" y="821" font-size="39">B</text>
<text x="5.5" y="914.5" font-size="34.5">Maocigu</text>
<text transform="translate(1320.5,1317.8) scale(0.94,1)" font-size="31.3">MCG-12</text>
<text transform="translate(1005,1622.3) scale(0.94,1)" font-size="31.3">MCG-1</text>
<line x1="1112.4" y1="1567.6" x2="1318.3" y2="1354" stroke="#000" stroke-width="1.4"/>
<g stroke="#000" stroke-width="2.2">
<line x1="33" y1="1649.2" x2="1110" y2="1649.2" stroke-width="2.8"/>
<line x1="34.4" y1="1649" x2="34.4" y2="1665"/>
<line x1="272.9" y1="1649" x2="272.9" y2="1665"/>
<line x1="511.2" y1="1649" x2="511.2" y2="1665"/>
<line x1="750.6" y1="1649" x2="750.6" y2="1665"/>
<line x1="989.8" y1="1649" x2="989.8" y2="1665"/>
<line x1="153.7" y1="1649" x2="153.7" y2="1657.5"/>
<line x1="392" y1="1649" x2="392" y2="1657.5"/>
<line x1="630.9" y1="1649" x2="630.9" y2="1657.5"/>
<line x1="870.2" y1="1649" x2="870.2" y2="1657.5"/>
<line x1="1108.9" y1="1649" x2="1108.9" y2="1657.5"/>
</g>
<g font-size="31" text-anchor="middle">
<text transform="translate(33.5,1696) scale(0.905,1)">0</text>
<text transform="translate(272.5,1696) scale(0.905,1)">20</text>
<text transform="translate(510.8,1696) scale(0.905,1)">40</text>
<text transform="translate(750.2,1696) scale(0.905,1)">60</text>
<text transform="translate(989.4,1696) scale(0.905,1)">80</text>
</g>
<text x="536.5" y="1771.5" font-size="34.5"><tspan font-style="italic">t</tspan> / min</text>

</svg>
</body></html>
